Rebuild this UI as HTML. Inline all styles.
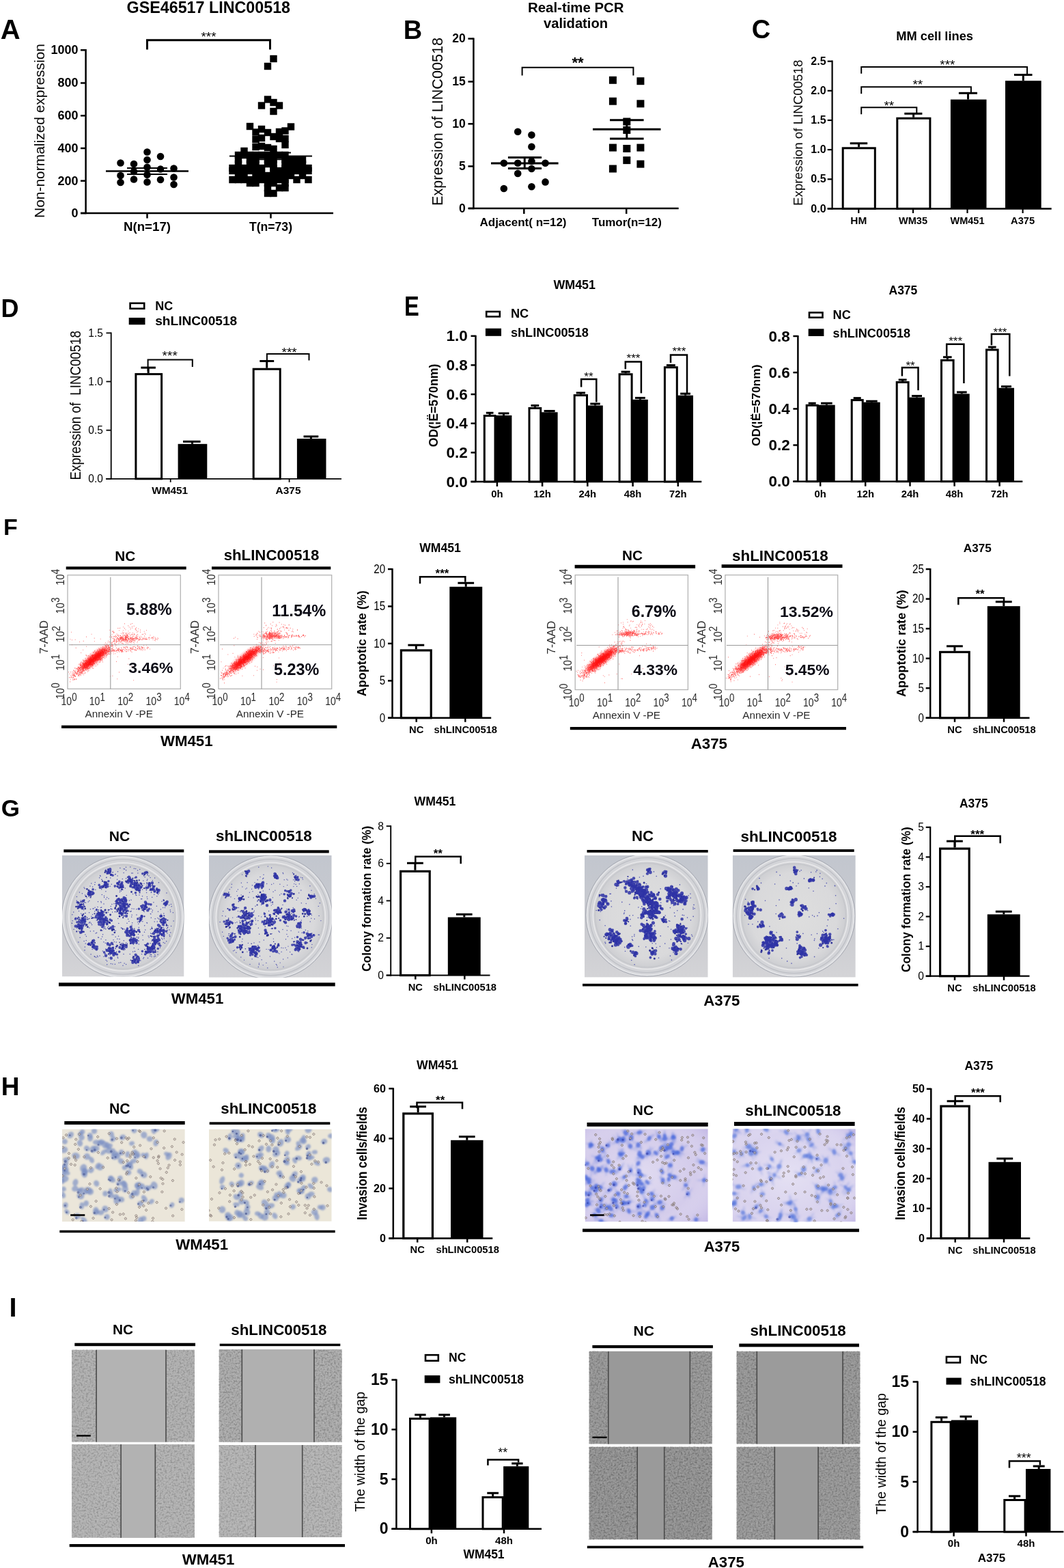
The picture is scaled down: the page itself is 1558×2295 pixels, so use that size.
<!DOCTYPE html>
<html><head><meta charset="utf-8"><title>Figure</title>
<style>
html,body{margin:0;padding:0;background:#fff;}
svg{display:block;}
text{font-family:"Liberation Sans", Arial, sans-serif;}
</style></head><body>
<svg width="1558" height="2295" viewBox="0 0 1558 2295">
<defs>
<filter id="blur2" x="-50%" y="-50%" width="200%" height="200%"><feGaussianBlur stdDeviation="3"/></filter>
<filter id="blur1" x="-50%" y="-50%" width="200%" height="200%"><feGaussianBlur stdDeviation="1.2"/></filter>
<filter id="blur05" x="-50%" y="-50%" width="200%" height="200%"><feGaussianBlur stdDeviation="0.6"/></filter>
<clipPath id="fc1"><rect x="99.0" y="841.7" width="165.3" height="166.6"/></clipPath>
<clipPath id="fc2"><rect x="320.0" y="841.7" width="165.7" height="166.6"/></clipPath>
<clipPath id="fc3"><rect x="842.2" y="841.6" width="165.2" height="167.9"/></clipPath>
<clipPath id="fc4"><rect x="1061.9" y="841.6" width="164.8" height="167.9"/></clipPath>
<linearGradient id="plbg" x1="0" y1="0" x2="0" y2="1"><stop offset="0" stop-color="#c2c6ce"/><stop offset="0.6" stop-color="#cacbd0"/><stop offset="1" stop-color="#d4d4d7"/></linearGradient>
<radialGradient id="plin" cx="0.5" cy="0.5" r="0.5"><stop offset="0" stop-color="#dedede"/><stop offset="0.8" stop-color="#d9d9db"/><stop offset="1" stop-color="#cbccd0"/></radialGradient>
<filter id="blur15" x="-50%" y="-50%" width="200%" height="200%"><feGaussianBlur stdDeviation="1.6"/></filter>
<filter id="tex" x="0" y="0" width="1" height="1" filterUnits="objectBoundingBox"><feTurbulence type="fractalNoise" baseFrequency="0.38" numOctaves="2" seed="5"/><feColorMatrix type="matrix" values="0 0 0 0 0  0 0 0 0 0  0 0 0 0 0  2.6 0 0 0 -1.15"/></filter>
<filter id="texL" x="0" y="0" width="1" height="1" filterUnits="objectBoundingBox"><feTurbulence type="fractalNoise" baseFrequency="0.4" numOctaves="2" seed="11"/><feColorMatrix type="matrix" values="0 0 0 0 1  0 0 0 0 1  0 0 0 0 1  2.4 0 0 0 -1.1"/></filter>
<clipPath id="pl21"><rect x="91.0" y="1252.0" width="178.5" height="177.4"/></clipPath>
<clipPath id="pl22"><rect x="306.0" y="1252.0" width="179.7" height="178.7"/></clipPath>
<clipPath id="pl23"><rect x="856.0" y="1252.0" width="180.7" height="178.6"/></clipPath>
<clipPath id="pl24"><rect x="1072.7" y="1252.0" width="180.1" height="178.6"/></clipPath>
<clipPath id="iv41"><rect x="91.0" y="1652.6" width="179.8" height="135.4"/></clipPath>
<clipPath id="iv42"><rect x="306.0" y="1652.7" width="179.7" height="135.0"/></clipPath>
<radialGradient id="lavg" cx="0.45" cy="0.5" r="0.75"><stop offset="0" stop-color="#ffffff" stop-opacity="0.3"/><stop offset="0.6" stop-color="#ffffff" stop-opacity="0"/><stop offset="1" stop-color="#a898dc" stop-opacity="0.45"/></radialGradient>
<clipPath id="iv43"><rect x="856.6" y="1652.3" width="180.1" height="135.9"/></clipPath>
<clipPath id="iv44"><rect x="1072.7" y="1652.3" width="180.1" height="135.9"/></clipPath>
</defs>
<rect width="1558" height="2295" fill="#fff"/>
<text x="0.8" y="57.0" font-size="40.00" font-weight="bold">A</text>
<text x="305.3" y="19.0" font-size="23.29" font-weight="bold" text-anchor="middle" textLength="239.5" lengthAdjust="spacingAndGlyphs">GSE46517 LINC00518</text>
<line x1="125.6" y1="72.0" x2="125.6" y2="313.2" stroke="#000" stroke-width="2.5"/>
<line x1="118.0" y1="312.0" x2="488.0" y2="312.0" stroke="#000" stroke-width="2.5"/>
<line x1="118.0" y1="73.3" x2="125.6" y2="73.3" stroke="#000" stroke-width="2.5"/>
<text x="114.6" y="79.2" font-size="18.00" font-weight="bold" text-anchor="end">1000</text>
<line x1="118.0" y1="121.5" x2="125.6" y2="121.5" stroke="#000" stroke-width="2.5"/>
<text x="114.6" y="127.4" font-size="18.00" font-weight="bold" text-anchor="end">800</text>
<line x1="118.0" y1="169.3" x2="125.6" y2="169.3" stroke="#000" stroke-width="2.5"/>
<text x="114.6" y="175.2" font-size="18.00" font-weight="bold" text-anchor="end">600</text>
<line x1="118.0" y1="217.0" x2="125.6" y2="217.0" stroke="#000" stroke-width="2.5"/>
<text x="114.6" y="222.9" font-size="18.00" font-weight="bold" text-anchor="end">400</text>
<line x1="118.0" y1="264.7" x2="125.6" y2="264.7" stroke="#000" stroke-width="2.5"/>
<text x="114.6" y="270.6" font-size="18.00" font-weight="bold" text-anchor="end">200</text>
<line x1="118.0" y1="312.0" x2="125.6" y2="312.0" stroke="#000" stroke-width="2.5"/>
<text x="114.6" y="317.9" font-size="18.00" font-weight="bold" text-anchor="end">0</text>
<line x1="215.5" y1="312.0" x2="215.5" y2="319.5" stroke="#000" stroke-width="2.5"/>
<line x1="396.5" y1="312.0" x2="396.5" y2="319.5" stroke="#000" stroke-width="2.5"/>
<text x="215.5" y="337.5" font-size="18.67" font-weight="bold" text-anchor="middle" textLength="69.0" lengthAdjust="spacingAndGlyphs">N(n=17)</text>
<text x="396.5" y="337.5" font-size="17.58" font-weight="bold" text-anchor="middle" textLength="63.0" lengthAdjust="spacingAndGlyphs">T(n=73)</text>
<text x="64.5" y="191.5" font-size="20.95" text-anchor="middle" textLength="255.0" lengthAdjust="spacingAndGlyphs" transform="rotate(-90 64.5 191.5)">Non-normalized expression</text>
<path d="M215.5,72.5 V58.7 H395.5 V72.5" stroke="#000" stroke-width="3.0" fill="none"/>
<text x="305.5" y="59.6" font-size="19.00" text-anchor="middle">***</text>
<circle cx="176.5" cy="238.5" r="5.3"/>
<circle cx="176.5" cy="257.0" r="5.3"/>
<circle cx="176.5" cy="267.0" r="5.3"/>
<circle cx="196.0" cy="240.0" r="5.3"/>
<circle cx="196.0" cy="251.0" r="5.3"/>
<circle cx="196.0" cy="262.5" r="5.3"/>
<circle cx="215.5" cy="222.5" r="5.3"/>
<circle cx="215.5" cy="234.0" r="5.3"/>
<circle cx="215.5" cy="244.7" r="5.3"/>
<circle cx="215.5" cy="255.7" r="5.3"/>
<circle cx="215.5" cy="266.5" r="5.3"/>
<circle cx="235.0" cy="229.0" r="5.3"/>
<circle cx="235.0" cy="247.5" r="5.3"/>
<circle cx="235.0" cy="263.0" r="5.3"/>
<circle cx="254.5" cy="246.5" r="5.3"/>
<circle cx="254.5" cy="259.5" r="5.3"/>
<circle cx="254.5" cy="270.0" r="5.3"/>
<line x1="155.0" y1="250.5" x2="276.0" y2="250.5" stroke="#000" stroke-width="2.5"/>
<line x1="186.0" y1="246.0" x2="245.0" y2="246.0" stroke="#000" stroke-width="2.0"/>
<line x1="186.0" y1="255.0" x2="245.0" y2="255.0" stroke="#000" stroke-width="2.0"/>
<line x1="215.5" y1="246.0" x2="215.5" y2="255.0" stroke="#000" stroke-width="2.0"/>
<rect x="395.3" y="80.8" width="10.4" height="10.4" fill="#000"/>
<rect x="386.8" y="91.8" width="10.4" height="10.4" fill="#000"/>
<rect x="386.8" y="140.3" width="10.4" height="10.4" fill="#000"/>
<rect x="395.3" y="144.8" width="10.4" height="10.4" fill="#000"/>
<rect x="377.8" y="149.3" width="10.4" height="10.4" fill="#000"/>
<rect x="403.8" y="149.3" width="10.4" height="10.4" fill="#000"/>
<rect x="395.3" y="157.8" width="10.4" height="10.4" fill="#000"/>
<rect x="360.8" y="179.8" width="10.4" height="10.4" fill="#000"/>
<rect x="420.8" y="180.3" width="10.4" height="10.4" fill="#000"/>
<rect x="377.8" y="183.8" width="10.4" height="10.4" fill="#000"/>
<rect x="369.3" y="188.3" width="10.4" height="10.4" fill="#000"/>
<rect x="386.8" y="188.8" width="10.4" height="10.4" fill="#000"/>
<rect x="403.8" y="187.8" width="10.4" height="10.4" fill="#000"/>
<rect x="412.3" y="186.3" width="10.4" height="10.4" fill="#000"/>
<rect x="395.3" y="194.8" width="10.4" height="10.4" fill="#000"/>
<rect x="369.3" y="198.8" width="10.4" height="10.4" fill="#000"/>
<rect x="377.8" y="196.8" width="10.4" height="10.4" fill="#000"/>
<rect x="403.8" y="197.8" width="10.4" height="10.4" fill="#000"/>
<rect x="412.3" y="197.8" width="10.4" height="10.4" fill="#000"/>
<rect x="412.3" y="206.8" width="10.4" height="10.4" fill="#000"/>
<rect x="369.3" y="209.8" width="10.4" height="10.4" fill="#000"/>
<rect x="377.8" y="208.8" width="10.4" height="10.4" fill="#000"/>
<rect x="386.8" y="210.8" width="10.4" height="10.4" fill="#000"/>
<rect x="395.3" y="212.8" width="10.4" height="10.4" fill="#000"/>
<rect x="352.3" y="215.8" width="10.4" height="10.4" fill="#000"/>
<rect x="343.8" y="221.8" width="10.4" height="10.4" fill="#000"/>
<rect x="352.3" y="221.8" width="10.4" height="10.4" fill="#000"/>
<rect x="360.8" y="221.8" width="10.4" height="10.4" fill="#000"/>
<rect x="369.3" y="221.8" width="10.4" height="10.4" fill="#000"/>
<rect x="377.8" y="221.8" width="10.4" height="10.4" fill="#000"/>
<rect x="386.8" y="221.8" width="10.4" height="10.4" fill="#000"/>
<rect x="395.3" y="221.8" width="10.4" height="10.4" fill="#000"/>
<rect x="403.8" y="221.8" width="10.4" height="10.4" fill="#000"/>
<rect x="412.3" y="221.8" width="10.4" height="10.4" fill="#000"/>
<rect x="343.8" y="228.8" width="10.4" height="10.4" fill="#000"/>
<rect x="360.8" y="228.8" width="10.4" height="10.4" fill="#000"/>
<rect x="369.3" y="228.8" width="10.4" height="10.4" fill="#000"/>
<rect x="386.8" y="228.8" width="10.4" height="10.4" fill="#000"/>
<rect x="395.3" y="228.8" width="10.4" height="10.4" fill="#000"/>
<rect x="412.3" y="228.8" width="10.4" height="10.4" fill="#000"/>
<rect x="420.8" y="228.8" width="10.4" height="10.4" fill="#000"/>
<rect x="429.3" y="228.8" width="10.4" height="10.4" fill="#000"/>
<rect x="437.8" y="228.8" width="10.4" height="10.4" fill="#000"/>
<rect x="343.8" y="234.8" width="10.4" height="10.4" fill="#000"/>
<rect x="360.8" y="234.8" width="10.4" height="10.4" fill="#000"/>
<rect x="369.3" y="234.8" width="10.4" height="10.4" fill="#000"/>
<rect x="386.8" y="234.8" width="10.4" height="10.4" fill="#000"/>
<rect x="395.3" y="234.8" width="10.4" height="10.4" fill="#000"/>
<rect x="412.3" y="234.8" width="10.4" height="10.4" fill="#000"/>
<rect x="420.8" y="234.8" width="10.4" height="10.4" fill="#000"/>
<rect x="429.3" y="234.8" width="10.4" height="10.4" fill="#000"/>
<rect x="437.8" y="234.8" width="10.4" height="10.4" fill="#000"/>
<rect x="335.3" y="240.8" width="10.4" height="10.4" fill="#000"/>
<rect x="343.8" y="240.8" width="10.4" height="10.4" fill="#000"/>
<rect x="352.3" y="240.8" width="10.4" height="10.4" fill="#000"/>
<rect x="369.3" y="240.8" width="10.4" height="10.4" fill="#000"/>
<rect x="377.8" y="240.8" width="10.4" height="10.4" fill="#000"/>
<rect x="395.3" y="240.8" width="10.4" height="10.4" fill="#000"/>
<rect x="412.3" y="240.8" width="10.4" height="10.4" fill="#000"/>
<rect x="420.8" y="240.8" width="10.4" height="10.4" fill="#000"/>
<rect x="429.3" y="240.8" width="10.4" height="10.4" fill="#000"/>
<rect x="446.3" y="240.8" width="10.4" height="10.4" fill="#000"/>
<rect x="335.3" y="244.8" width="10.4" height="10.4" fill="#000"/>
<rect x="343.8" y="244.8" width="10.4" height="10.4" fill="#000"/>
<rect x="352.3" y="244.8" width="10.4" height="10.4" fill="#000"/>
<rect x="360.8" y="244.8" width="10.4" height="10.4" fill="#000"/>
<rect x="369.3" y="244.8" width="10.4" height="10.4" fill="#000"/>
<rect x="377.8" y="244.8" width="10.4" height="10.4" fill="#000"/>
<rect x="395.3" y="244.8" width="10.4" height="10.4" fill="#000"/>
<rect x="403.8" y="244.8" width="10.4" height="10.4" fill="#000"/>
<rect x="412.3" y="244.8" width="10.4" height="10.4" fill="#000"/>
<rect x="420.8" y="244.8" width="10.4" height="10.4" fill="#000"/>
<rect x="429.3" y="244.8" width="10.4" height="10.4" fill="#000"/>
<rect x="437.8" y="244.8" width="10.4" height="10.4" fill="#000"/>
<rect x="446.3" y="244.8" width="10.4" height="10.4" fill="#000"/>
<rect x="343.8" y="251.8" width="10.4" height="10.4" fill="#000"/>
<rect x="352.3" y="251.8" width="10.4" height="10.4" fill="#000"/>
<rect x="369.3" y="251.8" width="10.4" height="10.4" fill="#000"/>
<rect x="377.8" y="251.8" width="10.4" height="10.4" fill="#000"/>
<rect x="386.8" y="251.8" width="10.4" height="10.4" fill="#000"/>
<rect x="395.3" y="251.8" width="10.4" height="10.4" fill="#000"/>
<rect x="403.8" y="251.8" width="10.4" height="10.4" fill="#000"/>
<rect x="412.3" y="251.8" width="10.4" height="10.4" fill="#000"/>
<rect x="420.8" y="251.8" width="10.4" height="10.4" fill="#000"/>
<rect x="437.8" y="251.8" width="10.4" height="10.4" fill="#000"/>
<rect x="335.3" y="257.8" width="10.4" height="10.4" fill="#000"/>
<rect x="343.8" y="257.8" width="10.4" height="10.4" fill="#000"/>
<rect x="352.3" y="257.8" width="10.4" height="10.4" fill="#000"/>
<rect x="360.8" y="257.8" width="10.4" height="10.4" fill="#000"/>
<rect x="369.3" y="257.8" width="10.4" height="10.4" fill="#000"/>
<rect x="377.8" y="257.8" width="10.4" height="10.4" fill="#000"/>
<rect x="386.8" y="257.8" width="10.4" height="10.4" fill="#000"/>
<rect x="395.3" y="257.8" width="10.4" height="10.4" fill="#000"/>
<rect x="403.8" y="257.8" width="10.4" height="10.4" fill="#000"/>
<rect x="412.3" y="257.8" width="10.4" height="10.4" fill="#000"/>
<rect x="429.3" y="257.8" width="10.4" height="10.4" fill="#000"/>
<rect x="446.3" y="257.8" width="10.4" height="10.4" fill="#000"/>
<rect x="360.8" y="262.8" width="10.4" height="10.4" fill="#000"/>
<rect x="369.3" y="262.8" width="10.4" height="10.4" fill="#000"/>
<rect x="386.8" y="262.8" width="10.4" height="10.4" fill="#000"/>
<rect x="395.3" y="262.8" width="10.4" height="10.4" fill="#000"/>
<rect x="412.3" y="262.8" width="10.4" height="10.4" fill="#000"/>
<rect x="386.8" y="269.8" width="10.4" height="10.4" fill="#000"/>
<rect x="403.8" y="269.8" width="10.4" height="10.4" fill="#000"/>
<rect x="412.3" y="269.8" width="10.4" height="10.4" fill="#000"/>
<rect x="386.8" y="277.8" width="10.4" height="10.4" fill="#000"/>
<rect x="395.3" y="277.8" width="10.4" height="10.4" fill="#000"/>
<line x1="336.0" y1="228.6" x2="457.0" y2="228.6" stroke="#000" stroke-width="2.0"/>
<line x1="372.0" y1="223.4" x2="426.0" y2="223.4" stroke="#000" stroke-width="2.0"/>
<line x1="372.0" y1="233.2" x2="426.0" y2="233.2" stroke="#000" stroke-width="2.0"/>
<text x="590.7" y="56.6" font-size="38.00" font-weight="bold">B</text>
<text x="843.3" y="18.0" font-size="20.40" font-weight="bold" text-anchor="middle" textLength="140.6" lengthAdjust="spacingAndGlyphs">Real-time PCR</text>
<text x="843.0" y="41.0" font-size="20.14" font-weight="bold" text-anchor="middle" textLength="94.0" lengthAdjust="spacingAndGlyphs">validation</text>
<line x1="693.4" y1="55.5" x2="693.4" y2="306.2" stroke="#000" stroke-width="2.5"/>
<line x1="686.0" y1="305.0" x2="993.7" y2="305.0" stroke="#000" stroke-width="2.5"/>
<line x1="685.4" y1="56.6" x2="693.4" y2="56.6" stroke="#000" stroke-width="2.5"/>
<text x="681.8" y="62.3" font-size="17.50" font-weight="bold" text-anchor="end">20</text>
<line x1="685.4" y1="119.5" x2="693.4" y2="119.5" stroke="#000" stroke-width="2.5"/>
<text x="681.8" y="125.2" font-size="17.50" font-weight="bold" text-anchor="end">15</text>
<line x1="685.4" y1="181.3" x2="693.4" y2="181.3" stroke="#000" stroke-width="2.5"/>
<text x="681.8" y="187.0" font-size="17.50" font-weight="bold" text-anchor="end">10</text>
<line x1="685.4" y1="243.4" x2="693.4" y2="243.4" stroke="#000" stroke-width="2.5"/>
<text x="681.8" y="249.1" font-size="17.50" font-weight="bold" text-anchor="end">5</text>
<line x1="685.4" y1="305.0" x2="693.4" y2="305.0" stroke="#000" stroke-width="2.5"/>
<text x="681.8" y="310.7" font-size="17.50" font-weight="bold" text-anchor="end">0</text>
<line x1="767.3" y1="305.0" x2="767.3" y2="313.0" stroke="#000" stroke-width="2.5"/>
<line x1="917.2" y1="305.0" x2="917.2" y2="313.0" stroke="#000" stroke-width="2.5"/>
<text x="766.0" y="331.0" font-size="16.99" font-weight="bold" text-anchor="middle" textLength="127.0" lengthAdjust="spacingAndGlyphs">Adjacent( n=12)</text>
<text x="917.8" y="331.0" font-size="16.77" font-weight="bold" text-anchor="middle" textLength="102.0" lengthAdjust="spacingAndGlyphs">Tumor(n=12)</text>
<text x="647.5" y="178.0" font-size="21.59" text-anchor="middle" textLength="246.0" lengthAdjust="spacingAndGlyphs" transform="rotate(-90 647.5 178.0)">Expression of LINC00518</text>
<path d="M764.6,110.4 V98.8 H927.4 V110.4" stroke="#000" stroke-width="2.0" fill="none"/>
<text x="846.0" y="99.3" font-size="22.00" font-weight="bold" text-anchor="middle">**</text>
<circle cx="758.2" cy="192.7" r="5.3"/>
<circle cx="778.4" cy="197.6" r="5.3"/>
<circle cx="778.4" cy="214.7" r="5.3"/>
<circle cx="737.8" cy="238.8" r="5.3"/>
<circle cx="758.2" cy="238.8" r="5.3"/>
<circle cx="778.4" cy="236.0" r="5.3"/>
<circle cx="798.5" cy="238.8" r="5.3"/>
<circle cx="758.2" cy="253.9" r="5.3"/>
<circle cx="778.4" cy="247.0" r="5.3"/>
<circle cx="798.5" cy="266.4" r="5.3"/>
<circle cx="737.8" cy="276.0" r="5.3"/>
<circle cx="778.4" cy="273.2" r="5.3"/>
<line x1="719.0" y1="239.0" x2="817.6" y2="239.0" stroke="#000" stroke-width="3.0"/>
<line x1="743.9" y1="230.5" x2="793.0" y2="230.5" stroke="#000" stroke-width="3.0"/>
<line x1="743.9" y1="246.5" x2="793.0" y2="246.5" stroke="#000" stroke-width="3.0"/>
<line x1="768.2" y1="230.5" x2="768.2" y2="246.5" stroke="#000" stroke-width="3.0"/>
<rect x="891.9" y="111.8" width="11.0" height="11.0" fill="#000"/>
<rect x="932.4" y="113.2" width="11.0" height="11.0" fill="#000"/>
<rect x="891.9" y="142.7" width="11.0" height="11.0" fill="#000"/>
<rect x="932.4" y="146.3" width="11.0" height="11.0" fill="#000"/>
<rect x="912.3" y="172.5" width="11.0" height="11.0" fill="#000"/>
<rect x="912.3" y="184.9" width="11.0" height="11.0" fill="#000"/>
<rect x="891.9" y="210.6" width="11.0" height="11.0" fill="#000"/>
<rect x="912.3" y="212.0" width="11.0" height="11.0" fill="#000"/>
<rect x="932.4" y="210.6" width="11.0" height="11.0" fill="#000"/>
<rect x="912.3" y="229.1" width="11.0" height="11.0" fill="#000"/>
<rect x="932.4" y="234.6" width="11.0" height="11.0" fill="#000"/>
<rect x="891.9" y="241.5" width="11.0" height="11.0" fill="#000"/>
<line x1="868.0" y1="189.3" x2="967.5" y2="189.3" stroke="#000" stroke-width="3.0"/>
<line x1="893.0" y1="175.8" x2="942.6" y2="175.8" stroke="#000" stroke-width="3.0"/>
<line x1="893.0" y1="202.9" x2="942.6" y2="202.9" stroke="#000" stroke-width="3.0"/>
<line x1="917.8" y1="175.8" x2="917.8" y2="202.9" stroke="#000" stroke-width="3.0"/>
<text x="1100.8" y="55.8" font-size="38.00" font-weight="bold">C</text>
<text x="1368.6" y="59.0" font-size="18.27" font-weight="bold" text-anchor="middle" textLength="112.7" lengthAdjust="spacingAndGlyphs">MM cell lines</text>
<line x1="1218.6" y1="88.5" x2="1218.6" y2="306.5" stroke="#000" stroke-width="2.2"/>
<line x1="1211.7" y1="305.4" x2="1539.7" y2="305.4" stroke="#000" stroke-width="2.5"/>
<line x1="1211.7" y1="89.7" x2="1218.6" y2="89.7" stroke="#000" stroke-width="2.2"/>
<text x="1209.6" y="94.9" font-size="16.00" font-weight="bold" text-anchor="end">2.5</text>
<line x1="1211.7" y1="132.8" x2="1218.6" y2="132.8" stroke="#000" stroke-width="2.2"/>
<text x="1209.6" y="138.0" font-size="16.00" font-weight="bold" text-anchor="end">2.0</text>
<line x1="1211.7" y1="176.0" x2="1218.6" y2="176.0" stroke="#000" stroke-width="2.2"/>
<text x="1209.6" y="181.1" font-size="16.00" font-weight="bold" text-anchor="end">1.5</text>
<line x1="1211.7" y1="219.1" x2="1218.6" y2="219.1" stroke="#000" stroke-width="2.2"/>
<text x="1209.6" y="224.3" font-size="16.00" font-weight="bold" text-anchor="end">1.0</text>
<line x1="1211.7" y1="262.3" x2="1218.6" y2="262.3" stroke="#000" stroke-width="2.2"/>
<text x="1209.6" y="267.4" font-size="16.00" font-weight="bold" text-anchor="end">0.5</text>
<line x1="1211.7" y1="305.4" x2="1218.6" y2="305.4" stroke="#000" stroke-width="2.2"/>
<text x="1209.6" y="310.6" font-size="16.00" font-weight="bold" text-anchor="end">0.0</text>
<rect x="1234.2" y="216.8" width="47.1" height="88.6" fill="#fff" stroke="#000" stroke-width="3.0"/>
<rect x="1313.8" y="173.2" width="48.1" height="132.2" fill="#fff" stroke="#000" stroke-width="3.0"/>
<rect x="1391.9" y="145.6" width="52.6" height="159.8" fill="#000"/>
<rect x="1472.0" y="118.2" width="52.7" height="187.2" fill="#000"/>
<line x1="1257.5" y1="215.3" x2="1257.5" y2="209.8" stroke="#000" stroke-width="3.0"/>
<line x1="1244.7" y1="209.8" x2="1270.2" y2="209.8" stroke="#000" stroke-width="3.0"/>
<line x1="1337.6" y1="171.7" x2="1337.6" y2="166.3" stroke="#000" stroke-width="3.0"/>
<line x1="1324.3" y1="166.3" x2="1350.4" y2="166.3" stroke="#000" stroke-width="3.0"/>
<line x1="1417.5" y1="145.6" x2="1417.5" y2="136.3" stroke="#000" stroke-width="3.0"/>
<line x1="1403.9" y1="136.3" x2="1431.0" y2="136.3" stroke="#000" stroke-width="3.0"/>
<line x1="1498.3" y1="118.2" x2="1498.3" y2="109.5" stroke="#000" stroke-width="3.0"/>
<line x1="1485.0" y1="109.5" x2="1511.5" y2="109.5" stroke="#000" stroke-width="3.0"/>
<path d="M1261.2,167.2 V157.3 H1342.3 V166" stroke="#000" stroke-width="2.0" fill="none"/>
<path d="M1261.2,137.2 V127.2 H1421.9 V136" stroke="#000" stroke-width="2.0" fill="none"/>
<path d="M1261.2,107.7 V98.1 H1504 V109" stroke="#000" stroke-width="2.0" fill="none"/>
<text x="1301.8" y="160.8" font-size="19.00" text-anchor="middle">**</text>
<text x="1343.8" y="129.8" font-size="19.00" text-anchor="middle">**</text>
<text x="1387.4" y="100.7" font-size="19.00" text-anchor="middle">***</text>
<line x1="1257.3" y1="305.4" x2="1257.3" y2="312.0" stroke="#000" stroke-width="2.2"/>
<text x="1257.3" y="327.9" font-size="15.43" font-weight="bold" text-anchor="middle" textLength="24.0" lengthAdjust="spacingAndGlyphs">HM</text>
<line x1="1337.0" y1="305.4" x2="1337.0" y2="312.0" stroke="#000" stroke-width="2.2"/>
<text x="1337.0" y="327.9" font-size="14.54" font-weight="bold" text-anchor="middle" textLength="42.0" lengthAdjust="spacingAndGlyphs">WM35</text>
<line x1="1416.5" y1="305.4" x2="1416.5" y2="312.0" stroke="#000" stroke-width="2.2"/>
<text x="1416.5" y="327.9" font-size="14.51" font-weight="bold" text-anchor="middle" textLength="50.0" lengthAdjust="spacingAndGlyphs">WM451</text>
<line x1="1497.6" y1="305.4" x2="1497.6" y2="312.0" stroke="#000" stroke-width="2.2"/>
<text x="1497.6" y="327.9" font-size="14.64" font-weight="bold" text-anchor="middle" textLength="35.0" lengthAdjust="spacingAndGlyphs">A375</text>
<text x="1175.3" y="194.3" font-size="18.72" text-anchor="middle" textLength="213.3" lengthAdjust="spacingAndGlyphs" transform="rotate(-90 1175.3 194.3)">Expression of LINC00518</text>
<text x="1.6" y="464.0" font-size="36.00" font-weight="bold">D</text>
<rect x="190.6" y="443.8" width="20.6" height="7.9" fill="#fff" stroke="#000" stroke-width="2.6"/>
<text x="227.2" y="453.7" font-size="18.00" font-weight="bold" textLength="26.0" lengthAdjust="spacingAndGlyphs">NC</text>
<rect x="188.7" y="465.0" width="23.8" height="10.2" fill="#000"/>
<text x="227.2" y="475.5" font-size="19.11" font-weight="bold" textLength="120.0" lengthAdjust="spacingAndGlyphs">shLINC00518</text>
<line x1="162.7" y1="486.5" x2="162.7" y2="701.5" stroke="#000" stroke-width="1.8"/>
<line x1="155.0" y1="700.8" x2="500.0" y2="700.8" stroke="#000" stroke-width="1.8"/>
<line x1="155.5" y1="487.4" x2="162.7" y2="487.4" stroke="#000" stroke-width="1.8"/>
<text x="150.8" y="492.7" font-size="16.50" text-anchor="end" textLength="21.5" lengthAdjust="spacingAndGlyphs">1.5</text>
<line x1="155.5" y1="558.5" x2="162.7" y2="558.5" stroke="#000" stroke-width="1.8"/>
<text x="150.8" y="563.9" font-size="16.50" text-anchor="end" textLength="21.5" lengthAdjust="spacingAndGlyphs">1.0</text>
<line x1="155.5" y1="629.7" x2="162.7" y2="629.7" stroke="#000" stroke-width="1.8"/>
<text x="150.8" y="635.0" font-size="16.50" text-anchor="end" textLength="21.5" lengthAdjust="spacingAndGlyphs">0.5</text>
<line x1="155.5" y1="700.8" x2="162.7" y2="700.8" stroke="#000" stroke-width="1.8"/>
<text x="150.8" y="706.1" font-size="16.50" text-anchor="end" textLength="21.5" lengthAdjust="spacingAndGlyphs">0.0</text>
<rect x="198.9" y="547.6" width="37.7" height="153.2" fill="#fff" stroke="#000" stroke-width="3.0"/>
<rect x="260.6" y="649.8" width="42.7" height="51.0" fill="#000"/>
<rect x="371.2" y="540.2" width="39.0" height="160.6" fill="#fff" stroke="#000" stroke-width="3.0"/>
<rect x="434.9" y="642.1" width="42.6" height="58.7" fill="#000"/>
<line x1="217.2" y1="546.1" x2="217.2" y2="538.1" stroke="#000" stroke-width="3.0"/>
<line x1="206.4" y1="538.1" x2="227.9" y2="538.1" stroke="#000" stroke-width="3.0"/>
<line x1="281.5" y1="649.8" x2="281.5" y2="646.3" stroke="#000" stroke-width="3.0"/>
<line x1="268.0" y1="646.3" x2="293.6" y2="646.3" stroke="#000" stroke-width="3.0"/>
<line x1="390.7" y1="538.7" x2="390.7" y2="528.5" stroke="#000" stroke-width="3.0"/>
<line x1="380.3" y1="528.5" x2="401.2" y2="528.5" stroke="#000" stroke-width="3.0"/>
<line x1="455.4" y1="642.1" x2="455.4" y2="638.9" stroke="#000" stroke-width="3.0"/>
<line x1="444.5" y1="638.9" x2="466.3" y2="638.9" stroke="#000" stroke-width="3.0"/>
<path d="M216.6,543.6 V526.5 H281.8 V537.1" stroke="#000" stroke-width="2.0" fill="none"/>
<path d="M390.9,527.5 V517.9 H452.5 V527.5" stroke="#000" stroke-width="2.0" fill="none"/>
<text x="248.7" y="527.1" font-size="19.00" text-anchor="middle">***</text>
<text x="423.6" y="522.1" font-size="19.00" text-anchor="middle">***</text>
<line x1="249.7" y1="700.8" x2="249.7" y2="705.8" stroke="#000" stroke-width="1.8"/>
<line x1="423.6" y1="700.8" x2="423.6" y2="705.8" stroke="#000" stroke-width="1.8"/>
<text x="248.7" text-anchor="middle" y="723.3" font-size="15.38" font-weight="bold" textLength="53.0" lengthAdjust="spacingAndGlyphs">WM451</text>
<text x="422.0" y="723.3" font-size="15.48" font-weight="bold" text-anchor="middle" textLength="37.0" lengthAdjust="spacingAndGlyphs">A375</text>
<text x="117.6" y="593.2" font-size="22.09" text-anchor="middle" textLength="218.4" lengthAdjust="spacingAndGlyphs" transform="rotate(-90 117.6 593.2)" xml:space="preserve">Expression of  LINC00518</text>
<line x1="696.5" y1="490.8" x2="696.5" y2="706.0" stroke="#000" stroke-width="2.5"/>
<line x1="689.5" y1="705.0" x2="1027.3" y2="705.0" stroke="#000" stroke-width="2.5"/>
<line x1="689.5" y1="491.8" x2="696.5" y2="491.8" stroke="#000" stroke-width="2.5"/>
<text x="684.7" y="499.3" font-size="22.50" font-weight="bold" text-anchor="end">1.0</text>
<line x1="689.5" y1="534.4" x2="696.5" y2="534.4" stroke="#000" stroke-width="2.5"/>
<text x="684.7" y="541.9" font-size="22.50" font-weight="bold" text-anchor="end">0.8</text>
<line x1="689.5" y1="577.1" x2="696.5" y2="577.1" stroke="#000" stroke-width="2.5"/>
<text x="684.7" y="584.6" font-size="22.50" font-weight="bold" text-anchor="end">0.6</text>
<line x1="689.5" y1="619.7" x2="696.5" y2="619.7" stroke="#000" stroke-width="2.5"/>
<text x="684.7" y="627.2" font-size="22.50" font-weight="bold" text-anchor="end">0.4</text>
<line x1="689.5" y1="662.4" x2="696.5" y2="662.4" stroke="#000" stroke-width="2.5"/>
<text x="684.7" y="669.9" font-size="22.50" font-weight="bold" text-anchor="end">0.2</text>
<line x1="689.5" y1="705.0" x2="696.5" y2="705.0" stroke="#000" stroke-width="2.5"/>
<text x="684.7" y="712.5" font-size="22.50" font-weight="bold" text-anchor="end">0.0</text>
<rect x="709.3" y="608.5" width="15.7" height="96.5" fill="#fff" stroke="#000" stroke-width="3.0"/>
<rect x="725.7" y="608.0" width="23.7" height="97.0" fill="#000"/>
<line x1="717.1" y1="607.0" x2="717.1" y2="604.3" stroke="#000" stroke-width="3.0"/>
<line x1="711.8" y1="604.3" x2="722.5" y2="604.3" stroke="#000" stroke-width="3.0"/>
<line x1="737.5" y1="608.0" x2="737.5" y2="605.0" stroke="#000" stroke-width="3.0"/>
<line x1="729.7" y1="605.0" x2="745.4" y2="605.0" stroke="#000" stroke-width="3.0"/>
<rect x="775.0" y="597.4" width="16.7" height="107.6" fill="#fff" stroke="#000" stroke-width="3.0"/>
<rect x="792.6" y="603.3" width="24.0" height="101.7" fill="#000"/>
<line x1="783.4" y1="595.9" x2="783.4" y2="593.5" stroke="#000" stroke-width="3.0"/>
<line x1="777.5" y1="593.5" x2="789.2" y2="593.5" stroke="#000" stroke-width="3.0"/>
<line x1="804.6" y1="603.3" x2="804.6" y2="601.5" stroke="#000" stroke-width="3.0"/>
<line x1="796.6" y1="601.5" x2="812.6" y2="601.5" stroke="#000" stroke-width="3.0"/>
<rect x="841.2" y="578.6" width="18.3" height="126.4" fill="#fff" stroke="#000" stroke-width="3.0"/>
<rect x="860.3" y="593.5" width="22.5" height="111.5" fill="#000"/>
<line x1="850.4" y1="577.1" x2="850.4" y2="575.0" stroke="#000" stroke-width="3.0"/>
<line x1="843.7" y1="575.0" x2="857.0" y2="575.0" stroke="#000" stroke-width="3.0"/>
<line x1="871.5" y1="593.5" x2="871.5" y2="591.0" stroke="#000" stroke-width="3.0"/>
<line x1="864.3" y1="591.0" x2="878.8" y2="591.0" stroke="#000" stroke-width="3.0"/>
<rect x="907.1" y="547.8" width="18.0" height="157.2" fill="#fff" stroke="#000" stroke-width="3.0"/>
<rect x="926.0" y="584.8" width="22.8" height="120.2" fill="#000"/>
<line x1="916.1" y1="546.3" x2="916.1" y2="544.2" stroke="#000" stroke-width="3.0"/>
<line x1="909.6" y1="544.2" x2="922.6" y2="544.2" stroke="#000" stroke-width="3.0"/>
<line x1="937.4" y1="584.8" x2="937.4" y2="582.4" stroke="#000" stroke-width="3.0"/>
<line x1="930.0" y1="582.4" x2="944.8" y2="582.4" stroke="#000" stroke-width="3.0"/>
<rect x="973.4" y="537.7" width="17.9" height="167.3" fill="#fff" stroke="#000" stroke-width="3.0"/>
<rect x="992.2" y="578.7" width="22.8" height="126.3" fill="#000"/>
<line x1="982.3" y1="536.2" x2="982.3" y2="534.6" stroke="#000" stroke-width="3.0"/>
<line x1="975.9" y1="534.6" x2="988.8" y2="534.6" stroke="#000" stroke-width="3.0"/>
<line x1="1003.6" y1="578.7" x2="1003.6" y2="576.2" stroke="#000" stroke-width="3.0"/>
<line x1="996.2" y1="576.2" x2="1011.0" y2="576.2" stroke="#000" stroke-width="3.0"/>
<path d="M851.1,566.4 V555 H873.3 V588.5" stroke="#000" stroke-width="2.5" fill="none"/>
<text x="861.9" y="556.5" font-size="17.00" text-anchor="middle">**</text>
<path d="M915.8,540.2 V529.4 H938.9 V575.6" stroke="#000" stroke-width="2.5" fill="none"/>
<text x="927.5" y="529.7" font-size="17.00" text-anchor="middle">***</text>
<path d="M982,531 V519.5 H1006 V575.6" stroke="#000" stroke-width="2.5" fill="none"/>
<text x="994.4" y="519.5" font-size="17.00" text-anchor="middle">***</text>
<line x1="727.9" y1="705.0" x2="727.9" y2="712.0" stroke="#000" stroke-width="2.5"/>
<text x="727.9" y="727.6" font-size="14.80" font-weight="bold" text-anchor="middle" textLength="17.3" lengthAdjust="spacingAndGlyphs">0h</text>
<line x1="794.1" y1="705.0" x2="794.1" y2="712.0" stroke="#000" stroke-width="2.5"/>
<text x="794.1" y="727.6" font-size="14.80" font-weight="bold" text-anchor="middle" textLength="25.5" lengthAdjust="spacingAndGlyphs">12h</text>
<line x1="860.3" y1="705.0" x2="860.3" y2="712.0" stroke="#000" stroke-width="2.5"/>
<text x="860.3" y="727.6" font-size="14.80" font-weight="bold" text-anchor="middle" textLength="25.5" lengthAdjust="spacingAndGlyphs">24h</text>
<line x1="926.6" y1="705.0" x2="926.6" y2="712.0" stroke="#000" stroke-width="2.5"/>
<text x="926.6" y="727.6" font-size="14.80" font-weight="bold" text-anchor="middle" textLength="25.5" lengthAdjust="spacingAndGlyphs">48h</text>
<line x1="992.8" y1="705.0" x2="992.8" y2="712.0" stroke="#000" stroke-width="2.5"/>
<text x="992.8" y="727.6" font-size="14.80" font-weight="bold" text-anchor="middle" textLength="25.5" lengthAdjust="spacingAndGlyphs">72h</text>
<text x="841.2" y="423.1" font-size="17.88" font-weight="bold" text-anchor="middle" textLength="61.6" lengthAdjust="spacingAndGlyphs">WM451</text>
<rect x="712.2" y="456.1" width="19.6" height="7.3" fill="#fff" stroke="#000" stroke-width="2.6"/>
<text x="747.9" y="465.3" font-size="18.15" font-weight="bold" textLength="26.2" lengthAdjust="spacingAndGlyphs">NC</text>
<rect x="710.9" y="480.7" width="23.1" height="11.1" fill="#000"/>
<text x="747.9" y="493.0" font-size="18.15" font-weight="bold" textLength="114.0" lengthAdjust="spacingAndGlyphs">shLINC00518</text>
<text x="641.0" y="593.4" font-size="17.73" font-weight="bold" text-anchor="middle" textLength="121.7" lengthAdjust="spacingAndGlyphs" transform="rotate(-90 641.0 593.4)">OD(¦Ë=570nm)</text>
<line x1="1168.4" y1="491.0" x2="1168.4" y2="705.7" stroke="#000" stroke-width="2.5"/>
<line x1="1161.4" y1="704.7" x2="1497.3" y2="704.7" stroke="#000" stroke-width="2.5"/>
<line x1="1161.4" y1="492.0" x2="1168.4" y2="492.0" stroke="#000" stroke-width="2.5"/>
<text x="1156.7" y="499.5" font-size="22.50" font-weight="bold" text-anchor="end">0.8</text>
<line x1="1161.4" y1="545.2" x2="1168.4" y2="545.2" stroke="#000" stroke-width="2.5"/>
<text x="1156.7" y="552.7" font-size="22.50" font-weight="bold" text-anchor="end">0.6</text>
<line x1="1161.4" y1="598.4" x2="1168.4" y2="598.4" stroke="#000" stroke-width="2.5"/>
<text x="1156.7" y="605.9" font-size="22.50" font-weight="bold" text-anchor="end">0.4</text>
<line x1="1161.4" y1="651.5" x2="1168.4" y2="651.5" stroke="#000" stroke-width="2.5"/>
<text x="1156.7" y="659.0" font-size="22.50" font-weight="bold" text-anchor="end">0.2</text>
<line x1="1161.4" y1="704.7" x2="1168.4" y2="704.7" stroke="#000" stroke-width="2.5"/>
<text x="1156.7" y="712.2" font-size="22.50" font-weight="bold" text-anchor="end">0.0</text>
<rect x="1181.2" y="593.3" width="16.0" height="111.4" fill="#fff" stroke="#000" stroke-width="3.0"/>
<rect x="1198.1" y="592.7" width="24.6" height="112.0" fill="#000"/>
<line x1="1189.2" y1="591.8" x2="1189.2" y2="590.2" stroke="#000" stroke-width="3.0"/>
<line x1="1183.7" y1="590.2" x2="1194.7" y2="590.2" stroke="#000" stroke-width="3.0"/>
<line x1="1210.4" y1="592.7" x2="1210.4" y2="590.2" stroke="#000" stroke-width="3.0"/>
<line x1="1202.1" y1="590.2" x2="1218.7" y2="590.2" stroke="#000" stroke-width="3.0"/>
<rect x="1247.2" y="585.6" width="16.0" height="119.1" fill="#fff" stroke="#000" stroke-width="3.0"/>
<rect x="1264.1" y="588.7" width="24.6" height="116.0" fill="#000"/>
<line x1="1255.2" y1="584.1" x2="1255.2" y2="582.6" stroke="#000" stroke-width="3.0"/>
<line x1="1249.7" y1="582.6" x2="1260.7" y2="582.6" stroke="#000" stroke-width="3.0"/>
<line x1="1276.4" y1="588.7" x2="1276.4" y2="587.2" stroke="#000" stroke-width="3.0"/>
<line x1="1268.1" y1="587.2" x2="1284.7" y2="587.2" stroke="#000" stroke-width="3.0"/>
<rect x="1313.2" y="559.5" width="16.9" height="145.2" fill="#fff" stroke="#000" stroke-width="3.0"/>
<rect x="1331.0" y="581.6" width="23.0" height="123.1" fill="#000"/>
<line x1="1321.7" y1="558.0" x2="1321.7" y2="555.9" stroke="#000" stroke-width="3.0"/>
<line x1="1315.7" y1="555.9" x2="1327.6" y2="555.9" stroke="#000" stroke-width="3.0"/>
<line x1="1342.5" y1="581.6" x2="1342.5" y2="579.5" stroke="#000" stroke-width="3.0"/>
<line x1="1335.0" y1="579.5" x2="1350.0" y2="579.5" stroke="#000" stroke-width="3.0"/>
<rect x="1378.5" y="527.3" width="17.6" height="177.4" fill="#fff" stroke="#000" stroke-width="3.0"/>
<rect x="1397.0" y="576.4" width="22.7" height="128.3" fill="#000"/>
<line x1="1387.3" y1="525.8" x2="1387.3" y2="522.7" stroke="#000" stroke-width="3.0"/>
<line x1="1381.0" y1="522.7" x2="1393.6" y2="522.7" stroke="#000" stroke-width="3.0"/>
<line x1="1408.3" y1="576.4" x2="1408.3" y2="574.0" stroke="#000" stroke-width="3.0"/>
<line x1="1401.0" y1="574.0" x2="1415.7" y2="574.0" stroke="#000" stroke-width="3.0"/>
<rect x="1444.5" y="512.0" width="16.6" height="192.7" fill="#fff" stroke="#000" stroke-width="3.0"/>
<rect x="1462.0" y="567.8" width="23.0" height="136.9" fill="#000"/>
<line x1="1452.8" y1="510.5" x2="1452.8" y2="508.0" stroke="#000" stroke-width="3.0"/>
<line x1="1447.0" y1="508.0" x2="1458.6" y2="508.0" stroke="#000" stroke-width="3.0"/>
<line x1="1473.5" y1="567.8" x2="1473.5" y2="565.7" stroke="#000" stroke-width="3.0"/>
<line x1="1466.0" y1="565.7" x2="1481.0" y2="565.7" stroke="#000" stroke-width="3.0"/>
<path d="M1320.9,550.4 V538.1 H1344.5 V571.2" stroke="#000" stroke-width="2.5" fill="none"/>
<text x="1333.1" y="540.6" font-size="17.00" text-anchor="middle">**</text>
<path d="M1386.2,521.2 V503.7 H1411.4 V561.1" stroke="#000" stroke-width="2.5" fill="none"/>
<text x="1399.1" y="505.3" font-size="17.00" text-anchor="middle">***</text>
<path d="M1451.9,505.2 V489 H1478.3 V550.4" stroke="#000" stroke-width="2.5" fill="none"/>
<text x="1464.5" y="492.1" font-size="17.00" text-anchor="middle">***</text>
<line x1="1201.2" y1="704.7" x2="1201.2" y2="711.7" stroke="#000" stroke-width="2.5"/>
<text x="1201.2" y="727.6" font-size="14.80" font-weight="bold" text-anchor="middle" textLength="17.3" lengthAdjust="spacingAndGlyphs">0h</text>
<line x1="1267.2" y1="704.7" x2="1267.2" y2="711.7" stroke="#000" stroke-width="2.5"/>
<text x="1267.2" y="727.6" font-size="14.80" font-weight="bold" text-anchor="middle" textLength="25.5" lengthAdjust="spacingAndGlyphs">12h</text>
<line x1="1332.5" y1="704.7" x2="1332.5" y2="711.7" stroke="#000" stroke-width="2.5"/>
<text x="1332.5" y="727.6" font-size="14.80" font-weight="bold" text-anchor="middle" textLength="25.5" lengthAdjust="spacingAndGlyphs">24h</text>
<line x1="1397.6" y1="704.7" x2="1397.6" y2="711.7" stroke="#000" stroke-width="2.5"/>
<text x="1397.6" y="727.6" font-size="14.80" font-weight="bold" text-anchor="middle" textLength="25.5" lengthAdjust="spacingAndGlyphs">48h</text>
<line x1="1463.6" y1="704.7" x2="1463.6" y2="711.7" stroke="#000" stroke-width="2.5"/>
<text x="1463.6" y="727.6" font-size="14.80" font-weight="bold" text-anchor="middle" textLength="25.5" lengthAdjust="spacingAndGlyphs">72h</text>
<text x="1322.4" y="430.7" font-size="17.48" font-weight="bold" text-anchor="middle" textLength="41.8" lengthAdjust="spacingAndGlyphs">A375</text>
<rect x="1185.0" y="457.5" width="19.5" height="7.2" fill="#fff" stroke="#000" stroke-width="2.6"/>
<text x="1219.6" y="466.9" font-size="18.07" font-weight="bold" textLength="26.1" lengthAdjust="spacingAndGlyphs">NC</text>
<rect x="1183.7" y="481.3" width="22.7" height="10.7" fill="#000"/>
<text x="1219.6" y="493.6" font-size="18.07" font-weight="bold" textLength="113.5" lengthAdjust="spacingAndGlyphs">shLINC00518</text>
<text x="1113.3" y="593.3" font-size="17.42" font-weight="bold" text-anchor="middle" textLength="119.6" lengthAdjust="spacingAndGlyphs" transform="rotate(-90 1113.3 593.3)">OD(¦Ë=570nm)</text>
<text x="592.0" y="461.6" font-size="40.00" font-weight="bold" textLength="21.8" lengthAdjust="spacingAndGlyphs">E</text>
<text x="5.0" y="783.3" font-size="34.00" font-weight="bold">F</text>
<text x="183.3" y="820.7" font-size="20.77" font-weight="bold" text-anchor="middle" textLength="30.0" lengthAdjust="spacingAndGlyphs">NC</text>
<rect x="96.7" y="829.3" width="176.0" height="4.2" fill="#000"/>
<text x="397.5" y="820.0" font-size="22.23" font-weight="bold" text-anchor="middle" textLength="139.6" lengthAdjust="spacingAndGlyphs">shLINC00518</text>
<rect x="310.0" y="829.3" width="174.3" height="4.2" fill="#000"/>
<rect x="99.0" y="841.7" width="165.3" height="166.6" fill="#fff" stroke="#b4b4b4" stroke-width="1.3"/>
<g clip-path="url(#fc1)">
<ellipse cx="137.8" cy="964.2" rx="24.8" ry="5.0" fill="#ff0000" opacity="0.95" filter="url(#blur2)" transform="rotate(-38 137.8 964.2)"/>
<path d="M150.8 947.8h.7M140.2 965.5h.7M124.3 974.7h.7M128.1 977.9h.7M140.0 961.9h.7M146.5 961.2h.7M138.0 964.3h.7M118.1 977.4h.7M137.0 954.8h.7M140.7 962.6h.7M152.7 951.6h.7M149.8 956.3h.7M138.5 959.3h.7M146.2 957.0h.7M123.5 973.5h.7M137.3 961.5h.7M138.3 959.2h.7M136.8 964.1h.7M148.3 960.5h.7M133.9 969.4h.7M162.5 945.1h.7M144.7 956.2h.7M137.5 971.0h.7M150.6 955.8h.7M149.4 960.6h.7M129.9 965.1h.7M158.2 953.6h.7M121.4 977.3h.7M146.5 956.6h.7M143.6 963.8h.7M142.8 955.5h.7M135.4 972.2h.7M126.9 969.5h.7M116.6 981.3h.7M125.8 974.2h.7M134.8 966.5h.7M155.6 948.4h.7M154.6 951.5h.7M131.1 967.8h.7M102.8 991.9h.7M142.3 965.8h.7M144.7 961.1h.7M107.8 988.7h.7M126.8 975.1h.7M133.4 962.4h.7M139.2 963.2h.7M146.3 965.1h.7M155.4 954.9h.7M145.6 962.8h.7M126.6 974.7h.7M159.9 943.8h.7M130.9 970.8h.7M123.7 975.5h.7M129.3 967.8h.7M121.7 978.3h.7M128.9 974.2h.7M146.4 956.9h.7M142.7 955.3h.7M154.9 956.6h.7M148.1 963.5h.7M133.1 959.7h.7M136.2 967.0h.7M139.9 962.4h.7M139.7 965.9h.7M149.4 951.3h.7M134.6 965.4h.7M143.9 955.0h.7M141.3 958.5h.7M136.8 969.5h.7M129.6 966.3h.7M149.6 954.2h.7M130.2 968.9h.7M155.7 944.4h.7M129.5 970.9h.7M122.2 981.3h.7M140.1 962.3h.7M147.2 951.4h.7M145.5 952.6h.7M133.4 972.4h.7M138.6 952.2h.7M144.6 963.7h.7M137.9 958.0h.7M123.4 972.1h.7M127.7 966.8h.7M146.9 955.7h.7M163.4 945.7h.7M125.6 966.0h.7M122.5 966.9h.7M139.5 967.3h.7M137.6 963.8h.7M140.7 962.7h.7M155.9 959.7h.7M131.5 970.2h.7M164.4 951.7h.7M136.0 970.5h.7M128.3 968.9h.7M140.0 956.4h.7M129.9 969.3h.7M150.5 950.3h.7M131.4 964.5h.7M122.7 968.4h.7M140.0 962.9h.7M139.5 959.3h.7M159.7 947.6h.7M132.1 966.2h.7M130.5 977.1h.7M149.0 957.0h.7M153.9 955.9h.7M101.4 991.6h.7M136.5 958.4h.7M143.7 958.2h.7M145.9 959.4h.7M141.6 966.9h.7M145.9 961.2h.7M130.9 966.7h.7M151.2 957.9h.7M163.8 946.2h.7M146.2 953.5h.7M140.3 961.5h.7M158.3 944.3h.7M147.1 964.6h.7M126.2 968.4h.7M142.2 964.8h.7M130.5 971.2h.7M145.5 956.4h.7M151.9 956.6h.7M151.1 955.9h.7M130.6 962.5h.7M139.0 963.8h.7M136.0 967.2h.7M154.3 945.3h.7M146.3 956.7h.7M150.9 954.2h.7M142.6 958.7h.7M135.6 959.0h.7M156.9 943.6h.7M110.4 978.0h.7M147.5 958.5h.7M135.2 961.4h.7M150.6 950.5h.7M139.5 962.7h.7M148.3 956.3h.7M128.0 974.5h.7M135.4 964.6h.7M168.6 945.7h.7M143.9 959.7h.7M138.8 957.7h.7M153.5 952.5h.7M133.7 973.2h.7M134.4 961.6h.7M133.1 964.9h.7M145.8 956.2h.7M151.5 953.9h.7M130.0 975.3h.7M150.1 956.1h.7M132.3 965.0h.7M124.5 967.2h.7M147.2 959.0h.7M127.8 967.5h.7M124.5 977.4h.7M137.5 963.6h.7M137.2 963.0h.7M133.6 968.0h.7M152.2 950.1h.7M128.8 964.0h.7M113.0 983.3h.7M144.1 955.1h.7M140.0 964.1h.7M145.5 959.0h.7M149.5 967.0h.7M144.2 962.5h.7M148.0 953.0h.7M147.7 958.1h.7M143.9 960.8h.7M140.8 962.4h.7M123.0 967.5h.7M151.0 962.5h.7M151.7 959.1h.7M136.2 967.9h.7M130.7 968.7h.7M136.8 971.1h.7M137.0 963.3h.7M160.6 948.0h.7M123.9 976.7h.7M147.7 960.1h.7M127.8 969.7h.7M137.3 963.7h.7M131.7 972.4h.7M134.1 967.7h.7M132.8 966.3h.7M143.5 957.4h.7M145.6 961.8h.7M122.4 973.0h.7M137.8 963.7h.7M123.9 976.0h.7M131.7 972.6h.7M133.1 974.2h.7M136.5 960.3h.7M128.9 970.8h.7M123.0 973.0h.7M163.4 949.2h.7M132.1 962.6h.7M142.2 960.3h.7M112.9 984.5h.7M146.3 951.4h.7M147.0 959.4h.7M133.1 975.6h.7M122.3 971.7h.7M139.2 968.8h.7M157.6 955.7h.7M154.1 952.7h.7M140.7 959.1h.7M138.5 958.3h.7M138.7 964.9h.7M132.6 974.4h.7M127.2 968.3h.7M145.2 952.5h.7M170.1 935.7h.7M146.7 962.7h.7M130.4 960.8h.7M144.7 959.4h.7M145.5 966.1h.7M130.2 975.7h.7M109.8 983.0h.7M150.2 955.2h.7M144.2 963.4h.7M141.9 957.7h.7M153.7 945.1h.7M144.1 959.7h.7M128.9 973.8h.7M144.3 956.7h.7M134.7 959.6h.7M145.8 957.8h.7M135.3 965.8h.7M128.1 976.0h.7M143.3 962.3h.7M132.0 963.6h.7M132.8 962.6h.7M134.7 960.3h.7M147.2 964.2h.7M153.6 952.6h.7M113.3 983.0h.7M142.4 966.0h.7M129.2 968.6h.7M153.0 947.4h.7M150.7 949.3h.7M108.6 990.3h.7M145.6 969.4h.7M145.6 954.3h.7M129.0 972.7h.7M126.3 973.4h.7M137.4 964.6h.7M124.4 973.1h.7M131.7 965.0h.7M144.7 965.0h.7M119.9 978.0h.7M130.9 967.6h.7M147.8 956.2h.7M119.4 983.7h.7M147.1 961.3h.7M151.8 953.6h.7M146.1 961.4h.7M142.6 972.9h.7M134.1 964.7h.7M128.5 975.1h.7M137.1 964.5h.7M126.5 970.3h.7M115.2 977.3h.7M122.2 980.0h.7M156.3 953.8h.7M117.2 980.1h.7M128.7 976.0h.7M130.7 972.9h.7M127.9 976.4h.7M159.2 950.2h.7M152.7 958.4h.7M147.1 962.1h.7M130.9 967.0h.7M135.3 974.5h.7M131.3 969.9h.7M147.0 961.2h.7M134.0 966.9h.7M117.7 980.5h.7M126.7 971.1h.7M136.8 965.7h.7M108.2 988.0h.7M135.2 970.2h.7M134.1 972.4h.7M138.7 960.7h.7M146.3 959.7h.7M156.9 945.5h.7M126.4 973.8h.7M117.9 980.3h.7M144.1 953.9h.7M136.3 972.9h.7M133.0 962.2h.7M137.0 959.4h.7M144.9 952.0h.7M146.6 960.1h.7M138.2 953.1h.7M135.2 974.1h.7M163.0 942.6h.7M131.3 971.9h.7M117.4 977.3h.7M140.9 964.4h.7M133.5 969.4h.7M151.4 954.2h.7M156.6 952.9h.7M131.3 971.4h.7M131.4 969.6h.7M148.1 951.0h.7M122.0 971.2h.7M135.8 959.1h.7M137.5 968.0h.7M146.3 954.8h.7M132.1 968.6h.7M138.8 962.1h.7M119.1 984.0h.7M138.0 962.9h.7M134.9 973.9h.7M155.1 951.9h.7M121.6 970.2h.7M149.7 950.4h.7M147.0 954.5h.7M125.7 973.6h.7M141.0 959.0h.7M145.8 962.2h.7M131.0 970.9h.7M137.2 968.4h.7M117.8 985.1h.7M141.7 961.2h.7M148.9 963.5h.7M130.9 965.9h.7M115.8 986.1h.7M114.8 977.2h.7M139.4 965.4h.7M139.9 962.9h.7M146.7 952.3h.7M148.5 954.3h.7M145.6 954.6h.7M156.0 957.6h.7M142.0 960.6h.7M140.3 963.3h.7M135.9 963.6h.7M140.0 961.9h.7M127.1 977.9h.7M132.2 976.1h.7M133.2 971.4h.7M119.6 986.7h.7M133.2 970.3h.7M163.0 940.7h.7M129.2 973.1h.7M126.9 976.1h.7M133.6 967.7h.7M128.5 968.1h.7M141.8 952.7h.7M120.3 975.1h.7M136.5 972.0h.7M137.5 971.4h.7M131.9 957.2h.7M150.3 946.7h.7M155.8 956.6h.7M142.7 959.7h.7M145.3 962.6h.7M109.0 977.9h.7M152.0 951.7h.7M131.4 968.5h.7M120.5 973.7h.7M140.2 962.9h.7M132.7 968.5h.7M140.3 963.9h.7M149.3 954.2h.7M138.4 967.3h.7M150.3 948.9h.7M150.1 962.3h.7M131.5 964.9h.7M135.7 960.4h.7M130.8 966.3h.7M149.3 965.5h.7M133.3 968.7h.7M131.9 972.6h.7M157.8 949.0h.7M150.3 960.0h.7M113.1 985.6h.7M144.4 962.1h.7M142.8 956.9h.7M132.4 968.7h.7M126.5 968.5h.7M158.7 945.6h.7M133.0 970.9h.7M132.6 964.5h.7M125.5 967.6h.7M122.7 976.1h.7M150.5 946.6h.7M131.2 966.0h.7M166.8 936.4h.7M110.2 984.8h.7M169.6 944.0h.7M153.4 960.7h.7M159.2 950.9h.7M146.0 953.9h.7M106.3 995.0h.7M145.0 964.9h.7M139.5 966.8h.7M155.5 952.4h.7M125.2 971.4h.7M153.3 952.6h.7M140.3 960.1h.7M134.1 972.1h.7M145.2 959.9h.7M119.2 975.2h.7M142.9 959.5h.7M129.0 972.1h.7M144.4 956.9h.7M129.5 974.6h.7M141.7 960.3h.7M150.7 958.9h.7M145.7 950.5h.7M149.3 954.6h.7M151.7 958.7h.7M128.2 963.1h.7M120.0 983.1h.7M149.4 957.9h.7M133.1 972.6h.7M159.9 949.4h.7M138.1 971.6h.7M147.4 956.7h.7M140.8 955.1h.7M142.2 965.8h.7M125.1 973.8h.7M156.6 954.4h.7M135.1 966.9h.7M147.8 960.1h.7M140.1 959.1h.7M137.6 964.8h.7M144.3 956.6h.7M155.6 954.7h.7M153.5 952.8h.7M124.9 976.7h.7M123.0 976.7h.7M155.2 960.0h.7M121.6 973.7h.7M132.5 965.0h.7M121.5 977.2h.7M107.3 991.8h.7M144.5 953.7h.7M158.1 948.4h.7M127.8 973.7h.7M111.4 979.3h.7M154.3 955.1h.7M163.3 949.9h.7M146.4 960.8h.7M115.5 980.0h.7M121.1 972.3h.7M126.5 972.6h.7M131.6 968.5h.7M128.4 968.2h.7M145.3 958.0h.7M132.3 960.2h.7M130.1 972.1h.7M147.4 956.7h.7M117.9 980.4h.7M135.1 970.5h.7M142.6 965.2h.7M137.1 969.6h.7M157.7 949.7h.7M142.7 959.1h.7M146.9 957.7h.7M146.9 956.5h.7M106.9 987.2h.7M119.9 974.2h.7M141.3 963.0h.7M111.0 994.4h.7M124.1 976.6h.7M116.7 972.4h.7M143.7 959.9h.7M126.3 974.7h.7M135.8 967.6h.7M135.2 962.8h.7M115.6 980.7h.7M154.3 957.0h.7M136.3 967.0h.7M121.8 972.8h.7M131.5 964.3h.7M143.5 960.9h.7M142.2 962.3h.7M114.6 976.4h.7M140.0 957.5h.7M113.3 979.1h.7M148.1 956.2h.7M111.4 984.6h.7M130.0 971.2h.7M140.4 966.0h.7M136.2 965.4h.7M156.1 950.2h.7M169.3 944.3h.7M133.6 962.2h.7M117.1 977.8h.7M144.0 961.9h.7M131.7 962.4h.7M131.7 967.8h.7M140.7 956.8h.7M115.3 988.2h.7M121.8 978.0h.7M143.7 956.0h.7M131.2 963.0h.7M135.5 963.1h.7M126.7 969.4h.7M126.6 968.1h.7M144.7 950.8h.7M134.9 971.3h.7M147.5 955.2h.7M134.0 972.8h.7M151.7 961.5h.7M129.9 965.9h.7M133.8 965.4h.7M142.7 957.8h.7M149.6 952.1h.7M135.7 971.0h.7M135.7 968.7h.7M140.4 957.0h.7M148.9 958.4h.7M140.3 962.2h.7M129.4 965.3h.7M144.7 957.2h.7M128.1 983.0h.7M126.4 968.3h.7M135.2 966.3h.7M133.6 965.5h.7M134.2 959.7h.7M136.9 966.0h.7M153.9 948.3h.7M145.4 956.0h.7M136.7 963.7h.7M144.3 958.6h.7M111.8 978.8h.7M133.1 970.3h.7M135.1 969.4h.7M127.2 972.9h.7M149.4 956.3h.7M146.4 963.1h.7M149.5 959.8h.7M148.0 959.3h.7M133.0 973.3h.7M122.6 977.1h.7M126.2 974.2h.7M153.6 955.3h.7M134.1 967.5h.7M130.2 970.3h.7M138.6 959.1h.7M129.3 971.8h.7M133.4 962.5h.7M125.1 973.5h.7M146.2 955.1h.7M131.2 973.8h.7M116.0 983.6h.7M137.7 970.6h.7M147.9 955.5h.7M136.0 967.9h.7M144.3 960.3h.7M145.1 960.5h.7M154.2 958.1h.7M120.9 969.9h.7M147.4 949.7h.7M126.6 970.0h.7M148.4 952.0h.7M132.6 962.1h.7M145.6 963.5h.7M168.1 939.8h.7M154.8 953.7h.7M124.5 970.9h.7M149.5 958.1h.7M143.6 965.2h.7M110.2 981.3h.7M122.2 973.4h.7M150.3 952.8h.7M155.9 948.4h.7M141.5 961.3h.7M142.3 959.1h.7M126.3 973.4h.7M127.4 960.3h.7M154.6 954.3h.7M148.8 963.0h.7M134.8 958.8h.7M136.3 960.0h.7M132.4 966.5h.7M146.9 966.3h.7M124.1 967.0h.7M125.1 969.1h.7M159.2 947.5h.7M149.5 953.4h.7M129.3 968.4h.7M145.2 962.5h.7M135.1 972.0h.7M133.8 967.5h.7M129.5 978.6h.7M143.6 954.3h.7M126.4 972.8h.7M134.9 977.6h.7M163.4 942.8h.7M117.8 974.5h.7M143.9 953.4h.7M145.8 955.6h.7M156.2 950.9h.7M143.0 964.7h.7M123.2 974.8h.7M143.9 966.1h.7M140.4 957.9h.7M123.0 977.3h.7M160.8 949.7h.7M143.3 956.5h.7M139.8 962.0h.7M144.3 957.9h.7M142.7 966.6h.7M142.5 963.8h.7M151.9 943.7h.7M156.0 958.9h.7M150.0 954.1h.7M126.8 978.0h.7M152.3 955.5h.7M136.7 964.8h.7M155.0 962.0h.7M154.7 954.3h.7M131.6 966.5h.7M147.1 966.7h.7M145.6 958.7h.7M126.3 975.8h.7M116.5 977.7h.7M157.4 951.4h.7M135.0 972.6h.7M131.2 973.7h.7M134.6 959.4h.7M148.9 951.3h.7M124.1 971.4h.7M130.7 973.5h.7M147.1 957.3h.7M168.2 939.4h.7M132.5 965.2h.7M122.1 973.7h.7M157.5 949.3h.7M129.2 966.2h.7M123.2 974.1h.7M130.7 968.5h.7M126.9 970.2h.7M141.2 954.1h.7M132.4 966.6h.7M117.6 983.4h.7M143.9 965.2h.7M138.3 967.6h.7M142.6 957.9h.7M130.7 967.0h.7M130.7 969.3h.7M143.2 957.6h.7M141.7 953.9h.7M130.2 970.9h.7M113.4 979.7h.7M125.2 976.7h.7M130.7 968.0h.7M134.9 967.7h.7M139.5 964.3h.7M139.6 966.9h.7M133.5 972.7h.7M146.6 953.4h.7M145.4 956.8h.7M129.2 968.6h.7M123.8 985.8h.7M120.1 971.8h.7M137.7 957.7h.7M127.0 968.4h.7M155.5 946.0h.7M139.2 958.5h.7M128.6 964.0h.7M125.1 977.4h.7M139.7 965.9h.7M158.2 945.3h.7M125.4 966.9h.7M155.4 951.9h.7M154.8 945.8h.7M132.8 970.5h.7M139.4 958.1h.7M154.2 944.9h.7M135.5 973.6h.7M113.9 976.6h.7M148.5 950.7h.7M137.6 964.0h.7M142.9 958.2h.7M140.8 965.9h.7M120.6 977.1h.7M133.0 962.0h.7M128.7 979.8h.7M113.6 983.4h.7M159.3 948.7h.7M128.4 970.0h.7M154.7 946.3h.7M146.8 953.1h.7M134.1 966.8h.7M139.3 955.4h.7M111.7 987.1h.7M142.9 961.2h.7M136.8 966.1h.7M125.0 972.1h.7M154.6 952.5h.7M141.0 957.0h.7M129.9 970.8h.7M118.5 972.7h.7M159.5 947.9h.7M160.8 942.4h.7M114.2 980.7h.7M139.9 960.4h.7M147.2 958.7h.7M151.3 952.3h.7M161.5 946.0h.7M102.9 983.6h.7M148.5 963.6h.7M131.9 972.2h.7M150.7 956.7h.7M153.3 954.2h.7M151.0 956.4h.7M121.9 974.2h.7M133.9 965.1h.7M119.5 983.0h.7M129.5 962.4h.7M146.2 964.7h.7M95.1 990.0h.7M144.5 964.2h.7M148.3 952.3h.7M164.0 942.7h.7M130.0 966.8h.7M122.0 978.5h.7M126.6 975.4h.7M124.9 980.5h.7M123.3 974.0h.7M138.4 964.1h.7M142.2 957.6h.7M139.5 954.0h.7M140.6 960.4h.7M129.6 966.1h.7M161.6 958.0h.7M150.2 959.1h.7M142.0 960.5h.7M125.0 980.0h.7M129.3 959.8h.7M123.3 977.3h.7M134.8 967.7h.7M147.6 947.8h.7M136.4 963.5h.7M130.6 963.2h.7M135.8 962.9h.7M133.1 963.1h.7M138.7 967.0h.7M165.5 950.6h.7M140.7 963.4h.7M122.3 967.5h.7M142.9 961.9h.7M126.2 971.9h.7M138.3 964.8h.7M126.5 966.6h.7M140.9 962.5h.7M123.9 978.4h.7M148.5 959.0h.7M146.2 958.1h.7M142.0 959.4h.7M133.0 969.1h.7M135.7 963.1h.7M165.9 938.4h.7M117.1 971.1h.7M137.8 967.1h.7M139.5 963.1h.7M141.1 961.7h.7M134.9 961.1h.7M158.7 947.3h.7M155.6 946.2h.7M152.1 951.8h.7M138.8 960.0h.7M125.8 973.4h.7M122.0 972.8h.7M139.3 960.5h.7M135.2 969.4h.7M150.6 955.9h.7M135.1 966.1h.7M143.5 959.4h.7M127.1 977.0h.7M151.1 955.1h.7M136.7 968.8h.7M148.4 953.8h.7M134.7 973.9h.7M161.3 948.0h.7M124.4 976.8h.7M123.8 975.3h.7M133.4 972.7h.7M148.0 959.8h.7M114.2 981.4h.7M133.3 972.4h.7M118.6 982.3h.7M131.3 971.3h.7M129.0 965.7h.7M150.3 953.0h.7M145.8 959.8h.7M118.7 976.9h.7M156.3 952.6h.7M130.7 972.7h.7M120.3 975.6h.7M121.6 971.1h.7M158.3 947.7h.7M139.1 966.8h.7M148.9 955.1h.7M121.3 981.1h.7M144.7 960.9h.7M142.8 959.2h.7M155.8 950.4h.7M148.7 950.9h.7M154.9 952.2h.7M136.1 954.7h.7M136.7 967.6h.7M141.7 966.1h.7M128.2 973.6h.7M132.3 964.3h.7M124.6 975.3h.7M141.7 962.4h.7M142.5 951.1h.7M126.2 977.0h.7M132.6 970.6h.7M130.3 968.3h.7M154.4 940.7h.7M141.0 970.3h.7M157.1 948.9h.7M130.5 965.3h.7M136.9 965.9h.7M125.2 970.2h.7M150.0 958.2h.7M128.4 966.4h.7M129.8 972.3h.7M128.8 972.3h.7M148.4 955.6h.7M148.9 952.9h.7M112.9 983.9h.7M141.0 968.7h.7M147.6 956.7h.7M130.5 967.7h.7M148.3 952.9h.7M131.4 969.4h.7M170.8 943.7h.7M138.7 963.4h.7M155.2 947.9h.7M141.2 962.8h.7M153.1 951.9h.7M136.3 964.6h.7M146.3 957.3h.7M139.4 959.5h.7M129.4 971.8h.7M137.3 961.7h.7M145.8 960.0h.7M125.8 975.2h.7M129.8 966.7h.7M145.6 957.8h.7M127.2 978.1h.7M138.1 961.3h.7M143.0 961.1h.7M148.9 963.8h.7M149.0 949.0h.7M139.5 961.8h.7M133.5 963.8h.7M127.7 974.6h.7M145.7 964.0h.7M143.0 958.1h.7M138.7 965.6h.7M160.6 948.5h.7M138.1 960.5h.7M135.5 961.5h.7M137.4 963.5h.7M136.4 962.5h.7M128.0 968.1h.7M152.8 956.8h.7M122.0 982.2h.7M126.6 970.1h.7M134.8 958.6h.7M160.5 952.8h.7M133.6 968.7h.7M156.1 946.4h.7M151.0 957.3h.7M165.2 947.3h.7M140.2 966.4h.7M126.2 972.2h.7M125.4 971.1h.7M144.2 958.9h.7M143.4 955.0h.7M153.7 956.5h.7M144.1 955.4h.7M134.0 968.8h.7M151.4 950.7h.7M136.6 959.1h.7M145.8 950.5h.7M131.0 965.3h.7M114.6 985.2h.7M160.5 950.4h.7M136.7 966.5h.7M141.4 956.5h.7M158.0 948.9h.7M140.2 958.6h.7M152.7 953.6h.7M157.5 954.7h.7M144.1 965.1h.7M133.7 970.7h.7M156.4 942.5h.7M147.1 956.1h.7M117.1 987.6h.7M138.7 960.4h.7M145.7 961.1h.7M127.2 970.3h.7M164.5 940.1h.7M137.6 964.8h.7M142.7 959.0h.7M117.0 974.0h.7M142.4 958.2h.7M130.0 965.6h.7M151.8 956.2h.7M152.0 956.0h.7M113.3 979.9h.7M126.7 975.3h.7M126.4 973.5h.7M133.1 967.2h.7M140.4 955.3h.7M142.5 958.4h.7M142.3 957.2h.7M148.4 954.6h.7M125.4 978.0h.7M142.0 962.2h.7M133.8 969.5h.7M126.7 968.3h.7M150.1 959.9h.7M140.2 962.4h.7M130.0 965.9h.7M141.6 960.8h.7M125.3 970.0h.7M140.3 961.0h.7M126.3 966.9h.7M102.4 997.9h.7M119.9 983.7h.7M126.2 975.5h.7M133.3 966.9h.7M153.4 949.5h.7M139.7 963.3h.7M140.9 958.3h.7M125.2 966.7h.7M135.9 962.0h.7M107.2 987.5h.7M130.2 964.4h.7M149.7 953.4h.7M146.2 958.8h.7M124.3 970.0h.7M124.1 977.2h.7M125.4 978.0h.7M131.1 966.0h.7M124.4 971.7h.7M116.6 984.4h.7M125.8 970.8h.7M158.9 957.3h.7M135.4 959.2h.7M134.8 959.6h.7M151.6 952.1h.7M121.8 979.6h.7M158.8 951.4h.7M125.4 975.9h.7M153.3 951.6h.7M120.3 980.6h.7M143.9 954.6h.7M155.7 947.9h.7M145.6 962.1h.7M133.7 973.2h.7M135.3 964.5h.7M140.3 966.2h.7M143.0 956.2h.7M157.5 957.8h.7M110.2 990.5h.7M142.4 956.2h.7M146.8 956.9h.7M141.4 962.4h.7M131.5 973.3h.7M177.6 933.9h.7M143.6 957.3h.7M149.0 955.6h.7M145.3 949.8h.7M131.2 971.9h.7M126.3 974.8h.7M122.0 975.2h.7M143.6 954.5h.7M154.5 952.6h.7M141.8 964.4h.7M138.4 963.3h.7M144.2 959.4h.7M122.7 971.9h.7M139.0 969.1h.7M115.3 979.0h.7M114.5 979.7h.7M155.4 948.1h.7M146.7 954.8h.7M130.0 969.4h.7M113.6 980.6h.7M145.5 957.5h.7M151.6 954.1h.7M114.0 977.0h.7M140.3 964.8h.7M132.2 970.1h.7M142.9 965.5h.7M139.9 964.0h.7M146.5 958.6h.7M147.5 960.3h.7M142.8 961.5h.7M150.2 952.8h.7M151.4 955.5h.7M130.5 970.1h.7M125.8 974.8h.7M155.5 954.7h.7M130.7 969.4h.7M153.6 942.8h.7M132.0 970.7h.7M142.4 963.3h.7M112.4 981.7h.7M141.9 959.8h.7M144.2 958.4h.7M128.9 968.6h.7M137.1 964.0h.7M124.3 974.5h.7M139.0 966.9h.7M129.3 972.6h.7M139.2 965.7h.7M124.3 974.5h.7M122.3 975.0h.7M127.7 972.9h.7M156.0 959.2h.7M122.5 978.4h.7M137.8 967.8h.7M127.6 974.8h.7M125.3 973.6h.7M129.7 971.2h.7M137.0 962.0h.7M131.0 971.3h.7M147.3 965.7h.7M140.3 966.0h.7M149.1 956.6h.7M125.0 969.9h.7M132.9 971.7h.7M147.3 964.8h.7M134.3 964.0h.7M120.6 973.8h.7M135.2 968.5h.7M114.6 976.6h.7M154.9 952.2h.7M146.1 965.6h.7M137.9 962.6h.7M129.8 973.2h.7M137.0 968.3h.7M115.8 978.4h.7M147.2 954.4h.7M144.5 954.6h.7M139.9 975.0h.7M139.1 965.5h.7M122.6 974.1h.7M127.8 977.1h.7M167.8 942.3h.7M138.6 961.2h.7M145.3 958.8h.7M144.2 959.6h.7M132.8 969.3h.7M143.9 956.5h.7M146.1 964.0h.7M134.1 965.0h.7M132.0 966.7h.7M136.8 960.0h.7M109.6 985.7h.7M149.4 952.3h.7M132.0 969.7h.7M132.7 966.4h.7M148.0 958.6h.7M149.8 952.8h.7M113.2 985.2h.7M137.6 967.2h.7M139.0 963.5h.7M137.2 965.8h.7M142.4 963.0h.7M148.0 963.5h.7M139.6 964.8h.7M132.6 967.1h.7M136.5 978.5h.7M120.5 978.7h.7M135.4 968.1h.7M128.6 968.6h.7M140.0 966.8h.7M125.4 970.0h.7M138.4 962.2h.7M137.6 963.5h.7M133.2 971.9h.7M127.7 975.8h.7M158.0 945.7h.7M138.7 963.9h.7M116.7 977.7h.7M114.7 978.2h.7M134.5 972.6h.7M157.7 952.6h.7M134.9 967.2h.7M118.8 977.3h.7M122.0 977.4h.7M120.8 971.0h.7M135.4 960.0h.7M130.9 968.7h.7M144.2 958.9h.7M132.3 963.9h.7M142.3 960.4h.7M153.3 963.3h.7M124.2 972.9h.7M133.9 968.4h.7M120.6 979.3h.7M155.5 952.3h.7M126.2 974.5h.7M152.0 955.7h.7M117.4 979.2h.7M133.3 967.1h.7M119.3 983.4h.7M133.4 966.3h.7M156.3 943.9h.7M149.8 950.8h.7M149.2 952.5h.7M146.3 959.1h.7M129.2 965.5h.7M124.8 976.8h.7M134.7 965.9h.7M130.5 971.8h.7M129.7 973.7h.7M126.4 959.3h.7M118.6 969.1h.7M122.4 975.6h.7M135.7 963.3h.7M136.3 969.9h.7M131.7 970.3h.7M119.9 978.7h.7M142.0 967.2h.7M120.1 974.8h.7M127.6 975.0h.7M131.9 971.5h.7M143.9 958.5h.7M164.3 944.8h.7M143.7 962.4h.7M152.5 959.0h.7M128.1 972.7h.7M167.3 931.8h.7M162.0 945.2h.7M117.9 977.6h.7M152.3 955.6h.7M157.8 940.2h.7M118.1 981.4h.7M135.1 967.4h.7M135.9 965.5h.7M129.5 960.0h.7M134.6 971.8h.7M150.2 950.3h.7M125.7 977.4h.7M131.4 978.2h.7M120.9 975.6h.7M122.1 977.6h.7M135.6 968.4h.7M143.3 959.2h.7M152.3 951.3h.7M127.1 965.6h.7M140.6 960.0h.7M142.1 962.2h.7M124.0 969.9h.7M129.5 972.0h.7M146.6 953.1h.7M134.1 958.8h.7M130.5 960.2h.7M154.3 950.4h.7M132.8 963.5h.7M115.7 978.6h.7M143.0 953.4h.7M154.4 949.8h.7M145.6 962.0h.7M146.1 960.8h.7M117.6 972.7h.7M159.9 947.3h.7M136.8 954.9h.7M118.3 973.2h.7M132.8 965.5h.7M133.8 960.9h.7M153.1 952.8h.7M150.6 950.1h.7M157.3 953.2h.7M148.5 955.7h.7M144.2 965.7h.7M164.4 943.5h.7M146.5 963.5h.7M135.1 965.6h.7M141.6 965.8h.7M143.0 961.8h.7M151.2 958.4h.7M154.4 955.4h.7M123.2 973.7h.7M144.5 957.1h.7M131.5 970.3h.7M124.4 970.0h.7M118.6 984.4h.7M122.4 974.1h.7M117.9 976.5h.7M120.3 985.2h.7M141.1 959.9h.7M130.6 964.2h.7M133.5 969.7h.7M132.9 962.4h.7M131.9 960.9h.7M152.6 948.0h.7M146.4 951.9h.7M148.6 965.6h.7M140.4 962.7h.7M127.2 980.4h.7M141.8 965.7h.7M139.5 966.3h.7M143.9 963.4h.7M140.8 962.0h.7M132.7 969.3h.7M146.5 968.5h.7M113.9 982.6h.7M137.7 963.3h.7M144.0 963.4h.7M152.3 949.6h.7M142.6 961.5h.7M130.3 972.6h.7M142.3 960.2h.7M147.5 955.5h.7M130.0 965.4h.7M123.1 981.5h.7M143.5 961.7h.7M123.2 981.9h.7M135.1 960.6h.7M155.6 950.6h.7M136.3 968.8h.7M161.4 946.0h.7M131.7 965.8h.7M151.9 952.9h.7M155.6 955.5h.7M142.2 958.2h.7M141.6 958.4h.7M138.9 960.9h.7M113.4 986.5h.7M150.6 958.8h.7M122.8 967.5h.7M138.1 962.8h.7M139.0 956.0h.7M136.3 968.9h.7M138.3 957.9h.7M116.2 981.8h.7M132.7 967.6h.7M145.3 957.0h.7M118.9 980.0h.7M136.3 965.6h.7M151.6 954.7h.7M130.4 970.7h.7M136.8 962.0h.7M119.4 984.4h.7M134.9 962.5h.7M136.7 964.1h.7M159.1 946.9h.7M141.5 961.4h.7M148.8 953.3h.7M133.3 964.7h.7M144.4 961.0h.7M142.9 951.6h.7M126.5 977.6h.7M136.9 965.8h.7M140.9 961.9h.7M137.5 959.6h.7M157.9 957.2h.7M144.5 958.8h.7M144.4 958.7h.7M142.7 961.2h.7M130.3 970.8h.7M147.8 956.2h.7M134.4 961.6h.7M150.3 958.0h.7M128.4 972.3h.7M141.8 956.7h.7M114.2 977.2h.7M138.1 963.0h.7M147.5 955.4h.7M138.3 959.7h.7M154.7 955.6h.7M120.5 982.2h.7M141.6 962.2h.7M136.4 967.4h.7M126.4 971.0h.7M136.7 963.8h.7M141.5 955.1h.7M165.2 945.1h.7M153.4 951.1h.7M141.0 956.9h.7M130.9 970.2h.7M148.7 953.1h.7M159.0 944.8h.7M139.7 963.2h.7M149.0 963.1h.7M153.1 950.7h.7M130.1 969.9h.7M130.8 977.6h.7M132.3 972.5h.7M133.9 972.5h.7M109.3 994.8h.7M116.1 987.1h.7M114.1 982.9h.7M130.8 977.6h.7M118.6 984.2h.7M134.9 975.5h.7M115.1 972.3h.7M115.5 984.0h.7M124.3 977.0h.7M120.9 977.8h.7M116.7 983.2h.7M117.6 974.3h.7M128.5 969.7h.7M121.5 977.0h.7M121.9 987.7h.7M116.3 977.1h.7M113.9 987.9h.7M120.4 977.8h.7M111.6 993.7h.7M110.0 989.5h.7M127.8 979.0h.7M121.8 985.6h.7M107.8 981.4h.7M111.3 984.1h.7M121.7 977.4h.7M122.3 975.8h.7M105.6 983.6h.7M116.9 986.2h.7M119.6 984.9h.7M130.1 977.2h.7M127.3 972.2h.7M124.5 984.6h.7M106.7 993.2h.7M102.8 989.0h.7M119.0 979.0h.7M121.8 977.9h.7M129.3 972.4h.7M108.9 983.9h.7M128.5 973.1h.7M122.0 972.4h.7M114.9 982.3h.7M132.2 968.9h.7M106.9 985.1h.7M106.8 995.1h.7M109.3 988.8h.7M127.1 971.7h.7M118.5 970.4h.7M135.4 974.4h.7M119.8 976.1h.7M126.5 978.2h.7M110.5 983.8h.7M112.9 983.1h.7M128.2 973.3h.7M124.3 973.3h.7M126.1 970.4h.7M120.9 983.3h.7M109.0 987.9h.7M132.4 969.3h.7M115.6 986.0h.7M122.5 973.4h.7M114.0 987.6h.7M118.3 988.8h.7M125.3 977.3h.7M107.5 982.7h.7M111.1 985.2h.7M125.4 967.2h.7M121.1 966.1h.7M107.4 981.1h.7M106.8 988.7h.7M109.3 989.4h.7M105.8 988.4h.7M121.7 981.8h.7M108.6 994.1h.7M108.7 994.7h.7M109.3 986.2h.7M117.7 973.9h.7M126.2 968.3h.7M131.4 971.3h.7M126.8 972.5h.7M117.9 983.3h.7M122.5 973.4h.7M126.3 977.1h.7M107.7 987.4h.7M100.3 983.8h.7M107.1 991.7h.7M118.3 974.9h.7M132.2 970.3h.7M108.9 989.3h.7M111.1 994.0h.7M108.4 985.2h.7M122.1 978.4h.7M130.9 972.2h.7M115.9 989.3h.7M127.0 970.8h.7M116.4 978.6h.7M123.3 974.7h.7M114.3 983.1h.7M106.6 985.7h.7M122.0 979.9h.7M113.2 978.2h.7M133.3 976.0h.7M109.0 993.3h.7M132.5 973.9h.7M121.1 980.7h.7M104.0 991.1h.7M105.2 991.8h.7M112.3 978.4h.7M120.2 980.4h.7M124.9 963.9h.7M112.2 986.6h.7M114.6 981.9h.7M111.1 986.5h.7M125.4 978.4h.7M105.5 992.0h.7M115.1 988.7h.7M123.1 970.5h.7M127.2 980.3h.7M119.5 985.6h.7M114.8 986.8h.7M128.6 970.8h.7M128.8 978.4h.7M104.6 989.4h.7M125.7 978.8h.7M125.6 980.8h.7M127.0 970.3h.7M128.0 963.4h.7M125.7 973.5h.7M120.9 978.0h.7M117.4 984.9h.7M101.8 986.4h.7M120.4 982.1h.7M121.0 977.1h.7M121.4 980.2h.7M129.5 981.6h.7M114.1 989.4h.7M123.1 975.8h.7M132.9 973.0h.7M115.0 981.4h.7M114.2 981.5h.7M128.5 964.5h.7M125.2 979.5h.7M120.1 982.5h.7M133.5 972.9h.7M117.8 986.1h.7M124.9 970.8h.7M123.6 973.0h.7M109.2 982.4h.7M111.8 985.5h.7M107.1 988.6h.7M122.9 976.1h.7M132.0 971.5h.7M117.2 981.0h.7M106.8 990.6h.7M126.8 972.7h.7M122.5 976.4h.7M108.4 994.8h.7M105.3 986.6h.7M193.6 928.9h.7M195.2 934.3h.7M184.2 933.2h.7M163.6 931.9h.7M185.7 933.5h.7M186.4 932.0h.7M164.0 934.5h.7M177.3 932.4h.7M195.8 928.9h.7M182.8 934.0h.7M194.6 935.4h.7M185.1 935.8h.7M183.8 934.2h.7M180.0 937.8h.7M203.5 931.7h.7M184.0 931.4h.7M200.6 940.8h.7M184.0 939.7h.7M183.8 931.1h.7M199.3 929.8h.7M171.3 938.9h.7M190.4 937.0h.7M177.9 932.6h.7M169.9 939.0h.7M187.1 942.3h.7M186.1 936.8h.7M176.3 933.4h.7M186.7 932.3h.7M191.9 938.5h.7M169.2 937.0h.7M184.1 935.7h.7M178.3 938.8h.7M183.8 937.2h.7M185.5 932.9h.7M170.2 940.5h.7M198.7 934.9h.7M192.4 939.4h.7M196.6 938.2h.7M180.5 937.3h.7M176.7 935.8h.7M172.4 929.6h.7M172.8 929.8h.7M185.8 937.3h.7M186.3 932.5h.7M181.4 930.7h.7M185.8 936.9h.7M200.6 931.7h.7M180.2 934.7h.7M204.9 935.8h.7M186.3 930.1h.7M180.3 942.3h.7M195.2 937.2h.7M178.0 932.0h.7M184.1 933.0h.7M204.1 933.2h.7M176.9 937.5h.7M184.2 932.1h.7M168.7 932.3h.7M197.3 933.1h.7M180.2 938.1h.7M197.6 937.7h.7M185.6 933.0h.7M172.6 935.5h.7M181.2 935.8h.7M161.5 930.4h.7M189.6 939.9h.7M183.4 930.9h.7M187.7 932.1h.7M179.0 934.1h.7M189.2 938.6h.7M187.8 931.8h.7M192.2 933.4h.7M167.0 938.1h.7M200.4 931.6h.7M177.9 933.0h.7M177.1 939.0h.7M189.8 935.6h.7M183.4 932.5h.7M176.6 932.7h.7M187.6 937.2h.7M178.2 937.4h.7M173.4 941.9h.7M171.3 933.2h.7M180.9 937.7h.7M184.4 932.1h.7M187.5 937.7h.7M170.7 928.0h.7M187.4 931.6h.7M191.8 941.0h.7M194.4 936.1h.7M190.2 934.5h.7M173.3 934.6h.7M177.5 935.8h.7M170.3 931.5h.7M182.6 935.3h.7M182.1 938.1h.7M167.3 937.1h.7M179.1 934.9h.7M192.3 935.4h.7M190.5 940.3h.7M181.2 929.0h.7M176.6 933.5h.7M183.8 932.3h.7M183.1 935.8h.7M162.6 940.3h.7M175.8 930.5h.7M173.9 937.4h.7M212.6 928.4h.7M175.0 938.8h.7M175.0 935.2h.7M177.4 934.9h.7M184.5 931.7h.7M171.9 930.2h.7M183.8 943.1h.7M193.0 934.7h.7M194.4 937.1h.7M178.6 932.9h.7M183.1 932.3h.7M181.4 936.4h.7M169.4 931.2h.7M178.7 932.3h.7M180.7 936.1h.7M185.1 937.3h.7M182.4 935.9h.7M180.5 935.3h.7M180.9 935.0h.7M178.4 936.0h.7M189.7 939.4h.7M197.2 937.6h.7M175.6 930.7h.7M166.1 934.0h.7M183.5 938.3h.7M182.6 935.0h.7M169.8 937.3h.7M200.2 933.6h.7M202.6 937.4h.7M173.5 937.1h.7M184.0 936.2h.7M169.8 936.2h.7M190.4 931.1h.7M186.4 939.2h.7M184.9 932.7h.7M179.6 937.5h.7M187.2 934.7h.7M175.3 932.7h.7M179.8 931.1h.7M185.5 941.5h.7M179.6 934.8h.7M182.8 937.0h.7M179.1 936.8h.7M173.3 931.4h.7M175.8 936.7h.7M175.3 932.6h.7M183.9 928.4h.7M177.2 927.3h.7M175.5 941.2h.7M165.4 938.7h.7M175.6 933.2h.7M178.0 941.4h.7M176.0 935.2h.7M176.9 934.1h.7M188.8 936.0h.7M182.7 932.7h.7M183.5 934.3h.7M181.2 935.3h.7M176.4 930.7h.7M185.6 929.0h.7M190.4 933.1h.7M172.6 938.4h.7M175.2 935.2h.7M172.6 936.4h.7M184.8 934.1h.7M179.4 929.8h.7M192.7 932.8h.7M180.2 933.4h.7M183.9 934.2h.7M177.9 934.0h.7M183.6 940.0h.7M170.4 938.4h.7M182.5 936.5h.7M174.9 938.2h.7M189.0 928.8h.7M164.5 940.5h.7M175.8 934.2h.7M166.7 934.9h.7M182.1 933.3h.7M194.1 934.3h.7M189.8 935.1h.7M183.3 934.0h.7M176.0 939.6h.7M192.6 938.8h.7M175.0 933.6h.7M183.1 933.8h.7M187.5 940.3h.7M176.1 933.6h.7M166.6 939.0h.7M183.3 936.1h.7M175.0 935.0h.7M178.6 932.7h.7M186.7 939.3h.7M193.8 933.9h.7M211.6 932.8h.7M181.8 930.6h.7M178.9 936.0h.7M175.5 934.6h.7M172.0 933.5h.7M169.5 933.5h.7M160.5 932.2h.7M177.0 934.4h.7M193.8 931.4h.7M174.4 937.7h.7M172.5 933.7h.7M164.7 924.7h.7M202.6 937.4h.7M201.4 934.6h.7M167.4 936.1h.7M172.3 935.7h.7M185.3 936.9h.7M173.7 935.4h.7M185.2 939.4h.7M177.8 941.2h.7M187.7 936.3h.7M175.5 936.1h.7M187.7 931.7h.7M187.9 935.8h.7M178.9 932.3h.7M179.6 937.2h.7M198.3 935.4h.7M178.3 937.2h.7M190.9 937.4h.7M180.0 926.9h.7M183.3 934.7h.7M170.2 935.1h.7M171.7 933.9h.7M193.6 933.0h.7M158.2 938.3h.7M180.4 934.9h.7M163.7 928.8h.7M177.9 933.2h.7M183.1 934.2h.7M184.7 933.5h.7M185.0 933.2h.7M186.2 937.0h.7M166.4 934.9h.7M177.9 934.9h.7M199.6 932.9h.7M179.8 935.7h.7M160.2 939.6h.7M187.4 934.4h.7M190.5 943.6h.7M173.6 939.4h.7M198.4 932.3h.7M186.2 930.7h.7M184.2 932.7h.7M187.3 933.7h.7M193.8 939.0h.7M198.4 934.7h.7M178.6 934.0h.7M175.5 934.6h.7M171.8 934.1h.7M189.6 938.2h.7M185.7 929.9h.7M196.5 941.0h.7M190.2 933.7h.7M188.0 934.7h.7M166.2 938.7h.7M190.2 936.7h.7M188.5 935.1h.7M170.0 940.0h.7M178.5 933.9h.7M186.5 929.6h.7M179.5 936.9h.7M179.4 927.2h.7M183.4 937.9h.7M168.8 942.6h.7M183.5 935.2h.7M186.2 938.4h.7M184.3 934.8h.7M185.2 931.1h.7M201.4 929.5h.7M180.1 932.5h.7M182.9 934.7h.7M191.9 934.7h.7M179.1 941.8h.7M171.9 935.0h.7M178.1 938.3h.7M181.8 939.0h.7M174.5 936.0h.7M187.3 935.1h.7M184.7 929.9h.7M186.7 934.1h.7M200.2 931.9h.7M167.1 941.7h.7M200.7 934.3h.7M162.8 932.6h.7M184.6 936.5h.7M191.5 938.9h.7M188.0 934.5h.7M195.1 940.3h.7M185.4 933.8h.7M166.0 931.6h.7M175.7 919.2h.7M160.5 922.2h.7M181.6 929.2h.7M181.4 926.0h.7M191.3 913.6h.7M166.7 925.6h.7M211.0 930.7h.7M219.6 929.7h.7M198.2 920.6h.7M202.5 920.3h.7M192.7 928.8h.7M184.2 926.3h.7M186.9 929.4h.7M199.1 922.2h.7M188.8 918.0h.7M193.6 919.3h.7M175.4 930.1h.7M200.5 925.1h.7M200.9 928.2h.7M166.2 926.5h.7M178.9 925.3h.7M187.5 915.9h.7M180.1 917.7h.7M184.4 927.4h.7M182.2 919.6h.7M199.3 922.8h.7M179.9 922.8h.7M165.7 923.9h.7M205.2 925.1h.7M187.6 923.8h.7M166.1 925.2h.7M201.7 923.9h.7M191.2 929.5h.7M205.7 931.2h.7M198.3 920.2h.7M192.8 928.4h.7M188.3 927.1h.7M185.8 928.8h.7M170.9 928.0h.7M195.8 916.4h.7M167.7 931.3h.7M190.9 919.2h.7M173.9 919.5h.7M183.0 930.4h.7M195.5 931.1h.7M193.0 917.1h.7M209.0 928.4h.7M182.2 912.9h.7M197.7 921.0h.7M186.5 926.9h.7M214.2 922.5h.7M210.8 924.2h.7M190.7 921.2h.7M199.5 930.5h.7M171.9 919.5h.7M196.1 927.7h.7M205.4 922.1h.7M199.3 918.9h.7M196.5 928.7h.7M211.7 926.9h.7M208.9 928.4h.7M168.9 930.0h.7M189.7 926.1h.7M193.3 912.5h.7M194.2 926.3h.7M183.6 921.7h.7M174.0 922.8h.7M164.3 924.1h.7M207.7 928.8h.7M195.5 935.2h.7M217.5 933.3h.7M213.8 933.7h.7M198.9 936.0h.7M230.9 934.6h.7M226.8 935.8h.7M223.6 936.3h.7M201.7 935.2h.7M225.8 937.3h.7M208.4 936.4h.7M218.1 936.0h.7M223.8 933.5h.7M224.6 931.5h.7M200.2 935.2h.7M196.4 934.9h.7M206.9 932.7h.7M191.2 934.9h.7M192.9 936.1h.7M196.7 934.5h.7M222.8 933.7h.7M199.0 934.6h.7M201.6 934.7h.7M196.1 935.5h.7M217.6 933.6h.7M218.4 932.8h.7M218.1 934.0h.7M193.9 935.9h.7M223.6 932.9h.7M194.5 937.4h.7M202.6 936.0h.7M230.6 933.7h.7M204.1 936.6h.7M213.0 935.7h.7M201.2 938.7h.7M227.9 935.5h.7M223.7 934.4h.7M227.0 937.8h.7M205.8 936.0h.7M203.9 935.5h.7M191.0 935.0h.7M229.9 936.1h.7M213.4 935.1h.7M207.3 936.3h.7M190.9 933.6h.7M215.5 935.6h.7M195.1 934.6h.7M213.6 936.2h.7M210.5 935.1h.7M198.8 933.3h.7M209.4 933.8h.7M212.3 935.0h.7M209.4 935.2h.7M200.3 935.0h.7M208.6 934.6h.7M211.3 935.1h.7M226.7 933.9h.7M196.3 937.7h.7M226.7 933.1h.7M228.2 935.4h.7M214.4 935.5h.7M203.6 933.8h.7M198.3 933.2h.7M203.0 936.1h.7M193.3 934.8h.7M220.8 934.1h.7M192.6 937.4h.7M213.3 935.5h.7M205.0 933.9h.7M221.7 933.1h.7M197.1 935.3h.7M190.9 949.6h.7M167.9 950.7h.7M205.3 949.6h.7M178.7 954.3h.7M177.6 952.4h.7M193.6 948.5h.7M189.8 950.3h.7M160.2 950.6h.7M211.9 951.3h.7M176.3 952.7h.7M186.6 948.4h.7M166.0 954.2h.7M192.5 948.3h.7M170.2 948.8h.7M197.1 950.9h.7M172.5 950.6h.7M159.1 952.6h.7M161.3 950.4h.7M161.1 952.4h.7M190.3 948.1h.7M203.6 948.3h.7M168.0 953.2h.7M179.3 950.9h.7M191.3 952.5h.7M185.5 950.9h.7M192.7 954.5h.7M178.4 953.8h.7M185.0 947.1h.7M177.0 951.3h.7M215.3 947.2h.7M162.8 953.2h.7M191.1 948.7h.7M179.7 950.2h.7M207.0 947.1h.7M198.4 951.5h.7M179.6 953.9h.7M162.0 954.2h.7M167.8 952.7h.7M172.6 949.0h.7M211.7 950.9h.7M216.5 947.4h.7M160.5 950.2h.7M191.6 952.9h.7M173.1 951.2h.7M166.2 952.1h.7M166.1 951.7h.7M208.1 947.5h.7M189.9 952.3h.7M195.5 947.0h.7M161.2 947.8h.7M161.2 953.0h.7M192.2 950.5h.7M204.4 946.8h.7M187.6 950.9h.7M208.6 951.9h.7M179.9 947.1h.7M207.3 946.8h.7M204.2 946.6h.7M166.6 951.7h.7M171.3 954.8h.7M187.0 952.9h.7M214.1 944.2h.7M184.2 953.6h.7M193.5 948.3h.7M210.2 944.8h.7M200.2 949.7h.7M209.4 947.8h.7M159.5 953.7h.7M160.0 954.1h.7M219.1 950.0h.7M182.9 946.9h.7M169.9 948.3h.7M172.5 949.7h.7M159.6 950.9h.7M215.7 949.2h.7M179.4 953.0h.7M201.0 949.6h.7M207.2 947.1h.7M178.8 951.4h.7M164.5 952.8h.7M174.3 954.3h.7M160.4 957.4h.7M184.7 953.7h.7M158.3 953.5h.7M170.2 952.1h.7M182.0 947.8h.7M161.4 954.7h.7M165.4 952.4h.7M174.9 950.7h.7M167.5 952.4h.7M217.2 948.0h.7M164.4 950.8h.7M191.4 948.7h.7M156.2 951.7h.7M176.9 952.6h.7M202.5 946.7h.7M168.5 956.8h.7M161.3 954.5h.7M208.8 948.0h.7M203.4 950.3h.7M198.7 951.9h.7M176.0 951.6h.7M196.2 946.4h.7M193.1 950.7h.7M171.7 951.9h.7M206.4 947.2h.7M159.0 952.6h.7M190.0 950.8h.7M184.9 953.6h.7M170.8 952.3h.7M185.6 950.5h.7M206.3 951.8h.7M186.1 947.1h.7M161.1 953.1h.7M164.2 949.2h.7M178.9 951.6h.7M193.3 949.6h.7M164.4 951.5h.7M163.3 952.7h.7M206.0 950.3h.7M176.7 952.0h.7M161.1 952.2h.7M159.0 950.7h.7M194.9 949.3h.7M162.0 952.8h.7M173.0 952.8h.7M177.2 947.9h.7M201.8 947.7h.7M172.1 950.1h.7M196.6 951.7h.7M165.9 957.0h.7M161.7 951.3h.7M167.4 952.3h.7M170.7 951.9h.7M161.0 950.1h.7M188.0 950.9h.7M178.7 952.2h.7M164.7 949.0h.7M166.1 951.1h.7M198.5 947.0h.7M176.6 951.2h.7M211.1 948.5h.7M158.5 954.4h.7M177.2 954.5h.7M159.2 956.5h.7M176.4 951.1h.7M184.8 946.4h.7M158.0 950.7h.7M208.0 948.9h.7M207.1 949.6h.7M195.0 950.5h.7M179.9 947.2h.7M159.9 951.5h.7M183.2 948.6h.7M170.2 953.2h.7M201.2 949.6h.7M173.0 952.1h.7M184.1 950.7h.7M203.6 950.9h.7M162.1 952.1h.7M199.6 951.6h.7M158.3 953.0h.7M174.1 950.9h.7M179.3 952.8h.7M174.1 951.5h.7M204.2 948.6h.7M168.5 952.7h.7M183.7 951.2h.7M162.0 956.4h.7M167.6 953.0h.7M181.2 950.1h.7M177.1 950.9h.7M174.4 953.1h.7M201.6 945.3h.7M198.0 948.4h.7M181.0 947.5h.7M200.6 949.2h.7M177.7 949.2h.7M174.1 948.9h.7M195.8 943.2h.7M159.1 954.1h.7M173.6 949.2h.7M172.4 951.4h.7M177.7 952.1h.7M159.6 953.1h.7M177.7 953.1h.7M197.5 950.6h.7M201.0 945.6h.7M165.5 952.9h.7M183.6 949.0h.7M203.5 948.9h.7M163.9 952.7h.7M209.4 950.1h.7M198.4 947.5h.7M193.7 950.4h.7M194.3 946.7h.7M170.8 951.5h.7M201.7 947.9h.7M190.4 948.4h.7M214.9 948.9h.7M102.6 935.8h.7M127.0 972.0h.7M102.9 994.7h.7M164.5 989.3h.7M129.6 964.2h.7M189.9 933.2h.7M109.8 936.2h.7M121.8 938.4h.7M105.3 936.8h.7M144.5 949.0h.7M145.1 962.6h.7M170.1 968.4h.7M195.4 995.8h.7M188.5 964.1h.7M125.6 958.9h.7M149.4 963.5h.7M192.4 975.3h.7M192.0 936.3h.7M163.7 944.9h.7M104.1 925.3h.7M137.9 938.8h.7M133.7 928.2h.7M105.1 943.6h.7M171.8 961.2h.7M171.5 993.7h.7M150.2 969.0h.7M121.4 951.3h.7M174.1 983.9h.7M116.2 939.5h.7M146.6 958.6h.7M161.2 989.9h.7M126.0 932.1h.7M110.8 948.4h.7M137.8 934.1h.7M182.0 952.0h.7M126.2 946.3h.7M187.0 972.2h.7M179.9 934.3h.7M118.4 955.5h.7M146.8 935.2h.7" stroke="#ff0000" stroke-width="1.1" stroke-opacity="0.7" fill="none"/>
</g>
<line x1="161.8" y1="844.7" x2="161.8" y2="1008.3" stroke="#9a9a9a" stroke-width="1.1"/>
<line x1="101.0" y1="943.8" x2="264.3" y2="943.8" stroke="#9a9a9a" stroke-width="1.1"/>
<rect x="320.0" y="841.7" width="165.7" height="166.6" fill="#fff" stroke="#b4b4b4" stroke-width="1.3"/>
<g clip-path="url(#fc2)">
<ellipse cx="358.9" cy="964.2" rx="24.9" ry="5.0" fill="#ff0000" opacity="0.95" filter="url(#blur2)" transform="rotate(-38 358.9 964.2)"/>
<path d="M389.3 943.1h.7M363.5 959.9h.7M372.2 959.7h.7M355.3 970.2h.7M347.3 976.8h.7M353.2 969.9h.7M346.8 971.9h.7M358.7 977.9h.7M374.5 953.6h.7M349.2 970.7h.7M361.7 961.8h.7M347.9 972.0h.7M336.9 975.3h.7M343.7 977.0h.7M358.7 963.4h.7M354.9 965.3h.7M314.3 1000.2h.7M356.5 968.5h.7M378.6 953.4h.7M360.7 971.9h.7M364.3 967.4h.7M333.2 974.9h.7M366.4 958.9h.7M362.7 967.9h.7M343.5 975.0h.7M330.5 985.9h.7M335.5 982.6h.7M340.0 972.1h.7M371.4 957.1h.7M335.4 986.6h.7M358.9 969.0h.7M359.1 960.3h.7M357.8 967.5h.7M368.0 958.8h.7M368.9 958.2h.7M378.5 950.5h.7M344.0 976.0h.7M351.6 974.5h.7M354.4 965.0h.7M330.4 987.3h.7M356.0 967.6h.7M370.4 961.3h.7M366.4 959.8h.7M359.5 965.2h.7M354.6 970.3h.7M358.5 955.9h.7M369.2 952.9h.7M365.8 961.3h.7M361.1 954.0h.7M340.0 975.9h.7M370.1 954.6h.7M365.0 953.8h.7M383.2 939.9h.7M378.2 947.9h.7M368.2 956.5h.7M362.9 963.4h.7M363.8 954.4h.7M355.8 965.8h.7M366.1 958.7h.7M369.6 954.9h.7M345.9 979.0h.7M366.3 955.9h.7M371.8 953.2h.7M364.3 966.8h.7M377.9 953.3h.7M374.0 957.4h.7M350.0 970.7h.7M354.7 970.6h.7M368.4 953.9h.7M364.3 961.5h.7M349.3 973.9h.7M352.2 969.7h.7M368.6 957.4h.7M350.1 973.8h.7M374.4 951.4h.7M361.1 961.3h.7M365.9 958.2h.7M371.8 950.6h.7M323.8 992.4h.7M398.2 938.8h.7M358.2 960.2h.7M356.1 960.7h.7M345.7 979.9h.7M358.1 968.0h.7M344.4 973.2h.7M362.3 961.5h.7M353.3 967.4h.7M358.9 967.3h.7M364.5 958.2h.7M358.5 961.5h.7M345.5 975.3h.7M349.7 965.8h.7M360.9 953.6h.7M379.2 949.8h.7M344.4 973.5h.7M355.7 967.3h.7M344.5 972.9h.7M360.4 961.3h.7M364.6 963.5h.7M331.7 986.7h.7M352.1 971.7h.7M371.0 955.1h.7M377.3 949.0h.7M366.4 956.1h.7M371.5 959.6h.7M372.2 953.2h.7M345.6 972.1h.7M360.6 957.4h.7M367.3 956.1h.7M335.3 975.7h.7M375.8 947.6h.7M362.2 956.5h.7M346.7 970.8h.7M361.3 966.6h.7M362.8 959.6h.7M378.2 945.1h.7M343.1 984.9h.7M358.4 965.5h.7M350.3 977.1h.7M358.9 969.1h.7M348.6 968.6h.7M363.4 963.8h.7M345.4 975.6h.7M381.5 948.6h.7M382.0 949.4h.7M354.9 964.4h.7M349.2 971.5h.7M340.8 975.6h.7M374.6 954.6h.7M362.1 963.4h.7M326.6 978.0h.7M365.1 955.9h.7M363.4 959.9h.7M392.1 945.9h.7M355.9 968.3h.7M354.9 964.4h.7M352.7 974.7h.7M344.0 974.0h.7M369.1 952.8h.7M379.8 950.0h.7M369.8 952.7h.7M358.4 967.8h.7M371.2 957.4h.7M357.3 969.6h.7M380.7 947.3h.7M353.2 969.7h.7M355.9 966.1h.7M340.1 983.8h.7M363.0 956.4h.7M346.1 973.7h.7M356.4 975.8h.7M357.3 970.1h.7M370.2 956.2h.7M361.4 968.4h.7M364.7 967.9h.7M358.8 958.4h.7M342.1 973.8h.7M376.8 951.0h.7M372.6 953.1h.7M356.9 974.3h.7M348.6 978.6h.7M388.0 940.3h.7M359.5 969.4h.7M382.7 950.4h.7M375.1 946.8h.7M361.2 965.2h.7M361.1 968.1h.7M363.6 953.4h.7M367.9 952.7h.7M349.6 970.2h.7M347.1 975.3h.7M362.9 950.5h.7M359.7 963.4h.7M335.0 982.2h.7M350.5 976.7h.7M340.1 978.3h.7M352.6 966.3h.7M356.0 966.5h.7M375.5 947.7h.7M365.5 952.8h.7M363.7 964.6h.7M352.2 976.1h.7M364.2 961.8h.7M363.6 957.0h.7M348.5 971.6h.7M374.6 951.5h.7M370.9 955.6h.7M347.6 974.1h.7M334.0 980.7h.7M349.7 965.7h.7M343.3 975.9h.7M363.6 961.3h.7M365.2 962.4h.7M348.4 978.4h.7M353.5 971.9h.7M362.7 962.8h.7M352.2 972.6h.7M335.9 983.8h.7M366.9 963.6h.7M354.3 964.9h.7M349.9 970.5h.7M348.5 961.9h.7M374.0 947.3h.7M349.0 969.2h.7M356.1 964.8h.7M351.4 969.4h.7M348.7 970.9h.7M383.9 950.5h.7M341.3 975.8h.7M369.7 957.3h.7M365.5 957.2h.7M363.0 955.0h.7M349.4 968.8h.7M362.9 964.0h.7M367.9 962.7h.7M338.0 976.0h.7M341.5 970.6h.7M373.1 955.3h.7M352.4 978.8h.7M361.4 969.3h.7M382.2 953.1h.7M365.4 970.8h.7M351.7 964.1h.7M355.0 970.8h.7M352.1 967.9h.7M370.6 956.0h.7M332.3 983.7h.7M366.4 948.4h.7M360.7 962.1h.7M350.5 967.6h.7M383.4 949.3h.7M362.1 966.2h.7M350.5 971.6h.7M366.9 961.6h.7M352.3 963.5h.7M363.8 957.3h.7M364.3 960.8h.7M363.1 958.6h.7M356.7 961.5h.7M357.1 961.8h.7M357.6 962.0h.7M351.5 972.5h.7M341.7 972.5h.7M364.9 958.6h.7M368.5 960.3h.7M361.2 964.6h.7M335.8 983.5h.7M344.8 969.1h.7M350.7 973.3h.7M371.4 954.5h.7M341.5 976.9h.7M345.7 967.2h.7M347.0 976.8h.7M325.5 993.4h.7M382.9 945.9h.7M346.1 973.0h.7M355.3 967.2h.7M386.3 934.0h.7M375.7 943.8h.7M351.3 978.7h.7M367.5 955.7h.7M359.7 964.1h.7M366.8 955.5h.7M361.2 960.3h.7M357.1 967.2h.7M377.1 950.9h.7M382.9 942.6h.7M357.4 960.6h.7M353.0 969.6h.7M354.6 967.6h.7M363.2 951.8h.7M367.8 961.8h.7M352.2 977.3h.7M366.3 954.6h.7M362.4 959.9h.7M364.7 957.8h.7M366.6 957.1h.7M344.4 971.5h.7M379.3 955.3h.7M358.3 969.6h.7M366.0 959.9h.7M374.7 947.0h.7M354.0 970.1h.7M350.3 968.5h.7M346.1 972.3h.7M339.0 975.3h.7M367.4 962.6h.7M348.7 971.6h.7M368.4 969.1h.7M358.3 958.1h.7M356.1 972.3h.7M373.9 951.4h.7M360.1 960.6h.7M344.7 978.3h.7M346.9 978.5h.7M357.0 970.2h.7M378.3 946.8h.7M372.9 960.4h.7M356.4 966.8h.7M360.0 961.4h.7M350.6 974.7h.7M366.3 948.6h.7M385.9 944.2h.7M348.5 971.5h.7M361.2 954.8h.7M357.5 968.6h.7M373.6 955.8h.7M346.9 971.3h.7M358.6 969.0h.7M356.4 968.0h.7M357.6 968.4h.7M367.0 959.4h.7M349.0 967.4h.7M345.6 971.4h.7M366.9 959.2h.7M364.7 966.1h.7M364.2 964.5h.7M347.4 972.1h.7M349.3 971.2h.7M361.9 957.3h.7M361.8 957.5h.7M350.2 972.7h.7M364.6 954.6h.7M365.7 961.2h.7M347.3 977.4h.7M375.1 955.7h.7M354.6 964.8h.7M365.8 961.8h.7M383.6 944.1h.7M360.7 959.3h.7M353.5 965.5h.7M358.9 968.0h.7M346.1 972.6h.7M360.5 963.7h.7M353.7 969.4h.7M366.6 953.5h.7M355.2 966.0h.7M337.9 985.6h.7M351.9 973.6h.7M371.9 962.9h.7M363.6 957.6h.7M387.6 943.8h.7M361.5 955.8h.7M372.6 957.5h.7M356.8 970.7h.7M358.4 961.7h.7M374.8 949.3h.7M367.9 952.6h.7M347.3 970.5h.7M371.5 955.1h.7M346.6 973.2h.7M359.4 960.8h.7M337.3 982.7h.7M381.5 940.9h.7M357.7 966.4h.7M357.6 969.3h.7M353.3 968.7h.7M344.1 976.1h.7M364.9 964.9h.7M356.5 972.7h.7M359.0 963.2h.7M352.3 969.0h.7M364.4 957.0h.7M342.9 978.1h.7M344.8 983.3h.7M370.1 952.2h.7M373.2 949.7h.7M352.2 968.5h.7M349.4 965.9h.7M328.7 986.2h.7M350.5 967.7h.7M375.2 954.1h.7M373.7 947.9h.7M335.5 974.8h.7M347.0 979.3h.7M372.2 956.8h.7M361.8 962.1h.7M342.9 969.9h.7M377.3 949.4h.7M378.6 948.7h.7M362.8 962.4h.7M343.2 978.0h.7M346.2 972.4h.7M362.0 964.2h.7M374.2 950.6h.7M382.5 947.3h.7M355.6 969.9h.7M362.2 962.3h.7M355.8 959.2h.7M370.2 958.0h.7M364.5 960.9h.7M355.6 967.7h.7M358.5 961.8h.7M371.5 954.1h.7M348.9 972.1h.7M357.1 966.7h.7M344.1 976.4h.7M333.8 978.6h.7M366.6 955.0h.7M346.8 972.6h.7M375.3 952.2h.7M345.9 974.9h.7M328.9 983.8h.7M367.2 963.5h.7M365.3 954.3h.7M365.6 956.1h.7M377.7 948.5h.7M376.9 950.9h.7M351.1 971.7h.7M345.2 973.3h.7M349.5 970.0h.7M359.6 956.7h.7M382.1 948.3h.7M357.1 966.3h.7M347.6 965.4h.7M374.8 952.6h.7M343.1 979.3h.7M356.1 959.7h.7M340.1 972.8h.7M340.4 977.2h.7M345.4 976.6h.7M328.0 985.9h.7M361.5 966.6h.7M332.6 985.1h.7M361.6 968.2h.7M365.2 959.8h.7M346.4 977.4h.7M326.9 986.3h.7M371.4 955.2h.7M345.5 979.5h.7M356.9 969.6h.7M364.2 963.8h.7M367.6 952.4h.7M353.1 972.2h.7M322.0 993.1h.7M365.4 963.1h.7M374.0 955.2h.7M342.5 973.6h.7M368.7 965.3h.7M352.8 974.5h.7M355.7 966.0h.7M352.8 968.4h.7M370.6 956.4h.7M345.0 979.3h.7M365.6 951.7h.7M355.9 965.0h.7M350.0 973.7h.7M371.8 956.3h.7M360.7 962.3h.7M372.7 952.4h.7M358.7 965.7h.7M350.1 966.9h.7M388.5 947.6h.7M373.5 957.0h.7M351.8 971.2h.7M354.0 969.6h.7M347.6 965.5h.7M342.1 980.2h.7M348.8 971.4h.7M342.8 976.9h.7M356.2 958.1h.7M366.9 958.2h.7M356.3 958.5h.7M358.8 967.2h.7M351.9 971.3h.7M371.7 958.4h.7M351.7 970.0h.7M346.0 971.6h.7M352.9 966.9h.7M362.1 955.5h.7M382.0 949.7h.7M344.9 980.1h.7M363.6 958.3h.7M358.9 964.4h.7M375.8 947.2h.7M360.3 960.5h.7M337.9 975.8h.7M384.0 943.9h.7M351.0 965.2h.7M352.5 968.8h.7M366.7 958.7h.7M371.5 962.5h.7M327.3 986.0h.7M365.0 958.5h.7M354.0 967.9h.7M366.7 962.9h.7M363.6 963.8h.7M383.9 943.0h.7M360.2 958.9h.7M368.6 952.5h.7M350.6 970.1h.7M369.4 955.0h.7M361.6 964.5h.7M358.5 958.7h.7M346.9 979.3h.7M347.3 979.8h.7M370.8 946.9h.7M364.9 959.1h.7M373.8 948.0h.7M331.1 986.3h.7M389.9 941.4h.7M351.5 972.6h.7M379.2 950.0h.7M361.7 956.9h.7M361.2 962.3h.7M348.7 977.3h.7M374.9 957.0h.7M369.7 950.5h.7M377.8 950.1h.7M348.4 972.0h.7M373.8 950.1h.7M365.1 959.8h.7M374.3 960.2h.7M341.4 971.4h.7M363.4 957.7h.7M337.3 984.7h.7M353.9 968.5h.7M374.7 954.1h.7M362.0 964.7h.7M355.4 965.3h.7M362.1 957.5h.7M342.0 974.2h.7M366.1 961.8h.7M376.4 953.2h.7M353.4 966.3h.7M377.2 951.5h.7M376.3 948.8h.7M348.1 969.6h.7M361.2 965.3h.7M354.6 962.3h.7M363.8 961.4h.7M371.7 959.9h.7M364.3 954.4h.7M347.0 978.1h.7M348.9 972.9h.7M349.8 971.4h.7M346.2 973.0h.7M365.1 957.4h.7M350.3 967.4h.7M341.3 980.7h.7M355.4 961.5h.7M353.0 966.2h.7M375.0 943.3h.7M381.8 949.5h.7M361.3 960.2h.7M366.2 956.3h.7M357.5 965.1h.7M340.7 975.4h.7M364.1 962.4h.7M381.0 946.8h.7M349.9 968.8h.7M363.1 958.1h.7M356.4 962.9h.7M358.1 959.7h.7M364.7 963.0h.7M345.4 972.3h.7M373.4 958.8h.7M366.7 958.3h.7M364.1 963.4h.7M346.6 976.2h.7M350.0 972.9h.7M360.2 962.9h.7M384.0 948.3h.7M353.5 968.0h.7M368.7 960.7h.7M341.0 977.1h.7M362.5 958.9h.7M370.0 961.8h.7M372.3 954.1h.7M385.3 945.0h.7M333.0 985.0h.7M360.7 961.4h.7M362.7 963.4h.7M339.1 980.4h.7M356.5 968.8h.7M360.4 964.2h.7M336.1 985.5h.7M349.4 972.7h.7M379.0 948.5h.7M369.9 964.2h.7M374.9 953.8h.7M367.7 961.7h.7M357.0 962.3h.7M358.3 963.7h.7M351.2 973.2h.7M362.7 961.9h.7M361.9 964.5h.7M352.8 965.8h.7M377.0 951.6h.7M350.9 969.9h.7M369.7 954.5h.7M372.6 954.2h.7M351.2 978.0h.7M368.8 955.3h.7M350.5 969.3h.7M343.0 972.4h.7M369.2 951.2h.7M350.8 964.6h.7M365.8 952.1h.7M336.6 977.8h.7M375.5 952.3h.7M370.4 954.6h.7M377.2 950.7h.7M362.0 966.5h.7M385.7 946.5h.7M348.1 976.3h.7M360.0 963.0h.7M361.3 955.8h.7M374.0 958.3h.7M361.6 962.7h.7M368.0 956.4h.7M375.0 950.9h.7M384.8 947.7h.7M371.5 950.4h.7M352.9 974.3h.7M350.4 969.2h.7M382.1 952.0h.7M358.2 969.9h.7M368.4 956.0h.7M358.0 961.7h.7M359.9 957.3h.7M356.8 968.2h.7M359.3 963.9h.7M375.5 952.7h.7M354.1 970.7h.7M353.7 976.3h.7M359.7 961.4h.7M362.7 964.3h.7M368.9 953.3h.7M361.0 959.9h.7M357.0 963.9h.7M368.1 961.9h.7M354.4 970.6h.7M369.1 966.8h.7M362.6 961.3h.7M356.1 964.7h.7M340.5 977.6h.7M351.1 972.8h.7M376.5 951.7h.7M372.0 954.0h.7M356.2 967.8h.7M342.2 978.7h.7M358.0 959.0h.7M366.6 954.7h.7M349.3 974.7h.7M362.5 959.1h.7M344.1 971.5h.7M350.8 969.4h.7M351.9 966.6h.7M367.6 953.1h.7M347.8 972.2h.7M386.4 942.5h.7M364.5 959.2h.7M349.5 964.4h.7M379.6 950.7h.7M361.6 954.3h.7M364.7 959.2h.7M369.4 952.4h.7M346.0 977.6h.7M379.7 950.1h.7M359.9 966.0h.7M384.9 948.8h.7M362.1 963.2h.7M358.0 969.9h.7M349.8 972.1h.7M365.8 966.3h.7M362.0 965.3h.7M359.3 965.6h.7M358.1 965.8h.7M364.7 959.5h.7M343.3 986.4h.7M340.9 977.1h.7M340.6 982.8h.7M382.1 947.4h.7M355.9 965.1h.7M367.8 959.3h.7M364.4 968.3h.7M361.8 959.5h.7M336.0 978.4h.7M387.4 952.5h.7M353.6 962.5h.7M368.8 959.4h.7M352.1 971.1h.7M369.0 959.8h.7M340.6 978.0h.7M346.0 967.3h.7M345.7 973.4h.7M359.1 970.2h.7M356.6 974.3h.7M365.5 963.0h.7M346.8 980.3h.7M375.0 949.4h.7M346.9 974.4h.7M365.3 956.8h.7M363.2 969.6h.7M379.9 948.2h.7M378.5 954.2h.7M365.9 953.1h.7M375.5 956.3h.7M352.6 962.6h.7M347.4 970.4h.7M359.7 969.8h.7M368.4 952.2h.7M366.3 957.3h.7M375.4 959.6h.7M354.9 960.1h.7M362.8 956.6h.7M355.2 965.6h.7M343.5 974.1h.7M363.1 962.4h.7M358.5 964.1h.7M359.9 960.2h.7M375.8 960.0h.7M359.8 958.8h.7M345.0 975.8h.7M389.6 942.7h.7M370.8 953.8h.7M341.8 978.7h.7M337.1 982.8h.7M368.9 953.6h.7M363.7 962.7h.7M364.4 954.7h.7M366.5 954.1h.7M363.7 958.5h.7M344.9 968.8h.7M347.7 976.7h.7M351.8 972.9h.7M375.8 951.7h.7M356.3 967.4h.7M356.3 960.6h.7M378.4 950.7h.7M378.9 945.9h.7M360.2 957.6h.7M359.9 962.0h.7M363.3 965.6h.7M345.6 978.7h.7M349.4 974.1h.7M350.0 966.5h.7M357.6 961.9h.7M364.9 963.1h.7M358.6 970.7h.7M336.9 979.9h.7M358.3 964.4h.7M373.7 958.3h.7M361.5 971.6h.7M346.8 971.2h.7M342.5 982.6h.7M351.5 963.0h.7M368.5 957.5h.7M366.1 958.2h.7M354.8 969.8h.7M364.4 960.5h.7M369.3 958.5h.7M369.7 957.5h.7M371.2 950.4h.7M345.4 965.2h.7M364.6 962.7h.7M343.1 976.2h.7M361.9 965.1h.7M346.2 976.2h.7M346.9 976.5h.7M346.9 971.9h.7M323.4 983.8h.7M353.2 968.9h.7M340.2 974.4h.7M357.6 966.8h.7M346.1 971.8h.7M365.8 961.5h.7M380.5 951.1h.7M373.1 952.4h.7M342.4 978.4h.7M366.2 960.3h.7M360.0 963.8h.7M365.1 962.1h.7M380.7 945.8h.7M377.3 950.8h.7M363.2 965.0h.7M356.2 960.1h.7M364.0 963.3h.7M350.8 968.2h.7M352.6 960.7h.7M361.5 962.1h.7M364.4 953.1h.7M341.5 980.9h.7M354.3 976.1h.7M356.9 966.2h.7M367.9 954.5h.7M365.6 956.4h.7M347.7 961.0h.7M377.7 950.8h.7M346.7 971.7h.7M370.3 953.2h.7M366.5 954.2h.7M365.9 962.6h.7M356.4 973.6h.7M371.3 956.7h.7M356.8 957.0h.7M349.0 971.9h.7M352.6 976.8h.7M371.1 955.0h.7M356.5 962.9h.7M355.0 964.4h.7M375.7 953.9h.7M363.9 959.7h.7M366.9 947.7h.7M343.5 969.8h.7M358.9 961.4h.7M363.8 960.9h.7M343.7 976.1h.7M345.1 969.0h.7M365.6 961.4h.7M352.1 964.9h.7M341.2 977.3h.7M362.5 965.2h.7M372.5 955.2h.7M371.3 953.6h.7M351.4 970.5h.7M373.0 957.0h.7M349.1 972.3h.7M364.4 957.3h.7M349.5 976.6h.7M358.1 965.8h.7M365.4 965.5h.7M354.9 972.0h.7M382.4 954.4h.7M348.6 974.5h.7M338.3 982.3h.7M352.6 975.7h.7M350.2 965.6h.7M357.7 959.6h.7M374.0 951.9h.7M359.5 972.9h.7M333.5 983.3h.7M359.2 963.3h.7M348.8 973.4h.7M344.0 972.4h.7M363.9 968.7h.7M349.2 966.8h.7M348.3 977.2h.7M348.1 975.0h.7M360.2 963.9h.7M361.8 964.4h.7M363.8 954.6h.7M347.5 972.0h.7M362.2 961.0h.7M357.4 963.5h.7M357.5 968.0h.7M348.0 969.7h.7M356.1 973.8h.7M354.1 970.1h.7M367.3 953.5h.7M343.2 971.4h.7M359.9 957.1h.7M351.3 967.5h.7M364.6 953.3h.7M343.5 976.4h.7M360.8 963.6h.7M348.8 973.2h.7M356.0 958.5h.7M357.4 961.0h.7M352.3 968.4h.7M358.4 964.3h.7M341.5 977.9h.7M390.3 939.5h.7M338.7 970.6h.7M363.8 958.9h.7M341.1 979.4h.7M356.4 966.8h.7M345.5 972.0h.7M340.8 973.7h.7M359.6 965.4h.7M339.5 978.0h.7M366.2 964.5h.7M379.6 948.9h.7M338.1 975.6h.7M348.0 976.5h.7M343.6 980.1h.7M357.6 969.7h.7M364.0 964.5h.7M361.9 971.2h.7M352.3 969.8h.7M366.8 959.6h.7M359.3 962.7h.7M347.0 971.5h.7M363.3 963.1h.7M341.3 973.0h.7M371.3 953.8h.7M368.8 950.6h.7M355.8 964.4h.7M364.5 957.9h.7M358.1 966.8h.7M367.5 956.7h.7M377.5 947.8h.7M362.3 966.8h.7M356.7 964.9h.7M358.4 967.6h.7M325.7 994.1h.7M357.0 959.2h.7M343.8 974.0h.7M341.2 974.4h.7M355.8 966.7h.7M364.2 962.8h.7M348.7 968.3h.7M343.5 980.2h.7M366.5 955.4h.7M350.4 974.2h.7M356.2 958.7h.7M377.0 951.4h.7M352.2 970.0h.7M336.9 980.5h.7M351.6 965.8h.7M348.3 971.4h.7M352.3 971.7h.7M381.7 950.1h.7M356.6 964.5h.7M380.9 945.8h.7M352.9 967.9h.7M378.5 946.6h.7M362.1 952.5h.7M345.8 969.8h.7M346.2 969.1h.7M363.9 957.7h.7M361.6 961.0h.7M326.0 995.1h.7M384.2 943.9h.7M356.1 964.0h.7M369.9 954.8h.7M370.1 952.8h.7M351.4 969.4h.7M373.0 956.9h.7M361.0 965.7h.7M358.7 970.8h.7M361.4 964.9h.7M372.6 954.8h.7M381.2 942.0h.7M345.8 966.0h.7M359.4 962.2h.7M343.6 976.7h.7M353.4 973.9h.7M342.8 971.4h.7M352.1 969.7h.7M349.9 973.2h.7M352.3 970.1h.7M357.2 962.2h.7M357.9 965.7h.7M347.0 971.4h.7M364.1 961.6h.7M336.8 982.3h.7M330.2 981.0h.7M356.2 961.4h.7M353.9 964.8h.7M376.9 946.9h.7M348.8 978.8h.7M351.0 970.0h.7M347.5 981.5h.7M350.4 972.0h.7M335.4 983.8h.7M368.9 961.7h.7M359.3 964.9h.7M359.9 962.9h.7M344.5 974.0h.7M381.3 945.7h.7M340.7 980.5h.7M380.3 948.9h.7M361.5 968.2h.7M338.5 981.3h.7M362.7 964.6h.7M362.4 963.7h.7M332.5 986.8h.7M359.9 954.7h.7M338.6 979.4h.7M360.7 961.6h.7M356.1 960.7h.7M373.1 956.5h.7M347.2 973.9h.7M339.3 979.6h.7M368.0 959.9h.7M355.3 970.4h.7M358.2 963.3h.7M343.3 973.2h.7M345.6 974.9h.7M362.9 965.7h.7M355.6 971.8h.7M370.1 956.5h.7M337.9 978.1h.7M349.2 964.6h.7M354.7 965.3h.7M344.4 977.1h.7M354.0 964.8h.7M373.7 952.7h.7M357.8 969.3h.7M349.8 972.4h.7M367.0 950.8h.7M356.1 969.6h.7M344.3 972.7h.7M373.5 950.4h.7M377.9 949.5h.7M352.6 968.7h.7M343.7 977.5h.7M354.6 975.8h.7M357.3 963.5h.7M374.5 953.0h.7M373.6 956.4h.7M374.2 955.5h.7M359.2 969.9h.7M379.7 949.9h.7M372.0 954.6h.7M359.9 960.7h.7M343.0 975.2h.7M355.9 970.9h.7M371.7 955.0h.7M374.0 952.1h.7M355.1 969.8h.7M359.9 966.2h.7M371.3 957.1h.7M376.1 952.4h.7M358.9 967.0h.7M390.9 947.8h.7M366.4 953.8h.7M369.0 948.9h.7M380.3 954.3h.7M362.3 965.6h.7M356.5 967.1h.7M369.7 952.3h.7M360.0 966.8h.7M362.6 961.1h.7M351.4 966.5h.7M376.5 954.0h.7M376.6 955.1h.7M355.8 973.4h.7M359.3 956.9h.7M344.8 978.2h.7M345.4 974.7h.7M374.3 958.4h.7M363.8 952.5h.7M354.8 967.8h.7M369.3 964.4h.7M346.0 972.5h.7M356.6 963.3h.7M346.4 975.0h.7M351.0 975.4h.7M363.0 954.2h.7M346.2 972.8h.7M363.2 955.5h.7M352.9 975.6h.7M365.6 962.5h.7M343.3 978.1h.7M357.4 965.0h.7M359.8 972.5h.7M330.6 984.9h.7M373.6 950.8h.7M343.1 973.0h.7M343.8 970.9h.7M360.3 959.7h.7M346.8 971.3h.7M330.8 981.2h.7M343.3 976.9h.7M367.7 953.5h.7M363.4 967.2h.7M375.8 952.4h.7M338.6 973.9h.7M392.4 939.3h.7M370.9 950.6h.7M362.9 958.3h.7M367.2 966.1h.7M350.8 972.6h.7M348.2 972.3h.7M356.8 963.0h.7M387.8 944.6h.7M364.8 952.0h.7M362.0 968.5h.7M356.0 961.3h.7M369.5 961.9h.7M363.0 961.5h.7M351.4 966.5h.7M324.7 984.8h.7M382.7 947.1h.7M350.1 977.2h.7M365.1 961.7h.7M338.2 989.1h.7M363.8 956.4h.7M339.6 973.3h.7M352.1 969.0h.7M344.2 971.4h.7M356.3 966.5h.7M364.5 962.9h.7M375.3 950.0h.7M353.3 973.7h.7M360.8 962.2h.7M358.9 969.1h.7M374.6 951.5h.7M369.9 953.1h.7M358.1 967.7h.7M340.7 974.8h.7M353.4 962.7h.7M376.0 948.5h.7M357.9 960.5h.7M380.6 947.4h.7M364.4 952.9h.7M345.9 971.4h.7M356.3 963.7h.7M371.4 954.7h.7M361.5 954.8h.7M367.8 954.5h.7M361.0 961.8h.7M373.5 953.2h.7M355.9 968.5h.7M355.5 965.7h.7M360.0 963.8h.7M390.3 943.5h.7M360.6 959.6h.7M359.7 962.7h.7M343.6 975.4h.7M371.1 957.9h.7M363.0 957.0h.7M360.2 962.2h.7M338.6 974.9h.7M385.4 937.8h.7M385.9 954.3h.7M351.1 972.3h.7M361.0 964.9h.7M336.3 983.1h.7M339.2 981.3h.7M365.9 951.1h.7M364.0 957.1h.7M338.3 985.5h.7M365.1 956.9h.7M361.8 965.1h.7M352.0 967.9h.7M380.9 947.3h.7M325.4 981.1h.7M368.3 959.2h.7M375.0 948.5h.7M353.8 970.7h.7M369.0 956.0h.7M377.3 952.4h.7M352.3 975.0h.7M351.6 961.3h.7M330.2 985.1h.7M346.5 978.0h.7M387.4 950.4h.7M357.1 975.5h.7M348.8 970.2h.7M356.2 962.2h.7M368.8 958.7h.7M358.2 962.9h.7M358.2 974.4h.7M352.0 968.4h.7M364.8 967.7h.7M345.9 971.7h.7M346.4 970.3h.7M347.8 981.0h.7M338.4 970.9h.7M350.0 974.2h.7M365.3 961.8h.7M334.2 986.4h.7M374.9 958.9h.7M341.9 978.6h.7M362.2 964.7h.7M381.5 948.1h.7M342.0 977.0h.7M361.0 962.8h.7M351.0 961.8h.7M376.4 948.5h.7M354.7 964.4h.7M368.1 955.9h.7M344.7 970.8h.7M367.9 962.4h.7M365.5 954.7h.7M367.7 958.6h.7M357.5 968.1h.7M351.5 965.0h.7M368.8 961.0h.7M362.2 956.4h.7M376.9 947.8h.7M349.1 973.2h.7M352.2 972.3h.7M342.3 976.9h.7M362.7 963.8h.7M383.3 946.9h.7M365.1 950.7h.7M352.3 961.2h.7M360.6 954.6h.7M371.4 958.5h.7M353.1 975.1h.7M353.0 971.7h.7M366.7 967.2h.7M335.9 984.1h.7M348.5 968.8h.7M355.9 969.9h.7M367.8 964.5h.7M360.4 958.9h.7M371.6 957.6h.7M380.1 945.8h.7M362.6 957.0h.7M378.3 953.1h.7M359.2 964.7h.7M358.0 962.8h.7M367.7 957.7h.7M366.6 952.4h.7M366.0 965.2h.7M334.3 985.3h.7M356.5 966.8h.7M359.9 963.8h.7M375.4 951.5h.7M353.7 970.5h.7M368.0 960.1h.7M355.4 967.6h.7M351.4 977.3h.7M344.5 980.6h.7M345.7 976.8h.7M364.0 962.5h.7M339.2 974.9h.7M361.7 971.3h.7M359.5 969.9h.7M354.3 970.1h.7M366.1 966.2h.7M358.3 960.6h.7M339.2 976.8h.7M364.2 959.1h.7M379.4 951.4h.7M352.0 968.2h.7M366.0 958.5h.7M363.5 961.7h.7M364.6 961.9h.7M363.2 963.7h.7M356.3 973.2h.7M350.0 971.6h.7M349.6 971.4h.7M372.9 954.1h.7M349.9 972.9h.7M332.8 981.1h.7M379.2 953.4h.7M396.7 938.6h.7M369.0 955.9h.7M376.7 945.8h.7M369.6 949.9h.7M360.6 960.2h.7M343.3 968.5h.7M357.6 962.4h.7M362.4 964.6h.7M347.7 975.3h.7M357.4 970.2h.7M358.8 962.1h.7M365.0 962.0h.7M355.9 961.0h.7M370.7 956.2h.7M352.2 966.0h.7M331.2 983.4h.7M346.3 976.6h.7M352.8 965.5h.7M336.4 979.6h.7M379.7 952.3h.7M360.2 953.5h.7M353.6 964.8h.7M353.1 968.4h.7M329.5 988.3h.7M379.3 940.7h.7M350.2 969.3h.7M353.8 968.7h.7M345.4 968.6h.7M349.6 964.9h.7M351.4 963.2h.7M358.4 970.0h.7M350.0 970.5h.7M369.3 953.0h.7M342.3 970.5h.7M362.4 960.3h.7M348.8 967.5h.7M360.5 968.9h.7M357.9 963.2h.7M356.7 967.7h.7M365.5 964.7h.7M371.1 957.2h.7M341.1 976.7h.7M375.5 946.0h.7M344.9 978.8h.7M367.4 956.1h.7M363.9 957.2h.7M334.6 976.8h.7M342.8 975.8h.7M346.7 971.7h.7M374.6 949.2h.7M350.4 970.6h.7M359.4 964.6h.7M372.2 957.3h.7M368.5 960.9h.7M366.8 954.4h.7M359.7 958.4h.7M377.6 949.1h.7M365.9 963.9h.7M345.5 969.6h.7M330.3 979.8h.7M371.1 957.2h.7M363.5 963.5h.7M376.9 952.8h.7M376.7 950.2h.7M343.9 971.8h.7M366.2 955.9h.7M374.9 953.7h.7M340.0 980.8h.7M329.8 989.7h.7M338.0 984.3h.7M338.9 976.9h.7M328.2 990.9h.7M342.8 970.1h.7M340.2 973.7h.7M326.7 988.4h.7M331.1 987.1h.7M328.9 975.9h.7M332.2 982.4h.7M346.4 972.3h.7M335.7 985.0h.7M329.1 987.5h.7M326.2 986.6h.7M341.9 985.5h.7M343.9 981.8h.7M329.5 984.0h.7M335.3 984.1h.7M355.4 971.6h.7M336.0 978.1h.7M349.9 972.1h.7M332.5 990.8h.7M349.3 970.6h.7M325.6 991.5h.7M346.1 976.7h.7M352.2 970.8h.7M333.2 985.8h.7M336.8 978.7h.7M333.4 987.7h.7M347.0 975.5h.7M348.6 985.1h.7M346.1 973.0h.7M327.0 992.0h.7M351.5 976.9h.7M352.1 976.3h.7M329.0 989.6h.7M337.0 974.1h.7M347.3 973.5h.7M332.4 986.2h.7M326.8 989.6h.7M349.3 968.4h.7M333.4 989.5h.7M352.2 970.0h.7M345.2 977.3h.7M332.2 985.0h.7M326.8 986.7h.7M330.2 987.7h.7M324.3 988.9h.7M337.0 977.5h.7M342.0 978.8h.7M343.4 979.8h.7M339.8 975.7h.7M331.5 987.1h.7M332.4 987.7h.7M337.1 989.5h.7M346.8 970.7h.7M328.5 990.6h.7M351.7 971.0h.7M330.1 974.7h.7M340.1 981.3h.7M335.0 983.3h.7M328.5 990.9h.7M342.4 977.8h.7M337.1 975.2h.7M344.5 980.1h.7M350.8 977.6h.7M340.6 974.8h.7M346.7 970.2h.7M353.0 974.1h.7M323.2 988.6h.7M340.4 981.5h.7M332.8 987.8h.7M333.0 980.5h.7M325.8 992.3h.7M352.5 967.9h.7M328.2 990.4h.7M357.1 973.5h.7M346.5 975.6h.7M353.5 975.0h.7M354.5 979.4h.7M341.7 978.9h.7M337.5 983.3h.7M338.1 975.6h.7M336.0 987.3h.7M349.6 971.5h.7M326.3 986.1h.7M339.6 977.9h.7M326.9 992.2h.7M330.2 986.8h.7M345.8 972.4h.7M338.8 980.4h.7M348.1 972.4h.7M342.0 983.2h.7M351.7 977.8h.7M338.5 982.9h.7M327.3 987.2h.7M342.0 979.6h.7M346.3 978.9h.7M326.6 990.2h.7M335.4 978.9h.7M336.5 980.1h.7M328.4 991.9h.7M331.1 983.3h.7M352.5 970.5h.7M325.2 989.8h.7M327.3 990.8h.7M337.7 981.2h.7M351.7 971.0h.7M337.2 975.5h.7M330.3 988.2h.7M337.4 981.6h.7M326.3 987.1h.7M334.2 981.3h.7M329.4 986.2h.7M351.2 968.2h.7M352.8 970.1h.7M338.4 980.2h.7M350.1 971.2h.7M330.8 974.2h.7M331.3 983.6h.7M339.5 978.6h.7M335.7 988.2h.7M337.1 977.6h.7M323.9 985.4h.7M327.8 985.0h.7M338.4 985.5h.7M345.1 986.5h.7M349.2 978.3h.7M341.0 984.1h.7M334.0 990.3h.7M330.1 989.1h.7M343.9 980.8h.7M338.4 980.0h.7M339.4 988.4h.7M329.7 978.7h.7M336.9 978.8h.7M348.2 973.3h.7M341.3 982.6h.7M349.0 981.4h.7M351.3 969.0h.7M344.0 978.8h.7M328.5 994.8h.7M349.2 979.6h.7M353.6 975.7h.7M333.2 988.3h.7M332.1 984.1h.7M346.7 973.4h.7M327.7 989.0h.7M350.8 974.6h.7M350.2 966.5h.7M343.4 975.8h.7M335.9 978.2h.7M344.8 975.3h.7M338.6 978.1h.7M323.6 988.3h.7M331.2 989.2h.7M333.6 980.7h.7M331.5 984.7h.7M330.0 988.5h.7M397.7 928.5h.7M408.2 926.9h.7M386.1 930.7h.7M387.8 933.9h.7M409.3 930.2h.7M385.3 935.2h.7M411.8 931.0h.7M403.6 930.3h.7M395.3 929.9h.7M382.1 934.7h.7M402.5 931.7h.7M400.6 932.1h.7M401.2 937.4h.7M390.2 928.8h.7M402.0 927.2h.7M405.3 930.4h.7M380.2 929.7h.7M391.0 936.4h.7M391.3 932.8h.7M394.5 931.6h.7M390.1 934.2h.7M404.1 928.0h.7M408.1 932.1h.7M391.2 927.8h.7M397.7 931.8h.7M391.6 930.5h.7M405.3 926.1h.7M410.7 932.7h.7M389.5 931.7h.7M381.9 932.2h.7M414.4 934.3h.7M405.6 929.4h.7M412.6 930.1h.7M393.7 927.8h.7M395.5 927.4h.7M399.4 928.9h.7M392.1 931.8h.7M410.8 930.9h.7M393.1 929.6h.7M403.0 926.9h.7M398.9 927.3h.7M393.8 934.5h.7M397.5 934.1h.7M401.7 927.9h.7M408.0 927.1h.7M389.9 931.5h.7M396.3 933.8h.7M411.3 933.4h.7M398.0 931.9h.7M402.9 932.7h.7M392.2 934.1h.7M394.9 932.4h.7M388.1 931.3h.7M389.8 930.6h.7M375.2 928.6h.7M389.8 934.1h.7M386.0 932.6h.7M386.0 933.7h.7M410.9 930.6h.7M397.8 930.0h.7M392.9 927.1h.7M405.6 934.7h.7M405.9 925.5h.7M393.4 931.7h.7M398.3 931.2h.7M374.8 930.7h.7M391.0 933.2h.7M407.5 934.2h.7M393.7 932.6h.7M402.9 927.0h.7M386.2 928.9h.7M406.5 934.0h.7M387.5 929.2h.7M393.8 933.4h.7M405.5 932.5h.7M387.3 931.4h.7M386.5 931.0h.7M371.5 928.2h.7M404.3 934.1h.7M397.4 926.2h.7M400.9 932.7h.7M394.6 927.2h.7M391.1 935.2h.7M391.9 931.6h.7M392.2 931.2h.7M397.3 923.9h.7M396.0 927.4h.7M414.4 934.5h.7M408.7 927.2h.7M397.4 929.8h.7M394.0 933.6h.7M393.3 929.7h.7M405.1 928.8h.7M395.1 925.4h.7M397.7 932.6h.7M394.2 930.2h.7M400.1 931.0h.7M401.0 925.8h.7M390.9 932.8h.7M391.5 929.8h.7M393.6 933.1h.7M397.0 934.9h.7M394.1 930.4h.7M409.1 933.4h.7M381.6 931.4h.7M395.7 927.4h.7M397.5 934.5h.7M384.4 931.7h.7M397.1 938.7h.7M420.0 928.4h.7M393.8 932.0h.7M384.5 932.3h.7M397.1 930.5h.7M401.3 937.5h.7M394.8 930.6h.7M385.0 928.8h.7M401.3 930.1h.7M396.9 929.6h.7M391.2 928.3h.7M403.0 931.1h.7M386.5 932.9h.7M404.5 930.7h.7M395.8 934.8h.7M387.2 931.8h.7M406.1 927.3h.7M390.8 931.9h.7M393.8 927.5h.7M393.0 928.2h.7M397.1 928.9h.7M401.0 928.3h.7M395.6 931.2h.7M403.0 927.8h.7M393.0 929.0h.7M407.4 932.1h.7M392.5 930.7h.7M398.7 930.2h.7M409.2 926.2h.7M414.2 934.7h.7M405.1 929.9h.7M383.9 932.8h.7M412.0 932.7h.7M409.5 931.1h.7M406.6 931.7h.7M395.2 927.6h.7M393.7 932.4h.7M403.5 932.0h.7M399.3 932.7h.7M402.0 932.0h.7M394.7 931.5h.7M396.8 928.6h.7M399.7 927.5h.7M395.2 926.6h.7M390.0 934.0h.7M413.6 932.1h.7M394.4 924.9h.7M395.0 932.1h.7M397.3 929.2h.7M403.2 929.2h.7M400.0 930.0h.7M394.2 935.5h.7M409.8 932.8h.7M389.5 933.0h.7M400.6 932.6h.7M407.4 927.9h.7M400.5 931.6h.7M402.2 931.9h.7M395.8 934.0h.7M390.5 936.7h.7M406.4 932.3h.7M387.7 927.5h.7M386.3 931.4h.7M401.8 932.6h.7M399.0 930.4h.7M380.0 929.3h.7M402.6 930.0h.7M407.2 930.8h.7M408.3 934.4h.7M374.5 929.3h.7M409.2 934.4h.7M397.0 931.5h.7M405.6 934.7h.7M409.3 928.6h.7M393.1 928.5h.7M395.1 933.3h.7M402.0 931.5h.7M398.5 936.7h.7M403.6 929.7h.7M402.3 930.4h.7M395.7 929.7h.7M376.6 927.3h.7M396.8 926.8h.7M389.5 926.6h.7M380.4 931.0h.7M395.7 926.7h.7M399.1 935.5h.7M400.7 930.6h.7M385.9 932.2h.7M403.3 926.3h.7M394.1 933.6h.7M397.3 923.7h.7M399.0 931.2h.7M399.3 930.3h.7M404.7 932.1h.7M416.5 931.2h.7M401.1 931.0h.7M389.6 930.8h.7M397.9 925.5h.7M417.5 931.6h.7M405.1 931.9h.7M398.1 932.5h.7M411.0 933.1h.7M394.5 933.0h.7M404.3 929.2h.7M400.5 932.0h.7M396.0 931.6h.7M393.7 928.7h.7M394.1 928.2h.7M421.9 933.8h.7M397.8 927.3h.7M405.6 933.8h.7M385.1 930.0h.7M409.3 932.3h.7M412.1 929.3h.7M395.0 929.3h.7M389.2 927.9h.7M398.4 936.6h.7M397.2 931.8h.7M380.1 931.8h.7M396.0 928.9h.7M383.8 934.2h.7M406.2 929.7h.7M391.2 931.0h.7M389.9 925.9h.7M389.8 935.1h.7M385.2 930.9h.7M396.3 927.1h.7M407.8 937.0h.7M403.3 931.4h.7M407.4 933.4h.7M375.9 932.7h.7M399.6 931.8h.7M405.0 931.0h.7M400.9 928.5h.7M391.0 930.6h.7M395.1 935.1h.7M408.4 930.9h.7M404.6 930.0h.7M386.0 931.1h.7M396.5 932.5h.7M398.2 930.7h.7M399.0 933.8h.7M400.1 931.1h.7M408.2 927.3h.7M377.6 929.7h.7M403.9 926.9h.7M388.9 934.0h.7M393.6 932.9h.7M398.0 930.9h.7M402.0 926.4h.7M402.6 928.5h.7M394.5 927.4h.7M396.7 933.7h.7M409.7 934.0h.7M397.2 930.1h.7M394.2 926.8h.7M420.2 933.5h.7M407.4 930.6h.7M397.4 931.0h.7M399.2 926.6h.7M398.6 931.8h.7M385.8 933.5h.7M393.1 934.1h.7M395.8 929.3h.7M393.8 930.1h.7M400.9 928.0h.7M405.0 929.1h.7M390.6 932.5h.7M384.4 932.5h.7M397.4 931.3h.7M395.1 929.6h.7M402.2 932.8h.7M391.9 931.2h.7M403.9 929.6h.7M403.6 929.7h.7M413.6 931.3h.7M396.1 931.2h.7M387.2 927.7h.7M387.6 933.2h.7M404.5 930.7h.7M380.0 925.4h.7M393.8 935.7h.7M408.2 933.1h.7M384.4 929.9h.7M385.0 930.3h.7M411.0 934.1h.7M385.4 930.1h.7M398.5 927.7h.7M406.6 927.6h.7M397.8 932.0h.7M395.1 925.2h.7M394.1 932.8h.7M388.8 925.0h.7M395.4 930.1h.7M388.3 930.8h.7M401.5 934.5h.7M390.0 929.7h.7M394.7 930.0h.7M404.4 929.5h.7M389.0 935.6h.7M376.1 926.9h.7M401.0 926.5h.7M410.3 929.9h.7M407.7 932.1h.7M387.7 931.2h.7M421.1 929.9h.7M394.9 925.9h.7M406.9 930.9h.7M391.9 931.2h.7M399.6 930.5h.7M411.3 924.0h.7M396.9 931.4h.7M394.4 931.3h.7M407.5 929.9h.7M402.8 934.7h.7M387.4 930.5h.7M402.8 937.6h.7M410.2 926.9h.7M406.8 925.2h.7M399.4 935.4h.7M393.3 931.9h.7M395.6 927.7h.7M397.8 934.1h.7M388.9 932.8h.7M399.0 926.3h.7M396.3 933.3h.7M400.8 937.3h.7M403.8 930.6h.7M391.2 933.2h.7M406.9 933.3h.7M394.6 929.3h.7M394.6 934.7h.7M401.9 930.4h.7M395.0 925.5h.7M396.4 922.6h.7M397.7 932.6h.7M406.9 930.2h.7M393.8 927.8h.7M396.3 930.6h.7M401.1 931.3h.7M400.0 930.0h.7M394.8 931.9h.7M389.8 927.8h.7M402.2 926.7h.7M398.5 929.1h.7M377.3 933.1h.7M383.7 932.8h.7M391.0 930.2h.7M400.4 930.4h.7M389.1 927.3h.7M399.3 930.0h.7M392.5 929.3h.7M396.5 930.1h.7M388.4 931.4h.7M397.0 933.0h.7M397.0 927.4h.7M391.0 932.8h.7M389.9 928.3h.7M389.7 925.2h.7M402.3 930.6h.7M387.2 931.2h.7M402.5 932.3h.7M401.6 933.2h.7M396.2 931.8h.7M393.7 926.6h.7M398.6 932.4h.7M392.0 934.7h.7M407.5 933.6h.7M404.0 930.2h.7M399.3 934.4h.7M400.9 929.4h.7M406.0 931.8h.7M394.4 931.6h.7M398.9 929.9h.7M394.3 929.1h.7M404.1 932.5h.7M391.7 932.3h.7M391.6 928.6h.7M395.8 932.5h.7M384.8 927.8h.7M401.4 929.2h.7M394.5 928.6h.7M396.0 930.1h.7M398.7 928.1h.7M397.7 925.3h.7M408.8 934.5h.7M403.6 930.3h.7M388.6 926.4h.7M409.6 931.9h.7M394.5 933.7h.7M401.7 933.2h.7M403.1 929.5h.7M394.1 931.6h.7M394.1 932.1h.7M392.6 933.0h.7M386.5 930.2h.7M396.7 930.5h.7M371.8 931.4h.7M405.7 927.9h.7M395.1 928.6h.7M403.8 931.2h.7M405.5 929.8h.7M391.0 931.1h.7M408.2 931.3h.7M411.0 933.2h.7M394.2 930.2h.7M398.4 931.7h.7M401.5 932.7h.7M391.7 932.6h.7M416.5 932.9h.7M376.1 935.6h.7M390.3 921.3h.7M412.1 924.0h.7M423.5 914.7h.7M408.0 922.9h.7M416.2 922.0h.7M435.3 921.7h.7M420.3 919.0h.7M424.8 919.3h.7M401.1 923.6h.7M385.8 918.6h.7M398.2 915.7h.7M387.5 927.3h.7M392.7 918.3h.7M428.5 920.9h.7M406.1 921.0h.7M422.7 922.2h.7M389.3 915.7h.7M395.8 913.4h.7M426.7 924.2h.7M419.6 927.1h.7M397.2 919.6h.7M399.9 925.6h.7M390.1 927.5h.7M435.0 922.4h.7M385.1 925.0h.7M378.6 924.1h.7M418.4 925.8h.7M415.2 914.2h.7M419.3 918.5h.7M422.5 922.7h.7M404.4 925.0h.7M422.5 914.7h.7M405.7 921.2h.7M418.8 919.4h.7M390.9 924.1h.7M404.0 914.1h.7M407.0 923.8h.7M415.3 917.3h.7M394.1 925.8h.7M421.5 919.3h.7M397.0 919.1h.7M402.1 924.0h.7M413.6 917.4h.7M418.4 919.0h.7M409.5 920.1h.7M395.4 919.2h.7M408.7 911.1h.7M415.7 919.3h.7M399.5 910.6h.7M391.7 919.7h.7M403.5 916.9h.7M389.4 915.1h.7M428.8 924.9h.7M390.5 921.5h.7M428.3 923.5h.7M410.3 923.6h.7M409.2 920.0h.7M414.6 918.1h.7M412.0 913.7h.7M405.9 924.4h.7M420.4 919.6h.7M404.7 915.6h.7M387.4 911.9h.7M420.1 927.4h.7M417.0 915.1h.7M424.7 919.7h.7M383.2 924.6h.7M419.5 925.9h.7M397.2 921.0h.7M410.8 918.2h.7M443.3 930.4h.7M443.4 929.2h.7M429.7 930.9h.7M423.2 930.4h.7M420.4 928.3h.7M408.9 931.5h.7M418.4 932.8h.7M426.9 932.3h.7M427.7 930.0h.7M429.9 930.3h.7M431.4 931.1h.7M426.4 930.0h.7M426.2 932.9h.7M414.6 932.4h.7M436.3 930.4h.7M445.5 932.3h.7M409.3 931.4h.7M416.7 933.4h.7M416.3 929.6h.7M441.4 931.5h.7M432.6 931.2h.7M408.2 933.0h.7M433.1 930.5h.7M407.4 930.7h.7M433.8 931.3h.7M407.0 928.7h.7M443.0 930.2h.7M408.2 930.7h.7M441.1 931.6h.7M420.8 931.5h.7M429.7 931.7h.7M436.5 931.8h.7M422.4 932.7h.7M419.5 931.9h.7M444.6 929.9h.7M426.9 931.6h.7M422.0 932.6h.7M418.4 932.0h.7M444.5 930.5h.7M427.5 931.3h.7M437.1 932.3h.7M444.0 929.4h.7M426.7 930.9h.7M426.8 929.5h.7M438.1 932.4h.7M426.4 931.3h.7M437.4 930.1h.7M434.5 930.6h.7M407.0 929.5h.7M428.3 929.0h.7M422.4 930.9h.7M443.5 929.3h.7M407.3 931.9h.7M443.0 930.0h.7M423.8 929.9h.7M436.7 930.2h.7M446.2 931.0h.7M412.2 932.8h.7M438.3 931.5h.7M415.2 931.7h.7M436.7 931.2h.7M439.5 933.0h.7M410.9 934.1h.7M436.7 929.9h.7M436.3 930.2h.7M419.2 932.1h.7M447.3 930.3h.7M416.0 930.5h.7M433.5 929.5h.7M411.6 931.5h.7M386.7 953.3h.7M387.3 949.4h.7M404.7 951.4h.7M381.9 952.3h.7M408.1 950.7h.7M411.2 949.4h.7M411.7 948.9h.7M399.7 950.1h.7M423.1 949.2h.7M391.1 953.0h.7M386.5 956.6h.7M381.0 950.7h.7M396.5 951.2h.7M409.8 949.3h.7M393.8 953.9h.7M413.3 947.6h.7M377.5 952.8h.7M433.1 947.4h.7M427.6 948.3h.7M383.9 952.0h.7M404.8 948.7h.7M391.2 952.5h.7M415.2 947.9h.7M418.7 949.9h.7M400.8 954.9h.7M417.6 950.6h.7M425.5 950.7h.7M384.9 952.1h.7M391.7 953.2h.7M407.6 954.2h.7M435.8 947.2h.7M417.9 948.2h.7M396.2 949.5h.7M382.0 953.6h.7M431.5 943.2h.7M389.2 955.1h.7M399.1 949.6h.7M390.2 951.5h.7M435.9 946.6h.7M382.7 952.9h.7M403.4 952.1h.7M401.9 949.5h.7M398.0 950.8h.7M380.9 951.4h.7M425.8 947.1h.7M402.5 949.4h.7M412.7 949.7h.7M404.8 951.5h.7M384.0 950.9h.7M421.5 947.9h.7M383.1 953.5h.7M434.9 948.1h.7M424.1 945.7h.7M427.3 950.2h.7M387.9 948.0h.7M392.1 951.1h.7M379.1 951.5h.7M395.8 955.3h.7M422.4 947.5h.7M384.6 955.7h.7M399.8 955.1h.7M429.1 951.7h.7M384.9 953.0h.7M409.7 950.3h.7M418.9 952.4h.7M415.5 949.9h.7M388.7 952.3h.7M379.8 952.4h.7M438.1 947.8h.7M405.5 949.4h.7M388.7 951.6h.7M382.0 951.3h.7M395.9 949.5h.7M426.5 948.8h.7M412.8 949.6h.7M408.9 948.2h.7M392.5 950.6h.7M434.6 947.7h.7M384.2 948.6h.7M389.6 953.3h.7M383.6 951.9h.7M415.6 946.6h.7M380.6 952.5h.7M418.4 944.7h.7M382.3 950.6h.7M412.2 949.5h.7M414.7 949.8h.7M396.1 953.8h.7M404.1 951.4h.7M399.3 948.4h.7M422.8 949.6h.7M391.3 951.5h.7M427.9 945.9h.7M392.6 953.5h.7M425.2 946.0h.7M392.2 954.3h.7M384.5 953.7h.7M432.1 948.1h.7M403.2 952.9h.7M402.9 950.2h.7M390.0 953.8h.7M389.1 952.3h.7M396.6 951.8h.7M380.9 955.9h.7M428.4 944.3h.7M429.9 947.6h.7M383.4 950.5h.7M409.2 951.9h.7M379.2 953.0h.7M401.2 950.4h.7M391.7 952.0h.7M416.5 950.2h.7M386.9 950.8h.7M414.6 945.2h.7M415.9 948.6h.7M393.7 951.7h.7M380.7 953.7h.7M430.4 943.8h.7M386.0 952.9h.7M393.6 948.1h.7M414.9 949.0h.7M420.8 950.5h.7M389.2 953.4h.7M432.4 951.0h.7M439.1 948.9h.7M381.6 953.5h.7M437.0 947.4h.7M430.5 948.0h.7M405.9 952.1h.7M437.5 948.8h.7M401.5 949.3h.7M426.1 948.7h.7M436.0 948.5h.7M406.3 948.4h.7M386.4 949.8h.7M401.8 947.4h.7M386.2 950.9h.7M402.5 951.4h.7M406.4 949.4h.7M421.7 950.4h.7M388.5 950.5h.7M384.0 953.7h.7M378.8 953.9h.7M379.9 954.8h.7M421.4 948.2h.7M392.3 952.8h.7M433.0 946.4h.7M385.2 955.1h.7M412.7 947.4h.7M381.3 952.1h.7M383.7 953.7h.7M403.8 950.2h.7M381.3 954.0h.7M416.2 949.2h.7M413.1 952.6h.7M386.4 952.6h.7M384.0 950.1h.7M399.5 952.4h.7M378.7 951.2h.7M410.5 951.2h.7M395.9 951.2h.7M385.2 951.8h.7M383.0 954.4h.7M433.5 950.1h.7M382.7 953.4h.7M406.5 948.9h.7M415.2 951.8h.7M395.2 946.6h.7M399.5 947.5h.7M378.5 949.9h.7M426.0 949.1h.7M396.7 950.7h.7M388.8 952.5h.7M387.9 954.8h.7M431.0 950.3h.7M395.3 956.4h.7M414.6 949.8h.7M399.0 948.1h.7M437.3 948.4h.7M426.1 948.8h.7M390.3 948.5h.7M384.2 953.8h.7M381.4 954.2h.7M398.4 955.4h.7M399.3 954.0h.7M382.8 951.6h.7M403.9 948.8h.7M391.7 948.2h.7M415.6 951.0h.7M400.5 951.2h.7M414.0 950.4h.7M432.0 949.8h.7M418.0 946.5h.7M392.9 954.2h.7M423.1 947.6h.7M393.9 950.7h.7M379.5 952.2h.7M403.5 952.6h.7M431.9 949.1h.7M377.7 949.6h.7M404.7 998.3h.7M342.2 934.4h.7M385.1 980.1h.7M407.1 975.3h.7M340.7 956.4h.7M376.3 981.2h.7M404.9 994.5h.7M412.3 974.0h.7M385.9 956.6h.7M391.0 952.8h.7M409.4 947.2h.7M373.7 950.4h.7M373.3 975.1h.7M347.8 959.3h.7M376.5 976.1h.7M380.6 979.2h.7M333.5 958.0h.7M371.3 988.8h.7M384.7 940.8h.7M347.7 934.9h.7M342.5 944.9h.7M388.3 955.6h.7M408.1 963.0h.7M400.1 974.3h.7M410.6 952.0h.7M354.6 989.3h.7M385.2 957.5h.7M402.8 941.6h.7M343.0 968.5h.7M400.4 955.4h.7M323.6 968.8h.7M409.5 970.1h.7M325.1 949.9h.7M419.0 947.1h.7M389.6 936.8h.7M384.9 962.5h.7M328.0 999.6h.7M343.5 961.8h.7M348.7 976.5h.7M344.0 932.7h.7" stroke="#ff0000" stroke-width="1.1" stroke-opacity="0.7" fill="none"/>
</g>
<line x1="383.0" y1="844.7" x2="383.0" y2="1008.3" stroke="#9a9a9a" stroke-width="1.1"/>
<line x1="322.0" y1="943.8" x2="485.7" y2="943.8" stroke="#9a9a9a" stroke-width="1.1"/>
<text x="94.0" y="1011.3" font-size="17" fill="#2a2a2a" text-anchor="middle" textLength="24" lengthAdjust="spacingAndGlyphs" transform="rotate(-90 94.0 1011.3)">10<tspan dy="-6.5" font-size="16">0</tspan></text>
<text x="94.0" y="969.6" font-size="17" fill="#2a2a2a" text-anchor="middle" textLength="24" lengthAdjust="spacingAndGlyphs" transform="rotate(-90 94.0 969.6)">10<tspan dy="-6.5" font-size="16">1</tspan></text>
<text x="94.0" y="928.0" font-size="17" fill="#2a2a2a" text-anchor="middle" textLength="24" lengthAdjust="spacingAndGlyphs" transform="rotate(-90 94.0 928.0)">10<tspan dy="-6.5" font-size="16">2</tspan></text>
<text x="94.0" y="886.4" font-size="17" fill="#2a2a2a" text-anchor="middle" textLength="24" lengthAdjust="spacingAndGlyphs" transform="rotate(-90 94.0 886.4)">10<tspan dy="-6.5" font-size="16">3</tspan></text>
<text x="94.0" y="844.7" font-size="17" fill="#2a2a2a" text-anchor="middle" textLength="24" lengthAdjust="spacingAndGlyphs" transform="rotate(-90 94.0 844.7)">10<tspan dy="-6.5" font-size="16">4</tspan></text>
<text x="101.0" y="1032.3" font-size="17" fill="#2a2a2a" text-anchor="middle" textLength="23" lengthAdjust="spacingAndGlyphs">10<tspan dy="-6.5" font-size="16">0</tspan></text>
<text x="142.3" y="1032.3" font-size="17" fill="#2a2a2a" text-anchor="middle" textLength="23" lengthAdjust="spacingAndGlyphs">10<tspan dy="-6.5" font-size="16">1</tspan></text>
<text x="183.7" y="1032.3" font-size="17" fill="#2a2a2a" text-anchor="middle" textLength="23" lengthAdjust="spacingAndGlyphs">10<tspan dy="-6.5" font-size="16">2</tspan></text>
<text x="225.0" y="1032.3" font-size="17" fill="#2a2a2a" text-anchor="middle" textLength="23" lengthAdjust="spacingAndGlyphs">10<tspan dy="-6.5" font-size="16">3</tspan></text>
<text x="266.3" y="1032.3" font-size="17" fill="#2a2a2a" text-anchor="middle" textLength="23" lengthAdjust="spacingAndGlyphs">10<tspan dy="-6.5" font-size="16">4</tspan></text>
<text x="70.0" y="932.5" font-size="16.00" text-anchor="middle" fill="#2a2a2a" textLength="49.0" lengthAdjust="spacingAndGlyphs" transform="rotate(-90 70.0 932.5)">7-AAD</text>
<text x="174.2" y="1050.3" font-size="15.27" text-anchor="middle" fill="#2a2a2a" textLength="99.3" lengthAdjust="spacingAndGlyphs">Annexin V -PE</text>
<text x="315.0" y="1011.3" font-size="17" fill="#2a2a2a" text-anchor="middle" textLength="24" lengthAdjust="spacingAndGlyphs" transform="rotate(-90 315.0 1011.3)">10<tspan dy="-6.5" font-size="16">0</tspan></text>
<text x="315.0" y="969.6" font-size="17" fill="#2a2a2a" text-anchor="middle" textLength="24" lengthAdjust="spacingAndGlyphs" transform="rotate(-90 315.0 969.6)">10<tspan dy="-6.5" font-size="16">1</tspan></text>
<text x="315.0" y="928.0" font-size="17" fill="#2a2a2a" text-anchor="middle" textLength="24" lengthAdjust="spacingAndGlyphs" transform="rotate(-90 315.0 928.0)">10<tspan dy="-6.5" font-size="16">2</tspan></text>
<text x="315.0" y="886.4" font-size="17" fill="#2a2a2a" text-anchor="middle" textLength="24" lengthAdjust="spacingAndGlyphs" transform="rotate(-90 315.0 886.4)">10<tspan dy="-6.5" font-size="16">3</tspan></text>
<text x="315.0" y="844.7" font-size="17" fill="#2a2a2a" text-anchor="middle" textLength="24" lengthAdjust="spacingAndGlyphs" transform="rotate(-90 315.0 844.7)">10<tspan dy="-6.5" font-size="16">4</tspan></text>
<text x="322.0" y="1032.3" font-size="17" fill="#2a2a2a" text-anchor="middle" textLength="23" lengthAdjust="spacingAndGlyphs">10<tspan dy="-6.5" font-size="16">0</tspan></text>
<text x="363.4" y="1032.3" font-size="17" fill="#2a2a2a" text-anchor="middle" textLength="23" lengthAdjust="spacingAndGlyphs">10<tspan dy="-6.5" font-size="16">1</tspan></text>
<text x="404.9" y="1032.3" font-size="17" fill="#2a2a2a" text-anchor="middle" textLength="23" lengthAdjust="spacingAndGlyphs">10<tspan dy="-6.5" font-size="16">2</tspan></text>
<text x="446.3" y="1032.3" font-size="17" fill="#2a2a2a" text-anchor="middle" textLength="23" lengthAdjust="spacingAndGlyphs">10<tspan dy="-6.5" font-size="16">3</tspan></text>
<text x="487.7" y="1032.3" font-size="17" fill="#2a2a2a" text-anchor="middle" textLength="23" lengthAdjust="spacingAndGlyphs">10<tspan dy="-6.5" font-size="16">4</tspan></text>
<text x="291.0" y="932.5" font-size="16.00" text-anchor="middle" fill="#2a2a2a" textLength="49.0" lengthAdjust="spacingAndGlyphs" transform="rotate(-90 291.0 932.5)">7-AAD</text>
<text x="395.4" y="1050.3" font-size="15.27" text-anchor="middle" fill="#2a2a2a" textLength="99.3" lengthAdjust="spacingAndGlyphs">Annexin V -PE</text>
<text x="218.3" y="900.0" font-size="23.52" font-weight="bold" text-anchor="middle" fill="#0a0a14" textLength="66.7" lengthAdjust="spacingAndGlyphs">5.88%</text>
<text x="220.8" y="985.0" font-size="22.92" font-weight="bold" text-anchor="middle" fill="#0a0a14" textLength="65.0" lengthAdjust="spacingAndGlyphs">3.46%</text>
<text x="437.8" y="901.7" font-size="23.29" font-weight="bold" text-anchor="middle" fill="#0a0a14" textLength="79.0" lengthAdjust="spacingAndGlyphs">11.54%</text>
<text x="434.1" y="988.3" font-size="23.38" font-weight="bold" text-anchor="middle" fill="#0a0a14" textLength="66.3" lengthAdjust="spacingAndGlyphs">5.23%</text>
<text x="273.3" y="1091.7" font-size="22.26" font-weight="bold" text-anchor="middle" textLength="76.7" lengthAdjust="spacingAndGlyphs">WM451</text>
<rect x="90.0" y="1061.7" width="403.3" height="4.3" fill="#000"/>
<text x="925.9" y="820.3" font-size="20.77" font-weight="bold" text-anchor="middle" textLength="30.0" lengthAdjust="spacingAndGlyphs">NC</text>
<rect x="841.6" y="826.8" width="176.5" height="5.0" fill="#000"/>
<text x="1142.4" y="820.7" font-size="22.42" font-weight="bold" text-anchor="middle" textLength="140.8" lengthAdjust="spacingAndGlyphs">shLINC00518</text>
<rect x="1056.6" y="826.2" width="176.9" height="4.9" fill="#000"/>
<rect x="842.2" y="841.6" width="165.2" height="167.9" fill="#fff" stroke="#b4b4b4" stroke-width="1.3"/>
<g clip-path="url(#fc3)">
<ellipse cx="881.0" cy="965.0" rx="24.8" ry="5.0" fill="#ff0000" opacity="0.95" filter="url(#blur2)" transform="rotate(-38 881.0 965.0)"/>
<path d="M879.7 960.8h.7M867.5 971.5h.7M878.3 968.2h.7M904.2 945.9h.7M879.0 963.5h.7M895.0 954.0h.7M890.3 961.8h.7M877.4 969.8h.7M867.6 982.1h.7M861.4 981.6h.7M879.5 967.5h.7M884.6 967.9h.7M879.6 965.2h.7M892.0 959.9h.7M880.2 974.3h.7M879.3 975.8h.7M861.2 976.0h.7M852.2 984.5h.7M885.7 962.6h.7M885.6 959.1h.7M894.4 955.3h.7M874.9 972.4h.7M868.9 974.8h.7M869.1 969.9h.7M860.1 986.3h.7M873.5 979.9h.7M909.4 952.7h.7M878.6 969.2h.7M905.5 954.0h.7M895.8 956.4h.7M880.5 968.3h.7M891.3 961.7h.7M879.3 964.8h.7M908.7 953.3h.7M898.0 947.5h.7M874.4 968.9h.7M871.9 965.2h.7M884.1 963.5h.7M878.6 967.8h.7M880.6 969.1h.7M910.4 949.9h.7M836.7 1000.7h.7M878.5 965.5h.7M878.8 967.4h.7M883.2 959.2h.7M876.2 970.4h.7M903.9 944.5h.7M864.1 968.5h.7M891.8 958.9h.7M865.9 975.7h.7M872.9 976.0h.7M866.0 979.1h.7M895.6 955.3h.7M861.7 977.5h.7M880.1 962.1h.7M896.2 953.7h.7M879.3 966.5h.7M865.6 974.4h.7M897.6 951.1h.7M878.6 968.0h.7M873.0 974.8h.7M877.8 971.2h.7M878.8 973.5h.7M885.3 961.4h.7M871.4 982.4h.7M878.7 962.2h.7M872.9 973.5h.7M872.7 968.9h.7M867.7 971.4h.7M875.4 965.5h.7M881.9 965.3h.7M864.1 981.3h.7M876.4 965.8h.7M885.5 964.4h.7M884.1 958.4h.7M880.1 967.6h.7M874.5 966.7h.7M889.6 962.2h.7M886.6 962.6h.7M869.2 969.1h.7M892.7 958.9h.7M881.0 962.9h.7M873.4 971.6h.7M892.9 963.2h.7M883.6 959.8h.7M890.0 963.6h.7M886.7 964.2h.7M886.8 957.8h.7M885.3 964.9h.7M872.0 968.6h.7M868.9 972.5h.7M887.9 960.7h.7M910.5 941.3h.7M911.7 949.3h.7M851.3 984.4h.7M889.5 959.6h.7M884.2 970.6h.7M875.3 973.9h.7M876.5 964.8h.7M880.9 963.5h.7M873.3 973.0h.7M883.0 964.7h.7M898.4 954.9h.7M906.4 949.0h.7M895.7 956.6h.7M901.1 948.5h.7M884.4 959.1h.7M875.3 974.0h.7M853.5 981.7h.7M873.6 973.4h.7M876.6 960.0h.7M859.1 981.3h.7M875.0 967.5h.7M859.6 983.7h.7M888.2 952.6h.7M902.5 951.6h.7M881.9 964.8h.7M866.9 982.3h.7M889.9 956.9h.7M876.8 963.2h.7M867.6 973.5h.7M881.3 965.1h.7M886.7 959.7h.7M883.8 961.7h.7M905.6 946.8h.7M892.3 953.5h.7M875.1 966.3h.7M868.1 970.4h.7M872.0 974.3h.7M883.3 959.6h.7M890.4 953.7h.7M880.4 969.6h.7M887.2 958.8h.7M867.3 971.8h.7M885.4 965.6h.7M889.2 964.2h.7M869.4 972.6h.7M861.7 980.2h.7M862.8 976.3h.7M871.7 971.7h.7M863.1 980.7h.7M891.8 954.5h.7M856.4 980.6h.7M892.8 957.2h.7M900.7 953.9h.7M877.7 962.9h.7M894.6 948.8h.7M871.1 980.5h.7M888.8 965.0h.7M882.0 969.7h.7M892.5 952.5h.7M887.9 959.5h.7M882.2 965.3h.7M885.3 960.6h.7M887.6 961.6h.7M903.9 945.6h.7M895.6 947.8h.7M873.6 978.1h.7M897.4 953.7h.7M882.6 964.9h.7M885.1 966.9h.7M880.7 967.2h.7M885.6 971.3h.7M890.5 956.1h.7M861.2 983.9h.7M880.1 963.0h.7M878.2 961.3h.7M883.3 967.4h.7M871.1 969.7h.7M871.7 968.8h.7M892.4 953.4h.7M894.0 955.5h.7M882.1 966.7h.7M876.7 975.1h.7M876.3 973.3h.7M863.1 978.6h.7M887.3 961.4h.7M896.0 949.1h.7M895.2 956.3h.7M861.4 978.2h.7M883.4 960.1h.7M883.6 957.6h.7M876.1 966.1h.7M874.6 979.9h.7M872.5 965.4h.7M858.2 978.8h.7M873.4 972.7h.7M881.1 964.0h.7M868.7 974.2h.7M884.8 958.4h.7M868.5 968.3h.7M899.7 939.9h.7M864.1 977.7h.7M857.3 982.3h.7M890.2 962.6h.7M861.0 980.1h.7M890.4 960.9h.7M882.9 974.3h.7M872.0 971.6h.7M879.7 959.3h.7M871.5 982.2h.7M887.8 962.1h.7M883.1 960.3h.7M885.5 955.3h.7M901.1 956.1h.7M876.2 960.3h.7M874.0 966.4h.7M881.2 966.7h.7M898.5 946.7h.7M876.2 965.0h.7M866.3 979.8h.7M892.1 956.0h.7M867.0 974.2h.7M882.5 958.4h.7M893.4 956.3h.7M875.3 970.1h.7M875.2 963.4h.7M897.9 945.8h.7M886.2 961.9h.7M892.9 957.1h.7M887.3 967.1h.7M872.9 965.4h.7M871.4 979.0h.7M875.6 962.2h.7M899.7 951.7h.7M875.3 970.0h.7M869.4 974.1h.7M880.3 971.9h.7M874.4 971.4h.7M872.7 976.4h.7M888.4 951.1h.7M878.3 969.0h.7M887.7 960.7h.7M868.5 969.0h.7M869.6 977.2h.7M874.6 973.9h.7M876.9 965.8h.7M897.5 949.1h.7M884.0 968.0h.7M882.2 968.1h.7M877.8 963.4h.7M884.0 963.6h.7M871.8 972.5h.7M884.3 966.4h.7M873.0 967.6h.7M861.4 982.5h.7M863.4 972.4h.7M887.5 957.7h.7M885.3 960.4h.7M887.9 966.3h.7M883.0 960.9h.7M861.7 976.8h.7M892.4 962.5h.7M875.8 970.5h.7M873.7 969.1h.7M865.7 978.1h.7M882.3 960.9h.7M882.1 965.2h.7M893.6 963.5h.7M893.2 956.7h.7M866.4 978.4h.7M862.5 988.4h.7M878.6 970.3h.7M891.9 960.2h.7M867.0 980.3h.7M902.2 948.1h.7M875.5 973.6h.7M867.8 976.2h.7M884.0 957.8h.7M894.6 953.0h.7M874.6 973.8h.7M854.5 990.4h.7M886.9 961.8h.7M888.3 965.0h.7M891.5 955.4h.7M880.7 963.5h.7M854.5 988.4h.7M866.2 969.0h.7M879.8 968.1h.7M893.7 959.4h.7M900.0 952.9h.7M882.2 968.0h.7M895.4 962.8h.7M891.2 960.4h.7M884.0 967.6h.7M883.5 962.3h.7M887.7 958.4h.7M886.7 956.3h.7M878.6 971.9h.7M863.8 975.8h.7M874.2 965.9h.7M883.6 967.2h.7M888.3 951.0h.7M880.7 969.3h.7M868.8 971.0h.7M874.6 971.8h.7M889.5 958.3h.7M883.6 965.3h.7M872.8 970.8h.7M881.7 961.9h.7M874.1 969.0h.7M886.7 960.1h.7M886.0 956.7h.7M883.3 962.9h.7M868.4 973.7h.7M880.5 966.7h.7M869.6 971.6h.7M911.8 938.7h.7M881.2 963.0h.7M873.5 970.6h.7M874.1 973.2h.7M883.4 962.1h.7M881.3 968.2h.7M886.5 965.3h.7M891.3 958.3h.7M879.4 962.9h.7M890.5 963.0h.7M877.2 966.5h.7M872.5 982.0h.7M880.2 965.8h.7M886.1 960.6h.7M882.2 963.1h.7M897.0 950.2h.7M888.5 960.7h.7M895.3 954.5h.7M894.4 963.3h.7M884.3 962.9h.7M872.7 966.1h.7M886.3 961.4h.7M870.7 965.2h.7M888.9 955.9h.7M868.9 969.0h.7M888.5 960.2h.7M883.0 970.3h.7M891.3 961.5h.7M892.3 957.9h.7M872.6 970.1h.7M885.9 965.9h.7M878.9 964.1h.7M880.7 971.0h.7M880.0 969.9h.7M873.8 970.5h.7M880.8 966.1h.7M859.9 980.3h.7M879.4 968.0h.7M879.0 958.4h.7M868.4 981.9h.7M892.0 959.6h.7M899.0 954.9h.7M873.4 967.5h.7M891.4 954.9h.7M886.9 960.9h.7M876.0 969.8h.7M895.2 950.7h.7M880.6 964.0h.7M888.8 953.8h.7M879.6 966.5h.7M879.8 954.9h.7M881.4 959.3h.7M860.4 977.8h.7M865.9 981.6h.7M873.5 971.6h.7M882.5 962.3h.7M884.7 964.0h.7M912.1 938.7h.7M885.1 953.2h.7M891.7 954.1h.7M881.2 957.0h.7M869.7 978.1h.7M886.9 968.9h.7M869.2 969.6h.7M875.0 969.1h.7M891.9 961.3h.7M885.6 964.0h.7M868.2 976.4h.7M881.1 966.6h.7M871.0 968.9h.7M894.0 952.3h.7M882.0 968.7h.7M873.2 975.9h.7M881.7 960.6h.7M892.2 956.2h.7M876.0 968.3h.7M881.3 962.3h.7M900.5 952.5h.7M910.9 950.2h.7M862.3 986.3h.7M868.9 975.6h.7M907.7 946.7h.7M895.3 955.2h.7M884.9 966.2h.7M908.9 943.0h.7M868.9 965.0h.7M882.4 962.2h.7M880.9 968.6h.7M863.8 979.4h.7M900.0 948.2h.7M876.7 963.9h.7M866.8 970.5h.7M882.5 967.3h.7M888.3 957.1h.7M876.4 967.8h.7M890.2 951.8h.7M875.9 980.1h.7M906.6 945.8h.7M875.0 967.9h.7M873.7 966.4h.7M866.2 977.7h.7M862.6 973.2h.7M875.8 964.5h.7M900.4 954.6h.7M876.9 965.3h.7M881.9 964.9h.7M889.5 954.4h.7M874.0 971.1h.7M888.5 958.1h.7M885.0 966.6h.7M903.0 948.5h.7M884.4 962.5h.7M881.5 964.0h.7M870.0 972.1h.7M895.0 952.2h.7M888.9 956.7h.7M877.7 959.9h.7M871.9 970.6h.7M893.0 954.2h.7M870.3 978.1h.7M902.1 952.3h.7M880.0 963.5h.7M885.7 968.8h.7M858.0 983.8h.7M872.1 973.2h.7M881.8 963.7h.7M868.0 982.5h.7M893.8 957.5h.7M870.7 981.7h.7M890.1 963.1h.7M866.9 973.6h.7M883.6 960.5h.7M871.3 984.9h.7M869.5 975.4h.7M871.1 969.1h.7M887.6 964.2h.7M888.3 959.9h.7M872.8 966.8h.7M858.4 978.6h.7M898.6 959.8h.7M879.0 967.3h.7M868.2 977.6h.7M870.9 972.8h.7M878.5 976.1h.7M893.9 951.0h.7M869.0 970.9h.7M909.1 949.3h.7M877.0 970.4h.7M888.5 960.4h.7M861.2 975.4h.7M875.6 966.2h.7M910.8 944.6h.7M874.1 966.6h.7M878.7 964.7h.7M875.3 957.6h.7M888.2 957.9h.7M881.8 962.7h.7M861.5 981.7h.7M892.7 960.9h.7M881.7 964.8h.7M869.6 963.4h.7M889.2 957.1h.7M871.1 972.5h.7M877.5 968.2h.7M878.7 956.2h.7M894.1 947.3h.7M892.3 944.0h.7M875.5 974.9h.7M883.1 962.3h.7M882.7 966.3h.7M886.0 953.7h.7M884.2 963.4h.7M896.5 954.0h.7M876.0 967.6h.7M849.0 982.4h.7M878.7 964.6h.7M884.1 960.8h.7M860.9 973.4h.7M887.6 958.5h.7M922.6 937.4h.7M890.4 957.9h.7M858.6 974.6h.7M861.5 979.9h.7M879.6 965.3h.7M866.6 970.6h.7M886.8 965.8h.7M865.5 976.2h.7M865.8 975.2h.7M886.3 963.3h.7M859.8 987.4h.7M886.6 962.8h.7M905.0 947.9h.7M884.4 959.4h.7M881.6 963.2h.7M893.9 955.4h.7M886.0 962.6h.7M905.5 944.8h.7M897.5 964.6h.7M877.3 972.7h.7M882.5 965.7h.7M868.7 976.0h.7M889.0 954.1h.7M872.3 967.4h.7M872.2 969.4h.7M868.3 970.6h.7M910.4 942.9h.7M899.2 956.8h.7M867.8 964.1h.7M879.2 964.3h.7M861.0 981.0h.7M868.9 969.5h.7M869.3 963.4h.7M866.9 974.8h.7M857.1 985.7h.7M896.3 953.3h.7M864.0 976.4h.7M891.9 954.5h.7M896.2 959.0h.7M902.2 945.2h.7M851.2 980.7h.7M874.2 968.2h.7M857.8 986.1h.7M856.7 980.7h.7M880.1 969.7h.7M874.1 965.7h.7M870.2 971.1h.7M869.8 981.0h.7M875.6 970.5h.7M881.3 960.7h.7M876.7 970.0h.7M889.6 956.3h.7M879.9 964.9h.7M855.1 987.9h.7M862.0 981.6h.7M895.6 960.6h.7M893.6 957.4h.7M879.4 968.3h.7M891.2 959.8h.7M854.7 984.5h.7M877.9 964.8h.7M890.9 962.3h.7M883.3 962.7h.7M879.9 965.5h.7M886.0 963.4h.7M877.2 963.9h.7M868.1 975.6h.7M870.6 977.8h.7M875.5 968.6h.7M900.2 950.6h.7M891.5 954.4h.7M888.2 972.5h.7M882.5 963.6h.7M867.9 974.9h.7M901.6 953.6h.7M872.9 967.6h.7M860.8 985.4h.7M882.8 959.6h.7M894.5 951.1h.7M908.7 941.3h.7M865.4 978.2h.7M888.0 957.9h.7M856.3 983.0h.7M871.6 973.3h.7M899.4 951.1h.7M873.1 971.8h.7M868.9 965.9h.7M889.4 954.5h.7M873.9 973.4h.7M888.6 968.2h.7M896.3 958.3h.7M881.6 963.1h.7M870.5 971.8h.7M885.8 953.1h.7M882.2 956.3h.7M887.2 960.9h.7M892.7 957.9h.7M881.6 961.9h.7M894.6 953.1h.7M860.3 975.9h.7M883.7 964.1h.7M869.9 971.4h.7M883.8 959.9h.7M876.3 962.2h.7M877.0 966.5h.7M881.3 960.2h.7M873.1 972.6h.7M879.7 968.9h.7M875.4 974.6h.7M887.3 953.7h.7M867.3 972.6h.7M868.5 978.4h.7M876.9 967.8h.7M890.5 965.7h.7M864.6 977.7h.7M873.6 961.8h.7M878.9 969.5h.7M901.3 960.2h.7M852.4 976.2h.7M873.2 971.0h.7M880.5 969.2h.7M881.9 969.9h.7M891.3 953.6h.7M891.2 960.8h.7M858.1 985.3h.7M866.6 974.8h.7M862.9 983.3h.7M881.8 962.6h.7M884.7 967.5h.7M868.5 966.5h.7M894.3 958.0h.7M904.8 946.7h.7M882.6 967.3h.7M899.4 950.0h.7M881.8 968.3h.7M864.8 977.1h.7M877.9 960.9h.7M870.5 975.0h.7M891.5 953.2h.7M869.6 967.8h.7M885.0 958.1h.7M883.3 959.1h.7M876.3 969.7h.7M893.6 953.4h.7M883.1 958.5h.7M883.0 961.7h.7M854.9 988.0h.7M892.9 959.3h.7M876.9 967.3h.7M877.5 964.1h.7M887.1 960.9h.7M895.1 955.4h.7M871.6 971.2h.7M889.0 959.3h.7M868.7 977.0h.7M882.4 961.0h.7M903.1 948.1h.7M882.6 972.9h.7M894.9 950.1h.7M882.5 966.9h.7M847.3 988.7h.7M868.2 968.8h.7M887.7 954.2h.7M876.8 963.3h.7M860.7 975.0h.7M883.0 968.5h.7M878.0 971.6h.7M885.7 964.4h.7M866.0 978.5h.7M877.7 966.8h.7M887.0 954.9h.7M882.7 956.7h.7M850.6 989.5h.7M895.2 959.4h.7M878.0 966.5h.7M863.0 981.8h.7M889.0 960.0h.7M895.1 943.8h.7M882.4 968.8h.7M881.7 966.9h.7M864.2 980.1h.7M875.9 970.6h.7M890.2 953.2h.7M886.8 962.0h.7M886.1 960.9h.7M885.7 965.4h.7M841.2 992.9h.7M874.6 972.2h.7M880.9 965.4h.7M874.2 964.0h.7M882.1 963.2h.7M870.3 974.0h.7M886.8 960.8h.7M886.9 964.4h.7M887.7 964.1h.7M877.1 971.4h.7M881.0 960.4h.7M886.3 964.5h.7M880.5 961.0h.7M888.9 956.7h.7M868.2 977.5h.7M873.6 972.9h.7M883.8 962.7h.7M875.5 967.0h.7M872.9 972.9h.7M885.0 967.6h.7M873.3 977.1h.7M868.4 975.6h.7M878.7 965.4h.7M887.3 964.8h.7M901.2 943.3h.7M867.4 978.8h.7M874.7 969.2h.7M888.5 959.1h.7M843.7 982.5h.7M889.8 954.5h.7M871.6 972.1h.7M893.4 957.2h.7M894.8 953.7h.7M900.3 949.5h.7M902.5 954.7h.7M897.8 949.8h.7M874.1 965.9h.7M876.1 965.5h.7M890.6 953.0h.7M905.3 939.9h.7M910.3 938.8h.7M882.1 962.5h.7M883.0 968.7h.7M885.2 966.7h.7M878.1 968.6h.7M876.4 973.2h.7M882.4 964.0h.7M896.6 949.9h.7M893.5 957.1h.7M879.7 971.4h.7M868.9 971.6h.7M878.9 967.3h.7M871.0 966.4h.7M878.0 962.6h.7M878.6 962.9h.7M871.8 978.0h.7M895.2 955.0h.7M882.5 960.1h.7M889.0 957.5h.7M867.8 978.5h.7M880.2 963.0h.7M886.6 959.0h.7M871.5 972.6h.7M894.7 957.9h.7M872.1 968.2h.7M899.7 948.5h.7M883.0 967.5h.7M881.1 968.3h.7M881.3 961.8h.7M883.9 957.2h.7M871.1 978.3h.7M895.7 949.0h.7M868.8 974.1h.7M867.9 975.5h.7M882.9 959.4h.7M871.7 977.8h.7M888.7 960.3h.7M900.5 954.4h.7M878.6 978.5h.7M892.2 950.5h.7M886.7 961.8h.7M859.0 988.3h.7M870.7 965.1h.7M893.2 957.8h.7M885.2 959.4h.7M889.1 962.5h.7M873.6 966.6h.7M890.2 959.1h.7M910.4 940.5h.7M874.2 966.6h.7M891.2 957.4h.7M901.0 944.5h.7M879.9 962.9h.7M889.8 959.2h.7M891.1 959.2h.7M876.9 965.5h.7M866.4 978.0h.7M867.8 972.5h.7M870.3 965.8h.7M901.3 951.8h.7M883.7 964.3h.7M879.6 963.2h.7M894.9 944.7h.7M906.2 950.3h.7M875.6 970.0h.7M876.9 967.6h.7M889.9 959.8h.7M869.2 964.4h.7M885.2 952.5h.7M871.4 966.8h.7M899.0 945.0h.7M870.8 970.8h.7M873.9 975.4h.7M879.9 963.7h.7M878.8 967.2h.7M890.2 960.5h.7M884.8 958.7h.7M888.0 957.0h.7M869.4 975.4h.7M874.4 967.2h.7M859.3 981.6h.7M860.2 978.8h.7M874.7 969.8h.7M889.1 951.4h.7M868.7 974.2h.7M857.6 984.4h.7M871.4 969.8h.7M879.6 965.7h.7M868.1 976.6h.7M867.4 975.7h.7M861.2 979.6h.7M889.4 947.3h.7M897.0 946.7h.7M887.8 952.9h.7M879.9 964.2h.7M859.1 984.4h.7M898.8 958.1h.7M885.2 961.9h.7M876.1 967.5h.7M883.7 967.6h.7M883.8 970.4h.7M899.6 950.3h.7M893.9 958.6h.7M901.7 944.2h.7M885.0 960.9h.7M887.3 963.0h.7M879.9 966.8h.7M882.7 957.1h.7M894.8 952.9h.7M889.5 959.4h.7M878.5 973.7h.7M868.0 980.3h.7M880.7 966.0h.7M884.1 957.6h.7M889.8 958.6h.7M876.0 970.1h.7M890.5 961.3h.7M863.2 980.0h.7M891.6 951.4h.7M892.4 964.0h.7M877.8 964.5h.7M890.8 949.4h.7M868.9 973.0h.7M862.4 980.6h.7M874.7 966.5h.7M886.7 967.8h.7M878.9 965.1h.7M900.5 952.6h.7M871.7 974.8h.7M894.3 955.6h.7M881.3 962.9h.7M868.9 970.0h.7M857.5 975.9h.7M874.8 973.8h.7M874.4 975.2h.7M871.9 975.6h.7M867.1 976.7h.7M886.1 963.4h.7M885.0 965.4h.7M884.5 963.6h.7M867.5 975.3h.7M880.4 968.3h.7M879.4 964.0h.7M867.0 978.2h.7M888.8 958.9h.7M885.8 951.0h.7M865.0 976.2h.7M873.7 964.8h.7M890.9 963.0h.7M894.3 954.4h.7M877.3 967.9h.7M885.4 965.1h.7M873.6 965.1h.7M869.8 976.5h.7M892.4 960.0h.7M877.9 966.2h.7M870.5 974.7h.7M870.3 974.4h.7M884.4 962.3h.7M883.3 961.6h.7M892.9 960.1h.7M879.2 959.7h.7M878.6 968.0h.7M882.6 966.9h.7M887.9 959.6h.7M877.4 964.7h.7M898.7 957.0h.7M875.4 970.6h.7M862.3 977.0h.7M905.4 942.2h.7M900.5 957.8h.7M878.3 972.8h.7M890.9 957.7h.7M877.9 965.5h.7M887.1 953.3h.7M896.0 949.1h.7M858.3 977.7h.7M885.3 968.1h.7M883.6 964.0h.7M877.9 963.4h.7M863.1 976.5h.7M898.0 956.3h.7M899.6 953.1h.7M870.0 969.8h.7M884.5 970.0h.7M871.7 969.5h.7M875.3 971.6h.7M881.2 964.9h.7M874.4 974.2h.7M884.0 957.4h.7M849.0 988.7h.7M895.1 957.6h.7M901.8 954.9h.7M889.5 951.4h.7M905.4 957.0h.7M883.8 967.0h.7M883.0 957.4h.7M882.8 956.7h.7M862.1 983.6h.7M873.1 968.4h.7M897.8 955.3h.7M867.8 971.7h.7M863.6 976.5h.7M871.1 973.2h.7M907.1 945.4h.7M883.2 966.7h.7M884.8 955.5h.7M891.6 962.2h.7M882.3 957.3h.7M869.5 974.8h.7M870.8 975.6h.7M871.5 978.3h.7M887.1 960.4h.7M856.2 989.1h.7M874.3 975.0h.7M883.3 964.0h.7M888.3 964.9h.7M872.7 973.5h.7M877.1 969.7h.7M871.8 972.8h.7M902.9 950.9h.7M860.0 980.5h.7M868.1 971.8h.7M890.5 950.3h.7M886.3 968.0h.7M899.0 946.8h.7M896.7 952.1h.7M876.7 968.4h.7M856.2 980.5h.7M874.6 972.7h.7M887.3 963.7h.7M892.3 958.7h.7M907.7 938.5h.7M888.9 957.4h.7M882.8 965.7h.7M858.6 985.1h.7M872.4 974.0h.7M886.0 969.0h.7M867.1 978.9h.7M873.6 967.0h.7M914.3 939.2h.7M889.2 958.5h.7M880.9 957.7h.7M882.1 961.6h.7M883.0 966.0h.7M894.8 954.7h.7M901.7 953.3h.7M883.4 955.9h.7M872.7 970.0h.7M898.6 949.2h.7M871.9 973.6h.7M886.3 963.3h.7M875.8 968.6h.7M862.4 972.6h.7M873.9 970.7h.7M879.6 960.0h.7M872.4 963.1h.7M902.6 944.6h.7M867.1 981.6h.7M877.6 966.5h.7M886.7 955.2h.7M886.8 960.1h.7M890.2 966.3h.7M898.6 957.4h.7M858.7 985.7h.7M878.4 972.3h.7M878.4 966.7h.7M888.1 957.6h.7M874.7 969.5h.7M897.4 953.0h.7M883.7 971.8h.7M880.7 956.5h.7M890.9 958.1h.7M894.1 949.2h.7M900.4 954.5h.7M865.4 974.2h.7M886.9 958.3h.7M861.5 977.0h.7M902.6 942.7h.7M912.1 938.2h.7M879.1 958.6h.7M898.4 960.9h.7M861.6 979.2h.7M871.2 965.0h.7M898.2 945.7h.7M877.7 968.5h.7M891.7 957.9h.7M889.1 957.2h.7M890.6 956.8h.7M877.7 980.0h.7M867.5 981.9h.7M892.5 961.9h.7M873.0 969.3h.7M887.6 955.4h.7M883.6 956.3h.7M871.6 967.4h.7M865.2 979.3h.7M885.1 959.1h.7M879.1 969.3h.7M870.5 983.1h.7M853.5 979.9h.7M861.8 987.0h.7M861.2 981.9h.7M878.9 969.3h.7M865.1 978.3h.7M862.7 978.2h.7M901.5 952.8h.7M884.7 964.3h.7M878.7 972.6h.7M881.9 964.4h.7M891.9 946.1h.7M865.3 972.7h.7M871.7 974.8h.7M865.3 975.4h.7M896.5 953.2h.7M885.3 965.1h.7M879.7 971.7h.7M884.2 971.3h.7M906.8 939.2h.7M874.6 972.2h.7M875.4 969.1h.7M880.0 957.8h.7M879.0 974.9h.7M883.3 961.5h.7M868.9 971.2h.7M880.1 969.2h.7M882.4 969.5h.7M872.3 964.6h.7M894.6 951.7h.7M881.9 963.2h.7M865.8 976.4h.7M873.2 973.9h.7M902.1 951.5h.7M881.5 964.2h.7M893.9 955.9h.7M886.4 959.1h.7M879.9 968.5h.7M865.8 972.5h.7M867.9 970.5h.7M903.0 950.0h.7M871.1 977.2h.7M871.8 966.6h.7M873.5 975.6h.7M860.2 981.1h.7M883.5 956.6h.7M884.4 962.5h.7M874.6 957.7h.7M899.0 946.8h.7M877.3 968.8h.7M880.2 966.1h.7M888.6 962.0h.7M906.5 949.0h.7M887.7 956.5h.7M890.2 951.9h.7M884.6 961.2h.7M896.6 947.0h.7M879.4 962.5h.7M865.4 975.6h.7M852.8 982.0h.7M871.5 968.5h.7M888.2 961.8h.7M888.4 951.9h.7M866.6 968.2h.7M888.0 963.2h.7M877.4 966.2h.7M892.0 959.6h.7M875.7 967.0h.7M880.7 956.7h.7M889.8 954.0h.7M872.1 975.7h.7M868.6 974.9h.7M885.7 953.9h.7M895.3 957.0h.7M876.2 959.4h.7M882.1 961.7h.7M867.3 981.6h.7M876.1 969.8h.7M888.3 959.5h.7M855.5 974.7h.7M889.8 965.0h.7M900.7 945.6h.7M879.4 965.9h.7M892.5 965.4h.7M893.4 953.8h.7M891.1 959.2h.7M870.7 966.2h.7M837.6 994.0h.7M899.3 957.1h.7M880.1 968.4h.7M877.2 973.2h.7M864.8 977.3h.7M877.0 965.6h.7M892.1 958.3h.7M904.2 939.4h.7M862.7 980.0h.7M876.3 966.7h.7M866.1 969.9h.7M872.5 962.5h.7M868.1 966.7h.7M884.8 957.8h.7M885.0 960.1h.7M869.6 974.6h.7M873.0 972.1h.7M875.3 966.0h.7M885.6 962.4h.7M858.0 979.1h.7M873.2 972.7h.7M887.0 960.3h.7M882.2 963.4h.7M856.8 981.1h.7M877.3 964.5h.7M883.3 964.8h.7M898.8 950.2h.7M892.6 953.1h.7M889.2 954.0h.7M890.9 960.9h.7M875.7 963.4h.7M880.4 966.9h.7M879.8 961.8h.7M871.2 972.9h.7M877.2 970.8h.7M891.6 958.8h.7M881.1 963.2h.7M886.0 958.9h.7M891.9 959.3h.7M849.9 986.0h.7M902.4 949.6h.7M879.9 962.1h.7M871.5 972.7h.7M875.0 967.4h.7M878.8 959.7h.7M871.7 975.2h.7M863.7 977.7h.7M880.4 966.4h.7M890.5 961.4h.7M859.7 972.9h.7M883.4 967.1h.7M893.8 954.2h.7M869.2 972.9h.7M892.7 952.5h.7M877.0 961.0h.7M871.2 973.4h.7M889.2 962.6h.7M888.8 957.1h.7M892.7 954.3h.7M908.3 948.8h.7M877.8 969.5h.7M880.2 962.8h.7M866.6 972.1h.7M894.9 953.3h.7M863.4 976.2h.7M888.6 962.8h.7M874.1 972.5h.7M863.4 977.3h.7M894.3 952.8h.7M873.2 971.3h.7M877.4 959.9h.7M875.2 967.4h.7M875.4 964.4h.7M870.6 970.9h.7M875.9 966.4h.7M864.4 978.4h.7M893.6 952.0h.7M863.6 967.8h.7M887.5 960.7h.7M879.0 970.3h.7M897.7 946.2h.7M901.2 953.1h.7M862.9 988.3h.7M864.6 980.2h.7M870.3 980.5h.7M888.9 961.6h.7M882.6 958.6h.7M872.3 974.1h.7M899.5 956.7h.7M877.4 972.7h.7M879.5 968.8h.7M884.3 964.5h.7M896.9 955.8h.7M878.3 964.4h.7M871.2 975.6h.7M880.0 967.6h.7M891.8 959.6h.7M861.0 978.4h.7M871.9 975.2h.7M875.2 965.1h.7M890.0 957.2h.7M884.8 963.9h.7M899.6 946.0h.7M868.6 971.2h.7M865.9 980.5h.7M869.0 967.9h.7M905.0 945.9h.7M872.0 966.6h.7M871.0 966.3h.7M867.1 972.0h.7M867.5 968.5h.7M883.8 965.6h.7M887.1 970.4h.7M880.4 962.8h.7M912.0 945.0h.7M893.1 950.0h.7M890.5 958.9h.7M884.7 965.6h.7M886.8 965.4h.7M874.6 969.8h.7M872.6 977.1h.7M879.5 965.0h.7M888.2 957.5h.7M901.5 948.9h.7M899.4 954.7h.7M887.7 956.6h.7M905.2 948.4h.7M904.1 947.1h.7M879.3 973.4h.7M893.4 957.5h.7M891.1 956.2h.7M890.7 957.0h.7M873.5 972.8h.7M880.2 963.8h.7M869.7 970.0h.7M858.8 988.2h.7M888.9 957.3h.7M904.1 942.1h.7M871.0 977.6h.7M881.5 964.9h.7M891.2 959.1h.7M873.8 973.9h.7M882.5 967.5h.7M877.9 964.3h.7M881.1 969.6h.7M885.9 957.8h.7M871.0 974.7h.7M863.3 983.6h.7M869.7 979.9h.7M868.9 966.5h.7M896.1 955.0h.7M886.1 960.7h.7M886.2 969.4h.7M881.1 970.0h.7M875.3 970.0h.7M840.9 1008.0h.7M883.0 957.8h.7M894.0 959.7h.7M874.4 967.7h.7M882.6 973.5h.7M891.5 959.7h.7M884.0 970.4h.7M863.9 973.6h.7M873.9 968.8h.7M900.9 949.2h.7M881.7 965.7h.7M890.4 956.2h.7M883.0 956.7h.7M884.6 956.9h.7M870.7 974.4h.7M890.9 960.8h.7M863.0 979.8h.7M873.7 969.2h.7M901.8 950.6h.7M867.8 976.9h.7M874.5 972.6h.7M893.8 952.5h.7M886.1 962.1h.7M893.1 955.9h.7M902.2 948.2h.7M878.4 964.1h.7M911.0 948.9h.7M889.1 963.9h.7M861.2 982.8h.7M894.8 961.3h.7M871.8 964.6h.7M897.3 953.7h.7M888.9 958.6h.7M875.2 973.3h.7M897.9 954.6h.7M879.9 968.2h.7M862.3 980.9h.7M906.3 949.5h.7M877.4 962.9h.7M886.5 960.9h.7M887.5 958.7h.7M881.5 968.3h.7M878.6 974.6h.7M882.8 964.7h.7M876.0 976.0h.7M877.7 975.8h.7M890.6 962.7h.7M872.9 974.2h.7M855.6 986.6h.7M875.1 973.0h.7M870.2 970.3h.7M866.2 976.4h.7M863.9 984.0h.7M849.0 990.5h.7M861.4 979.0h.7M859.6 977.4h.7M848.8 988.8h.7M855.9 981.0h.7M850.9 988.9h.7M876.6 974.5h.7M856.9 978.9h.7M855.7 984.1h.7M863.3 982.8h.7M862.3 974.0h.7M848.7 991.7h.7M856.4 977.4h.7M858.9 985.9h.7M851.2 990.3h.7M848.9 984.2h.7M873.0 972.8h.7M863.9 972.9h.7M856.9 990.9h.7M855.2 987.0h.7M865.9 985.2h.7M859.0 991.0h.7M854.9 992.3h.7M861.2 981.8h.7M872.6 971.0h.7M858.3 979.0h.7M855.0 991.0h.7M857.3 983.4h.7M864.0 968.2h.7M853.9 988.3h.7M857.0 983.2h.7M850.0 991.0h.7M846.7 988.2h.7M860.2 983.6h.7M845.2 984.3h.7M871.1 982.6h.7M874.9 974.0h.7M853.0 989.6h.7M854.7 984.3h.7M846.9 989.6h.7M845.2 987.7h.7M872.9 977.3h.7M859.7 987.9h.7M868.9 973.8h.7M858.4 989.1h.7M871.4 973.8h.7M855.1 982.1h.7M872.4 972.6h.7M852.9 989.7h.7M855.7 987.6h.7M863.3 976.2h.7M862.6 977.6h.7M858.1 983.7h.7M859.1 991.5h.7M868.8 975.3h.7M866.8 982.8h.7M863.6 980.1h.7M858.0 990.6h.7M866.3 978.6h.7M875.0 975.2h.7M858.7 988.8h.7M865.3 980.1h.7M852.9 989.2h.7M863.3 981.7h.7M861.4 984.2h.7M879.1 975.2h.7M851.8 985.0h.7M862.8 982.8h.7M847.4 990.6h.7M856.2 987.9h.7M855.7 985.6h.7M853.7 984.0h.7M864.6 983.4h.7M871.2 968.1h.7M876.0 974.4h.7M866.0 973.2h.7M869.0 977.6h.7M868.1 974.5h.7M867.7 980.1h.7M846.7 988.0h.7M865.3 969.2h.7M853.6 994.3h.7M866.7 976.7h.7M865.7 980.3h.7M852.5 988.3h.7M854.7 985.7h.7M874.6 977.4h.7M876.8 973.1h.7M849.0 986.0h.7M869.3 982.6h.7M855.7 983.8h.7M855.9 981.7h.7M855.9 988.5h.7M857.1 990.2h.7M855.3 993.0h.7M866.2 977.6h.7M862.8 974.6h.7M861.9 985.3h.7M869.5 977.0h.7M853.5 991.0h.7M858.6 985.0h.7M859.2 990.1h.7M860.2 977.2h.7M858.8 980.9h.7M868.7 974.7h.7M875.3 971.4h.7M846.3 981.3h.7M854.8 989.4h.7M852.8 982.5h.7M865.3 970.9h.7M874.2 969.9h.7M871.1 977.4h.7M858.4 985.9h.7M865.3 974.3h.7M858.7 988.7h.7M870.9 975.9h.7M862.9 985.0h.7M859.1 980.6h.7M867.1 974.8h.7M847.5 990.8h.7M857.4 981.2h.7M867.6 981.2h.7M873.2 970.5h.7M855.0 989.6h.7M862.2 980.0h.7M846.7 987.4h.7M858.6 984.2h.7M853.0 991.3h.7M867.1 973.7h.7M860.6 973.4h.7M874.9 975.5h.7M855.0 987.5h.7M847.5 989.6h.7M849.9 991.4h.7M876.5 974.9h.7M874.1 972.6h.7M868.2 976.2h.7M864.3 975.6h.7M866.4 976.9h.7M860.2 979.2h.7M847.9 990.1h.7M854.3 992.9h.7M864.5 980.5h.7M859.9 983.6h.7M873.0 978.8h.7M852.9 986.2h.7M877.0 971.7h.7M849.7 995.4h.7M855.2 981.8h.7M852.2 988.6h.7M854.5 987.7h.7M854.2 984.9h.7M859.9 979.0h.7M872.4 968.6h.7M916.2 922.3h.7M929.3 929.1h.7M920.9 931.9h.7M906.6 927.3h.7M920.6 926.2h.7M932.0 929.4h.7M923.5 925.3h.7M921.7 927.3h.7M923.9 924.3h.7M911.1 929.4h.7M920.2 927.0h.7M919.2 921.7h.7M931.5 924.2h.7M909.4 928.2h.7M930.9 929.6h.7M915.3 925.5h.7M924.8 927.6h.7M904.7 929.9h.7M903.6 927.9h.7M922.3 928.7h.7M920.4 928.9h.7M922.1 925.4h.7M914.5 930.0h.7M903.8 928.6h.7M914.6 923.6h.7M912.4 928.1h.7M896.5 929.0h.7M929.9 926.3h.7M916.6 927.3h.7M927.0 925.1h.7M915.6 927.9h.7M907.1 927.8h.7M919.1 928.8h.7M910.2 927.1h.7M922.8 927.3h.7M910.7 929.5h.7M918.8 927.5h.7M920.1 928.6h.7M920.4 925.8h.7M926.6 927.0h.7M920.5 927.6h.7M909.9 927.4h.7M922.2 924.3h.7M917.2 927.1h.7M925.4 926.6h.7M920.3 928.5h.7M909.6 925.7h.7M917.3 928.7h.7M930.9 927.4h.7M918.9 926.2h.7M920.6 930.6h.7M918.7 926.2h.7M932.9 927.0h.7M918.3 925.5h.7M928.6 926.8h.7M904.5 922.9h.7M922.5 926.1h.7M923.7 928.2h.7M932.4 930.1h.7M910.8 926.6h.7M913.3 929.0h.7M907.6 928.5h.7M905.5 929.3h.7M929.3 923.9h.7M919.8 926.0h.7M905.9 929.1h.7M913.2 929.3h.7M923.6 930.9h.7M915.9 928.9h.7M921.3 926.4h.7M928.5 927.3h.7M916.0 927.6h.7M908.8 929.4h.7M933.7 924.2h.7M920.7 926.5h.7M913.9 928.9h.7M934.0 927.8h.7M917.3 930.7h.7M916.9 925.8h.7M914.9 929.1h.7M920.3 927.5h.7M914.6 927.9h.7M919.4 930.8h.7M919.4 925.2h.7M933.7 927.8h.7M919.5 928.2h.7M920.1 922.9h.7M919.5 929.8h.7M927.5 925.6h.7M917.0 928.2h.7M937.0 928.0h.7M921.8 926.0h.7M916.5 926.2h.7M919.7 925.3h.7M916.5 924.9h.7M929.2 928.5h.7M918.4 926.7h.7M926.2 927.6h.7M915.9 921.8h.7M904.4 928.5h.7M918.2 925.7h.7M904.8 928.5h.7M910.1 927.5h.7M919.0 926.1h.7M910.2 927.8h.7M908.3 926.0h.7M918.6 929.5h.7M916.1 927.5h.7M924.6 922.3h.7M911.9 926.5h.7M913.7 928.8h.7M915.3 928.4h.7M927.3 926.6h.7M922.6 930.1h.7M927.6 927.3h.7M905.7 925.8h.7M919.0 927.9h.7M921.1 927.2h.7M911.2 928.4h.7M927.6 927.1h.7M920.2 928.9h.7M916.6 928.0h.7M927.8 925.8h.7M919.2 925.6h.7M910.7 923.4h.7M922.4 932.2h.7M917.0 930.4h.7M928.5 926.4h.7M927.4 926.4h.7M902.5 929.0h.7M917.7 926.8h.7M925.9 929.2h.7M918.3 927.8h.7M922.7 925.6h.7M926.3 926.1h.7M923.4 929.2h.7M928.1 923.4h.7M914.0 926.6h.7M913.5 927.0h.7M919.2 927.4h.7M938.9 927.8h.7M920.5 925.7h.7M918.1 926.8h.7M925.2 924.8h.7M918.2 925.1h.7M905.9 928.7h.7M918.5 928.0h.7M933.7 930.2h.7M919.3 927.9h.7M915.9 926.8h.7M907.1 928.8h.7M920.7 929.3h.7M935.0 925.5h.7M921.4 926.8h.7M930.3 926.8h.7M934.0 932.0h.7M937.0 931.3h.7M923.1 927.4h.7M908.7 927.7h.7M906.8 925.3h.7M930.2 929.3h.7M911.0 931.8h.7M911.0 925.0h.7M932.2 930.5h.7M918.5 928.6h.7M907.2 928.9h.7M915.7 929.3h.7M914.9 926.3h.7M926.0 928.6h.7M917.0 924.3h.7M922.7 930.1h.7M926.5 924.5h.7M920.8 927.8h.7M932.8 926.9h.7M917.9 930.5h.7M909.6 925.9h.7M912.1 929.5h.7M913.8 928.6h.7M913.8 930.2h.7M924.2 925.9h.7M925.5 927.9h.7M920.1 925.3h.7M935.7 927.5h.7M917.0 927.5h.7M919.7 924.8h.7M928.9 924.1h.7M927.5 923.5h.7M908.6 929.7h.7M907.9 927.3h.7M922.2 930.0h.7M934.5 929.0h.7M924.5 929.6h.7M928.3 924.1h.7M925.2 925.6h.7M941.5 929.7h.7M914.2 931.0h.7M912.3 928.4h.7M909.8 926.6h.7M921.9 924.6h.7M924.9 929.4h.7M933.3 929.4h.7M923.4 928.9h.7M913.5 926.2h.7M931.4 925.0h.7M915.5 929.1h.7M919.1 924.8h.7M914.9 925.9h.7M909.8 926.1h.7M926.1 926.1h.7M921.6 925.9h.7M918.3 928.6h.7M923.2 926.8h.7M917.7 929.4h.7M916.8 924.4h.7M925.8 928.6h.7M919.0 926.1h.7M930.9 929.8h.7M923.2 927.2h.7M925.8 930.8h.7M914.8 929.0h.7M903.0 926.2h.7M925.1 927.6h.7M910.2 928.9h.7M925.8 928.8h.7M917.1 926.9h.7M918.4 927.9h.7M920.9 927.1h.7M926.0 929.6h.7M921.2 929.8h.7M906.2 932.4h.7M912.8 926.4h.7M923.8 929.3h.7M921.8 924.1h.7M917.1 924.9h.7M927.5 926.4h.7M900.1 925.8h.7M922.2 925.0h.7M923.8 923.9h.7M917.6 929.2h.7M920.2 925.3h.7M913.8 929.2h.7M925.6 928.0h.7M926.1 927.1h.7M920.2 927.0h.7M916.3 929.5h.7M912.2 931.7h.7M926.5 926.8h.7M931.9 930.7h.7M922.6 924.9h.7M920.9 927.3h.7M915.1 924.4h.7M912.6 927.6h.7M918.6 929.1h.7M909.9 928.6h.7M913.4 928.2h.7M921.7 930.2h.7M924.7 926.7h.7M921.5 924.4h.7M920.4 928.3h.7M922.3 926.3h.7M922.5 927.8h.7M923.0 925.4h.7M926.5 927.2h.7M910.5 927.0h.7M929.5 930.4h.7M917.7 925.7h.7M917.2 928.6h.7M931.1 927.6h.7M918.0 930.2h.7M923.7 925.7h.7M918.1 929.1h.7M917.3 927.3h.7M914.3 928.3h.7M931.8 929.7h.7M916.7 925.0h.7M931.8 928.7h.7M907.4 930.1h.7M916.2 926.0h.7M920.0 924.5h.7M910.9 930.1h.7M917.6 928.2h.7M930.8 928.0h.7M919.1 928.4h.7M933.4 928.3h.7M916.9 931.1h.7M931.8 924.9h.7M923.0 932.0h.7M908.4 924.5h.7M925.9 926.3h.7M907.4 930.3h.7M918.9 928.1h.7M930.1 927.8h.7M912.8 931.8h.7M928.1 927.4h.7M917.2 924.6h.7M925.8 924.7h.7M934.9 923.4h.7M927.1 925.1h.7M911.7 928.7h.7M921.0 928.7h.7M927.8 922.4h.7M955.5 921.1h.7M926.8 909.4h.7M956.8 918.3h.7M947.9 920.7h.7M957.1 922.7h.7M919.1 922.8h.7M921.7 914.8h.7M929.8 918.4h.7M920.9 916.0h.7M922.9 909.1h.7M936.5 913.4h.7M918.7 910.6h.7M912.6 917.7h.7M951.5 920.7h.7M943.6 913.2h.7M949.5 917.0h.7M932.1 918.8h.7M912.5 917.3h.7M953.3 921.8h.7M952.5 919.0h.7M932.5 914.3h.7M915.4 921.0h.7M952.4 916.1h.7M936.4 923.7h.7M909.2 911.8h.7M935.2 916.8h.7M937.6 911.1h.7M923.4 919.2h.7M950.7 914.9h.7M934.9 914.9h.7M950.5 918.4h.7M911.9 911.0h.7M913.8 918.6h.7M909.8 922.8h.7M920.6 923.0h.7M905.4 914.6h.7M939.3 916.5h.7M955.4 916.5h.7M939.6 921.2h.7M951.8 912.6h.7M940.0 913.3h.7M936.7 918.2h.7M924.0 909.0h.7M953.3 914.5h.7M949.2 923.7h.7M935.3 916.3h.7M942.1 921.4h.7M917.0 921.6h.7M916.9 923.7h.7M926.3 909.9h.7M938.0 910.8h.7M949.6 913.9h.7M939.8 910.9h.7M912.4 913.8h.7M931.0 918.0h.7M944.0 908.5h.7M940.1 914.1h.7M938.9 915.2h.7M955.2 916.6h.7M947.4 920.5h.7M938.1 908.7h.7M932.5 921.1h.7M917.9 906.8h.7M945.9 921.6h.7M903.2 923.6h.7M913.2 916.7h.7M931.8 922.4h.7M911.7 919.7h.7M915.7 920.4h.7M953.9 927.5h.7M960.0 927.3h.7M939.7 926.8h.7M956.9 926.1h.7M928.5 927.7h.7M940.2 930.2h.7M954.4 927.2h.7M945.6 928.0h.7M947.0 928.9h.7M945.6 927.7h.7M942.9 927.6h.7M944.9 924.6h.7M940.7 927.8h.7M949.3 925.0h.7M953.5 925.9h.7M952.0 928.9h.7M963.6 926.5h.7M963.9 927.1h.7M952.3 927.8h.7M960.0 924.7h.7M943.0 928.7h.7M944.9 926.0h.7M935.0 928.6h.7M941.3 928.1h.7M941.8 925.0h.7M951.4 924.8h.7M955.5 929.0h.7M950.2 927.3h.7M960.2 925.6h.7M949.2 928.8h.7M960.4 924.5h.7M964.0 927.6h.7M950.0 925.1h.7M949.5 927.2h.7M968.2 927.9h.7M956.5 926.3h.7M932.5 929.4h.7M929.2 927.0h.7M928.5 929.4h.7M953.6 925.1h.7M944.8 927.5h.7M965.6 928.1h.7M954.1 927.9h.7M931.6 928.2h.7M963.8 928.4h.7M945.9 924.8h.7M941.2 928.5h.7M942.3 927.9h.7M944.2 926.3h.7M963.6 928.5h.7M943.8 927.9h.7M939.1 926.6h.7M961.0 927.2h.7M969.1 926.7h.7M947.6 925.3h.7M964.9 927.8h.7M943.4 927.7h.7M964.8 925.9h.7M945.2 927.2h.7M930.9 928.1h.7M944.2 928.9h.7M969.3 927.7h.7M940.0 927.6h.7M953.7 925.2h.7M960.2 924.3h.7M934.7 928.0h.7M956.3 926.0h.7M937.6 927.5h.7M967.3 925.4h.7M948.8 926.0h.7M946.1 948.3h.7M955.9 945.8h.7M935.5 948.7h.7M957.3 947.2h.7M943.3 949.9h.7M949.9 951.2h.7M901.3 952.8h.7M948.0 948.3h.7M930.1 953.3h.7M907.1 955.1h.7M913.8 951.7h.7M910.4 952.9h.7M909.0 951.2h.7M906.3 951.5h.7M945.2 949.2h.7M937.0 950.3h.7M921.7 949.8h.7M959.9 949.1h.7M941.9 950.8h.7M926.8 951.1h.7M949.4 950.3h.7M925.8 946.9h.7M903.0 953.0h.7M925.7 949.1h.7M916.2 949.7h.7M950.9 948.4h.7M934.9 950.4h.7M906.7 952.3h.7M902.1 949.8h.7M903.3 953.1h.7M922.1 949.2h.7M911.2 952.6h.7M959.1 944.4h.7M941.9 949.9h.7M953.1 948.1h.7M941.6 950.3h.7M922.1 950.1h.7M945.8 946.5h.7M911.7 952.0h.7M923.8 952.4h.7M951.9 943.2h.7M925.0 951.0h.7M922.5 950.5h.7M946.3 952.7h.7M907.3 952.6h.7M900.4 951.6h.7M934.2 952.0h.7M906.4 954.3h.7M909.0 953.1h.7M923.6 950.1h.7M927.8 954.1h.7M902.3 949.0h.7M924.1 946.7h.7M906.5 954.3h.7M935.4 949.6h.7M914.8 952.8h.7M902.3 952.4h.7M946.2 953.0h.7M910.8 950.6h.7M953.8 949.0h.7M922.2 956.3h.7M913.9 953.4h.7M938.7 948.6h.7M956.3 952.7h.7M940.8 950.7h.7M915.9 953.0h.7M937.3 951.7h.7M913.7 954.1h.7M928.4 952.0h.7M940.5 952.2h.7M929.6 951.1h.7M949.3 949.8h.7M923.8 950.0h.7M937.7 952.8h.7M955.7 947.8h.7M906.0 954.7h.7M941.2 951.4h.7M912.4 952.3h.7M953.8 949.9h.7M930.2 951.7h.7M919.6 950.1h.7M909.8 955.1h.7M907.8 952.1h.7M900.8 956.6h.7M907.3 952.0h.7M919.3 952.9h.7M902.9 954.7h.7M949.3 948.8h.7M924.7 951.2h.7M948.5 950.6h.7M919.1 954.6h.7M953.8 947.2h.7M906.8 953.3h.7M908.0 954.3h.7M912.2 953.5h.7M956.5 946.2h.7M956.5 948.2h.7M901.2 955.4h.7M961.8 948.8h.7M942.3 953.1h.7M950.4 950.8h.7M920.6 950.5h.7M933.3 950.6h.7M917.1 953.6h.7M908.9 952.7h.7M919.8 954.7h.7M906.5 952.4h.7M947.0 950.3h.7M908.8 951.4h.7M940.1 946.1h.7M958.9 947.1h.7M946.7 951.7h.7M953.2 949.2h.7M942.4 952.0h.7M946.4 948.6h.7M948.8 947.5h.7M916.2 951.1h.7M949.7 950.5h.7M905.0 956.1h.7M919.2 949.4h.7M936.5 950.0h.7M911.3 951.5h.7M956.5 949.6h.7M948.6 948.0h.7M903.2 951.1h.7M905.2 955.2h.7M901.0 957.9h.7M909.2 952.2h.7M909.4 953.8h.7M926.7 947.4h.7M938.6 951.6h.7M902.5 951.4h.7M923.9 947.8h.7M926.3 953.6h.7M946.9 951.5h.7M958.7 948.2h.7M923.1 955.2h.7M905.7 951.6h.7M945.7 950.8h.7M946.0 942.2h.7M905.7 955.3h.7M923.4 950.1h.7M901.0 953.4h.7M944.2 945.9h.7M902.7 952.6h.7M959.0 950.7h.7M937.5 952.7h.7M905.4 953.6h.7M900.6 954.3h.7M953.0 951.1h.7M934.2 952.0h.7M915.5 950.5h.7M941.5 951.2h.7M910.9 953.6h.7M917.0 949.3h.7M958.3 949.8h.7M907.7 952.7h.7M942.9 949.9h.7M921.5 952.0h.7M908.5 946.1h.7M928.8 951.4h.7M912.5 954.4h.7M918.9 952.9h.7M956.0 947.7h.7M950.9 947.4h.7M916.9 948.4h.7M936.7 947.6h.7M914.5 948.2h.7M908.3 952.9h.7M909.1 953.9h.7M905.2 954.0h.7M956.4 948.6h.7M950.8 951.1h.7M912.6 952.4h.7M954.6 949.5h.7M908.5 951.0h.7M944.1 952.0h.7M953.7 947.4h.7M903.5 951.8h.7M958.8 946.8h.7M941.7 952.0h.7M938.8 950.6h.7M947.3 952.5h.7M921.5 955.4h.7M914.5 956.4h.7M956.3 953.1h.7M904.3 950.5h.7M907.5 953.7h.7M932.1 951.5h.7M932.8 951.2h.7M922.5 950.4h.7M910.6 951.9h.7M955.7 949.8h.7M938.7 948.7h.7M909.9 952.7h.7M935.8 948.5h.7M920.8 948.5h.7M935.2 949.7h.7M956.2 947.2h.7M933.6 952.4h.7M924.4 986.5h.7M902.8 986.5h.7M928.5 955.0h.7M852.7 996.6h.7M851.2 959.2h.7M855.3 966.2h.7M920.3 928.2h.7M893.1 956.0h.7M909.6 993.4h.7M910.0 930.1h.7M879.3 960.7h.7M861.0 990.5h.7M880.0 952.7h.7M865.9 966.1h.7M922.8 934.0h.7M893.3 948.0h.7M851.5 955.6h.7M906.5 972.0h.7M940.9 978.6h.7M934.6 980.5h.7M911.1 993.5h.7M928.4 982.6h.7M876.8 946.9h.7M928.4 927.5h.7M882.9 988.8h.7M873.6 963.2h.7M878.8 973.9h.7M925.0 930.1h.7M884.8 990.2h.7M885.1 999.4h.7M871.5 963.7h.7M862.1 991.1h.7M891.5 987.9h.7M911.5 945.4h.7M927.2 930.7h.7M934.2 984.8h.7M869.0 969.0h.7M878.9 960.9h.7M936.3 959.8h.7M901.2 928.9h.7" stroke="#ff0000" stroke-width="1.1" stroke-opacity="0.7" fill="none"/>
</g>
<line x1="905.0" y1="844.6" x2="905.0" y2="1009.5" stroke="#9a9a9a" stroke-width="1.1"/>
<line x1="844.2" y1="944.5" x2="1007.4" y2="944.5" stroke="#9a9a9a" stroke-width="1.1"/>
<rect x="1061.9" y="841.6" width="164.8" height="167.9" fill="#fff" stroke="#b4b4b4" stroke-width="1.3"/>
<g clip-path="url(#fc4)">
<ellipse cx="1100.6" cy="965.0" rx="24.7" ry="5.0" fill="#ff0000" opacity="0.95" filter="url(#blur2)" transform="rotate(-38 1100.6 965.0)"/>
<path d="M1100.2 963.4h.7M1094.2 968.6h.7M1111.2 954.8h.7M1121.7 952.0h.7M1102.9 966.2h.7M1091.3 973.2h.7M1102.5 961.7h.7M1102.4 954.1h.7M1114.5 960.8h.7M1104.4 964.6h.7M1091.6 966.6h.7M1101.8 972.4h.7M1105.1 962.7h.7M1088.0 979.0h.7M1093.0 971.2h.7M1095.2 969.0h.7M1124.9 949.1h.7M1091.2 973.6h.7M1115.6 956.1h.7M1121.0 954.4h.7M1088.0 975.3h.7M1091.2 975.1h.7M1104.7 958.7h.7M1102.6 964.6h.7M1116.4 950.7h.7M1095.3 964.1h.7M1089.2 973.4h.7M1108.8 958.6h.7M1092.8 969.7h.7M1095.2 971.9h.7M1085.4 971.6h.7M1091.5 967.3h.7M1105.9 962.0h.7M1108.3 957.7h.7M1105.0 967.4h.7M1099.7 961.9h.7M1104.6 957.6h.7M1118.2 949.3h.7M1128.1 949.6h.7M1102.8 974.0h.7M1110.6 956.7h.7M1122.2 949.4h.7M1073.0 981.5h.7M1086.7 981.5h.7M1097.2 965.1h.7M1094.0 969.5h.7M1073.9 978.9h.7M1099.6 965.3h.7M1107.5 958.8h.7M1105.0 965.5h.7M1098.3 965.0h.7M1113.7 955.1h.7M1101.1 963.2h.7M1107.3 958.8h.7M1098.5 968.8h.7M1113.9 953.2h.7M1093.8 955.6h.7M1109.8 954.1h.7M1104.6 966.2h.7M1114.8 954.1h.7M1099.2 961.8h.7M1112.7 954.4h.7M1096.6 959.3h.7M1109.8 962.1h.7M1109.6 957.2h.7M1099.6 962.9h.7M1099.5 957.4h.7M1102.6 962.3h.7M1116.1 955.1h.7M1113.3 955.2h.7M1117.0 955.6h.7M1109.0 965.1h.7M1095.2 969.3h.7M1102.7 954.9h.7M1126.0 950.5h.7M1088.7 969.1h.7M1108.8 964.3h.7M1108.9 963.2h.7M1092.6 976.8h.7M1092.9 961.6h.7M1105.5 961.6h.7M1132.6 941.5h.7M1099.3 967.2h.7M1106.4 961.7h.7M1119.2 951.5h.7M1107.1 958.9h.7M1092.0 976.0h.7M1104.7 971.6h.7M1100.7 964.6h.7M1102.6 963.8h.7M1105.7 962.4h.7M1111.8 963.0h.7M1113.6 958.4h.7M1107.6 961.5h.7M1097.0 971.3h.7M1119.4 954.7h.7M1085.3 976.2h.7M1103.7 962.3h.7M1090.1 976.2h.7M1113.9 958.9h.7M1106.7 957.1h.7M1104.7 966.9h.7M1123.8 946.0h.7M1103.8 964.1h.7M1089.5 975.0h.7M1104.8 965.3h.7M1099.8 960.8h.7M1106.2 961.0h.7M1111.7 952.3h.7M1113.3 958.3h.7M1076.7 980.7h.7M1102.1 965.4h.7M1107.5 961.4h.7M1089.4 966.3h.7M1079.4 978.3h.7M1109.5 950.4h.7M1102.7 961.2h.7M1089.4 973.8h.7M1076.0 987.0h.7M1100.5 965.5h.7M1092.4 966.6h.7M1080.9 980.2h.7M1095.7 968.8h.7M1097.4 959.3h.7M1084.8 971.9h.7M1118.1 951.6h.7M1095.6 974.2h.7M1085.9 968.0h.7M1073.1 985.0h.7M1088.3 966.8h.7M1107.3 965.5h.7M1093.9 969.5h.7M1104.1 966.3h.7M1098.1 969.0h.7M1106.0 959.5h.7M1104.6 964.3h.7M1111.5 958.8h.7M1091.3 974.2h.7M1097.3 969.0h.7M1074.2 980.3h.7M1105.6 955.4h.7M1094.3 966.9h.7M1103.0 963.0h.7M1123.9 949.0h.7M1111.2 963.9h.7M1107.9 959.9h.7M1089.4 976.5h.7M1076.8 988.5h.7M1108.0 970.3h.7M1112.0 951.8h.7M1094.4 976.2h.7M1086.0 982.0h.7M1087.0 966.6h.7M1085.2 974.0h.7M1117.9 955.3h.7M1096.0 965.8h.7M1090.1 968.1h.7M1127.1 944.1h.7M1089.3 971.5h.7M1106.3 963.7h.7M1098.7 966.1h.7M1104.5 957.0h.7M1097.3 973.2h.7M1076.9 976.0h.7M1096.3 970.2h.7M1128.7 937.9h.7M1128.6 943.5h.7M1093.2 973.1h.7M1107.8 957.5h.7M1101.0 955.1h.7M1119.5 954.6h.7M1104.8 959.1h.7M1086.8 966.1h.7M1108.9 952.0h.7M1096.4 973.2h.7M1110.3 958.1h.7M1093.7 970.9h.7M1102.9 962.6h.7M1097.1 965.8h.7M1134.0 933.4h.7M1090.2 964.6h.7M1097.8 973.8h.7M1087.7 984.0h.7M1117.1 956.6h.7M1084.1 980.6h.7M1100.6 970.4h.7M1093.5 970.7h.7M1110.5 961.2h.7M1106.9 958.9h.7M1108.4 961.1h.7M1084.2 974.0h.7M1109.1 961.2h.7M1089.4 971.0h.7M1124.7 944.3h.7M1131.1 939.5h.7M1103.8 960.4h.7M1117.0 958.4h.7M1099.8 960.3h.7M1080.7 979.9h.7M1106.3 953.2h.7M1120.0 949.7h.7M1128.4 947.6h.7M1080.5 975.3h.7M1111.2 961.5h.7M1112.3 952.0h.7M1110.5 959.1h.7M1088.2 982.2h.7M1098.2 967.6h.7M1095.4 971.6h.7M1114.4 959.0h.7M1087.3 967.1h.7M1094.0 973.0h.7M1117.4 959.4h.7M1123.3 952.5h.7M1092.9 976.7h.7M1090.2 976.5h.7M1112.3 956.1h.7M1116.1 949.4h.7M1085.1 977.3h.7M1093.9 972.2h.7M1101.3 962.9h.7M1110.3 966.4h.7M1099.6 967.9h.7M1124.0 947.5h.7M1100.1 965.4h.7M1112.6 960.4h.7M1099.2 966.7h.7M1100.8 966.0h.7M1093.6 970.2h.7M1080.8 973.9h.7M1104.1 970.1h.7M1095.1 965.4h.7M1098.4 967.5h.7M1069.2 984.0h.7M1105.3 969.8h.7M1092.0 965.7h.7M1108.4 965.3h.7M1093.1 970.0h.7M1125.8 944.0h.7M1110.3 958.7h.7M1103.2 967.3h.7M1086.9 981.8h.7M1090.7 967.6h.7M1097.6 962.3h.7M1109.8 957.1h.7M1089.9 964.3h.7M1112.1 950.6h.7M1128.5 936.4h.7M1102.6 961.8h.7M1102.9 953.6h.7M1091.7 980.0h.7M1094.6 969.8h.7M1091.4 968.4h.7M1108.1 959.2h.7M1097.6 959.2h.7M1121.9 940.6h.7M1093.5 965.4h.7M1090.1 981.3h.7M1120.1 945.7h.7M1106.2 954.5h.7M1120.8 947.7h.7M1102.9 960.6h.7M1110.9 956.0h.7M1078.9 971.6h.7M1092.6 973.9h.7M1108.3 959.1h.7M1102.4 953.2h.7M1119.4 952.0h.7M1104.9 961.8h.7M1118.3 954.8h.7M1092.3 978.7h.7M1106.3 958.7h.7M1108.0 955.4h.7M1086.6 977.7h.7M1084.9 972.2h.7M1114.5 960.1h.7M1107.3 959.1h.7M1100.9 961.7h.7M1094.0 971.6h.7M1093.9 973.1h.7M1085.5 972.0h.7M1108.6 959.6h.7M1075.8 975.0h.7M1100.8 963.9h.7M1105.4 953.8h.7M1102.0 973.9h.7M1097.0 967.8h.7M1090.8 966.5h.7M1094.6 968.3h.7M1089.3 970.7h.7M1090.6 969.3h.7M1102.2 962.9h.7M1108.1 965.9h.7M1094.8 968.6h.7M1093.7 965.3h.7M1113.2 958.0h.7M1115.9 953.7h.7M1105.2 956.0h.7M1088.8 977.9h.7M1100.6 965.9h.7M1078.8 979.4h.7M1102.5 962.5h.7M1103.2 959.7h.7M1090.1 971.9h.7M1096.6 970.2h.7M1087.7 970.1h.7M1072.1 990.7h.7M1110.0 958.8h.7M1090.7 968.4h.7M1089.8 974.7h.7M1107.0 962.1h.7M1094.3 969.6h.7M1114.8 957.6h.7M1107.6 959.7h.7M1099.3 971.7h.7M1121.1 946.2h.7M1104.8 962.9h.7M1122.1 950.6h.7M1089.9 976.8h.7M1099.6 964.4h.7M1075.6 983.6h.7M1102.0 959.3h.7M1093.7 964.1h.7M1126.7 946.5h.7M1095.6 964.7h.7M1115.7 952.9h.7M1118.2 957.6h.7M1111.5 954.4h.7M1111.0 954.6h.7M1110.1 959.3h.7M1122.2 956.6h.7M1105.3 963.9h.7M1127.2 948.6h.7M1102.4 963.6h.7M1110.8 956.8h.7M1088.0 975.6h.7M1113.8 951.2h.7M1094.5 975.1h.7M1085.3 977.6h.7M1099.7 967.2h.7M1094.1 969.3h.7M1115.1 949.1h.7M1093.9 966.9h.7M1095.2 963.7h.7M1111.7 952.1h.7M1126.3 940.1h.7M1109.4 952.0h.7M1088.8 975.7h.7M1094.9 965.7h.7M1103.9 967.6h.7M1091.9 972.7h.7M1096.2 970.4h.7M1082.5 978.8h.7M1085.7 978.4h.7M1093.9 971.6h.7M1119.5 951.7h.7M1100.9 975.3h.7M1089.5 972.7h.7M1095.4 965.7h.7M1095.6 965.5h.7M1102.0 959.2h.7M1095.7 965.0h.7M1096.6 971.4h.7M1117.8 957.1h.7M1086.2 969.4h.7M1102.3 962.0h.7M1103.8 962.5h.7M1125.3 945.1h.7M1118.6 950.6h.7M1092.9 972.2h.7M1096.2 957.4h.7M1092.5 969.5h.7M1080.8 978.3h.7M1098.4 965.0h.7M1102.9 965.0h.7M1101.7 964.0h.7M1113.9 954.7h.7M1102.0 969.4h.7M1112.1 956.5h.7M1087.2 970.5h.7M1112.4 955.7h.7M1104.2 967.7h.7M1071.4 987.6h.7M1081.0 977.8h.7M1096.0 967.6h.7M1093.3 969.0h.7M1110.3 956.7h.7M1108.6 955.3h.7M1102.4 970.7h.7M1109.8 960.2h.7M1091.8 979.8h.7M1076.2 978.7h.7M1120.1 943.8h.7M1129.8 949.9h.7M1112.9 961.1h.7M1081.3 977.7h.7M1114.1 958.1h.7M1083.6 985.3h.7M1096.4 964.6h.7M1124.4 944.2h.7M1090.2 978.0h.7M1099.9 962.9h.7M1075.0 984.2h.7M1091.0 969.1h.7M1078.0 979.0h.7M1115.4 947.3h.7M1119.5 949.5h.7M1104.1 967.0h.7M1101.8 967.6h.7M1106.5 957.2h.7M1095.6 962.3h.7M1085.1 979.8h.7M1122.2 949.0h.7M1114.3 965.1h.7M1120.4 952.3h.7M1090.2 969.2h.7M1105.0 969.0h.7M1119.0 954.5h.7M1097.4 970.4h.7M1095.8 970.7h.7M1097.0 970.0h.7M1130.6 939.9h.7M1109.1 960.9h.7M1121.5 946.2h.7M1102.8 965.8h.7M1113.8 961.9h.7M1092.5 973.0h.7M1104.6 961.3h.7M1081.1 978.1h.7M1096.0 971.0h.7M1102.7 964.9h.7M1095.7 970.7h.7M1108.7 958.5h.7M1104.5 964.8h.7M1114.5 953.5h.7M1089.1 969.7h.7M1085.0 980.6h.7M1111.2 958.5h.7M1097.3 969.3h.7M1099.7 963.9h.7M1109.3 961.1h.7M1098.5 975.2h.7M1093.4 968.8h.7M1098.4 961.8h.7M1096.6 967.2h.7M1113.4 959.8h.7M1120.0 955.5h.7M1100.8 972.7h.7M1099.0 970.7h.7M1116.3 961.2h.7M1105.3 959.8h.7M1105.2 957.2h.7M1112.4 959.5h.7M1109.4 961.2h.7M1092.7 972.6h.7M1095.6 971.6h.7M1113.0 955.0h.7M1078.8 985.8h.7M1089.7 964.2h.7M1104.5 964.3h.7M1110.5 967.0h.7M1119.8 951.3h.7M1087.1 972.4h.7M1093.0 975.9h.7M1106.3 952.3h.7M1096.2 968.9h.7M1098.1 965.4h.7M1095.1 969.0h.7M1091.1 973.2h.7M1113.5 961.2h.7M1105.8 953.7h.7M1092.9 972.8h.7M1101.9 964.2h.7M1085.6 973.6h.7M1106.1 956.4h.7M1110.3 959.9h.7M1099.8 968.3h.7M1132.9 941.0h.7M1108.3 952.6h.7M1098.6 965.7h.7M1102.3 957.0h.7M1085.3 976.1h.7M1105.0 959.7h.7M1089.0 970.4h.7M1108.4 963.0h.7M1083.8 970.1h.7M1096.2 975.2h.7M1107.7 964.0h.7M1099.3 964.0h.7M1092.2 977.6h.7M1125.9 950.4h.7M1086.4 976.5h.7M1105.9 961.2h.7M1087.9 971.4h.7M1088.7 978.0h.7M1106.6 956.0h.7M1104.3 958.3h.7M1103.7 959.2h.7M1093.4 973.8h.7M1105.5 957.0h.7M1097.1 971.0h.7M1096.7 963.6h.7M1100.0 966.6h.7M1099.3 967.3h.7M1107.7 961.2h.7M1102.6 964.5h.7M1091.1 972.5h.7M1107.5 966.7h.7M1103.0 962.2h.7M1101.1 969.0h.7M1091.3 969.6h.7M1087.8 971.1h.7M1095.0 968.0h.7M1063.3 992.5h.7M1105.9 967.6h.7M1113.6 956.7h.7M1083.7 972.7h.7M1115.4 948.9h.7M1108.7 953.8h.7M1079.8 982.2h.7M1116.5 950.0h.7M1102.7 964.4h.7M1098.1 970.2h.7M1105.0 973.3h.7M1113.2 954.9h.7M1065.8 992.7h.7M1103.5 963.2h.7M1107.3 956.4h.7M1111.3 963.6h.7M1076.1 987.9h.7M1115.2 961.3h.7M1095.5 971.6h.7M1101.9 970.7h.7M1108.0 960.3h.7M1111.5 955.8h.7M1098.2 962.7h.7M1115.4 951.1h.7M1091.2 971.0h.7M1112.0 952.6h.7M1118.1 946.1h.7M1091.9 963.0h.7M1107.9 956.2h.7M1105.7 966.1h.7M1075.2 982.4h.7M1109.6 950.7h.7M1090.7 973.2h.7M1093.4 967.9h.7M1093.3 974.2h.7M1083.2 979.6h.7M1115.2 958.5h.7M1092.6 965.4h.7M1095.2 978.0h.7M1087.5 972.0h.7M1102.9 967.0h.7M1090.2 968.0h.7M1081.1 974.7h.7M1094.5 967.4h.7M1089.5 977.5h.7M1130.3 942.0h.7M1087.7 973.1h.7M1094.1 974.3h.7M1091.1 974.9h.7M1120.5 956.1h.7M1109.1 965.2h.7M1108.9 960.6h.7M1108.8 959.5h.7M1110.8 953.9h.7M1104.5 959.2h.7M1095.8 970.3h.7M1090.0 971.0h.7M1105.6 961.7h.7M1086.9 976.2h.7M1105.0 958.2h.7M1091.6 969.2h.7M1086.8 977.9h.7M1087.2 974.7h.7M1091.1 975.7h.7M1111.2 952.1h.7M1078.2 978.4h.7M1109.2 954.2h.7M1092.5 965.7h.7M1110.7 962.6h.7M1077.0 988.1h.7M1100.1 951.6h.7M1083.3 976.5h.7M1102.4 962.9h.7M1106.8 955.6h.7M1098.4 959.2h.7M1108.4 953.6h.7M1117.8 955.2h.7M1122.7 951.1h.7M1103.3 963.8h.7M1090.4 973.4h.7M1080.9 978.1h.7M1101.0 967.6h.7M1102.2 962.3h.7M1102.9 971.1h.7M1105.6 959.8h.7M1120.3 939.5h.7M1114.0 951.9h.7M1106.9 961.9h.7M1097.7 970.9h.7M1093.6 974.3h.7M1112.7 948.1h.7M1065.7 992.9h.7M1077.7 989.3h.7M1098.8 967.7h.7M1138.8 934.2h.7M1092.7 977.8h.7M1108.4 962.2h.7M1098.5 972.6h.7M1114.0 952.4h.7M1116.0 955.1h.7M1102.4 965.1h.7M1086.8 973.5h.7M1079.5 984.6h.7M1084.6 977.5h.7M1082.6 980.1h.7M1090.7 974.9h.7M1091.2 964.2h.7M1086.2 971.2h.7M1089.8 961.2h.7M1101.3 960.1h.7M1080.4 974.7h.7M1101.1 967.9h.7M1098.1 960.0h.7M1092.9 970.3h.7M1113.1 950.5h.7M1091.9 978.5h.7M1112.0 953.7h.7M1108.4 954.5h.7M1100.3 962.2h.7M1094.2 971.1h.7M1103.9 964.9h.7M1095.1 962.3h.7M1098.0 963.5h.7M1106.5 965.7h.7M1113.6 962.6h.7M1105.9 961.2h.7M1088.6 971.6h.7M1091.0 964.3h.7M1075.5 979.0h.7M1111.8 954.2h.7M1088.2 980.3h.7M1073.9 985.3h.7M1095.4 965.3h.7M1102.2 961.2h.7M1080.4 980.5h.7M1103.5 958.1h.7M1066.2 987.4h.7M1078.0 982.6h.7M1098.9 957.4h.7M1107.5 959.2h.7M1092.4 975.5h.7M1084.1 979.1h.7M1087.7 970.2h.7M1086.0 973.3h.7M1100.0 969.1h.7M1106.0 968.6h.7M1105.1 961.6h.7M1093.5 969.6h.7M1105.5 956.9h.7M1102.8 965.5h.7M1111.0 964.6h.7M1121.6 949.7h.7M1102.4 957.0h.7M1092.6 973.0h.7M1105.2 965.0h.7M1117.8 958.7h.7M1094.7 968.4h.7M1104.6 964.1h.7M1116.2 946.7h.7M1099.8 962.3h.7M1083.2 974.6h.7M1102.6 959.9h.7M1108.7 957.3h.7M1103.1 969.1h.7M1081.8 985.3h.7M1110.2 956.8h.7M1094.4 973.0h.7M1109.5 958.4h.7M1120.9 950.6h.7M1091.9 981.0h.7M1089.7 972.2h.7M1080.8 978.1h.7M1110.7 962.4h.7M1108.3 965.0h.7M1102.8 965.5h.7M1110.2 962.0h.7M1096.6 966.2h.7M1094.7 971.6h.7M1088.7 970.4h.7M1101.5 961.3h.7M1109.9 955.8h.7M1106.3 963.3h.7M1098.8 964.2h.7M1086.8 980.4h.7M1105.9 953.5h.7M1106.7 960.0h.7M1116.7 948.1h.7M1116.3 949.1h.7M1101.6 960.7h.7M1116.7 947.7h.7M1077.7 976.2h.7M1097.6 972.6h.7M1084.6 976.4h.7M1074.7 991.1h.7M1100.8 962.2h.7M1119.5 950.1h.7M1092.9 974.7h.7M1109.2 957.9h.7M1105.3 964.5h.7M1090.8 975.9h.7M1102.0 962.6h.7M1117.2 949.1h.7M1099.3 961.0h.7M1083.8 981.8h.7M1105.8 957.1h.7M1104.3 968.4h.7M1082.8 978.3h.7M1110.5 965.7h.7M1095.2 969.7h.7M1111.0 952.2h.7M1096.9 972.1h.7M1099.1 969.0h.7M1089.9 971.0h.7M1105.8 972.0h.7M1098.8 964.5h.7M1080.8 974.5h.7M1104.9 961.7h.7M1091.4 968.2h.7M1114.9 957.1h.7M1068.3 985.7h.7M1102.2 972.8h.7M1119.0 961.7h.7M1095.2 976.1h.7M1082.1 979.9h.7M1130.2 945.4h.7M1117.4 955.4h.7M1087.7 975.1h.7M1073.8 979.7h.7M1092.7 977.9h.7M1098.6 968.3h.7M1089.2 972.9h.7M1119.7 951.1h.7M1089.0 970.5h.7M1114.0 957.6h.7M1099.3 969.9h.7M1080.2 978.0h.7M1103.6 956.6h.7M1128.0 954.9h.7M1084.4 979.0h.7M1122.7 947.8h.7M1112.7 959.2h.7M1113.4 949.0h.7M1115.0 949.8h.7M1091.3 965.0h.7M1093.2 974.9h.7M1090.1 972.9h.7M1116.4 952.5h.7M1106.9 960.5h.7M1108.0 958.7h.7M1080.1 970.1h.7M1109.2 954.4h.7M1108.5 961.6h.7M1097.1 965.0h.7M1115.1 951.6h.7M1093.2 972.0h.7M1088.0 976.9h.7M1098.9 969.4h.7M1100.1 956.8h.7M1095.8 975.5h.7M1089.3 969.3h.7M1085.0 973.0h.7M1115.0 954.9h.7M1081.3 978.6h.7M1088.8 974.3h.7M1122.7 946.3h.7M1077.0 984.3h.7M1082.9 971.8h.7M1105.2 964.3h.7M1101.9 965.3h.7M1090.2 979.1h.7M1100.5 968.6h.7M1094.9 967.4h.7M1115.4 956.7h.7M1105.8 965.8h.7M1071.8 983.8h.7M1120.6 951.8h.7M1088.9 981.6h.7M1094.2 966.7h.7M1107.9 965.4h.7M1105.6 967.7h.7M1095.0 968.2h.7M1108.3 967.4h.7M1090.4 973.9h.7M1106.2 962.8h.7M1103.8 957.2h.7M1079.5 980.9h.7M1128.7 941.8h.7M1095.5 964.2h.7M1112.1 955.2h.7M1071.0 989.0h.7M1102.0 961.9h.7M1122.5 954.8h.7M1085.7 976.8h.7M1112.2 959.0h.7M1087.5 974.1h.7M1099.5 962.5h.7M1097.0 966.7h.7M1078.9 980.6h.7M1105.8 962.5h.7M1081.2 974.0h.7M1111.5 957.4h.7M1107.4 952.2h.7M1092.7 965.3h.7M1109.7 959.3h.7M1093.6 965.3h.7M1112.0 953.4h.7M1090.0 975.6h.7M1102.6 969.8h.7M1082.6 983.2h.7M1104.4 959.9h.7M1097.8 964.7h.7M1122.2 952.8h.7M1111.6 958.9h.7M1121.5 956.4h.7M1107.3 967.9h.7M1100.2 966.0h.7M1094.8 966.8h.7M1085.5 978.1h.7M1109.7 959.4h.7M1107.8 959.6h.7M1104.7 965.4h.7M1085.9 979.0h.7M1115.3 951.7h.7M1096.8 970.8h.7M1113.1 951.9h.7M1098.9 963.7h.7M1098.9 960.8h.7M1088.3 974.0h.7M1106.1 958.6h.7M1092.6 974.3h.7M1106.5 953.1h.7M1090.3 974.4h.7M1116.2 953.6h.7M1106.8 956.1h.7M1094.5 961.7h.7M1102.3 965.3h.7M1110.3 952.4h.7M1090.0 973.5h.7M1093.8 970.3h.7M1084.5 976.8h.7M1117.3 954.1h.7M1097.8 967.8h.7M1084.8 977.7h.7M1096.7 971.3h.7M1119.9 952.0h.7M1100.1 977.0h.7M1107.2 960.4h.7M1114.3 957.3h.7M1098.9 966.9h.7M1119.2 947.1h.7M1072.6 978.3h.7M1116.0 954.6h.7M1088.0 978.1h.7M1079.7 983.6h.7M1111.9 956.4h.7M1089.0 972.1h.7M1106.4 959.2h.7M1106.1 954.3h.7M1105.2 956.2h.7M1113.4 955.5h.7M1110.0 957.6h.7M1095.5 967.2h.7M1106.1 957.1h.7M1106.3 966.6h.7M1100.7 963.4h.7M1109.6 956.1h.7M1100.2 965.4h.7M1113.2 951.1h.7M1100.4 963.9h.7M1103.2 964.5h.7M1101.1 966.0h.7M1111.4 960.1h.7M1095.0 967.0h.7M1108.0 963.1h.7M1091.1 973.9h.7M1103.6 959.3h.7M1096.4 961.4h.7M1113.3 961.5h.7M1095.7 965.2h.7M1114.3 955.8h.7M1097.4 968.2h.7M1105.0 966.1h.7M1101.2 959.8h.7M1102.3 959.9h.7M1090.5 969.6h.7M1095.6 966.8h.7M1110.3 961.8h.7M1086.1 972.4h.7M1108.0 957.1h.7M1090.0 969.6h.7M1111.0 960.2h.7M1085.1 974.2h.7M1104.0 966.0h.7M1097.3 971.3h.7M1105.3 961.1h.7M1111.7 954.9h.7M1100.8 959.5h.7M1101.6 968.9h.7M1101.0 968.3h.7M1105.7 953.6h.7M1093.0 972.1h.7M1081.2 973.6h.7M1121.6 945.2h.7M1116.9 946.3h.7M1094.6 970.2h.7M1096.7 964.0h.7M1085.4 981.7h.7M1106.6 962.7h.7M1083.7 982.0h.7M1105.4 954.0h.7M1098.8 960.8h.7M1085.3 977.1h.7M1105.6 962.9h.7M1093.3 959.8h.7M1085.5 983.7h.7M1100.3 961.6h.7M1083.8 982.1h.7M1095.8 968.9h.7M1079.6 979.3h.7M1105.2 962.7h.7M1076.7 978.2h.7M1101.7 970.0h.7M1105.8 956.6h.7M1086.8 973.6h.7M1095.2 969.2h.7M1107.7 963.6h.7M1104.4 956.6h.7M1096.8 966.0h.7M1098.7 967.0h.7M1115.8 955.6h.7M1093.1 961.0h.7M1099.0 966.7h.7M1100.6 966.4h.7M1095.3 963.8h.7M1088.5 983.6h.7M1105.0 964.0h.7M1095.4 969.7h.7M1098.9 970.7h.7M1098.6 967.9h.7M1087.3 975.4h.7M1117.3 950.1h.7M1121.3 949.4h.7M1106.3 961.0h.7M1092.3 976.0h.7M1078.3 980.5h.7M1095.7 968.0h.7M1087.5 981.7h.7M1086.6 971.8h.7M1116.4 943.1h.7M1102.8 963.4h.7M1086.6 983.8h.7M1095.7 969.1h.7M1101.1 969.6h.7M1097.7 966.1h.7M1100.9 957.0h.7M1085.2 976.3h.7M1094.6 973.0h.7M1105.1 968.2h.7M1117.8 950.6h.7M1114.7 953.0h.7M1123.0 950.8h.7M1086.7 966.7h.7M1106.7 954.3h.7M1101.5 965.5h.7M1097.3 962.4h.7M1108.1 959.1h.7M1074.1 983.9h.7M1108.2 951.8h.7M1103.3 970.5h.7M1089.1 969.3h.7M1105.3 958.5h.7M1103.8 964.5h.7M1095.9 969.3h.7M1109.5 963.6h.7M1116.1 946.6h.7M1092.7 976.3h.7M1119.3 946.4h.7M1098.7 970.5h.7M1117.8 947.9h.7M1101.1 957.2h.7M1091.4 974.5h.7M1090.6 971.9h.7M1075.3 985.7h.7M1090.2 975.0h.7M1093.8 981.1h.7M1104.6 956.8h.7M1114.3 957.7h.7M1100.0 962.8h.7M1098.8 971.8h.7M1105.3 960.3h.7M1092.8 966.2h.7M1090.4 971.8h.7M1098.4 961.1h.7M1105.3 965.3h.7M1081.4 978.7h.7M1083.9 972.8h.7M1110.3 957.3h.7M1095.7 969.9h.7M1116.5 950.9h.7M1085.1 979.7h.7M1108.4 961.9h.7M1123.2 951.7h.7M1111.2 957.7h.7M1119.0 947.5h.7M1101.5 962.9h.7M1100.5 971.6h.7M1098.7 968.4h.7M1100.0 968.6h.7M1082.1 979.7h.7M1092.2 968.5h.7M1112.2 961.2h.7M1103.2 964.2h.7M1103.2 965.6h.7M1090.1 967.9h.7M1107.7 965.3h.7M1085.4 977.3h.7M1094.7 971.5h.7M1090.0 970.2h.7M1109.5 955.1h.7M1100.3 965.8h.7M1081.4 972.0h.7M1106.5 961.6h.7M1126.3 949.7h.7M1095.9 971.0h.7M1093.6 970.1h.7M1095.5 969.7h.7M1094.6 968.3h.7M1097.4 971.2h.7M1117.2 958.3h.7M1109.0 952.6h.7M1101.3 967.8h.7M1103.3 964.2h.7M1089.8 967.7h.7M1115.4 962.9h.7M1083.2 981.4h.7M1129.5 945.2h.7M1092.5 967.4h.7M1105.1 966.6h.7M1122.1 943.4h.7M1094.4 968.4h.7M1098.7 965.6h.7M1107.0 961.1h.7M1131.7 940.3h.7M1091.9 966.4h.7M1091.7 969.2h.7M1120.0 952.8h.7M1085.5 970.2h.7M1107.9 967.7h.7M1088.1 972.8h.7M1113.1 957.8h.7M1087.3 971.1h.7M1098.1 971.9h.7M1131.2 934.7h.7M1105.0 956.4h.7M1098.2 965.7h.7M1099.9 961.2h.7M1105.7 960.5h.7M1088.4 975.2h.7M1110.1 956.2h.7M1100.5 956.8h.7M1125.0 949.5h.7M1113.2 958.0h.7M1100.7 959.0h.7M1100.7 955.4h.7M1101.1 959.1h.7M1097.0 969.2h.7M1101.3 969.3h.7M1098.0 972.2h.7M1102.7 965.4h.7M1101.0 958.4h.7M1110.0 955.2h.7M1100.1 967.7h.7M1083.1 975.1h.7M1101.8 960.5h.7M1077.0 984.6h.7M1077.2 984.7h.7M1094.6 969.5h.7M1112.4 958.4h.7M1109.4 953.9h.7M1099.8 965.6h.7M1097.5 965.4h.7M1090.9 970.5h.7M1104.4 962.4h.7M1099.3 965.1h.7M1090.9 970.0h.7M1096.0 966.2h.7M1088.0 967.6h.7M1114.4 957.0h.7M1093.0 972.5h.7M1103.3 963.2h.7M1085.6 977.1h.7M1072.5 987.9h.7M1096.1 969.8h.7M1111.8 952.5h.7M1112.5 955.1h.7M1105.4 965.9h.7M1114.6 954.1h.7M1097.0 966.3h.7M1087.7 973.9h.7M1099.9 971.1h.7M1111.9 959.5h.7M1095.0 968.5h.7M1102.1 967.6h.7M1082.3 978.2h.7M1093.5 971.5h.7M1098.2 969.1h.7M1139.0 942.1h.7M1114.9 954.1h.7M1088.8 970.1h.7M1102.9 966.2h.7M1094.8 972.6h.7M1096.8 967.0h.7M1100.7 968.8h.7M1087.3 977.5h.7M1116.5 957.5h.7M1103.7 972.5h.7M1105.4 963.2h.7M1120.8 955.4h.7M1102.9 960.0h.7M1107.1 968.7h.7M1118.7 947.7h.7M1111.5 959.7h.7M1100.4 962.0h.7M1098.5 958.4h.7M1102.6 966.7h.7M1103.6 970.5h.7M1094.1 961.1h.7M1097.7 968.3h.7M1090.5 970.7h.7M1103.7 956.9h.7M1071.5 983.6h.7M1084.6 976.1h.7M1101.9 964.3h.7M1086.3 967.9h.7M1090.5 979.8h.7M1119.1 947.2h.7M1098.2 963.2h.7M1089.4 969.8h.7M1113.4 960.0h.7M1098.9 969.3h.7M1098.8 970.4h.7M1111.4 961.5h.7M1104.6 958.1h.7M1094.0 975.5h.7M1100.6 962.2h.7M1101.2 966.4h.7M1079.8 982.6h.7M1101.0 963.8h.7M1123.8 948.3h.7M1099.3 972.9h.7M1107.8 963.9h.7M1129.7 947.5h.7M1098.3 973.5h.7M1107.5 958.6h.7M1081.3 982.8h.7M1125.2 943.5h.7M1103.9 963.1h.7M1100.4 971.8h.7M1093.4 965.5h.7M1104.3 958.0h.7M1112.3 958.3h.7M1089.6 973.6h.7M1096.9 972.6h.7M1087.6 971.9h.7M1083.8 985.4h.7M1096.8 965.4h.7M1099.6 962.6h.7M1094.7 970.2h.7M1104.2 957.9h.7M1112.7 955.2h.7M1109.5 960.1h.7M1086.4 979.7h.7M1095.2 979.7h.7M1092.6 971.6h.7M1101.0 967.0h.7M1096.6 967.6h.7M1101.4 961.0h.7M1082.7 984.7h.7M1125.7 940.3h.7M1094.9 966.3h.7M1110.5 956.4h.7M1112.4 955.6h.7M1100.0 970.7h.7M1097.7 956.4h.7M1115.4 957.1h.7M1097.2 963.6h.7M1117.3 948.5h.7M1090.4 978.0h.7M1095.2 973.4h.7M1088.8 974.4h.7M1098.7 964.9h.7M1088.9 977.4h.7M1113.0 957.4h.7M1105.5 961.3h.7M1086.0 976.1h.7M1081.5 984.8h.7M1084.8 980.0h.7M1125.0 955.1h.7M1114.9 948.2h.7M1083.3 974.6h.7M1103.4 964.6h.7M1123.9 943.6h.7M1078.9 983.9h.7M1109.3 954.3h.7M1095.8 969.6h.7M1096.1 971.2h.7M1096.3 970.2h.7M1097.2 972.9h.7M1102.3 969.8h.7M1101.0 965.0h.7M1109.8 955.2h.7M1087.3 972.9h.7M1093.0 973.5h.7M1096.5 964.9h.7M1091.7 967.7h.7M1108.5 960.3h.7M1109.1 964.5h.7M1084.6 975.1h.7M1091.3 979.5h.7M1114.7 951.9h.7M1090.7 971.7h.7M1108.8 960.9h.7M1092.8 977.4h.7M1105.0 963.5h.7M1094.8 971.4h.7M1101.5 965.0h.7M1077.0 979.1h.7M1110.0 956.8h.7M1097.5 970.1h.7M1111.1 957.4h.7M1087.9 974.9h.7M1096.4 969.4h.7M1087.4 977.6h.7M1105.8 958.8h.7M1113.6 953.3h.7M1099.2 961.0h.7M1089.5 977.4h.7M1099.4 960.5h.7M1093.6 975.0h.7M1101.8 964.0h.7M1093.8 964.8h.7M1094.3 963.1h.7M1117.6 956.0h.7M1113.7 951.7h.7M1118.1 959.0h.7M1114.5 951.8h.7M1099.0 961.2h.7M1077.5 978.4h.7M1106.0 959.1h.7M1100.1 973.0h.7M1087.0 963.6h.7M1089.9 978.8h.7M1118.9 948.7h.7M1096.0 969.2h.7M1104.3 959.2h.7M1111.1 956.8h.7M1092.8 972.7h.7M1087.3 973.3h.7M1104.6 961.7h.7M1093.8 971.3h.7M1098.2 966.4h.7M1091.7 972.8h.7M1090.9 978.4h.7M1126.4 946.8h.7M1089.3 978.1h.7M1115.3 954.0h.7M1089.1 973.9h.7M1097.7 965.9h.7M1104.5 967.7h.7M1109.7 958.0h.7M1099.2 962.7h.7M1096.6 965.9h.7M1095.3 972.6h.7M1110.2 955.9h.7M1096.9 968.4h.7M1085.2 983.7h.7M1084.9 981.2h.7M1104.1 961.7h.7M1105.6 968.6h.7M1103.6 959.9h.7M1097.6 961.2h.7M1097.4 958.9h.7M1103.1 966.7h.7M1080.2 984.0h.7M1099.2 963.3h.7M1069.8 997.6h.7M1105.6 956.9h.7M1065.9 990.4h.7M1090.2 966.9h.7M1074.7 987.0h.7M1084.1 977.1h.7M1078.2 982.8h.7M1082.4 983.8h.7M1088.1 973.1h.7M1089.8 972.7h.7M1089.0 966.9h.7M1074.0 990.3h.7M1074.6 987.2h.7M1082.3 978.5h.7M1074.2 981.0h.7M1072.5 984.4h.7M1080.3 987.9h.7M1090.5 971.6h.7M1096.7 975.1h.7M1086.6 971.7h.7M1084.4 979.6h.7M1077.9 983.4h.7M1096.0 971.7h.7M1085.0 966.9h.7M1087.3 972.0h.7M1092.7 974.7h.7M1083.4 979.4h.7M1069.8 992.0h.7M1086.5 974.2h.7M1066.7 990.0h.7M1090.3 968.1h.7M1098.3 976.6h.7M1082.3 982.7h.7M1078.8 980.6h.7M1076.3 985.7h.7M1094.8 973.6h.7M1080.6 979.0h.7M1070.7 987.1h.7M1084.2 979.6h.7M1091.5 976.8h.7M1071.3 990.4h.7M1075.8 986.3h.7M1085.8 979.8h.7M1091.0 977.7h.7M1079.4 984.6h.7M1087.5 977.4h.7M1079.8 986.7h.7M1074.3 989.2h.7M1092.0 976.5h.7M1068.9 993.8h.7M1068.6 990.2h.7M1075.9 990.0h.7M1088.5 971.6h.7M1072.1 987.1h.7M1096.7 974.1h.7M1067.3 988.1h.7M1077.5 979.4h.7M1088.7 972.7h.7M1088.5 982.6h.7M1084.2 980.1h.7M1070.3 994.0h.7M1087.4 982.3h.7M1080.8 977.9h.7M1090.2 974.6h.7M1083.8 983.4h.7M1068.7 990.2h.7M1089.6 981.3h.7M1095.2 973.1h.7M1096.8 972.3h.7M1068.9 990.0h.7M1090.6 979.5h.7M1096.4 973.5h.7M1073.4 986.4h.7M1070.2 988.3h.7M1091.7 971.6h.7M1081.0 978.0h.7M1069.4 994.8h.7M1069.1 995.2h.7M1074.6 996.1h.7M1080.7 982.6h.7M1070.6 987.9h.7M1071.9 987.1h.7M1068.6 992.3h.7M1086.9 983.6h.7M1070.7 992.2h.7M1078.7 986.7h.7M1086.2 978.1h.7M1068.1 991.1h.7M1092.0 967.1h.7M1092.7 975.8h.7M1086.7 979.4h.7M1076.6 980.0h.7M1068.3 986.0h.7M1077.9 977.1h.7M1086.1 977.4h.7M1067.3 989.0h.7M1076.2 977.0h.7M1086.3 981.4h.7M1093.9 977.9h.7M1083.7 978.5h.7M1079.6 979.6h.7M1073.3 983.2h.7M1089.0 972.7h.7M1080.8 988.1h.7M1071.1 986.8h.7M1072.5 987.9h.7M1078.2 982.1h.7M1068.3 991.6h.7M1082.5 984.2h.7M1094.6 976.8h.7M1070.1 995.2h.7M1080.9 981.4h.7M1067.9 988.3h.7M1080.5 975.1h.7M1078.0 991.8h.7M1082.0 980.9h.7M1075.7 992.8h.7M1088.6 969.2h.7M1085.4 980.1h.7M1089.8 975.0h.7M1073.4 986.9h.7M1092.4 977.5h.7M1078.7 986.1h.7M1083.9 977.6h.7M1084.4 981.6h.7M1093.6 971.9h.7M1073.7 987.8h.7M1080.7 979.9h.7M1068.6 991.0h.7M1092.8 974.3h.7M1087.6 984.2h.7M1090.6 971.7h.7M1073.4 989.4h.7M1069.2 989.7h.7M1091.8 971.7h.7M1094.2 974.4h.7M1086.0 984.0h.7M1094.7 976.7h.7M1067.1 992.7h.7M1075.5 986.7h.7M1070.5 988.6h.7M1094.4 972.6h.7M1065.7 987.3h.7M1075.5 982.0h.7M1082.1 989.2h.7M1075.3 984.3h.7M1091.1 976.6h.7M1092.7 975.7h.7M1092.3 974.3h.7M1094.0 972.6h.7M1070.8 984.3h.7M1092.6 973.7h.7M1086.5 979.3h.7M1085.5 985.3h.7M1078.7 982.6h.7M1095.3 971.0h.7M1076.1 985.7h.7M1067.8 992.2h.7M1069.2 984.7h.7M1066.9 991.6h.7M1088.9 980.1h.7M1071.5 990.6h.7M1146.3 933.4h.7M1146.5 933.5h.7M1142.5 928.8h.7M1153.4 935.3h.7M1133.7 932.4h.7M1152.9 932.2h.7M1142.3 930.1h.7M1140.0 931.8h.7M1138.1 929.4h.7M1143.3 929.0h.7M1142.7 929.2h.7M1145.7 938.7h.7M1143.4 936.6h.7M1120.8 933.9h.7M1127.5 932.9h.7M1145.8 928.8h.7M1139.5 929.2h.7M1134.6 929.7h.7M1143.4 931.6h.7M1133.4 932.8h.7M1138.8 933.0h.7M1134.6 933.0h.7M1135.1 932.4h.7M1139.3 931.9h.7M1137.9 933.2h.7M1130.9 930.5h.7M1139.0 931.5h.7M1131.2 934.2h.7M1129.2 932.0h.7M1151.3 930.7h.7M1139.4 931.5h.7M1142.5 935.7h.7M1148.1 934.7h.7M1134.7 936.3h.7M1134.2 935.0h.7M1135.4 932.4h.7M1127.0 934.1h.7M1155.6 937.6h.7M1145.8 935.3h.7M1134.0 929.9h.7M1135.5 933.3h.7M1142.3 935.3h.7M1132.3 933.2h.7M1137.6 931.7h.7M1135.6 932.8h.7M1138.9 932.8h.7M1126.1 931.6h.7M1128.9 935.3h.7M1143.2 929.8h.7M1131.6 936.3h.7M1155.1 935.7h.7M1139.9 929.0h.7M1137.3 933.0h.7M1144.3 929.2h.7M1131.8 930.3h.7M1138.5 928.8h.7M1129.0 930.4h.7M1136.6 930.0h.7M1152.5 933.2h.7M1143.7 932.9h.7M1153.2 929.7h.7M1130.5 934.0h.7M1139.9 933.3h.7M1143.1 928.2h.7M1146.3 929.1h.7M1136.6 933.8h.7M1123.6 933.1h.7M1134.2 932.6h.7M1153.4 930.5h.7M1126.9 928.5h.7M1140.2 933.9h.7M1124.8 933.1h.7M1139.3 935.1h.7M1122.0 930.5h.7M1141.6 933.9h.7M1134.4 933.0h.7M1138.4 930.7h.7M1130.9 930.4h.7M1137.4 934.0h.7M1155.2 935.5h.7M1138.1 930.3h.7M1143.7 931.1h.7M1133.1 935.4h.7M1149.3 933.0h.7M1125.3 936.0h.7M1152.7 933.1h.7M1133.5 935.1h.7M1139.8 932.6h.7M1153.3 931.1h.7M1137.2 932.2h.7M1134.0 933.4h.7M1155.7 931.1h.7M1137.5 937.7h.7M1135.6 930.7h.7M1121.3 933.2h.7M1145.4 933.6h.7M1139.6 929.6h.7M1133.9 934.2h.7M1142.5 932.3h.7M1129.7 928.7h.7M1133.2 932.5h.7M1135.2 933.0h.7M1146.4 932.6h.7M1140.9 931.5h.7M1143.0 925.5h.7M1122.5 932.2h.7M1134.5 931.6h.7M1121.1 932.9h.7M1130.3 932.4h.7M1142.9 935.5h.7M1153.1 929.5h.7M1134.7 932.3h.7M1128.7 935.2h.7M1135.6 931.6h.7M1122.0 933.4h.7M1143.2 937.4h.7M1141.6 928.3h.7M1145.2 930.7h.7M1144.6 936.4h.7M1135.2 932.8h.7M1139.0 931.2h.7M1159.6 929.8h.7M1136.8 934.4h.7M1147.3 931.2h.7M1137.4 930.6h.7M1132.9 930.9h.7M1133.1 930.6h.7M1136.3 934.8h.7M1129.5 933.4h.7M1122.8 933.5h.7M1149.9 933.0h.7M1135.0 933.6h.7M1142.2 933.4h.7M1143.5 927.6h.7M1130.5 927.1h.7M1133.9 929.5h.7M1145.8 928.6h.7M1154.7 932.7h.7M1129.0 934.4h.7M1132.2 928.9h.7M1131.4 932.1h.7M1147.0 933.3h.7M1127.8 933.4h.7M1127.9 934.1h.7M1139.8 930.3h.7M1138.4 934.5h.7M1126.4 933.1h.7M1139.4 931.7h.7M1136.9 928.6h.7M1156.6 927.1h.7M1155.5 938.9h.7M1131.4 932.8h.7M1133.0 933.6h.7M1137.5 930.5h.7M1139.6 932.7h.7M1149.4 928.1h.7M1135.9 932.1h.7M1135.7 933.2h.7M1138.6 930.9h.7M1134.0 936.5h.7M1132.9 933.2h.7M1148.5 927.2h.7M1128.3 934.2h.7M1144.2 933.6h.7M1148.6 933.9h.7M1147.9 930.2h.7M1136.9 931.8h.7M1134.1 930.1h.7M1128.2 935.0h.7M1141.0 937.3h.7M1143.3 935.6h.7M1130.9 930.3h.7M1134.9 932.8h.7M1129.6 932.4h.7M1138.4 932.7h.7M1128.9 934.3h.7M1128.9 936.5h.7M1125.3 930.9h.7M1132.5 930.2h.7M1137.3 930.1h.7M1139.1 934.5h.7M1135.7 931.1h.7M1147.2 935.3h.7M1131.4 932.6h.7M1149.5 928.4h.7M1143.8 934.3h.7M1140.5 927.8h.7M1143.6 933.7h.7M1135.5 932.3h.7M1142.8 931.1h.7M1133.8 933.9h.7M1131.8 935.6h.7M1140.5 929.3h.7M1140.1 939.1h.7M1138.8 935.6h.7M1144.8 930.0h.7M1125.2 934.2h.7M1139.1 931.4h.7M1139.4 934.6h.7M1143.6 931.9h.7M1127.3 935.5h.7M1136.1 931.6h.7M1151.5 934.6h.7M1139.6 933.2h.7M1139.1 933.2h.7M1137.6 931.1h.7M1147.8 930.4h.7M1141.1 930.4h.7M1139.4 931.8h.7M1135.5 932.0h.7M1151.4 931.8h.7M1124.4 930.1h.7M1129.8 929.8h.7M1135.6 933.6h.7M1131.9 931.1h.7M1141.7 933.6h.7M1143.0 936.1h.7M1142.9 930.4h.7M1144.7 933.8h.7M1150.0 932.6h.7M1134.3 938.2h.7M1129.6 938.3h.7M1134.3 933.7h.7M1129.8 934.8h.7M1136.1 932.8h.7M1141.8 933.7h.7M1130.8 937.5h.7M1131.3 929.1h.7M1133.7 932.7h.7M1127.7 931.7h.7M1140.0 931.3h.7M1139.0 928.7h.7M1131.6 934.8h.7M1136.7 927.7h.7M1153.0 930.1h.7M1131.5 931.8h.7M1136.9 935.0h.7M1137.3 930.3h.7M1148.7 933.3h.7M1138.1 930.6h.7M1138.3 930.2h.7M1142.7 935.0h.7M1137.4 930.6h.7M1132.4 936.8h.7M1130.8 931.1h.7M1145.1 930.1h.7M1154.1 935.5h.7M1137.4 930.3h.7M1136.6 934.7h.7M1151.0 930.6h.7M1144.2 936.8h.7M1141.2 930.8h.7M1135.4 933.7h.7M1135.8 930.9h.7M1143.0 930.8h.7M1130.4 932.6h.7M1138.8 925.7h.7M1128.2 935.9h.7M1157.3 930.7h.7M1147.3 937.4h.7M1135.5 931.4h.7M1138.0 934.8h.7M1150.1 932.3h.7M1139.9 934.5h.7M1144.8 935.3h.7M1126.0 933.4h.7M1134.7 934.8h.7M1138.9 929.7h.7M1127.5 931.4h.7M1143.4 934.4h.7M1126.6 932.5h.7M1130.4 933.1h.7M1134.8 926.0h.7M1136.8 933.1h.7M1129.8 931.6h.7M1149.1 929.9h.7M1140.5 931.0h.7M1138.2 932.0h.7M1135.7 932.3h.7M1137.9 932.9h.7M1132.4 926.7h.7M1134.8 935.3h.7M1145.3 932.8h.7M1138.1 930.3h.7M1141.3 932.7h.7M1144.2 931.4h.7M1137.5 934.2h.7M1130.5 935.2h.7M1142.0 932.5h.7M1134.1 930.0h.7M1137.8 928.9h.7M1126.0 933.3h.7M1138.1 931.3h.7M1143.0 927.8h.7M1134.9 930.1h.7M1134.4 929.8h.7M1140.5 934.4h.7M1138.6 932.8h.7M1145.1 933.2h.7M1128.9 933.3h.7M1144.4 934.8h.7M1143.3 931.3h.7M1118.9 930.7h.7M1139.5 935.0h.7M1147.0 932.4h.7M1151.8 929.3h.7M1128.9 936.1h.7M1151.3 932.1h.7M1139.0 935.5h.7M1135.5 932.9h.7M1152.7 929.5h.7M1111.9 932.6h.7M1145.9 934.0h.7M1147.0 936.6h.7M1142.5 935.0h.7M1134.9 928.5h.7M1152.6 931.5h.7M1122.3 935.9h.7M1138.0 930.9h.7M1137.7 934.5h.7M1140.9 931.2h.7M1138.4 930.8h.7M1163.5 930.3h.7M1144.3 930.6h.7M1128.1 931.1h.7M1138.3 934.6h.7M1143.4 934.6h.7M1133.3 932.6h.7M1150.0 935.6h.7M1149.8 929.5h.7M1131.0 931.7h.7M1136.9 933.2h.7M1129.2 930.1h.7M1129.0 935.7h.7M1138.9 928.4h.7M1143.9 933.5h.7M1143.9 929.6h.7M1126.8 931.2h.7M1130.0 927.8h.7M1142.0 931.6h.7M1127.7 934.6h.7M1139.0 934.0h.7M1145.1 932.0h.7M1138.3 932.8h.7M1137.0 932.4h.7M1127.0 931.7h.7M1129.8 929.7h.7M1135.7 932.7h.7M1128.5 932.7h.7M1142.3 928.5h.7M1136.9 933.4h.7M1158.4 930.6h.7M1141.2 932.5h.7M1134.6 933.3h.7M1136.3 933.2h.7M1139.8 932.7h.7M1124.7 930.9h.7M1149.7 932.1h.7M1129.8 930.6h.7M1150.9 930.0h.7M1136.4 929.0h.7M1131.4 932.8h.7M1133.8 935.0h.7M1147.5 932.2h.7M1144.7 928.5h.7M1134.2 929.3h.7M1135.4 933.3h.7M1141.7 933.4h.7M1135.3 933.8h.7M1152.6 933.9h.7M1131.6 931.6h.7M1142.7 936.0h.7M1135.6 929.0h.7M1150.0 936.3h.7M1141.1 930.7h.7M1142.5 928.3h.7M1137.7 935.8h.7M1133.3 929.2h.7M1138.4 935.2h.7M1132.0 929.9h.7M1140.4 935.7h.7M1132.1 934.8h.7M1135.4 929.0h.7M1133.5 928.3h.7M1123.5 935.9h.7M1140.4 932.2h.7M1131.7 934.9h.7M1123.2 928.9h.7M1130.1 934.0h.7M1145.4 932.2h.7M1144.9 935.7h.7M1144.7 933.3h.7M1135.0 934.1h.7M1138.1 938.6h.7M1133.6 933.9h.7M1151.0 929.3h.7M1139.2 933.7h.7M1127.5 930.2h.7M1123.9 932.2h.7M1133.1 934.0h.7M1148.6 919.6h.7M1155.8 913.6h.7M1160.2 918.4h.7M1166.1 920.7h.7M1162.9 927.2h.7M1151.4 914.3h.7M1133.5 922.5h.7M1169.1 922.5h.7M1147.6 912.8h.7M1180.5 925.3h.7M1135.3 919.2h.7M1159.5 919.5h.7M1152.2 912.7h.7M1142.1 922.7h.7M1181.2 926.1h.7M1166.9 922.3h.7M1152.9 917.1h.7M1148.9 918.6h.7M1173.6 926.9h.7M1155.7 921.2h.7M1168.4 924.6h.7M1152.4 918.7h.7M1149.0 917.7h.7M1140.6 923.6h.7M1154.2 928.4h.7M1138.5 919.4h.7M1141.3 923.2h.7M1162.0 918.6h.7M1181.8 920.5h.7M1171.0 927.0h.7M1161.5 923.2h.7M1154.4 918.8h.7M1149.0 916.8h.7M1136.2 924.2h.7M1156.4 925.8h.7M1131.6 922.7h.7M1138.4 924.2h.7M1155.6 926.8h.7M1174.5 918.4h.7M1140.7 926.9h.7M1148.2 912.1h.7M1151.2 919.6h.7M1133.0 928.1h.7M1148.7 920.4h.7M1164.8 923.2h.7M1146.3 917.1h.7M1163.0 928.6h.7M1141.6 912.7h.7M1131.6 923.7h.7M1141.5 910.8h.7M1167.4 923.3h.7M1138.6 914.7h.7M1150.0 916.2h.7M1141.8 923.0h.7M1148.6 920.6h.7M1156.9 913.0h.7M1158.4 916.0h.7M1146.8 922.9h.7M1166.7 921.2h.7M1151.0 927.5h.7M1125.3 924.1h.7M1177.2 922.8h.7M1175.7 919.9h.7M1137.7 927.4h.7M1176.0 920.3h.7M1133.8 928.8h.7M1154.6 916.5h.7M1162.0 927.5h.7M1164.9 924.0h.7M1151.6 928.0h.7M1172.5 930.1h.7M1172.7 930.5h.7M1165.8 931.8h.7M1174.8 931.3h.7M1151.2 933.3h.7M1146.8 932.8h.7M1172.6 932.6h.7M1176.5 934.8h.7M1160.0 931.4h.7M1154.1 932.6h.7M1159.2 932.8h.7M1149.9 933.7h.7M1179.1 931.0h.7M1153.0 932.2h.7M1163.8 933.5h.7M1169.8 931.4h.7M1149.7 930.9h.7M1183.1 934.1h.7M1151.0 934.7h.7M1154.2 934.8h.7M1160.3 930.5h.7M1152.7 935.2h.7M1180.9 931.5h.7M1152.5 931.4h.7M1172.1 932.5h.7M1156.6 931.9h.7M1149.7 930.9h.7M1167.8 935.6h.7M1163.1 932.5h.7M1179.2 931.6h.7M1177.0 932.4h.7M1147.8 933.5h.7M1152.4 932.9h.7M1178.5 928.3h.7M1169.5 931.9h.7M1180.1 929.5h.7M1156.7 931.4h.7M1148.3 933.8h.7M1152.5 931.7h.7M1152.7 933.7h.7M1171.9 930.4h.7M1175.1 932.5h.7M1155.5 935.2h.7M1165.6 930.4h.7M1165.4 931.8h.7M1159.1 935.1h.7M1160.1 933.8h.7M1177.2 933.0h.7M1148.9 932.3h.7M1175.6 932.7h.7M1162.7 934.5h.7M1151.6 932.4h.7M1152.2 932.8h.7M1151.0 931.6h.7M1171.7 933.2h.7M1184.8 930.7h.7M1173.7 933.4h.7M1155.7 931.9h.7M1160.6 931.2h.7M1185.0 932.0h.7M1148.4 933.5h.7M1186.4 930.1h.7M1176.5 933.2h.7M1166.8 934.6h.7M1156.5 930.9h.7M1154.3 934.2h.7M1162.1 932.7h.7M1174.2 932.0h.7M1178.5 933.0h.7M1180.1 931.3h.7M1165.1 950.9h.7M1143.0 955.8h.7M1123.3 952.1h.7M1153.1 949.6h.7M1127.5 952.0h.7M1137.6 954.0h.7M1128.7 950.9h.7M1169.1 948.7h.7M1123.5 953.9h.7M1128.7 954.0h.7M1172.6 949.5h.7M1127.6 948.8h.7M1121.7 956.0h.7M1121.5 951.8h.7M1128.4 952.2h.7M1175.8 951.1h.7M1125.0 952.6h.7M1123.5 955.7h.7M1138.7 950.3h.7M1127.6 955.8h.7M1152.4 951.0h.7M1139.7 949.6h.7M1158.6 949.2h.7M1151.8 954.1h.7M1147.0 949.4h.7M1154.5 950.7h.7M1166.2 949.5h.7M1146.8 953.4h.7M1137.1 949.4h.7M1140.8 951.2h.7M1123.8 952.7h.7M1176.0 946.6h.7M1165.4 950.1h.7M1143.4 950.4h.7M1152.7 949.0h.7M1121.5 953.8h.7M1144.2 954.2h.7M1147.8 950.7h.7M1129.2 955.6h.7M1173.3 946.8h.7M1152.3 953.0h.7M1122.0 952.0h.7M1127.8 954.7h.7M1140.6 949.5h.7M1134.9 950.7h.7M1146.9 953.2h.7M1169.0 946.1h.7M1127.8 950.9h.7M1129.0 950.3h.7M1137.9 945.3h.7M1133.0 953.3h.7M1173.7 949.3h.7M1123.5 952.2h.7M1172.1 946.4h.7M1143.9 950.9h.7M1153.2 952.3h.7M1162.1 950.9h.7M1144.4 949.8h.7M1149.1 954.2h.7M1162.5 950.6h.7M1172.6 948.3h.7M1143.4 952.8h.7M1162.2 949.1h.7M1151.1 951.9h.7M1128.4 951.9h.7M1142.6 951.4h.7M1167.5 950.6h.7M1155.7 949.2h.7M1176.3 948.1h.7M1134.4 951.5h.7M1128.1 949.9h.7M1125.6 958.4h.7M1171.2 952.2h.7M1138.4 945.7h.7M1176.0 947.2h.7M1153.1 949.1h.7M1129.5 952.1h.7M1149.2 948.7h.7M1144.3 950.0h.7M1136.9 954.1h.7M1129.1 956.5h.7M1134.7 951.9h.7M1134.6 954.8h.7M1168.3 951.1h.7M1130.5 953.3h.7M1156.1 949.5h.7M1121.8 954.2h.7M1123.2 953.0h.7M1150.9 949.4h.7M1123.1 952.7h.7M1154.2 951.0h.7M1151.6 952.1h.7M1169.3 945.4h.7M1140.3 951.0h.7M1144.8 952.0h.7M1133.3 953.3h.7M1129.6 945.2h.7M1164.2 949.7h.7M1125.5 953.8h.7M1174.9 950.2h.7M1174.6 951.5h.7M1124.6 955.1h.7M1174.0 948.9h.7M1121.3 955.8h.7M1137.4 953.1h.7M1178.3 946.7h.7M1124.0 949.7h.7M1159.2 951.5h.7M1155.9 950.0h.7M1129.6 953.6h.7M1128.6 953.6h.7M1156.3 947.4h.7M1151.3 950.1h.7M1138.9 953.7h.7M1155.4 951.9h.7M1136.9 951.4h.7M1131.9 949.1h.7M1138.3 949.0h.7M1163.3 951.2h.7M1150.3 949.4h.7M1124.8 952.7h.7M1156.1 953.8h.7M1137.4 954.0h.7M1145.9 952.7h.7M1175.8 948.7h.7M1153.4 953.4h.7M1149.7 952.5h.7M1122.2 951.6h.7M1122.0 954.9h.7M1142.6 952.4h.7M1139.5 950.7h.7M1123.0 950.3h.7M1170.1 946.9h.7M1157.8 953.4h.7M1170.6 947.7h.7M1152.1 950.9h.7M1169.1 947.0h.7M1163.8 949.0h.7M1120.2 954.8h.7M1133.5 953.6h.7M1138.9 953.0h.7M1128.7 949.3h.7M1156.5 952.5h.7M1125.2 952.6h.7M1142.7 951.5h.7M1136.1 948.6h.7M1147.9 949.4h.7M1158.3 949.8h.7M1122.0 953.5h.7M1144.9 951.4h.7M1161.4 950.3h.7M1119.3 956.7h.7M1123.8 951.5h.7M1169.0 954.5h.7M1128.7 951.9h.7M1155.1 951.9h.7M1133.3 948.8h.7M1150.1 951.3h.7M1122.6 954.0h.7M1165.2 950.6h.7M1139.1 955.3h.7M1145.1 950.8h.7M1162.1 951.9h.7M1167.5 950.6h.7M1159.8 946.1h.7M1125.3 956.0h.7M1132.2 956.8h.7M1123.4 952.0h.7M1174.5 945.1h.7M1133.4 947.9h.7M1132.2 950.9h.7M1127.5 951.1h.7M1154.0 951.7h.7M1172.8 950.3h.7M1126.8 950.3h.7M1169.0 944.8h.7M1131.1 951.6h.7M1124.8 950.4h.7M1146.5 947.6h.7M1141.3 951.8h.7M1164.5 950.2h.7M1120.8 950.1h.7M1131.6 953.1h.7M1161.8 953.3h.7M1127.4 952.3h.7M1118.7 955.6h.7M1150.6 950.7h.7M1147.5 948.1h.7M1130.2 953.5h.7M1122.7 954.2h.7M1142.4 950.1h.7M1167.0 947.2h.7M1155.7 953.1h.7M1148.8 954.1h.7M1124.0 952.3h.7M1122.9 954.8h.7M1128.3 954.7h.7M1124.9 950.8h.7M1175.4 947.7h.7M1156.1 953.3h.7M1093.9 931.0h.7M1158.9 939.7h.7M1145.0 994.5h.7M1143.5 992.5h.7M1095.0 962.6h.7M1110.1 973.5h.7M1076.8 971.7h.7M1140.1 927.3h.7M1113.0 947.5h.7M1130.5 934.1h.7M1136.6 962.6h.7M1159.7 958.2h.7M1081.0 974.8h.7M1155.8 988.7h.7M1091.3 961.7h.7M1104.0 928.4h.7M1098.1 990.1h.7M1126.0 990.4h.7M1066.0 961.9h.7M1139.5 933.8h.7M1144.6 996.4h.7M1112.1 950.4h.7M1092.2 975.4h.7M1103.3 965.8h.7M1149.9 933.7h.7M1110.9 965.9h.7M1115.9 957.8h.7M1092.5 944.1h.7M1148.7 976.0h.7M1149.9 984.4h.7M1111.2 987.4h.7M1159.7 998.3h.7M1067.3 981.6h.7M1106.0 948.5h.7M1125.3 949.9h.7M1135.2 972.6h.7M1132.4 963.5h.7M1130.3 959.6h.7M1079.9 995.0h.7M1156.8 959.6h.7" stroke="#ff0000" stroke-width="1.1" stroke-opacity="0.7" fill="none"/>
</g>
<line x1="1124.5" y1="844.6" x2="1124.5" y2="1009.5" stroke="#9a9a9a" stroke-width="1.1"/>
<line x1="1063.9" y1="944.5" x2="1226.7" y2="944.5" stroke="#9a9a9a" stroke-width="1.1"/>
<text x="837.2" y="1012.5" font-size="17" fill="#2a2a2a" text-anchor="middle" textLength="24" lengthAdjust="spacingAndGlyphs" transform="rotate(-90 837.2 1012.5)">10<tspan dy="-6.5" font-size="16">0</tspan></text>
<text x="837.2" y="970.5" font-size="17" fill="#2a2a2a" text-anchor="middle" textLength="24" lengthAdjust="spacingAndGlyphs" transform="rotate(-90 837.2 970.5)">10<tspan dy="-6.5" font-size="16">1</tspan></text>
<text x="837.2" y="928.5" font-size="17" fill="#2a2a2a" text-anchor="middle" textLength="24" lengthAdjust="spacingAndGlyphs" transform="rotate(-90 837.2 928.5)">10<tspan dy="-6.5" font-size="16">2</tspan></text>
<text x="837.2" y="886.6" font-size="17" fill="#2a2a2a" text-anchor="middle" textLength="24" lengthAdjust="spacingAndGlyphs" transform="rotate(-90 837.2 886.6)">10<tspan dy="-6.5" font-size="16">3</tspan></text>
<text x="837.2" y="844.6" font-size="17" fill="#2a2a2a" text-anchor="middle" textLength="24" lengthAdjust="spacingAndGlyphs" transform="rotate(-90 837.2 844.6)">10<tspan dy="-6.5" font-size="16">4</tspan></text>
<text x="844.2" y="1033.5" font-size="17" fill="#2a2a2a" text-anchor="middle" textLength="23" lengthAdjust="spacingAndGlyphs">10<tspan dy="-6.5" font-size="16">0</tspan></text>
<text x="885.5" y="1033.5" font-size="17" fill="#2a2a2a" text-anchor="middle" textLength="23" lengthAdjust="spacingAndGlyphs">10<tspan dy="-6.5" font-size="16">1</tspan></text>
<text x="926.8" y="1033.5" font-size="17" fill="#2a2a2a" text-anchor="middle" textLength="23" lengthAdjust="spacingAndGlyphs">10<tspan dy="-6.5" font-size="16">2</tspan></text>
<text x="968.1" y="1033.5" font-size="17" fill="#2a2a2a" text-anchor="middle" textLength="23" lengthAdjust="spacingAndGlyphs">10<tspan dy="-6.5" font-size="16">3</tspan></text>
<text x="1009.4" y="1033.5" font-size="17" fill="#2a2a2a" text-anchor="middle" textLength="23" lengthAdjust="spacingAndGlyphs">10<tspan dy="-6.5" font-size="16">4</tspan></text>
<text x="813.2" y="933.1" font-size="16.00" text-anchor="middle" fill="#2a2a2a" textLength="49.0" lengthAdjust="spacingAndGlyphs" transform="rotate(-90 813.2 933.1)">7-AAD</text>
<text x="917.4" y="1051.5" font-size="15.27" text-anchor="middle" fill="#2a2a2a" textLength="99.3" lengthAdjust="spacingAndGlyphs">Annexin V -PE</text>
<text x="1056.9" y="1012.5" font-size="17" fill="#2a2a2a" text-anchor="middle" textLength="24" lengthAdjust="spacingAndGlyphs" transform="rotate(-90 1056.9 1012.5)">10<tspan dy="-6.5" font-size="16">0</tspan></text>
<text x="1056.9" y="970.5" font-size="17" fill="#2a2a2a" text-anchor="middle" textLength="24" lengthAdjust="spacingAndGlyphs" transform="rotate(-90 1056.9 970.5)">10<tspan dy="-6.5" font-size="16">1</tspan></text>
<text x="1056.9" y="928.5" font-size="17" fill="#2a2a2a" text-anchor="middle" textLength="24" lengthAdjust="spacingAndGlyphs" transform="rotate(-90 1056.9 928.5)">10<tspan dy="-6.5" font-size="16">2</tspan></text>
<text x="1056.9" y="886.6" font-size="17" fill="#2a2a2a" text-anchor="middle" textLength="24" lengthAdjust="spacingAndGlyphs" transform="rotate(-90 1056.9 886.6)">10<tspan dy="-6.5" font-size="16">3</tspan></text>
<text x="1056.9" y="844.6" font-size="17" fill="#2a2a2a" text-anchor="middle" textLength="24" lengthAdjust="spacingAndGlyphs" transform="rotate(-90 1056.9 844.6)">10<tspan dy="-6.5" font-size="16">4</tspan></text>
<text x="1063.9" y="1033.5" font-size="17" fill="#2a2a2a" text-anchor="middle" textLength="23" lengthAdjust="spacingAndGlyphs">10<tspan dy="-6.5" font-size="16">0</tspan></text>
<text x="1105.1" y="1033.5" font-size="17" fill="#2a2a2a" text-anchor="middle" textLength="23" lengthAdjust="spacingAndGlyphs">10<tspan dy="-6.5" font-size="16">1</tspan></text>
<text x="1146.3" y="1033.5" font-size="17" fill="#2a2a2a" text-anchor="middle" textLength="23" lengthAdjust="spacingAndGlyphs">10<tspan dy="-6.5" font-size="16">2</tspan></text>
<text x="1187.5" y="1033.5" font-size="17" fill="#2a2a2a" text-anchor="middle" textLength="23" lengthAdjust="spacingAndGlyphs">10<tspan dy="-6.5" font-size="16">3</tspan></text>
<text x="1228.7" y="1033.5" font-size="17" fill="#2a2a2a" text-anchor="middle" textLength="23" lengthAdjust="spacingAndGlyphs">10<tspan dy="-6.5" font-size="16">4</tspan></text>
<text x="1032.9" y="933.1" font-size="16.00" text-anchor="middle" fill="#2a2a2a" textLength="49.0" lengthAdjust="spacingAndGlyphs" transform="rotate(-90 1032.9 933.1)">7-AAD</text>
<text x="1136.9" y="1051.5" font-size="15.27" text-anchor="middle" fill="#2a2a2a" textLength="99.3" lengthAdjust="spacingAndGlyphs">Annexin V -PE</text>
<text x="957.5" y="902.6" font-size="23.03" font-weight="bold" text-anchor="middle" fill="#0a0a14" textLength="65.3" lengthAdjust="spacingAndGlyphs">6.79%</text>
<text x="959.6" y="988.0" font-size="22.82" font-weight="bold" text-anchor="middle" fill="#0a0a14" textLength="64.7" lengthAdjust="spacingAndGlyphs">4.33%</text>
<text x="1181.0" y="902.6" font-size="22.97" font-weight="bold" text-anchor="middle" fill="#0a0a14" textLength="77.9" lengthAdjust="spacingAndGlyphs">13.52%</text>
<text x="1182.1" y="988.0" font-size="22.82" font-weight="bold" text-anchor="middle" fill="#0a0a14" textLength="64.7" lengthAdjust="spacingAndGlyphs">5.45%</text>
<text x="1038.3" y="1095.8" font-size="22.30" font-weight="bold" text-anchor="middle" textLength="53.3" lengthAdjust="spacingAndGlyphs">A375</text>
<rect x="834.8" y="1064.0" width="404.2" height="4.2" fill="#000"/>
<line x1="574.5" y1="832.0" x2="574.5" y2="1052.0" stroke="#000" stroke-width="2.5"/>
<line x1="568.0" y1="1050.8" x2="719.2" y2="1050.8" stroke="#000" stroke-width="2.5"/>
<line x1="568.0" y1="833.0" x2="574.5" y2="833.0" stroke="#000" stroke-width="2.5"/>
<text x="564.2" y="838.8" font-size="17.70" text-anchor="end" textLength="16.9" lengthAdjust="spacingAndGlyphs">20</text>
<line x1="568.0" y1="887.5" x2="574.5" y2="887.5" stroke="#000" stroke-width="2.5"/>
<text x="564.2" y="893.3" font-size="17.70" text-anchor="end" textLength="16.9" lengthAdjust="spacingAndGlyphs">15</text>
<line x1="568.0" y1="941.9" x2="574.5" y2="941.9" stroke="#000" stroke-width="2.5"/>
<text x="564.2" y="947.7" font-size="17.70" text-anchor="end" textLength="16.9" lengthAdjust="spacingAndGlyphs">10</text>
<line x1="568.0" y1="996.4" x2="574.5" y2="996.4" stroke="#000" stroke-width="2.5"/>
<text x="564.2" y="1002.2" font-size="17.70" text-anchor="end" textLength="8.4" lengthAdjust="spacingAndGlyphs">5</text>
<line x1="568.0" y1="1050.8" x2="574.5" y2="1050.8" stroke="#000" stroke-width="2.5"/>
<text x="564.2" y="1056.6" font-size="17.70" text-anchor="end" textLength="8.4" lengthAdjust="spacingAndGlyphs">0</text>
<rect x="587.4" y="951.9" width="43.8" height="98.9" fill="#fff" stroke="#000" stroke-width="3.2"/>
<rect x="658.3" y="858.8" width="47.9" height="192.0" fill="#000"/>
<line x1="609.3" y1="950.3" x2="609.3" y2="944.2" stroke="#000" stroke-width="3.0"/>
<line x1="597.4" y1="944.2" x2="621.2" y2="944.2" stroke="#000" stroke-width="3.0"/>
<line x1="682.2" y1="858.8" x2="682.2" y2="853.3" stroke="#000" stroke-width="3.0"/>
<line x1="670.4" y1="853.3" x2="694.1" y2="853.3" stroke="#000" stroke-width="3.0"/>
<path d="M615,854.2 V844.2 H681.3 V851.7" stroke="#000" stroke-width="2.5" fill="none"/>
<text x="647.5" y="845.0" font-size="17.00" font-weight="bold" text-anchor="middle">***</text>
<line x1="609.7" y1="1050.8" x2="609.7" y2="1056.8" stroke="#000" stroke-width="2.5"/>
<line x1="681.3" y1="1050.8" x2="681.3" y2="1056.8" stroke="#000" stroke-width="2.5"/>
<text x="609.7" y="1073.3" font-size="14.73" font-weight="bold" text-anchor="middle" textLength="21.3" lengthAdjust="spacingAndGlyphs">NC</text>
<text x="681.8" y="1073.3" font-size="14.73" font-weight="bold" text-anchor="middle" textLength="92.5" lengthAdjust="spacingAndGlyphs">shLINC00518</text>
<text x="644.5" y="808.3" font-size="17.56" font-weight="bold" text-anchor="middle" textLength="60.5" lengthAdjust="spacingAndGlyphs">WM451</text>
<text x="536.1" y="941.7" font-size="18.60" font-weight="bold" text-anchor="middle" textLength="155.0" lengthAdjust="spacingAndGlyphs" transform="rotate(-90 536.1 941.7)">Apoptotic rate (%)</text>
<line x1="1362.2" y1="832.0" x2="1362.2" y2="1052.0" stroke="#000" stroke-width="2.5"/>
<line x1="1355.7" y1="1050.8" x2="1507.5" y2="1050.8" stroke="#000" stroke-width="2.5"/>
<line x1="1355.7" y1="833.0" x2="1362.2" y2="833.0" stroke="#000" stroke-width="2.5"/>
<text x="1353.0" y="838.8" font-size="17.70" text-anchor="end" textLength="16.9" lengthAdjust="spacingAndGlyphs">25</text>
<line x1="1355.7" y1="876.6" x2="1362.2" y2="876.6" stroke="#000" stroke-width="2.5"/>
<text x="1353.0" y="882.4" font-size="17.70" text-anchor="end" textLength="16.9" lengthAdjust="spacingAndGlyphs">20</text>
<line x1="1355.7" y1="920.1" x2="1362.2" y2="920.1" stroke="#000" stroke-width="2.5"/>
<text x="1353.0" y="925.9" font-size="17.70" text-anchor="end" textLength="16.9" lengthAdjust="spacingAndGlyphs">15</text>
<line x1="1355.7" y1="963.7" x2="1362.2" y2="963.7" stroke="#000" stroke-width="2.5"/>
<text x="1353.0" y="969.5" font-size="17.70" text-anchor="end" textLength="16.9" lengthAdjust="spacingAndGlyphs">10</text>
<line x1="1355.7" y1="1007.2" x2="1362.2" y2="1007.2" stroke="#000" stroke-width="2.5"/>
<text x="1353.0" y="1013.0" font-size="17.70" text-anchor="end" textLength="8.4" lengthAdjust="spacingAndGlyphs">5</text>
<line x1="1355.7" y1="1050.8" x2="1362.2" y2="1050.8" stroke="#000" stroke-width="2.5"/>
<text x="1353.0" y="1056.6" font-size="17.70" text-anchor="end" textLength="8.4" lengthAdjust="spacingAndGlyphs">0</text>
<rect x="1376.6" y="954.4" width="42.6" height="96.4" fill="#fff" stroke="#000" stroke-width="3.2"/>
<rect x="1445.8" y="887.2" width="47.9" height="163.6" fill="#000"/>
<line x1="1397.9" y1="952.8" x2="1397.9" y2="945.8" stroke="#000" stroke-width="3.0"/>
<line x1="1386.0" y1="945.8" x2="1409.8" y2="945.8" stroke="#000" stroke-width="3.0"/>
<line x1="1469.8" y1="887.2" x2="1469.8" y2="880.8" stroke="#000" stroke-width="3.0"/>
<line x1="1457.8" y1="880.8" x2="1481.7" y2="880.8" stroke="#000" stroke-width="3.0"/>
<path d="M1403.3,885.3 V875.3 H1470 V880.8" stroke="#000" stroke-width="2.5" fill="none"/>
<text x="1435.0" y="875.0" font-size="17.00" font-weight="bold" text-anchor="middle">**</text>
<line x1="1398.0" y1="1050.8" x2="1398.0" y2="1056.8" stroke="#000" stroke-width="2.5"/>
<line x1="1470.0" y1="1050.8" x2="1470.0" y2="1056.8" stroke="#000" stroke-width="2.5"/>
<text x="1398.0" y="1073.3" font-size="14.73" font-weight="bold" text-anchor="middle" textLength="21.3" lengthAdjust="spacingAndGlyphs">NC</text>
<text x="1470.5" y="1073.3" font-size="14.73" font-weight="bold" text-anchor="middle" textLength="92.5" lengthAdjust="spacingAndGlyphs">shLINC00518</text>
<text x="1431.3" y="807.5" font-size="17.11" font-weight="bold" text-anchor="middle" textLength="40.9" lengthAdjust="spacingAndGlyphs">A375</text>
<text x="1326.1" y="941.7" font-size="18.60" font-weight="bold" text-anchor="middle" textLength="156.7" lengthAdjust="spacingAndGlyphs" transform="rotate(-90 1326.1 941.7)">Apoptotic rate (%)</text>
<text x="1.7" y="1195.0" font-size="35.00" font-weight="bold">G</text>
<text x="175.0" y="1230.7" font-size="21.12" font-weight="bold" text-anchor="middle" textLength="30.5" lengthAdjust="spacingAndGlyphs">NC</text>
<rect x="93.3" y="1243.3" width="176.0" height="4.2" fill="#000"/>
<text x="386.3" y="1231.0" font-size="22.40" font-weight="bold" text-anchor="middle" textLength="140.7" lengthAdjust="spacingAndGlyphs">shLINC00518</text>
<rect x="306.0" y="1244.3" width="175.7" height="4.2" fill="#000"/>
<g clip-path="url(#pl21)">
<rect x="91.0" y="1252.0" width="178.5" height="177.4" fill="url(#plbg)"/>
<circle cx="180.0" cy="1342.0" r="88.0" fill="#d3d4d8" stroke="#e2e3e6" stroke-width="2.5"/>
<circle cx="180.0" cy="1342.0" r="89.6" fill="none" stroke="#a4a7b0" stroke-width="1"/>
<circle cx="180.0" cy="1342.0" r="84.0" fill="none" stroke="#bcbec4" stroke-width="1.2"/>
<circle cx="180.0" cy="1342.0" r="79.0" fill="url(#plin)" stroke="#e6e6e8" stroke-width="2"/>
<circle cx="180.0" cy="1342.0" r="76.0" fill="none" stroke="#c2c3c8" stroke-width="0.8"/>
<path d="M154.0 1275.0h0M156.7 1279.2h0M165.1 1276.8h0M157.6 1276.2h0M153.7 1277.1h0M159.2 1276.5h0M155.9 1284.4h0M149.0 1287.2h0M153.2 1295.8h0M177.9 1302.2h0M173.1 1294.6h0M180.6 1296.0h0M172.1 1296.3h0M177.3 1297.8h0M171.6 1297.4h0M186.6 1283.9h0M191.1 1284.3h0M190.2 1285.7h0M195.1 1288.5h0M197.4 1284.9h0M200.6 1298.0h0M199.5 1295.9h0M200.2 1292.9h0M196.6 1293.6h0M204.3 1294.8h0M203.0 1293.6h0M196.4 1296.6h0M197.6 1296.2h0M223.3 1295.1h0M220.4 1298.7h0M219.3 1303.1h0M222.9 1296.2h0M218.8 1294.4h0M217.6 1297.6h0M217.9 1296.4h0M218.6 1295.8h0M230.4 1304.6h0M232.7 1305.1h0M130.2 1308.6h0M129.3 1307.7h0M130.0 1312.1h0M131.5 1304.4h0M130.2 1306.6h0M131.3 1304.8h0M117.5 1325.5h0M118.8 1323.4h0M120.3 1329.7h0M123.8 1320.5h0M120.3 1320.5h0M122.5 1325.2h0M168.7 1319.2h0M174.5 1315.9h0M181.9 1316.2h0M180.2 1326.5h0M180.0 1316.7h0M174.5 1321.0h0M180.0 1316.5h0M184.1 1327.6h0M178.3 1329.3h0M183.3 1331.3h0M175.3 1331.2h0M170.5 1331.8h0M178.1 1340.1h0M168.5 1334.6h0M191.3 1334.2h0M180.7 1335.8h0M211.5 1328.8h0M212.2 1326.0h0M209.3 1326.2h0M210.8 1330.2h0M211.7 1326.6h0M240.1 1318.5h0M243.6 1324.2h0M138.1 1343.4h0M153.0 1334.9h0M145.7 1339.9h0M141.7 1330.5h0M144.4 1331.9h0M141.5 1337.1h0M151.1 1334.1h0M148.8 1344.9h0M150.2 1345.0h0M154.8 1359.7h0M151.8 1351.4h0M157.6 1358.0h0M156.8 1352.8h0M148.2 1350.1h0M152.7 1353.5h0M149.0 1357.3h0M152.2 1350.9h0M120.6 1343.9h0M105.4 1351.3h0M122.2 1346.0h0M124.9 1336.5h0M121.1 1346.0h0M120.7 1340.9h0M114.9 1347.1h0M116.7 1343.8h0M130.6 1344.6h0M125.6 1355.3h0M115.6 1351.7h0M127.6 1343.1h0M121.5 1351.0h0M118.4 1364.7h0M113.9 1356.7h0M116.4 1358.4h0M116.7 1359.9h0M115.4 1351.4h0M118.0 1351.4h0M119.5 1362.1h0M118.8 1361.0h0M194.3 1359.3h0M196.3 1362.8h0M189.6 1370.7h0M194.7 1364.3h0M196.8 1359.3h0M186.2 1363.5h0M189.4 1370.8h0M195.7 1366.7h0M237.4 1363.6h0M233.0 1365.8h0M231.0 1361.3h0M232.5 1369.2h0M235.1 1362.5h0M233.2 1362.8h0M234.9 1363.5h0M245.5 1357.6h0M243.6 1352.2h0M240.3 1344.9h0M236.0 1346.9h0M237.4 1353.7h0M238.2 1347.5h0M240.6 1340.4h0M232.8 1345.0h0M134.4 1381.9h0M140.7 1384.8h0M136.9 1382.3h0M130.2 1382.4h0M136.8 1384.6h0M162.7 1392.4h0M164.3 1395.8h0M157.2 1392.4h0M169.2 1388.4h0M167.0 1391.4h0M160.4 1389.6h0M165.1 1393.1h0M170.6 1393.2h0M158.6 1396.9h0M161.0 1397.6h0M160.0 1392.8h0M161.7 1401.2h0M195.3 1382.1h0M202.9 1377.1h0M200.4 1371.8h0M194.6 1380.9h0M191.7 1371.3h0M224.4 1388.9h0M224.0 1384.1h0M215.8 1393.1h0M213.3 1384.5h0M219.8 1389.5h0M221.4 1397.5h0M211.8 1382.9h0M219.2 1388.7h0M211.9 1389.5h0M227.8 1382.7h0M195.5 1405.1h0M199.1 1403.6h0M191.4 1405.4h0M197.5 1405.1h0M178.6 1380.8h0M179.9 1385.0h0M181.3 1390.4h0M175.2 1379.4h0M186.3 1381.2h0M180.1 1384.6h0M180.7 1385.5h0M180.5 1381.1h0M179.3 1389.9h0M182.4 1388.4h0M181.3 1385.3h0M224.9 1378.2h0M204.0 1342.8h0M204.7 1345.7h0M166.4 1360.6h0M167.2 1360.8h0M164.4 1359.9h0M167.4 1361.4h0M210.6 1281.7h0M215.9 1280.4h0M212.1 1277.8h0M212.1 1276.2h0" stroke="#1e2290" stroke-opacity="0.90" stroke-width="1.6" stroke-linecap="round" fill="none"/>
<path d="M163.1 1280.3h0M153.6 1276.9h0M162.0 1274.9h0M150.5 1296.5h0M155.0 1296.0h0M155.5 1292.8h0M154.8 1292.9h0M152.0 1297.7h0M150.0 1289.7h0M154.1 1299.1h0M174.1 1295.0h0M174.7 1292.3h0M190.9 1286.6h0M190.1 1290.3h0M194.4 1285.7h0M191.0 1290.1h0M196.6 1295.1h0M190.2 1287.8h0M185.3 1291.4h0M207.2 1294.0h0M198.0 1292.3h0M196.4 1297.4h0M199.7 1293.3h0M206.8 1294.6h0M196.3 1298.5h0M208.4 1296.3h0M204.5 1306.4h0M193.9 1294.2h0M211.1 1300.2h0M203.8 1288.3h0M219.7 1294.5h0M223.4 1299.8h0M219.7 1294.0h0M215.2 1292.5h0M225.5 1297.6h0M218.5 1296.1h0M230.5 1301.8h0M226.9 1304.8h0M132.6 1313.5h0M133.1 1311.5h0M126.4 1312.0h0M129.7 1309.6h0M125.7 1311.9h0M115.8 1321.7h0M124.1 1327.1h0M117.1 1324.1h0M118.4 1320.2h0M113.6 1326.7h0M121.9 1323.1h0M187.7 1325.2h0M180.3 1321.6h0M173.5 1323.6h0M172.7 1320.6h0M172.4 1321.3h0M185.0 1323.4h0M179.9 1319.4h0M181.2 1315.7h0M177.2 1321.3h0M173.2 1330.4h0M175.4 1335.9h0M186.5 1337.1h0M168.4 1329.9h0M182.9 1336.4h0M181.5 1340.7h0M178.0 1336.1h0M173.4 1329.4h0M175.2 1324.9h0M178.2 1337.0h0M178.8 1339.8h0M180.2 1343.2h0M174.9 1341.5h0M177.1 1337.3h0M207.6 1329.0h0M212.1 1327.6h0M210.2 1332.8h0M208.4 1331.8h0M213.1 1326.0h0M210.6 1331.2h0M239.7 1323.3h0M239.6 1317.4h0M136.0 1343.4h0M143.1 1336.7h0M150.1 1345.3h0M145.9 1346.9h0M143.5 1334.4h0M153.5 1332.4h0M145.1 1335.7h0M158.8 1331.9h0M134.4 1343.9h0M138.5 1337.3h0M145.4 1339.1h0M149.9 1336.9h0M147.8 1335.9h0M147.7 1345.3h0M159.7 1350.0h0M145.4 1345.0h0M152.5 1349.9h0M147.3 1342.1h0M147.5 1345.8h0M146.7 1349.1h0M151.7 1349.5h0M142.8 1346.5h0M161.1 1350.9h0M120.7 1345.9h0M124.6 1349.6h0M116.5 1345.9h0M121.5 1346.6h0M115.1 1342.6h0M128.4 1345.5h0M122.8 1346.6h0M119.9 1343.7h0M119.9 1348.4h0M123.0 1347.1h0M115.7 1348.7h0M114.1 1344.8h0M115.5 1349.6h0M122.2 1337.9h0M114.2 1352.8h0M112.3 1363.4h0M115.9 1358.1h0M116.6 1359.4h0M193.3 1364.9h0M199.9 1364.3h0M185.6 1365.5h0M195.1 1367.8h0M192.9 1362.2h0M179.7 1359.7h0M191.7 1360.9h0M190.7 1365.8h0M192.2 1362.2h0M196.2 1366.2h0M191.4 1367.5h0M236.2 1358.4h0M222.5 1370.7h0M234.3 1360.0h0M240.3 1370.8h0M231.1 1362.7h0M231.8 1359.4h0M222.5 1358.9h0M230.9 1371.6h0M228.5 1361.8h0M220.6 1369.9h0M227.7 1361.6h0M237.3 1367.9h0M226.0 1362.9h0M236.4 1368.4h0M231.2 1363.2h0M233.0 1368.7h0M236.0 1350.4h0M241.5 1350.9h0M239.9 1347.5h0M245.4 1346.8h0M239.4 1351.5h0M238.5 1347.8h0M130.4 1380.3h0M138.7 1384.9h0M139.0 1379.9h0M135.3 1385.4h0M165.4 1382.4h0M159.3 1395.8h0M160.2 1391.8h0M160.7 1393.6h0M161.0 1388.1h0M158.6 1392.0h0M169.3 1395.1h0M161.3 1395.2h0M156.0 1390.3h0M193.9 1375.3h0M199.6 1377.9h0M192.1 1371.8h0M198.0 1376.6h0M191.0 1381.1h0M190.6 1375.3h0M190.5 1377.4h0M213.1 1393.1h0M227.5 1390.8h0M223.0 1388.3h0M216.7 1385.7h0M219.3 1386.6h0M215.5 1389.0h0M226.4 1385.9h0M200.3 1404.4h0M195.1 1400.1h0M194.6 1401.9h0M196.2 1400.6h0M196.3 1408.0h0M194.0 1405.8h0M203.8 1402.3h0M197.4 1407.0h0M179.4 1387.9h0M172.0 1384.1h0M179.3 1386.4h0M223.7 1381.2h0M230.9 1378.4h0M227.0 1376.3h0M229.0 1376.3h0M227.0 1378.4h0M228.9 1380.0h0M231.2 1381.4h0M227.7 1381.7h0M225.9 1377.9h0M227.3 1380.3h0M211.5 1341.3h0M203.9 1348.8h0M164.7 1361.5h0M214.1 1277.6h0M216.2 1277.7h0M215.8 1277.3h0" stroke="#1e2290" stroke-opacity="0.90" stroke-width="2.2" stroke-linecap="round" fill="none"/>
<path d="M162.3 1280.3h0M159.1 1275.4h0M154.8 1274.7h0M160.6 1277.8h0M152.8 1291.0h0M154.7 1295.6h0M150.8 1298.6h0M154.9 1291.2h0M153.7 1295.5h0M155.1 1297.7h0M178.6 1301.6h0M176.3 1298.9h0M180.4 1298.6h0M177.2 1293.8h0M178.2 1297.5h0M187.4 1288.5h0M187.0 1289.8h0M197.1 1289.3h0M184.5 1290.0h0M200.5 1302.8h0M199.7 1295.8h0M202.2 1300.3h0M191.2 1296.4h0M192.5 1305.5h0M200.4 1289.0h0M203.5 1303.7h0M201.1 1291.8h0M203.0 1296.1h0M206.1 1292.8h0M223.5 1301.9h0M220.8 1301.9h0M217.7 1294.6h0M222.8 1302.1h0M230.4 1306.3h0M229.8 1302.7h0M231.0 1303.2h0M131.7 1308.7h0M129.9 1303.2h0M133.0 1305.0h0M131.3 1305.7h0M134.3 1309.3h0M127.4 1301.3h0M123.2 1317.6h0M111.5 1327.1h0M119.5 1324.0h0M114.4 1321.0h0M119.0 1323.6h0M118.7 1327.2h0M124.7 1329.9h0M114.1 1329.4h0M178.5 1318.0h0M170.6 1311.5h0M171.0 1319.4h0M170.1 1325.8h0M182.6 1322.6h0M181.4 1326.3h0M180.8 1325.0h0M179.5 1319.2h0M190.1 1323.9h0M178.0 1338.2h0M175.1 1341.1h0M184.9 1334.1h0M176.9 1335.9h0M176.7 1330.5h0M168.9 1328.7h0M183.1 1325.7h0M172.7 1331.0h0M183.2 1329.4h0M172.0 1333.6h0M176.3 1330.0h0M182.7 1328.4h0M212.8 1326.4h0M215.0 1328.2h0M206.5 1326.2h0M211.0 1330.9h0M244.3 1321.6h0M150.1 1339.9h0M154.2 1331.9h0M161.6 1339.0h0M145.4 1337.2h0M149.4 1339.1h0M147.0 1337.6h0M155.7 1335.9h0M148.0 1332.4h0M155.3 1347.4h0M150.6 1353.0h0M147.9 1361.6h0M160.5 1350.6h0M159.8 1349.8h0M157.5 1348.0h0M152.0 1346.1h0M157.1 1352.7h0M122.0 1343.5h0M127.1 1353.7h0M120.7 1339.6h0M118.9 1354.6h0M126.4 1353.7h0M113.0 1356.3h0M119.1 1357.2h0M116.3 1358.7h0M115.9 1356.4h0M115.6 1358.7h0M128.3 1356.7h0M122.5 1363.8h0M204.5 1364.1h0M187.7 1367.9h0M196.4 1369.0h0M193.1 1366.2h0M190.2 1365.8h0M192.3 1368.3h0M199.8 1363.8h0M192.3 1367.8h0M190.0 1362.6h0M192.0 1368.8h0M196.8 1368.4h0M236.5 1367.1h0M233.8 1362.1h0M225.2 1371.2h0M244.0 1354.3h0M227.6 1361.6h0M239.8 1365.7h0M236.4 1357.9h0M230.8 1362.7h0M239.5 1350.5h0M237.3 1345.3h0M134.3 1379.7h0M128.8 1382.1h0M135.1 1379.3h0M130.0 1382.0h0M132.9 1383.3h0M136.5 1384.8h0M141.3 1388.7h0M135.5 1376.8h0M162.8 1394.8h0M161.8 1391.3h0M159.5 1387.5h0M167.4 1395.0h0M161.1 1388.0h0M170.8 1385.4h0M165.5 1387.1h0M199.0 1377.6h0M195.9 1374.9h0M190.0 1376.1h0M195.6 1376.1h0M226.0 1380.1h0M217.6 1393.4h0M227.6 1393.3h0M216.4 1387.4h0M220.5 1389.0h0M214.0 1383.1h0M213.6 1392.8h0M223.5 1389.4h0M215.1 1395.0h0M216.3 1389.0h0M217.1 1389.2h0M215.8 1385.7h0M222.1 1385.5h0M199.7 1401.9h0M201.0 1399.6h0M197.6 1405.0h0M193.5 1406.3h0M178.0 1388.9h0M180.7 1382.9h0M179.9 1384.2h0M183.3 1382.8h0M179.6 1384.0h0M176.7 1382.6h0M185.5 1383.4h0M179.5 1386.9h0M223.6 1375.9h0M226.0 1377.2h0M233.4 1380.6h0M207.9 1341.8h0M205.7 1344.2h0M166.1 1359.8h0M164.2 1361.5h0M167.9 1364.8h0M159.7 1359.4h0M211.7 1279.9h0" stroke="#1e2290" stroke-opacity="0.90" stroke-width="2.8" stroke-linecap="round" fill="none"/>
<path d="M157.5 1276.3h0M158.5 1272.7h0M165.1 1281.3h0M162.6 1280.5h0M157.1 1277.7h0M156.9 1276.0h0M162.6 1280.4h0M157.8 1297.2h0M158.9 1289.8h0M152.9 1295.8h0M154.7 1295.3h0M157.7 1294.2h0M155.5 1291.7h0M145.2 1295.4h0M155.6 1298.8h0M177.3 1298.8h0M176.4 1296.6h0M178.7 1291.6h0M174.5 1299.3h0M172.1 1292.7h0M168.3 1296.7h0M172.4 1297.7h0M176.9 1297.3h0M178.4 1292.2h0M174.8 1290.2h0M192.4 1289.9h0M193.7 1289.3h0M193.2 1287.9h0M189.1 1286.5h0M193.1 1290.8h0M188.4 1290.1h0M193.4 1291.7h0M190.6 1286.9h0M196.0 1294.5h0M194.1 1298.7h0M200.9 1299.5h0M206.9 1298.4h0M187.8 1292.0h0M200.2 1301.1h0M197.1 1295.1h0M199.2 1284.0h0M198.5 1306.8h0M195.9 1298.5h0M196.8 1292.3h0M218.0 1296.8h0M216.8 1299.1h0M218.9 1292.7h0M219.9 1296.4h0M229.7 1300.7h0M231.3 1302.8h0M230.5 1306.6h0M129.2 1308.4h0M132.1 1306.2h0M129.7 1306.6h0M136.9 1307.2h0M131.3 1309.8h0M136.1 1301.7h0M131.7 1308.7h0M120.8 1327.5h0M116.0 1327.0h0M117.8 1327.8h0M113.3 1320.7h0M117.7 1324.6h0M183.8 1314.9h0M182.4 1317.7h0M176.0 1326.8h0M181.3 1320.0h0M174.0 1315.5h0M178.0 1328.0h0M181.1 1327.8h0M184.4 1318.3h0M188.4 1326.8h0M185.1 1329.6h0M175.4 1317.1h0M170.7 1318.5h0M177.3 1329.3h0M173.9 1322.3h0M180.5 1322.8h0M178.7 1329.2h0M180.6 1334.0h0M183.4 1331.3h0M183.9 1331.8h0M184.0 1336.3h0M185.6 1328.9h0M176.0 1336.7h0M176.2 1332.4h0M179.7 1328.9h0M186.7 1333.0h0M179.8 1337.2h0M212.8 1325.2h0M220.9 1323.9h0M203.4 1330.3h0M214.3 1322.1h0M218.3 1330.2h0M217.8 1323.3h0M213.6 1326.8h0M242.4 1325.0h0M244.2 1323.1h0M242.3 1323.0h0M242.4 1321.8h0M241.0 1322.1h0M147.4 1344.1h0M146.0 1343.2h0M145.8 1343.1h0M149.3 1334.3h0M141.4 1339.9h0M143.7 1338.8h0M140.5 1341.4h0M148.7 1334.7h0M154.8 1342.5h0M147.0 1339.4h0M141.4 1331.7h0M148.7 1335.5h0M140.5 1342.8h0M149.9 1340.0h0M147.4 1353.9h0M152.6 1349.5h0M156.9 1350.7h0M152.2 1347.8h0M161.2 1346.1h0M153.2 1345.1h0M144.8 1353.1h0M152.5 1350.9h0M163.3 1347.4h0M144.3 1349.9h0M153.3 1346.0h0M156.5 1352.6h0M153.4 1349.7h0M144.7 1344.2h0M119.8 1351.2h0M118.4 1347.5h0M118.3 1354.7h0M122.0 1346.4h0M122.7 1346.9h0M116.1 1354.6h0M124.7 1348.8h0M111.0 1344.4h0M113.0 1349.8h0M123.9 1352.3h0M124.6 1341.8h0M122.9 1347.2h0M117.8 1349.9h0M119.9 1359.6h0M120.2 1363.2h0M117.3 1357.4h0M119.0 1358.6h0M118.5 1355.2h0M186.0 1366.8h0M189.5 1369.8h0M196.2 1362.1h0M192.0 1366.4h0M192.5 1365.3h0M194.0 1363.3h0M194.4 1368.1h0M186.3 1361.1h0M186.5 1359.0h0M190.1 1362.6h0M195.8 1368.7h0M192.6 1365.8h0M228.8 1363.8h0M235.8 1362.0h0M231.9 1373.5h0M243.6 1363.1h0M230.5 1364.8h0M234.6 1366.6h0M239.5 1365.5h0M234.8 1360.5h0M239.7 1361.6h0M227.1 1371.0h0M241.9 1349.4h0M242.4 1345.8h0M240.6 1348.8h0M240.3 1350.3h0M240.8 1350.4h0M236.4 1340.8h0M235.2 1348.5h0M235.6 1346.3h0M241.3 1348.1h0M239.4 1353.7h0M136.7 1382.7h0M135.7 1386.2h0M164.6 1391.8h0M171.4 1397.0h0M166.4 1395.7h0M164.1 1394.6h0M164.4 1392.9h0M174.7 1393.0h0M167.9 1395.0h0M152.6 1393.9h0M162.2 1395.3h0M200.0 1380.2h0M198.2 1377.0h0M200.1 1379.8h0M192.4 1375.2h0M195.2 1373.5h0M197.4 1374.0h0M194.9 1378.0h0M194.0 1375.5h0M216.6 1388.6h0M216.3 1389.1h0M219.9 1387.7h0M219.8 1393.0h0M216.3 1381.4h0M212.7 1396.8h0M223.7 1383.9h0M213.4 1393.3h0M225.4 1388.4h0M216.9 1389.7h0M214.1 1384.0h0M222.8 1385.9h0M208.4 1392.3h0M198.7 1409.1h0M202.0 1406.7h0M196.2 1403.6h0M202.1 1408.3h0M198.3 1405.6h0M179.3 1384.2h0M181.2 1385.4h0M180.7 1388.3h0M233.9 1383.5h0M230.9 1377.9h0M231.3 1388.5h0M228.4 1377.7h0M231.6 1374.3h0M226.2 1379.1h0M227.6 1380.9h0M205.5 1347.4h0M207.7 1341.0h0M201.9 1344.9h0M215.0 1276.6h0M208.8 1278.7h0M212.1 1277.6h0M213.6 1277.6h0" stroke="#2e32a6" stroke-opacity="0.85" stroke-width="3.6" stroke-linecap="round" fill="none"/>
<path d="M161.2 1272.3h0M160.2 1273.8h0M161.0 1275.9h0M158.7 1277.6h0M161.0 1276.0h0M159.7 1273.7h0M161.2 1273.4h0M148.7 1298.3h0M154.0 1293.8h0M155.3 1295.0h0M154.0 1295.3h0M146.8 1298.9h0M178.4 1294.5h0M177.7 1296.5h0M179.0 1296.4h0M178.8 1297.7h0M172.4 1293.0h0M192.1 1290.9h0M188.9 1283.7h0M191.3 1288.4h0M192.2 1293.9h0M204.1 1302.9h0M199.4 1300.7h0M199.5 1301.4h0M205.1 1299.6h0M198.2 1292.5h0M205.3 1298.8h0M199.4 1296.3h0M203.9 1296.7h0M200.8 1295.3h0M191.3 1297.1h0M197.4 1298.7h0M201.7 1299.4h0M202.1 1301.6h0M224.6 1301.8h0M225.0 1297.7h0M218.7 1293.3h0M222.9 1292.3h0M221.2 1301.9h0M214.5 1299.4h0M232.7 1303.0h0M226.4 1304.5h0M135.7 1308.1h0M131.1 1306.0h0M130.9 1309.3h0M135.1 1306.2h0M115.7 1327.2h0M120.5 1329.3h0M121.5 1318.9h0M182.5 1323.5h0M184.3 1317.7h0M178.2 1325.3h0M178.4 1316.6h0M176.3 1329.5h0M170.7 1322.3h0M179.3 1323.8h0M176.5 1321.0h0M184.0 1319.6h0M172.4 1316.9h0M177.0 1318.3h0M185.9 1323.6h0M176.2 1319.8h0M181.6 1313.9h0M179.5 1325.5h0M175.3 1336.4h0M178.0 1330.6h0M175.8 1332.8h0M181.1 1332.1h0M185.0 1340.8h0M212.3 1329.6h0M209.3 1325.4h0M208.4 1328.2h0M216.3 1332.4h0M213.8 1323.3h0M212.9 1320.5h0M242.5 1322.8h0M244.7 1319.9h0M147.4 1336.6h0M149.9 1335.1h0M143.5 1344.1h0M144.2 1338.0h0M148.5 1341.5h0M144.4 1342.0h0M148.5 1344.8h0M149.8 1334.9h0M147.9 1337.9h0M148.5 1343.6h0M149.0 1341.6h0M150.4 1356.2h0M149.4 1349.9h0M150.4 1344.5h0M156.0 1345.0h0M149.1 1347.1h0M151.9 1347.3h0M151.5 1339.3h0M153.8 1346.3h0M148.4 1350.3h0M150.9 1354.7h0M147.1 1349.7h0M121.1 1348.5h0M123.9 1346.2h0M122.2 1348.9h0M120.6 1345.9h0M124.5 1345.6h0M113.3 1355.5h0M121.3 1354.5h0M110.7 1355.6h0M119.5 1358.2h0M119.4 1364.1h0M118.1 1364.8h0M116.5 1354.5h0M191.7 1357.0h0M186.4 1363.0h0M203.0 1361.7h0M191.7 1375.1h0M185.4 1362.5h0M188.4 1364.0h0M186.3 1369.0h0M192.6 1360.8h0M196.8 1363.1h0M184.2 1364.3h0M194.2 1364.4h0M230.1 1360.2h0M233.6 1355.8h0M225.0 1366.3h0M232.0 1354.1h0M237.1 1361.8h0M239.6 1368.5h0M239.9 1362.9h0M234.0 1363.5h0M231.1 1369.8h0M226.8 1364.1h0M237.7 1368.3h0M239.6 1344.5h0M235.4 1340.9h0M238.4 1350.7h0M137.3 1383.5h0M134.6 1379.8h0M135.4 1379.4h0M141.2 1389.3h0M130.6 1382.1h0M141.9 1385.9h0M137.2 1376.7h0M137.9 1386.8h0M138.5 1387.2h0M161.5 1388.8h0M162.8 1402.5h0M155.1 1398.7h0M159.8 1388.7h0M163.1 1392.1h0M157.4 1390.8h0M164.9 1388.3h0M160.6 1383.3h0M160.3 1391.8h0M163.7 1380.7h0M156.6 1391.0h0M165.5 1391.4h0M168.7 1396.0h0M166.4 1397.8h0M157.8 1381.2h0M165.5 1391.8h0M193.1 1378.5h0M192.0 1379.8h0M199.9 1376.1h0M195.6 1379.4h0M224.7 1393.1h0M224.1 1384.7h0M225.5 1387.3h0M223.2 1388.3h0M221.1 1390.9h0M218.9 1387.7h0M221.4 1387.9h0M216.4 1393.0h0M219.3 1391.2h0M220.4 1392.9h0M194.4 1408.8h0M201.8 1407.6h0M202.1 1400.9h0M202.8 1403.8h0M203.0 1404.9h0M196.4 1407.6h0M198.7 1397.8h0M175.5 1386.7h0M184.8 1385.7h0M180.2 1383.9h0M228.2 1379.0h0M233.0 1375.9h0M226.1 1374.3h0M227.9 1378.9h0M224.5 1382.9h0M228.9 1375.9h0M225.6 1383.1h0M206.5 1345.0h0M207.5 1340.9h0M207.3 1342.0h0M162.9 1358.1h0M162.3 1358.3h0M165.3 1356.2h0" stroke="#2e32a6" stroke-opacity="0.85" stroke-width="4.4" stroke-linecap="round" fill="none"/>
<path d="M193.2 1330.1h0M160.4 1331.6h0M184.4 1363.9h0M152.5 1311.2h0M220.0 1380.7h0M125.5 1321.3h0M250.6 1355.5h0M234.1 1365.0h0M190.3 1396.5h0M229.8 1311.7h0M206.6 1315.7h0M168.1 1298.4h0M231.7 1309.1h0M148.2 1335.0h0M248.6 1370.5h0M146.0 1398.9h0M172.8 1344.4h0M230.9 1393.0h0M109.7 1344.5h0M125.2 1381.0h0M140.7 1401.2h0M155.2 1405.2h0M138.2 1399.8h0M112.3 1318.3h0M114.7 1321.6h0M169.3 1279.4h0M232.4 1291.7h0M130.8 1358.1h0M214.6 1306.5h0M124.6 1309.9h0M147.9 1319.4h0M127.1 1314.0h0M115.6 1362.9h0M135.2 1389.4h0M221.4 1306.5h0M223.0 1366.4h0M223.3 1288.8h0M199.9 1330.7h0M154.3 1380.3h0M218.1 1372.1h0M137.1 1329.7h0M130.4 1350.9h0M211.7 1354.8h0M222.3 1377.3h0M178.3 1358.5h0M218.1 1395.7h0M234.9 1385.5h0M217.2 1370.1h0M149.3 1309.5h0M227.0 1359.7h0M196.0 1405.8h0M115.5 1333.6h0M201.5 1274.0h0M215.3 1312.7h0M132.0 1306.6h0M251.2 1326.8h0M192.0 1333.5h0M107.7 1335.0h0M215.5 1350.9h0M203.3 1381.9h0M226.6 1284.9h0M164.6 1334.9h0M149.9 1362.1h0M158.4 1335.0h0M247.8 1324.7h0M163.3 1294.3h0M194.6 1392.9h0M154.9 1304.8h0M118.6 1322.8h0M153.4 1291.4h0M249.6 1334.4h0M241.3 1380.5h0M193.7 1350.8h0M238.7 1328.5h0M169.2 1371.3h0M219.7 1399.2h0M207.8 1315.7h0M167.6 1393.7h0M240.8 1349.7h0M193.1 1353.9h0M157.1 1383.8h0M226.8 1397.4h0M220.4 1337.5h0M147.5 1328.5h0M249.8 1364.9h0M159.0 1315.2h0M163.9 1323.6h0M207.8 1293.2h0M184.6 1411.4h0M212.2 1283.7h0M132.0 1297.0h0M168.5 1279.9h0M158.1 1298.5h0M142.5 1399.1h0M167.3 1378.6h0M143.5 1319.8h0M159.4 1402.1h0M219.1 1293.0h0M114.9 1379.0h0M244.3 1358.9h0M152.0 1323.1h0M162.4 1410.5h0M182.5 1272.0h0M140.2 1366.0h0M133.4 1351.5h0M132.4 1330.8h0M183.3 1300.0h0M138.6 1333.9h0M148.6 1352.5h0M169.2 1386.0h0M200.0 1339.0h0M213.5 1275.4h0M192.0 1317.3h0M193.3 1380.0h0M164.3 1280.0h0M202.5 1367.5h0M172.1 1282.0h0M166.1 1375.8h0M225.8 1309.2h0M218.0 1281.9h0M152.5 1352.7h0M117.1 1372.3h0M240.4 1373.8h0M211.2 1334.4h0M112.4 1312.5h0M197.2 1392.6h0M139.2 1291.4h0M174.2 1409.3h0M147.0 1282.4h0M164.2 1367.9h0M248.2 1368.4h0M154.9 1375.8h0M182.1 1410.0h0M215.8 1315.5h0M190.8 1269.0h0M148.7 1328.0h0M175.0 1374.5h0M113.5 1343.6h0M231.5 1334.3h0M239.7 1340.1h0M123.1 1377.6h0M124.0 1390.8h0M150.6 1367.7h0M172.5 1275.7h0M153.3 1396.5h0M246.0 1354.9h0M156.7 1406.8h0M220.1 1396.6h0M202.9 1371.7h0M156.6 1313.6h0M181.2 1271.8h0M126.2 1376.6h0M175.9 1270.5h0M154.4 1395.4h0M215.3 1288.7h0M133.2 1380.3h0M220.6 1301.0h0M164.1 1330.8h0M220.6 1366.1h0M130.8 1318.4h0M236.7 1373.2h0M203.3 1357.5h0M186.7 1327.2h0M158.7 1382.3h0M204.7 1272.5h0M215.2 1381.6h0M234.4 1387.2h0M214.4 1302.8h0M122.9 1326.9h0M159.2 1359.6h0M250.5 1323.4h0M209.8 1403.1h0M222.0 1400.2h0M161.2 1297.2h0M166.0 1368.1h0M176.7 1408.7h0M210.6 1401.6h0M122.9 1322.9h0M236.0 1384.2h0M183.2 1389.8h0M253.4 1335.8h0M230.2 1348.9h0M114.0 1323.4h0M239.8 1337.1h0M172.6 1402.2h0M111.2 1346.7h0M179.3 1286.5h0M195.3 1376.0h0M129.2 1320.1h0M196.4 1271.2h0M239.3 1379.4h0M209.9 1289.1h0M179.2 1331.4h0M153.3 1358.4h0M170.9 1383.3h0M165.7 1391.1h0M121.6 1357.2h0M120.4 1307.7h0M137.2 1362.8h0M215.9 1287.0h0M173.8 1351.5h0M146.7 1281.6h0M151.4 1335.6h0M121.4 1340.3h0M223.4 1332.3h0M224.9 1320.7h0M130.6 1335.7h0M194.4 1294.2h0M156.7 1411.7h0M122.4 1324.9h0M190.1 1368.2h0M143.0 1327.6h0M121.5 1355.0h0M184.6 1379.9h0M254.1 1348.0h0M221.3 1330.3h0M133.8 1293.1h0M241.5 1328.4h0M151.8 1400.1h0M248.0 1360.9h0M124.1 1300.6h0M131.3 1349.7h0M148.1 1374.2h0M244.9 1366.0h0M151.2 1296.6h0M132.4 1363.0h0M139.1 1387.3h0M227.2 1296.7h0M115.8 1323.2h0M152.6 1313.5h0M171.9 1374.2h0M155.7 1350.8h0M202.8 1413.3h0M193.1 1339.3h0M168.4 1356.2h0M213.0 1331.2h0M222.2 1357.1h0M208.8 1348.8h0M206.3 1299.1h0M181.1 1277.5h0M227.2 1382.6h0M112.5 1358.3h0M181.3 1376.7h0M172.2 1400.7h0M175.5 1294.5h0M243.7 1377.8h0M116.4 1306.1h0M136.0 1329.9h0M240.0 1359.4h0M157.1 1380.6h0M189.3 1286.0h0M176.0 1324.1h0M177.3 1304.3h0M220.3 1360.2h0M237.1 1319.2h0M122.6 1331.8h0M222.7 1313.2h0M177.4 1357.9h0M169.3 1362.3h0M155.1 1316.1h0M198.6 1271.6h0M208.9 1369.1h0M184.5 1269.2h0M141.3 1347.0h0M170.2 1378.9h0M203.0 1302.3h0M167.4 1395.2h0M139.1 1328.3h0M144.5 1372.2h0M138.5 1399.8h0M153.7 1356.7h0M211.5 1364.3h0M221.3 1343.3h0M187.7 1345.3h0M135.5 1338.6h0M229.4 1326.3h0M188.1 1289.5h0M105.8 1338.8h0M208.6 1302.0h0M118.8 1337.3h0M168.4 1411.2h0M231.0 1396.9h0M225.1 1394.8h0M145.6 1284.8h0M158.7 1355.7h0M170.2 1331.1h0M179.8 1302.3h0M179.7 1383.5h0M196.6 1376.7h0M184.6 1285.7h0M196.0 1330.2h0M170.2 1297.1h0M164.9 1411.1h0M134.6 1353.6h0M197.7 1392.4h0M194.5 1308.5h0M198.4 1403.9h0M221.6 1305.4h0M186.0 1351.3h0M118.0 1318.0h0M178.5 1384.4h0M148.1 1349.9h0M137.5 1386.1h0M226.8 1394.3h0M220.1 1284.5h0M215.0 1350.4h0M189.4 1318.0h0M216.5 1402.3h0M220.8 1337.7h0M249.4 1332.1h0M177.9 1338.6h0M223.9 1297.5h0M211.4 1341.3h0M141.6 1365.3h0M179.7 1337.4h0M242.7 1319.7h0M136.3 1379.0h0M185.2 1310.5h0M227.2 1344.7h0M165.8 1385.9h0M233.3 1307.0h0M135.6 1297.9h0M202.7 1373.3h0M208.5 1311.8h0M214.7 1295.5h0M161.7 1285.1h0M196.3 1387.6h0M244.0 1307.1h0M226.5 1362.1h0M204.5 1350.2h0M192.7 1342.0h0M207.5 1396.6h0M194.3 1278.1h0M229.0 1376.3h0M239.1 1357.4h0M209.3 1375.7h0M222.9 1293.9h0M235.9 1338.0h0M129.6 1309.8h0M126.4 1370.4h0M152.1 1359.6h0M149.7 1370.9h0M162.8 1330.8h0M143.6 1372.0h0M198.8 1309.8h0M171.6 1287.3h0M174.7 1300.4h0M222.8 1334.7h0M199.8 1310.6h0M199.7 1410.4h0M170.9 1334.9h0M211.0 1293.3h0M162.2 1326.5h0M201.9 1278.1h0M228.5 1302.5h0M167.0 1322.7h0M181.0 1396.5h0M204.8 1292.3h0M192.7 1277.9h0M237.8 1374.8h0M202.7 1352.2h0M225.7 1374.9h0M226.3 1302.1h0M148.3 1321.1h0M145.8 1298.5h0M148.7 1301.7h0M154.6 1389.0h0M114.9 1349.0h0M184.6 1273.7h0M159.6 1388.5h0M202.5 1389.5h0M175.1 1393.5h0M131.9 1350.0h0M227.4 1399.5h0M235.3 1330.9h0M204.0 1310.1h0M138.7 1294.8h0M123.1 1298.9h0M205.8 1406.1h0M141.9 1390.4h0M162.3 1329.8h0M175.6 1302.9h0M124.9 1368.1h0M133.1 1396.8h0M182.3 1360.0h0M225.7 1400.2h0M139.8 1302.3h0M230.1 1306.2h0M230.9 1343.7h0M167.5 1405.4h0M180.0 1413.2h0M188.9 1348.4h0M201.6 1349.6h0M218.3 1299.0h0M108.1 1360.2h0M212.8 1361.1h0M226.2 1349.0h0M135.9 1343.1h0M154.8 1273.1h0M143.1 1400.5h0M214.3 1303.0h0M150.4 1392.0h0M143.6 1388.7h0M173.5 1370.2h0M128.3 1309.4h0M151.9 1378.7h0M109.4 1345.7h0M245.3 1361.5h0M124.4 1386.0h0M188.8 1333.7h0M222.0 1366.8h0M123.2 1325.7h0M138.9 1400.6h0M232.3 1382.6h0M133.8 1341.3h0M106.2 1347.8h0M182.1 1328.3h0M115.7 1352.9h0M175.4 1305.6h0M183.2 1316.4h0" stroke="#3034a8" stroke-opacity="0.8" stroke-width="1.5" stroke-linecap="round" fill="none"/>
</g>
<g clip-path="url(#pl22)">
<rect x="306.0" y="1252.0" width="179.7" height="178.7" fill="url(#plbg)"/>
<circle cx="396.4" cy="1342.6" r="89.0" fill="#d3d4d8" stroke="#e2e3e6" stroke-width="2.5"/>
<circle cx="396.4" cy="1342.6" r="90.6" fill="none" stroke="#a4a7b0" stroke-width="1"/>
<circle cx="396.4" cy="1342.6" r="85.0" fill="none" stroke="#bcbec4" stroke-width="1.2"/>
<circle cx="396.4" cy="1342.6" r="80.0" fill="url(#plin)" stroke="#e6e6e8" stroke-width="2"/>
<circle cx="396.4" cy="1342.6" r="77.0" fill="none" stroke="#c2c3c8" stroke-width="0.8"/>
<path d="M361.8 1276.2h0M358.9 1274.9h0M360.5 1275.8h0M376.9 1296.7h0M376.4 1295.2h0M377.6 1296.0h0M377.3 1296.5h0M381.6 1296.5h0M433.6 1288.3h0M432.0 1287.8h0M433.5 1281.2h0M330.8 1313.7h0M329.8 1314.1h0M329.6 1309.3h0M335.3 1311.6h0M334.8 1306.1h0M349.4 1319.6h0M356.3 1311.2h0M354.4 1313.9h0M382.6 1318.9h0M386.3 1311.8h0M389.4 1309.8h0M381.7 1313.1h0M389.9 1313.5h0M377.1 1318.9h0M380.7 1317.3h0M382.3 1316.8h0M423.1 1306.8h0M425.3 1312.0h0M422.6 1311.5h0M423.0 1309.8h0M452.2 1308.8h0M452.0 1310.5h0M340.4 1329.3h0M341.9 1332.0h0M361.1 1335.9h0M360.7 1332.9h0M365.0 1339.9h0M359.3 1340.1h0M354.6 1339.9h0M354.8 1350.7h0M360.7 1350.8h0M357.7 1341.4h0M365.8 1348.2h0M364.1 1339.2h0M361.5 1336.9h0M357.3 1343.5h0M362.0 1345.4h0M363.9 1337.8h0M354.3 1357.5h0M355.1 1349.3h0M365.2 1356.2h0M357.4 1356.8h0M366.8 1359.0h0M360.5 1354.0h0M365.5 1352.5h0M359.3 1357.7h0M359.1 1365.9h0M365.9 1357.4h0M360.3 1348.0h0M333.9 1355.7h0M328.8 1352.2h0M330.1 1352.8h0M336.8 1351.6h0M334.7 1344.1h0M335.6 1351.6h0M333.0 1350.6h0M395.6 1343.9h0M390.5 1352.5h0M388.2 1356.3h0M397.0 1347.8h0M390.7 1343.2h0M401.8 1346.1h0M389.1 1352.6h0M410.6 1335.6h0M402.6 1335.3h0M410.3 1334.5h0M411.2 1331.2h0M420.5 1344.8h0M420.2 1333.3h0M423.1 1340.6h0M433.6 1345.9h0M423.8 1345.8h0M431.4 1346.2h0M418.1 1350.2h0M423.1 1339.3h0M427.1 1337.2h0M420.4 1346.1h0M420.9 1342.5h0M430.7 1347.3h0M447.1 1338.0h0M446.4 1338.6h0M454.2 1332.7h0M455.7 1337.8h0M454.1 1337.9h0M452.4 1339.9h0M449.9 1341.1h0M357.8 1364.0h0M348.6 1357.7h0M348.5 1361.1h0M349.5 1362.5h0M349.9 1366.7h0M351.7 1358.8h0M340.3 1375.3h0M335.3 1366.7h0M337.0 1374.4h0M336.8 1372.7h0M392.6 1369.7h0M454.1 1373.5h0M456.6 1366.1h0M451.4 1369.6h0M450.3 1380.0h0M446.7 1373.5h0M452.2 1369.5h0M458.5 1368.5h0M435.3 1382.4h0M438.3 1384.9h0M442.7 1383.1h0M438.4 1381.7h0M443.6 1385.6h0M431.5 1378.0h0M437.3 1377.4h0M449.4 1379.5h0M432.1 1383.3h0M366.1 1393.6h0M368.2 1381.3h0M376.0 1400.8h0M370.9 1385.1h0M376.1 1398.2h0M370.9 1391.9h0M364.1 1387.5h0M377.7 1383.8h0M350.4 1382.8h0M352.2 1383.0h0M352.5 1384.9h0M359.4 1388.7h0M400.7 1378.2h0M400.0 1385.0h0M398.7 1385.2h0M408.3 1384.6h0" stroke="#1e2290" stroke-opacity="0.90" stroke-width="1.6" stroke-linecap="round" fill="none"/>
<path d="M359.1 1275.5h0M383.5 1300.3h0M376.3 1295.1h0M385.6 1297.7h0M383.7 1296.4h0M378.8 1294.2h0M379.6 1297.1h0M404.1 1279.2h0M400.9 1282.2h0M433.8 1287.8h0M430.1 1279.4h0M431.8 1284.1h0M330.9 1312.0h0M352.2 1314.3h0M352.6 1315.6h0M399.1 1320.5h0M389.0 1319.4h0M378.6 1317.1h0M384.6 1311.0h0M385.5 1312.9h0M379.4 1313.2h0M376.6 1324.5h0M384.2 1312.7h0M381.4 1319.8h0M383.0 1310.3h0M382.9 1310.7h0M386.6 1312.3h0M424.2 1312.2h0M428.0 1314.3h0M420.8 1309.1h0M424.9 1312.1h0M430.4 1308.0h0M423.0 1306.5h0M423.3 1304.3h0M454.6 1311.3h0M453.6 1311.7h0M333.5 1330.0h0M365.2 1339.1h0M359.2 1340.6h0M358.0 1335.0h0M369.5 1330.4h0M358.8 1346.9h0M353.4 1332.9h0M362.9 1336.8h0M360.1 1337.5h0M351.8 1356.2h0M361.5 1359.0h0M366.2 1359.4h0M359.3 1355.2h0M353.5 1356.6h0M365.3 1357.2h0M366.9 1354.4h0M353.6 1355.2h0M351.8 1350.6h0M357.3 1357.8h0M355.3 1352.6h0M340.4 1351.8h0M330.7 1352.6h0M335.8 1353.2h0M331.1 1356.5h0M336.3 1352.9h0M332.2 1356.1h0M331.5 1347.1h0M397.6 1352.8h0M394.9 1348.6h0M391.0 1345.4h0M398.7 1359.1h0M395.3 1343.7h0M398.4 1353.3h0M397.3 1347.1h0M396.0 1341.9h0M408.2 1344.1h0M397.4 1346.3h0M391.5 1344.0h0M407.5 1337.9h0M404.2 1334.8h0M407.4 1335.7h0M412.4 1329.7h0M403.8 1335.3h0M404.7 1340.8h0M426.8 1346.2h0M418.0 1346.2h0M418.7 1342.2h0M424.9 1339.1h0M416.6 1340.5h0M420.7 1337.9h0M426.9 1343.9h0M429.3 1344.6h0M422.2 1338.2h0M449.2 1332.3h0M453.8 1334.1h0M447.6 1332.0h0M452.5 1334.0h0M434.8 1357.2h0M440.3 1353.2h0M437.7 1350.9h0M351.6 1359.8h0M350.6 1359.3h0M351.6 1364.7h0M354.1 1361.0h0M350.9 1358.8h0M341.5 1377.7h0M341.2 1378.1h0M341.3 1377.8h0M343.7 1366.9h0M337.7 1378.1h0M342.0 1372.0h0M336.5 1375.4h0M392.4 1369.0h0M396.5 1367.0h0M390.8 1369.7h0M449.8 1370.8h0M455.1 1369.6h0M458.7 1368.3h0M450.4 1369.2h0M451.4 1373.8h0M455.7 1376.0h0M437.3 1380.7h0M439.0 1379.3h0M430.2 1378.4h0M439.2 1379.7h0M441.4 1381.6h0M433.7 1389.0h0M439.1 1386.1h0M432.7 1388.6h0M445.3 1387.8h0M434.1 1383.5h0M441.2 1382.4h0M371.9 1393.0h0M367.8 1392.1h0M368.3 1391.4h0M373.4 1387.6h0M372.2 1391.2h0M374.3 1395.6h0M355.0 1382.9h0M399.8 1385.3h0M398.4 1387.0h0M403.9 1388.2h0M402.9 1381.5h0M402.5 1386.6h0" stroke="#1e2290" stroke-opacity="0.90" stroke-width="2.2" stroke-linecap="round" fill="none"/>
<path d="M360.9 1275.6h0M362.5 1277.2h0M360.4 1282.0h0M377.5 1296.7h0M376.8 1294.6h0M379.2 1293.8h0M378.5 1295.7h0M375.0 1295.5h0M403.4 1280.8h0M405.0 1285.7h0M432.2 1284.9h0M328.8 1307.8h0M355.5 1312.2h0M357.0 1316.3h0M354.2 1315.9h0M353.5 1313.8h0M383.3 1316.0h0M381.0 1306.1h0M377.0 1313.0h0M385.9 1321.6h0M391.0 1317.8h0M389.4 1319.3h0M387.8 1316.2h0M379.1 1311.8h0M383.4 1309.1h0M382.8 1310.7h0M382.6 1315.0h0M375.8 1312.2h0M423.3 1304.1h0M421.3 1314.5h0M422.0 1310.7h0M423.8 1312.0h0M422.9 1311.6h0M430.2 1308.6h0M451.0 1315.1h0M452.3 1310.4h0M456.9 1312.3h0M340.9 1331.2h0M340.7 1324.2h0M342.3 1323.6h0M342.5 1328.1h0M363.6 1342.8h0M356.8 1337.2h0M369.9 1347.8h0M364.2 1340.5h0M362.6 1343.5h0M356.9 1342.8h0M357.7 1343.9h0M364.9 1340.3h0M360.4 1334.2h0M361.5 1340.8h0M360.5 1338.3h0M361.1 1333.8h0M358.4 1362.6h0M364.3 1350.2h0M363.1 1365.9h0M359.5 1362.2h0M361.6 1355.7h0M355.9 1362.8h0M334.3 1346.6h0M335.9 1352.6h0M331.1 1356.7h0M335.7 1350.5h0M336.5 1357.4h0M398.7 1349.2h0M387.4 1347.7h0M395.3 1348.8h0M393.1 1350.9h0M395.6 1345.4h0M389.7 1351.5h0M388.1 1341.3h0M393.1 1350.3h0M393.3 1354.6h0M395.8 1349.3h0M395.4 1354.7h0M397.6 1352.8h0M393.0 1347.4h0M405.0 1332.9h0M409.6 1335.8h0M402.7 1331.9h0M404.3 1344.9h0M401.8 1337.9h0M407.3 1334.4h0M408.3 1335.4h0M406.1 1335.8h0M411.5 1335.8h0M426.7 1341.1h0M431.4 1333.7h0M415.9 1349.0h0M419.6 1338.9h0M443.4 1331.6h0M446.6 1337.6h0M449.5 1333.7h0M452.7 1337.9h0M449.8 1335.4h0M443.2 1337.4h0M452.2 1333.3h0M446.9 1330.7h0M445.3 1341.3h0M451.4 1338.3h0M438.3 1352.6h0M358.1 1359.1h0M353.2 1361.9h0M352.3 1367.2h0M351.2 1371.3h0M347.7 1358.3h0M349.5 1355.8h0M340.5 1378.3h0M341.3 1376.5h0M388.2 1366.6h0M392.5 1368.3h0M391.3 1369.1h0M389.8 1364.9h0M454.7 1367.1h0M452.1 1368.0h0M453.0 1369.0h0M454.6 1377.4h0M436.0 1387.7h0M437.9 1388.9h0M450.0 1388.0h0M435.8 1384.1h0M441.9 1385.9h0M438.1 1382.0h0M439.0 1389.2h0M444.0 1375.8h0M435.1 1379.9h0M373.5 1398.8h0M375.7 1389.5h0M376.4 1388.1h0M369.8 1385.4h0M374.8 1389.4h0M378.4 1386.7h0M376.3 1396.2h0M369.9 1392.9h0M368.1 1395.3h0M370.5 1390.1h0M372.3 1394.5h0M350.7 1386.7h0M353.9 1387.2h0M352.1 1389.1h0M355.3 1393.7h0M405.9 1386.5h0M400.8 1387.2h0M406.9 1383.9h0M401.8 1385.8h0M397.0 1390.6h0M401.0 1385.5h0M398.8 1388.5h0M407.7 1381.8h0" stroke="#1e2290" stroke-opacity="0.90" stroke-width="2.8" stroke-linecap="round" fill="none"/>
<path d="M361.9 1279.0h0M378.4 1296.1h0M377.5 1298.2h0M383.6 1293.0h0M373.5 1297.0h0M385.1 1295.2h0M405.2 1281.7h0M402.8 1281.3h0M403.2 1284.2h0M405.7 1282.8h0M435.8 1283.8h0M333.1 1309.0h0M328.1 1309.8h0M350.6 1315.5h0M385.1 1310.1h0M391.7 1318.1h0M387.1 1315.1h0M386.1 1309.3h0M382.4 1313.8h0M382.1 1314.4h0M387.6 1310.9h0M382.1 1313.0h0M385.2 1314.0h0M384.3 1316.8h0M387.2 1316.0h0M388.0 1315.9h0M422.1 1310.9h0M424.8 1309.6h0M425.8 1303.1h0M416.2 1308.8h0M423.8 1310.1h0M417.7 1303.6h0M423.9 1305.4h0M425.5 1311.1h0M420.7 1304.6h0M458.1 1312.6h0M454.2 1311.4h0M341.1 1325.6h0M345.5 1328.9h0M342.7 1327.4h0M336.1 1331.7h0M343.4 1330.8h0M349.6 1341.5h0M368.3 1341.6h0M363.3 1337.3h0M358.7 1339.9h0M364.7 1336.4h0M355.0 1343.2h0M360.8 1363.1h0M362.6 1357.2h0M361.2 1350.8h0M352.8 1363.2h0M357.7 1362.2h0M365.3 1365.0h0M358.6 1354.6h0M359.3 1358.4h0M365.1 1363.0h0M360.1 1364.7h0M361.7 1363.7h0M363.1 1359.2h0M359.8 1353.7h0M357.5 1366.8h0M361.4 1362.4h0M356.7 1355.0h0M339.5 1350.2h0M334.7 1354.1h0M334.5 1353.0h0M328.2 1349.0h0M401.0 1337.3h0M402.9 1358.5h0M395.0 1347.9h0M390.0 1347.6h0M387.4 1337.6h0M399.1 1353.1h0M390.2 1348.2h0M394.1 1353.6h0M386.5 1349.7h0M395.2 1339.5h0M398.7 1344.6h0M393.0 1345.7h0M396.3 1350.3h0M396.8 1347.4h0M384.3 1349.0h0M405.3 1332.1h0M405.0 1331.9h0M401.6 1332.6h0M407.3 1328.5h0M409.9 1333.3h0M429.5 1334.6h0M416.3 1342.5h0M433.6 1341.1h0M423.2 1335.6h0M427.8 1345.4h0M421.7 1341.5h0M422.8 1331.3h0M422.9 1339.1h0M423.8 1340.7h0M422.7 1343.4h0M422.8 1340.8h0M419.4 1342.5h0M423.4 1336.9h0M410.4 1347.0h0M453.4 1337.4h0M444.9 1333.2h0M451.9 1332.1h0M438.8 1357.4h0M440.0 1355.5h0M439.8 1356.8h0M440.3 1350.4h0M352.7 1359.6h0M349.9 1361.8h0M340.2 1372.5h0M337.4 1370.4h0M333.2 1373.2h0M343.3 1375.2h0M339.6 1373.6h0M339.3 1373.8h0M338.3 1375.6h0M340.3 1366.2h0M336.0 1379.7h0M389.3 1363.8h0M389.2 1364.7h0M451.8 1373.0h0M451.5 1369.8h0M459.7 1368.9h0M445.1 1364.9h0M453.3 1373.0h0M440.4 1384.6h0M437.7 1381.1h0M436.5 1378.5h0M435.2 1377.9h0M437.1 1385.0h0M437.0 1379.6h0M427.9 1383.1h0M430.5 1382.8h0M435.5 1371.5h0M438.5 1389.1h0M372.3 1385.6h0M369.9 1397.2h0M379.2 1387.2h0M379.1 1392.2h0M370.4 1393.4h0M374.0 1399.4h0M370.0 1386.2h0M368.1 1395.8h0M374.0 1396.0h0M374.3 1393.5h0M366.7 1395.0h0M366.6 1398.0h0M366.7 1388.5h0M371.0 1389.5h0M366.0 1388.6h0M376.1 1390.0h0M367.8 1391.5h0M369.6 1392.6h0M347.6 1386.7h0M396.5 1383.5h0M400.2 1385.8h0M407.9 1383.7h0M402.2 1390.0h0M401.3 1384.6h0M399.9 1392.6h0" stroke="#2e32a6" stroke-opacity="0.85" stroke-width="3.6" stroke-linecap="round" fill="none"/>
<path d="M362.5 1276.0h0M361.1 1277.4h0M364.2 1275.0h0M385.1 1291.6h0M378.6 1298.5h0M383.9 1296.2h0M376.3 1294.5h0M374.4 1298.8h0M381.2 1295.0h0M383.5 1298.1h0M402.5 1278.9h0M403.0 1283.7h0M406.3 1285.0h0M404.9 1282.7h0M436.2 1287.6h0M432.4 1283.4h0M434.3 1285.8h0M436.7 1287.6h0M332.9 1310.5h0M334.6 1309.7h0M330.9 1308.7h0M351.4 1317.1h0M350.6 1314.9h0M385.7 1318.4h0M388.9 1313.0h0M385.0 1314.1h0M395.3 1317.3h0M386.3 1310.4h0M383.7 1314.2h0M391.0 1325.2h0M384.5 1321.9h0M382.1 1318.4h0M417.0 1318.4h0M426.8 1307.8h0M455.2 1313.5h0M460.1 1311.7h0M456.4 1311.7h0M368.3 1337.1h0M366.9 1339.8h0M359.1 1329.0h0M368.2 1338.9h0M357.9 1339.7h0M360.1 1337.0h0M352.8 1342.9h0M368.8 1348.5h0M365.0 1343.9h0M369.2 1339.6h0M360.1 1344.2h0M355.8 1334.0h0M355.9 1340.7h0M361.6 1351.7h0M359.8 1364.0h0M356.3 1359.0h0M364.2 1359.0h0M356.9 1362.1h0M358.9 1358.7h0M363.3 1356.8h0M368.2 1352.6h0M355.5 1348.1h0M336.9 1349.4h0M332.3 1348.6h0M333.1 1351.2h0M333.2 1352.0h0M331.7 1351.7h0M402.0 1349.4h0M401.2 1350.6h0M391.5 1350.6h0M398.6 1345.2h0M394.2 1350.2h0M387.0 1352.3h0M395.3 1348.7h0M406.5 1335.8h0M407.8 1330.4h0M408.5 1331.7h0M409.8 1334.9h0M422.3 1341.3h0M425.8 1343.1h0M423.8 1345.5h0M417.9 1344.5h0M418.5 1334.7h0M428.8 1343.4h0M424.2 1343.6h0M427.9 1333.2h0M425.4 1344.5h0M418.1 1350.3h0M414.8 1342.2h0M422.8 1346.0h0M430.3 1339.7h0M430.3 1331.6h0M451.8 1335.8h0M445.5 1330.9h0M447.4 1331.7h0M450.6 1336.8h0M436.6 1356.4h0M437.8 1354.9h0M437.0 1351.9h0M435.3 1355.3h0M352.1 1355.6h0M356.0 1352.6h0M354.1 1357.4h0M354.0 1361.0h0M354.1 1360.9h0M354.7 1362.2h0M349.9 1356.3h0M350.4 1363.9h0M356.3 1364.3h0M338.5 1378.0h0M344.5 1371.1h0M335.0 1376.1h0M338.9 1368.8h0M338.1 1378.7h0M340.8 1377.6h0M388.6 1361.5h0M390.3 1365.6h0M449.9 1366.8h0M454.4 1368.5h0M447.2 1372.6h0M453.0 1368.2h0M454.8 1368.2h0M456.3 1370.8h0M438.9 1384.0h0M440.7 1375.4h0M440.1 1382.5h0M434.5 1387.8h0M440.0 1374.7h0M438.1 1385.7h0M447.5 1380.0h0M433.6 1384.4h0M439.7 1384.9h0M436.9 1390.5h0M444.3 1386.5h0M440.0 1379.7h0M432.7 1390.0h0M438.8 1383.2h0M365.9 1390.2h0M368.6 1393.1h0M375.4 1395.1h0M369.5 1388.2h0M375.1 1395.9h0M374.3 1386.2h0M377.0 1390.1h0M367.1 1390.4h0M368.2 1388.7h0M372.7 1388.4h0M352.0 1384.7h0M352.9 1384.8h0M400.5 1386.7h0M396.5 1390.6h0M401.1 1388.4h0M403.1 1391.9h0M405.0 1392.7h0" stroke="#2e32a6" stroke-opacity="0.85" stroke-width="4.4" stroke-linecap="round" fill="none"/>
<path d="M433.7 1381.0h0M443.4 1287.1h0M396.8 1321.0h0M371.2 1314.0h0M414.0 1360.5h0M399.2 1323.3h0M425.4 1310.4h0M345.9 1394.3h0M418.0 1387.2h0M433.1 1294.5h0M398.1 1366.6h0M421.2 1288.1h0M426.9 1332.1h0M383.1 1404.8h0M366.0 1411.4h0M387.8 1367.3h0M373.9 1343.6h0M341.7 1391.7h0M368.6 1301.3h0M361.1 1283.2h0M466.2 1368.3h0M436.2 1314.4h0M414.7 1404.0h0M371.9 1334.7h0M353.2 1309.9h0M386.6 1335.8h0M347.5 1328.5h0M438.3 1293.8h0M384.6 1286.4h0M404.4 1411.4h0M391.8 1416.8h0M348.5 1333.6h0M355.0 1374.4h0M366.4 1341.7h0M383.1 1350.7h0M372.4 1332.9h0M398.3 1354.2h0M382.7 1341.9h0M335.1 1350.3h0M427.8 1373.7h0M380.8 1390.9h0M378.7 1385.3h0M403.3 1334.4h0M460.2 1308.5h0M353.4 1292.2h0M390.7 1293.5h0M409.3 1364.6h0M346.6 1304.6h0M378.8 1269.3h0M380.5 1399.3h0M385.2 1412.6h0M450.7 1365.9h0M421.7 1315.7h0M444.8 1334.8h0M438.3 1341.5h0M434.2 1317.2h0M428.5 1277.5h0M337.9 1312.8h0M397.6 1270.2h0M419.9 1287.0h0M385.5 1285.5h0M396.0 1353.3h0M419.7 1330.8h0M367.4 1358.0h0M400.4 1374.1h0M370.6 1335.5h0M434.6 1297.4h0M419.9 1367.4h0M392.3 1268.1h0M387.2 1348.6h0M395.5 1399.9h0M352.5 1390.4h0M467.3 1368.2h0M449.1 1373.4h0M325.5 1340.4h0M355.2 1362.4h0M352.8 1401.0h0M378.5 1301.3h0M356.0 1365.4h0M456.3 1386.7h0M442.9 1284.7h0M378.8 1340.8h0M426.1 1362.2h0M354.6 1348.7h0M466.3 1326.4h0M356.3 1357.5h0M363.4 1380.4h0M374.8 1352.7h0M429.7 1287.7h0M437.7 1342.3h0M334.6 1369.1h0M333.9 1377.7h0M394.5 1301.8h0M386.6 1293.0h0M429.2 1328.4h0M398.4 1385.3h0M419.8 1355.2h0M429.8 1297.6h0M414.7 1278.8h0M365.4 1306.3h0M426.3 1312.2h0M412.1 1330.2h0M339.3 1294.3h0M351.5 1334.0h0M346.9 1349.7h0M422.0 1385.1h0M412.1 1393.3h0M341.1 1327.9h0M393.6 1333.5h0M437.2 1364.3h0M455.2 1373.2h0M388.9 1308.7h0M357.7 1331.6h0M361.9 1393.1h0M373.9 1344.3h0M450.8 1362.8h0M430.8 1293.6h0M342.2 1331.3h0M330.4 1341.0h0M349.4 1328.5h0M393.1 1389.6h0M341.6 1350.8h0M441.5 1358.6h0M441.3 1321.8h0M401.4 1282.1h0M452.0 1331.3h0M442.7 1376.2h0M468.3 1321.8h0M370.0 1304.7h0M382.7 1324.4h0M414.2 1277.5h0M369.1 1403.8h0M456.0 1303.2h0M431.7 1290.0h0M340.7 1343.1h0M356.2 1354.1h0M374.4 1346.7h0M335.4 1359.1h0M379.4 1411.8h0M453.9 1296.8h0M333.6 1310.0h0M420.3 1361.7h0M431.6 1372.3h0M441.4 1346.9h0M437.7 1306.9h0M442.3 1374.6h0M348.4 1301.9h0M418.5 1374.7h0M354.4 1378.1h0M420.7 1295.6h0M373.1 1291.8h0M378.4 1358.3h0M462.4 1315.2h0M385.8 1285.3h0M409.6 1310.0h0M447.3 1361.3h0M379.7 1367.2h0M378.3 1415.3h0M397.4 1325.1h0M389.9 1409.4h0M377.6 1309.4h0M330.6 1313.7h0M469.9 1347.6h0M386.3 1376.0h0M344.6 1350.6h0M421.5 1370.8h0M385.3 1304.0h0M442.0 1365.3h0M326.7 1333.7h0M362.1 1291.7h0M440.8 1303.0h0M343.5 1315.4h0M337.7 1373.6h0M325.6 1364.3h0M336.3 1301.6h0M437.2 1393.0h0M409.1 1395.8h0M387.2 1351.9h0M416.2 1287.8h0M374.6 1396.9h0M414.0 1324.4h0M379.4 1409.9h0M467.1 1340.4h0M380.0 1378.7h0M408.9 1363.8h0M419.7 1390.2h0M394.6 1338.6h0M410.2 1409.1h0M402.9 1303.2h0M430.3 1336.1h0M412.1 1387.3h0M322.1 1349.5h0M405.4 1412.7h0M338.9 1298.7h0M440.5 1284.1h0M354.9 1298.0h0M351.0 1348.0h0M382.3 1318.2h0M415.0 1415.1h0M351.0 1366.0h0M363.9 1313.3h0M401.8 1407.0h0M343.4 1390.8h0M352.2 1334.8h0M353.3 1385.9h0M456.9 1382.4h0M428.0 1397.0h0M454.2 1348.9h0M421.3 1401.9h0M327.3 1370.4h0M406.3 1415.8h0M400.6 1293.1h0M409.9 1294.3h0M351.9 1390.6h0M415.3 1297.6h0M388.9 1314.8h0M442.5 1284.9h0M443.6 1333.3h0M386.0 1280.3h0M408.0 1362.8h0M354.7 1280.1h0M377.2 1287.7h0M428.4 1332.1h0M420.4 1336.8h0M411.9 1308.3h0M397.7 1294.5h0M448.2 1322.5h0M399.4 1313.8h0M424.6 1313.6h0M400.1 1305.3h0M421.9 1355.7h0M390.4 1343.5h0M397.2 1359.3h0M407.3 1394.7h0M426.9 1396.8h0M390.1 1389.4h0M337.8 1348.9h0M377.8 1347.5h0M369.4 1295.7h0M424.7 1393.4h0M455.8 1344.3h0M377.9 1401.5h0M446.6 1375.0h0M394.2 1343.7h0M371.6 1339.3h0M422.5 1309.9h0M414.7 1387.6h0M361.3 1299.9h0M381.0 1283.5h0M456.3 1339.6h0M357.5 1405.1h0M357.0 1352.4h0M460.5 1345.0h0M374.0 1326.2h0M424.4 1333.1h0M347.6 1311.0h0M353.8 1362.0h0M359.8 1301.1h0M372.0 1380.0h0M346.9 1342.4h0" stroke="#3034a8" stroke-opacity="0.8" stroke-width="1.4" stroke-linecap="round" fill="none"/>
</g>
<text x="289.0" y="1469.3" font-size="22.23" font-weight="bold" text-anchor="middle" textLength="76.6" lengthAdjust="spacingAndGlyphs">WM451</text>
<rect x="86.0" y="1438.3" width="404.7" height="5.2" fill="#000"/>
<text x="941.0" y="1231.3" font-size="22.16" font-weight="bold" text-anchor="middle" textLength="32.0" lengthAdjust="spacingAndGlyphs">NC</text>
<rect x="859.5" y="1244.0" width="177.2" height="3.8" fill="#000"/>
<text x="1155.0" y="1232.0" font-size="22.47" font-weight="bold" text-anchor="middle" textLength="141.1" lengthAdjust="spacingAndGlyphs">shLINC00518</text>
<rect x="1073.6" y="1243.1" width="177.1" height="3.8" fill="#000"/>
<g clip-path="url(#pl23)">
<rect x="856.0" y="1252.0" width="180.7" height="178.6" fill="url(#plbg)"/>
<circle cx="947.4" cy="1339.5" r="88.0" fill="#d3d4d8" stroke="#e2e3e6" stroke-width="2.5"/>
<circle cx="947.4" cy="1339.5" r="89.6" fill="none" stroke="#a4a7b0" stroke-width="1"/>
<circle cx="947.4" cy="1339.5" r="84.0" fill="none" stroke="#bcbec4" stroke-width="1.2"/>
<circle cx="947.4" cy="1339.5" r="79.0" fill="url(#plin)" stroke="#e6e6e8" stroke-width="2"/>
<circle cx="947.4" cy="1339.5" r="76.0" fill="none" stroke="#c2c3c8" stroke-width="0.8"/>
<path d="M934.1 1289.4h0M923.2 1294.8h0M929.5 1293.9h0M924.6 1291.4h0M925.7 1295.9h0M920.8 1293.4h0M919.4 1283.0h0M910.8 1291.2h0M927.2 1293.5h0M921.0 1293.3h0M936.0 1301.7h0M932.4 1295.8h0M929.5 1309.9h0M933.7 1300.6h0M925.3 1297.1h0M929.2 1312.8h0M941.9 1303.6h0M933.4 1307.1h0M936.4 1301.7h0M934.6 1303.6h0M933.6 1315.6h0M938.6 1305.2h0M941.5 1298.2h0M937.9 1312.6h0M945.8 1307.4h0M943.9 1304.7h0M942.0 1307.6h0M931.9 1305.0h0M942.0 1316.6h0M945.2 1306.8h0M947.3 1312.7h0M942.8 1310.3h0M941.4 1305.6h0M948.0 1317.9h0M954.6 1311.1h0M943.3 1313.1h0M948.0 1312.2h0M952.3 1322.4h0M958.2 1311.5h0M956.5 1320.8h0M953.2 1312.7h0M948.5 1320.5h0M955.5 1330.7h0M955.7 1325.5h0M950.1 1319.4h0M953.1 1321.0h0M964.2 1333.7h0M966.5 1335.9h0M961.7 1328.3h0M960.9 1333.7h0M962.5 1327.7h0M953.3 1322.6h0M958.3 1333.6h0M953.1 1331.8h0M947.2 1347.2h0M953.1 1334.1h0M961.8 1335.8h0M955.0 1338.8h0M952.9 1344.6h0M951.6 1343.2h0M954.5 1343.3h0M948.0 1330.1h0M939.7 1340.2h0M945.4 1334.5h0M947.4 1336.4h0M942.3 1342.1h0M990.1 1310.0h0M979.8 1304.8h0M992.4 1317.1h0M984.8 1308.9h0M984.8 1307.3h0M985.1 1309.5h0M989.1 1313.8h0M989.6 1310.6h0M988.2 1308.2h0M998.4 1312.7h0M997.4 1311.4h0M1001.6 1311.4h0M996.8 1318.1h0M989.5 1312.5h0M989.5 1314.5h0M988.9 1321.7h0M988.2 1318.3h0M987.4 1314.0h0M991.0 1319.5h0M990.3 1306.1h0M1003.0 1321.2h0M995.4 1317.9h0M996.4 1317.5h0M981.4 1302.0h0M984.4 1298.1h0M981.9 1304.4h0M984.8 1303.7h0M883.6 1321.9h0M882.4 1327.8h0M882.1 1317.0h0M881.6 1317.6h0M905.7 1288.5h0M903.2 1297.0h0M902.8 1369.5h0M906.3 1367.6h0M884.6 1370.8h0M887.3 1372.9h0M895.0 1376.9h0M900.4 1368.4h0M886.9 1367.8h0M888.0 1369.8h0M896.6 1369.6h0M900.8 1375.4h0M903.1 1377.5h0M901.9 1376.1h0M906.2 1380.2h0M907.9 1366.6h0M910.8 1377.6h0M948.0 1359.1h0M946.8 1355.0h0M948.5 1363.9h0M947.8 1366.4h0M950.3 1355.9h0M952.1 1357.6h0M943.0 1356.9h0M946.2 1367.3h0M944.4 1364.5h0M957.1 1365.9h0M954.3 1369.3h0M946.0 1362.9h0M949.0 1363.8h0M956.4 1367.4h0M959.5 1376.1h0M957.7 1370.4h0M989.1 1362.1h0M1001.9 1356.7h0M996.4 1351.9h0M996.9 1358.0h0M998.8 1363.6h0M996.4 1353.5h0M997.8 1355.7h0M995.1 1363.9h0M994.0 1357.6h0M996.0 1362.9h0M997.5 1362.6h0M1001.5 1374.7h0M996.2 1364.2h0M997.7 1381.2h0M991.3 1358.1h0M994.4 1363.6h0M994.1 1375.0h0M998.2 1365.9h0M1001.1 1365.3h0M990.8 1368.8h0M990.2 1364.1h0M996.9 1378.1h0M996.4 1369.0h0M957.5 1390.7h0M954.8 1387.4h0M956.9 1392.4h0M954.7 1394.3h0M955.7 1392.5h0M951.6 1391.8h0M983.9 1389.5h0M991.0 1396.7h0M987.6 1382.7h0M930.7 1393.6h0M928.9 1396.0h0M931.4 1395.6h0M922.3 1382.3h0M951.2 1272.6h0M919.4 1345.6h0M920.1 1349.1h0M971.4 1346.7h0" stroke="#1e2290" stroke-opacity="0.90" stroke-width="2.2" stroke-linecap="round" fill="none"/>
<path d="M921.8 1294.0h0M919.9 1291.8h0M922.0 1296.2h0M934.7 1299.5h0M931.8 1295.7h0M936.9 1300.6h0M932.1 1302.5h0M943.1 1292.0h0M938.5 1311.5h0M934.9 1300.3h0M941.1 1305.0h0M944.6 1303.9h0M934.0 1299.4h0M930.4 1306.1h0M934.5 1299.9h0M931.2 1298.1h0M932.5 1300.7h0M940.9 1310.0h0M942.3 1307.5h0M936.2 1310.0h0M943.7 1306.5h0M935.8 1303.8h0M948.6 1313.1h0M943.9 1307.4h0M931.9 1301.7h0M955.8 1312.6h0M948.8 1322.1h0M949.3 1325.3h0M944.7 1302.8h0M951.9 1315.7h0M953.3 1318.0h0M964.7 1306.2h0M956.2 1316.3h0M950.7 1309.1h0M948.1 1322.8h0M954.7 1326.3h0M955.5 1318.5h0M958.6 1328.6h0M950.2 1320.3h0M960.5 1315.2h0M953.9 1328.6h0M957.9 1322.5h0M951.6 1324.1h0M946.3 1316.0h0M945.8 1319.3h0M968.3 1329.2h0M959.8 1330.5h0M954.7 1342.3h0M959.2 1336.7h0M960.6 1343.1h0M962.0 1336.4h0M960.1 1340.9h0M954.5 1340.2h0M955.9 1345.0h0M952.4 1332.9h0M951.9 1338.8h0M942.0 1339.0h0M986.2 1317.8h0M978.6 1314.7h0M997.8 1312.8h0M991.9 1310.8h0M996.0 1318.6h0M991.0 1315.0h0M998.1 1313.6h0M986.1 1316.3h0M996.7 1315.5h0M998.2 1317.6h0M990.6 1310.4h0M1000.4 1317.1h0M993.7 1319.3h0M1002.5 1322.4h0M998.2 1317.7h0M999.1 1318.6h0M978.4 1300.4h0M982.1 1300.9h0M889.3 1322.3h0M884.4 1328.3h0M882.7 1323.2h0M876.6 1332.3h0M878.5 1328.5h0M878.1 1310.2h0M882.9 1321.0h0M882.8 1322.3h0M908.6 1291.6h0M899.0 1365.9h0M891.9 1374.0h0M899.7 1373.0h0M896.6 1374.0h0M892.7 1379.5h0M894.2 1369.0h0M905.1 1365.8h0M901.3 1371.1h0M896.5 1384.7h0M899.7 1372.3h0M903.6 1374.3h0M902.7 1379.9h0M894.6 1379.2h0M903.5 1381.7h0M898.0 1377.8h0M941.2 1360.1h0M945.5 1356.8h0M948.9 1353.3h0M947.6 1362.9h0M953.1 1353.5h0M944.6 1364.0h0M946.4 1367.2h0M946.0 1356.0h0M951.0 1365.7h0M952.5 1367.9h0M951.5 1362.2h0M952.9 1371.1h0M952.5 1375.7h0M957.2 1374.9h0M954.3 1371.7h0M952.1 1376.2h0M952.2 1373.9h0M991.3 1353.4h0M996.8 1356.6h0M1000.1 1369.2h0M990.6 1364.3h0M997.6 1360.7h0M988.4 1366.1h0M990.3 1375.3h0M997.5 1370.9h0M1000.0 1365.2h0M999.1 1371.4h0M991.5 1378.0h0M993.1 1362.3h0M998.9 1360.5h0M956.0 1394.3h0M955.7 1395.5h0M958.3 1403.1h0M954.3 1394.7h0M951.6 1390.9h0M955.5 1388.1h0M988.2 1386.7h0M987.3 1386.4h0M993.5 1388.6h0M928.4 1398.3h0M923.4 1391.9h0M920.2 1382.4h0M923.3 1385.1h0M948.9 1276.0h0M971.8 1277.7h0M975.3 1278.2h0M970.1 1279.3h0M973.0 1281.5h0M917.9 1347.5h0M917.0 1347.0h0M971.7 1349.4h0M972.8 1349.1h0M972.2 1342.6h0" stroke="#1e2290" stroke-opacity="0.90" stroke-width="3.0" stroke-linecap="round" fill="none"/>
<path d="M916.7 1293.9h0M925.3 1297.1h0M914.2 1290.0h0M925.9 1290.8h0M922.9 1294.6h0M927.8 1299.1h0M940.4 1298.3h0M937.0 1299.2h0M929.4 1298.2h0M925.5 1305.1h0M940.4 1302.7h0M926.9 1304.7h0M935.9 1298.9h0M927.5 1296.8h0M936.6 1293.8h0M928.8 1314.5h0M936.5 1299.5h0M944.4 1303.1h0M930.7 1307.5h0M941.7 1297.8h0M935.8 1302.3h0M944.8 1308.0h0M945.2 1314.7h0M942.2 1310.0h0M941.8 1312.0h0M952.6 1310.8h0M948.9 1312.7h0M947.6 1316.0h0M953.6 1305.9h0M945.1 1307.1h0M955.0 1318.3h0M948.3 1316.4h0M950.2 1315.3h0M949.9 1314.5h0M960.4 1325.9h0M955.0 1321.3h0M954.8 1320.4h0M952.2 1319.8h0M952.8 1323.1h0M958.9 1314.8h0M950.5 1315.6h0M960.0 1330.3h0M960.5 1330.7h0M958.1 1328.1h0M956.0 1334.0h0M966.9 1325.8h0M962.3 1325.4h0M967.6 1329.2h0M962.0 1332.8h0M960.2 1332.6h0M954.6 1337.1h0M950.9 1333.3h0M955.3 1330.6h0M947.5 1352.4h0M957.2 1340.3h0M955.3 1337.4h0M961.8 1343.1h0M960.0 1334.0h0M945.5 1333.9h0M944.8 1335.8h0M950.0 1335.0h0M945.5 1332.8h0M942.1 1341.4h0M986.7 1305.4h0M982.3 1308.7h0M982.3 1309.8h0M986.3 1311.7h0M977.0 1319.0h0M979.3 1311.7h0M986.4 1306.6h0M983.8 1309.8h0M990.6 1315.8h0M993.9 1311.5h0M995.6 1311.2h0M990.2 1313.5h0M988.6 1308.1h0M990.7 1317.0h0M992.6 1323.2h0M986.9 1308.9h0M996.3 1314.0h0M999.7 1314.8h0M995.3 1317.4h0M996.8 1314.4h0M996.0 1319.2h0M977.1 1302.9h0M982.0 1310.5h0M980.8 1305.3h0M985.6 1301.9h0M978.4 1299.5h0M881.5 1323.7h0M881.8 1326.8h0M883.4 1322.4h0M883.1 1317.1h0M886.9 1316.7h0M883.8 1317.7h0M879.7 1321.7h0M904.8 1295.7h0M904.1 1289.8h0M905.7 1291.8h0M905.3 1293.0h0M892.1 1366.5h0M894.8 1375.9h0M890.2 1367.5h0M893.9 1365.1h0M899.6 1369.5h0M896.8 1363.7h0M902.6 1379.1h0M897.7 1373.2h0M907.9 1380.6h0M903.3 1374.9h0M900.8 1378.0h0M907.0 1374.2h0M898.8 1377.0h0M903.3 1370.2h0M899.6 1369.8h0M906.5 1371.9h0M898.8 1367.3h0M950.8 1359.1h0M948.9 1362.2h0M949.2 1361.6h0M952.3 1363.3h0M950.4 1359.7h0M953.4 1360.2h0M957.8 1372.4h0M945.2 1362.2h0M958.9 1362.9h0M943.2 1373.9h0M950.4 1361.7h0M947.3 1370.4h0M946.3 1371.6h0M947.6 1360.6h0M952.2 1364.2h0M950.1 1358.4h0M953.6 1366.1h0M945.8 1369.9h0M956.6 1373.2h0M949.7 1373.0h0M952.8 1371.1h0M953.3 1373.4h0M955.0 1367.2h0M953.9 1371.7h0M957.8 1377.2h0M994.4 1355.2h0M1004.3 1358.8h0M986.4 1362.5h0M997.7 1361.2h0M993.4 1359.5h0M1004.2 1367.1h0M997.3 1370.9h0M996.6 1366.8h0M998.5 1362.9h0M995.7 1369.9h0M997.3 1362.8h0M995.3 1369.3h0M1002.5 1370.7h0M952.4 1401.5h0M955.6 1394.7h0M956.0 1394.0h0M992.5 1388.7h0M989.7 1385.4h0M930.4 1399.4h0M925.6 1384.2h0M922.0 1383.0h0M947.6 1278.8h0M951.8 1271.6h0M948.1 1278.9h0M975.2 1276.8h0M975.6 1275.7h0M916.3 1351.2h0M915.9 1347.8h0M975.3 1349.3h0M974.7 1346.2h0M970.7 1347.4h0" stroke="#2e32a6" stroke-opacity="0.85" stroke-width="3.8" stroke-linecap="round" fill="none"/>
<path d="M928.1 1294.9h0M928.6 1297.2h0M928.8 1291.1h0M922.5 1292.9h0M927.8 1297.2h0M925.7 1294.3h0M917.1 1304.7h0M921.2 1295.1h0M915.4 1299.2h0M924.7 1287.8h0M928.0 1285.5h0M934.7 1305.0h0M932.6 1302.1h0M931.8 1301.1h0M936.5 1299.4h0M941.7 1303.1h0M930.2 1300.5h0M936.1 1300.3h0M932.6 1313.6h0M938.8 1301.8h0M928.0 1302.4h0M937.5 1303.1h0M939.0 1307.7h0M940.6 1305.7h0M934.2 1304.7h0M933.4 1306.9h0M948.2 1297.9h0M937.0 1295.8h0M936.5 1308.0h0M942.6 1307.6h0M947.5 1314.7h0M941.1 1317.4h0M940.6 1311.9h0M943.4 1323.2h0M951.5 1328.0h0M945.6 1315.0h0M942.9 1318.2h0M946.7 1319.9h0M948.6 1306.0h0M957.3 1310.1h0M963.1 1309.2h0M966.3 1316.0h0M951.4 1322.9h0M959.0 1315.0h0M959.6 1313.7h0M952.8 1328.2h0M965.6 1335.8h0M969.5 1330.2h0M955.0 1324.6h0M953.2 1318.7h0M960.2 1325.3h0M961.5 1321.5h0M956.9 1336.1h0M961.8 1325.8h0M960.2 1320.9h0M954.0 1335.5h0M951.1 1328.5h0M959.4 1341.9h0M956.7 1333.6h0M954.1 1328.8h0M949.3 1337.4h0M950.2 1338.0h0M957.0 1336.4h0M944.9 1336.7h0M939.3 1343.2h0M941.0 1338.7h0M988.1 1307.7h0M988.0 1307.6h0M993.3 1303.3h0M987.8 1313.0h0M980.4 1310.6h0M989.6 1314.3h0M990.9 1306.4h0M994.9 1309.9h0M985.9 1311.8h0M991.6 1310.6h0M993.5 1310.9h0M982.5 1317.1h0M1004.5 1318.4h0M998.2 1309.8h0M1001.5 1313.1h0M1003.7 1314.5h0M986.6 1302.5h0M979.2 1301.9h0M981.9 1305.7h0M877.8 1326.7h0M885.0 1328.9h0M886.6 1327.1h0M880.4 1331.2h0M883.0 1323.5h0M876.5 1325.7h0M880.3 1325.0h0M879.4 1327.6h0M876.8 1323.2h0M883.9 1316.1h0M887.2 1312.0h0M883.6 1319.1h0M884.9 1317.8h0M883.5 1310.9h0M883.2 1316.6h0M881.6 1310.2h0M891.9 1371.9h0M905.5 1366.9h0M895.1 1368.0h0M892.6 1371.7h0M893.6 1367.8h0M895.9 1362.0h0M894.1 1368.9h0M897.2 1373.9h0M897.3 1371.4h0M891.5 1374.3h0M890.0 1367.6h0M903.2 1364.4h0M909.0 1377.8h0M901.4 1379.5h0M903.7 1374.3h0M904.4 1374.1h0M904.0 1376.8h0M939.7 1352.8h0M937.7 1362.3h0M952.2 1359.5h0M956.2 1366.1h0M940.6 1362.1h0M953.6 1359.7h0M943.1 1359.0h0M945.4 1361.1h0M953.4 1354.9h0M941.9 1362.7h0M947.5 1358.9h0M953.4 1369.8h0M948.1 1355.0h0M945.1 1370.3h0M953.1 1369.4h0M953.5 1376.8h0M958.2 1366.2h0M948.6 1362.4h0M953.5 1367.1h0M957.9 1373.1h0M959.8 1373.0h0M998.6 1345.3h0M1000.6 1356.0h0M994.3 1361.7h0M992.7 1363.9h0M1001.7 1363.2h0M987.4 1364.2h0M1000.8 1356.8h0M999.7 1360.5h0M992.7 1354.8h0M1001.2 1374.7h0M1001.4 1371.1h0M1001.3 1362.0h0M998.9 1364.5h0M960.1 1391.6h0M959.3 1396.2h0M958.5 1394.7h0M988.2 1390.8h0M996.6 1389.3h0M991.0 1387.6h0M986.6 1381.1h0M989.4 1391.8h0M984.7 1387.9h0M986.1 1382.9h0M985.2 1388.0h0M986.5 1388.4h0M930.9 1394.3h0M929.7 1396.2h0M948.1 1273.3h0M949.8 1272.6h0M971.5 1277.5h0M973.6 1275.8h0M916.0 1351.7h0M917.9 1344.1h0M914.3 1347.3h0M970.6 1345.7h0" stroke="#2e32a6" stroke-opacity="0.85" stroke-width="4.6" stroke-linecap="round" fill="none"/>
<path d="M924.1 1295.3h0M918.4 1290.9h0M925.7 1301.8h0M924.4 1290.1h0M921.7 1306.7h0M921.6 1289.6h0M924.6 1300.3h0M917.9 1292.2h0M933.2 1294.7h0M929.6 1297.5h0M934.2 1299.9h0M931.5 1298.4h0M925.4 1301.4h0M931.9 1297.7h0M932.8 1291.0h0M934.2 1306.2h0M933.4 1298.8h0M938.8 1299.9h0M935.0 1306.8h0M942.5 1303.1h0M937.5 1304.8h0M946.1 1298.6h0M938.2 1311.0h0M939.1 1303.8h0M940.0 1309.2h0M943.0 1320.0h0M946.5 1302.3h0M940.0 1314.3h0M945.2 1311.5h0M938.0 1308.7h0M945.6 1306.4h0M941.0 1310.2h0M944.8 1305.5h0M943.4 1306.9h0M944.2 1307.4h0M938.4 1313.1h0M943.8 1312.0h0M943.5 1319.2h0M950.0 1315.6h0M956.5 1309.4h0M946.6 1319.6h0M954.3 1308.5h0M949.6 1311.0h0M960.4 1323.6h0M960.7 1322.2h0M949.6 1319.8h0M951.8 1319.3h0M953.9 1320.2h0M948.4 1318.7h0M958.6 1322.6h0M955.7 1326.6h0M961.6 1329.6h0M963.3 1335.2h0M962.1 1322.9h0M955.5 1325.4h0M960.2 1329.5h0M960.2 1331.6h0M963.0 1325.7h0M959.2 1322.7h0M956.9 1321.0h0M959.5 1323.0h0M957.9 1333.3h0M954.3 1334.9h0M951.8 1342.1h0M951.4 1341.5h0M952.6 1337.5h0M955.8 1340.0h0M942.9 1330.7h0M939.9 1339.0h0M942.3 1335.7h0M949.5 1335.8h0M947.5 1335.3h0M980.4 1305.3h0M977.4 1313.7h0M986.5 1308.2h0M989.3 1306.2h0M984.6 1320.4h0M982.9 1307.1h0M980.4 1314.0h0M990.3 1301.3h0M979.8 1308.2h0M986.9 1308.9h0M994.0 1319.1h0M988.0 1322.8h0M1000.0 1313.7h0M984.6 1308.5h0M998.5 1307.4h0M986.3 1309.9h0M1001.3 1317.9h0M1005.1 1313.7h0M997.9 1319.7h0M1002.8 1322.7h0M980.8 1302.0h0M975.5 1300.4h0M981.7 1301.9h0M978.3 1301.9h0M981.4 1300.5h0M983.3 1298.2h0M886.9 1318.9h0M890.0 1323.1h0M878.1 1321.1h0M886.3 1318.9h0M882.3 1317.1h0M905.4 1291.4h0M901.9 1294.6h0M888.7 1367.2h0M887.8 1367.8h0M893.2 1360.6h0M901.0 1370.7h0M904.7 1382.2h0M901.4 1383.0h0M904.3 1377.1h0M900.4 1375.6h0M897.3 1373.7h0M908.1 1375.0h0M905.6 1374.5h0M905.2 1377.8h0M948.8 1357.8h0M942.3 1354.5h0M956.4 1350.8h0M945.6 1368.9h0M948.5 1365.2h0M954.9 1367.5h0M945.0 1364.5h0M948.2 1364.9h0M951.0 1356.4h0M951.2 1369.7h0M949.4 1368.9h0M946.7 1372.5h0M950.1 1368.3h0M952.4 1368.2h0M950.5 1367.3h0M957.3 1370.1h0M958.3 1371.8h0M994.3 1359.0h0M992.4 1355.4h0M998.3 1358.7h0M998.3 1361.6h0M996.8 1363.9h0M989.6 1361.5h0M1002.6 1376.6h0M1000.6 1372.4h0M1008.7 1373.7h0M1004.3 1373.0h0M989.8 1373.6h0M993.8 1369.5h0M994.2 1375.4h0M993.7 1370.6h0M954.4 1393.8h0M954.9 1395.9h0M991.6 1390.5h0M986.9 1389.7h0M989.9 1395.4h0M932.0 1395.4h0M926.9 1393.8h0M922.8 1382.4h0M920.0 1386.2h0M919.5 1385.3h0M950.5 1273.6h0M952.1 1276.7h0M974.5 1282.1h0M971.1 1346.7h0" stroke="#2e32a6" stroke-opacity="0.85" stroke-width="5.2" stroke-linecap="round" fill="none"/>
<path d="M985.5 1380.5h0M982.6 1360.3h0M985.5 1310.3h0M987.4 1336.1h0M957.4 1275.9h0M1011.4 1346.8h0M999.3 1339.4h0M924.7 1405.5h0M917.6 1290.5h0M981.5 1399.1h0M893.0 1308.4h0M965.0 1337.6h0M950.4 1375.8h0M921.8 1323.7h0M926.7 1339.8h0M1012.8 1368.2h0M926.3 1273.1h0M905.6 1367.9h0M898.2 1360.5h0M955.0 1362.7h0M986.4 1325.5h0M978.2 1356.5h0M981.4 1328.6h0M936.4 1284.0h0M1006.5 1343.1h0M956.9 1372.6h0M995.4 1294.9h0M973.7 1381.1h0M974.2 1340.0h0M945.8 1386.0h0M966.2 1333.4h0M934.4 1343.4h0M914.7 1332.9h0M941.5 1358.7h0M922.9 1345.6h0M979.4 1347.7h0M956.7 1337.2h0M1007.4 1380.2h0M953.2 1362.4h0M877.5 1312.4h0M948.6 1273.0h0M914.1 1336.1h0M993.1 1367.1h0M918.3 1347.9h0M1011.3 1314.2h0M905.9 1378.7h0M960.2 1381.3h0M1004.5 1320.3h0M968.0 1344.9h0M910.8 1320.4h0M1016.0 1324.4h0M935.3 1385.4h0M878.2 1346.6h0M996.3 1368.5h0M918.8 1286.6h0M946.5 1293.8h0M924.1 1394.8h0M983.0 1323.1h0M954.9 1398.1h0M948.2 1272.9h0M991.8 1332.8h0M873.2 1332.5h0M982.4 1375.1h0M930.8 1308.0h0M937.1 1310.6h0M925.6 1371.0h0M1013.7 1370.3h0M964.5 1402.1h0M895.4 1327.0h0M883.6 1308.5h0M913.6 1337.5h0M915.5 1392.2h0M902.5 1300.0h0M958.5 1355.0h0M961.4 1386.8h0M898.5 1372.1h0M988.3 1340.9h0M926.5 1376.4h0M915.5 1302.2h0M969.2 1345.2h0M980.8 1348.3h0M942.0 1282.4h0M980.0 1387.7h0M939.8 1326.9h0M1000.1 1330.9h0M1015.1 1330.4h0M894.3 1308.3h0M948.6 1336.8h0M925.0 1288.5h0M938.5 1330.0h0M960.5 1366.4h0M1007.4 1374.4h0M886.6 1380.7h0M998.3 1316.8h0M947.6 1343.0h0M955.2 1380.7h0M929.1 1411.8h0M912.5 1289.4h0M966.4 1385.3h0M1010.9 1308.2h0M967.2 1369.9h0M961.2 1282.5h0M1001.2 1358.7h0M984.0 1310.0h0M879.2 1334.2h0M1008.1 1310.8h0M921.9 1340.1h0M986.1 1393.9h0M1015.2 1341.4h0M897.1 1359.9h0M894.9 1318.9h0M944.1 1308.1h0M914.7 1386.4h0M934.8 1328.0h0M983.4 1405.0h0M996.1 1359.5h0M1015.0 1328.0h0M925.7 1375.1h0M943.4 1372.1h0M1017.2 1329.8h0M923.2 1355.2h0M988.9 1303.4h0M966.6 1329.9h0M928.9 1367.7h0M978.7 1317.8h0M998.6 1381.8h0M967.7 1321.2h0M942.9 1375.4h0M886.1 1354.7h0M898.1 1362.0h0M956.9 1393.9h0M997.0 1364.8h0M896.1 1361.7h0M967.2 1300.9h0M892.8 1364.3h0M1006.5 1358.2h0M886.0 1379.1h0M1001.5 1339.7h0M950.8 1323.1h0M928.8 1370.1h0" stroke="#3034a8" stroke-opacity="0.8" stroke-width="1.6" stroke-linecap="round" fill="none"/>
</g>
<g clip-path="url(#pl24)">
<rect x="1072.7" y="1252.0" width="180.1" height="178.6" fill="url(#plbg)"/>
<circle cx="1162.5" cy="1340.5" r="88.0" fill="#d3d4d8" stroke="#e2e3e6" stroke-width="2.5"/>
<circle cx="1162.5" cy="1340.5" r="89.6" fill="none" stroke="#a4a7b0" stroke-width="1"/>
<circle cx="1162.5" cy="1340.5" r="84.0" fill="none" stroke="#bcbec4" stroke-width="1.2"/>
<circle cx="1162.5" cy="1340.5" r="79.0" fill="url(#plin)" stroke="#e6e6e8" stroke-width="2"/>
<circle cx="1162.5" cy="1340.5" r="76.0" fill="none" stroke="#c2c3c8" stroke-width="0.8"/>
<path d="M1109.9 1299.1h0M1105.1 1302.3h0M1096.3 1337.4h0M1101.3 1332.3h0M1092.8 1331.5h0M1104.7 1325.7h0M1102.6 1327.7h0M1099.1 1336.9h0M1099.5 1336.5h0M1112.7 1352.7h0M1127.8 1378.2h0M1129.6 1372.2h0M1130.0 1375.5h0M1128.2 1383.9h0M1125.2 1388.7h0M1125.2 1376.2h0M1131.2 1384.2h0M1125.1 1384.0h0M1117.3 1382.6h0M1115.0 1390.5h0M1118.6 1387.6h0M1126.4 1390.9h0M1118.5 1380.1h0M1135.2 1379.9h0M1138.4 1378.3h0M1135.5 1383.0h0M1133.2 1386.9h0M1141.3 1371.4h0M1142.8 1371.3h0M1143.4 1376.7h0M1145.7 1342.3h0M1144.9 1336.3h0M1141.6 1345.1h0M1145.8 1343.0h0M1160.1 1321.6h0M1161.4 1320.0h0M1179.8 1326.1h0M1179.6 1329.2h0M1169.4 1371.7h0M1171.9 1370.2h0M1166.7 1368.7h0M1165.6 1371.7h0M1177.4 1398.8h0M1169.1 1395.9h0M1175.5 1389.6h0M1174.9 1390.1h0M1174.4 1393.7h0M1169.0 1391.0h0M1169.5 1392.3h0M1168.4 1395.3h0M1208.5 1371.7h0M1209.8 1366.0h0M1206.6 1367.8h0M1208.2 1377.9h0M1202.4 1373.5h0M1210.4 1377.2h0M1210.7 1369.4h0M1203.9 1372.3h0M1205.2 1387.0h0M1209.4 1378.7h0M1218.2 1375.6h0M1209.4 1380.4h0M1214.0 1375.5h0M1209.3 1377.2h0M1186.8 1288.5h0M1192.1 1284.5h0M1164.0 1274.6h0M1163.5 1277.5h0M1168.2 1273.5h0" stroke="#1e2290" stroke-opacity="0.90" stroke-width="2.2" stroke-linecap="round" fill="none"/>
<path d="M1108.3 1296.7h0M1109.5 1302.1h0M1108.8 1299.9h0M1099.6 1327.5h0M1093.5 1329.4h0M1100.8 1322.9h0M1091.4 1327.1h0M1099.4 1332.8h0M1101.9 1331.4h0M1090.6 1326.7h0M1101.7 1329.7h0M1102.6 1330.3h0M1097.1 1339.0h0M1099.1 1340.1h0M1098.9 1344.8h0M1102.1 1337.4h0M1100.0 1335.9h0M1092.8 1335.8h0M1116.4 1353.9h0M1112.7 1353.7h0M1123.8 1371.3h0M1136.1 1376.6h0M1130.9 1380.1h0M1131.7 1368.9h0M1136.1 1372.7h0M1124.6 1371.7h0M1133.0 1372.9h0M1126.1 1383.0h0M1127.4 1376.0h0M1118.6 1381.2h0M1127.9 1374.6h0M1115.3 1391.5h0M1123.0 1384.9h0M1122.9 1387.9h0M1121.1 1389.8h0M1114.7 1393.2h0M1128.0 1382.7h0M1136.9 1381.2h0M1136.6 1382.2h0M1134.5 1382.3h0M1138.0 1383.9h0M1137.7 1381.3h0M1141.2 1377.0h0M1145.2 1373.9h0M1157.0 1298.0h0M1153.8 1300.8h0M1159.3 1300.0h0M1159.5 1320.6h0M1173.7 1330.4h0M1172.7 1325.2h0M1175.4 1332.7h0M1171.1 1336.4h0M1170.6 1337.9h0M1175.6 1392.7h0M1170.0 1390.0h0M1167.7 1396.6h0M1207.9 1377.9h0M1215.3 1372.1h0M1214.7 1373.5h0M1209.8 1372.6h0M1215.5 1370.5h0M1208.7 1367.3h0M1214.0 1371.6h0M1217.7 1379.9h0M1212.2 1373.7h0M1204.8 1381.1h0M1206.5 1375.8h0M1219.4 1338.7h0M1219.2 1337.0h0M1215.9 1338.8h0M1184.9 1290.0h0M1162.4 1273.6h0" stroke="#1e2290" stroke-opacity="0.90" stroke-width="3.0" stroke-linecap="round" fill="none"/>
<path d="M1109.1 1298.4h0M1102.1 1300.8h0M1110.0 1299.7h0M1102.0 1328.1h0M1102.6 1325.7h0M1101.7 1322.0h0M1102.4 1329.8h0M1091.7 1330.2h0M1095.0 1336.5h0M1109.4 1330.5h0M1099.7 1327.8h0M1096.5 1331.2h0M1099.8 1333.0h0M1109.8 1331.6h0M1101.4 1334.6h0M1101.7 1341.5h0M1094.7 1334.0h0M1100.2 1335.8h0M1097.8 1341.9h0M1113.8 1355.3h0M1109.8 1356.5h0M1118.2 1355.5h0M1121.0 1375.1h0M1125.0 1385.0h0M1122.0 1371.7h0M1133.8 1377.6h0M1124.1 1376.2h0M1127.2 1379.0h0M1131.0 1391.1h0M1120.7 1385.9h0M1122.0 1384.6h0M1125.4 1386.8h0M1118.1 1379.4h0M1121.7 1381.3h0M1126.0 1393.8h0M1123.3 1388.3h0M1123.1 1388.8h0M1134.9 1381.2h0M1129.3 1383.9h0M1138.5 1383.3h0M1143.4 1371.7h0M1142.8 1374.7h0M1142.9 1373.1h0M1148.8 1342.2h0M1146.4 1342.7h0M1157.8 1301.0h0M1158.3 1298.7h0M1160.4 1316.8h0M1160.1 1320.9h0M1169.3 1338.6h0M1172.4 1337.1h0M1170.2 1340.7h0M1170.8 1372.0h0M1167.3 1364.1h0M1170.8 1372.1h0M1174.2 1393.6h0M1177.8 1393.9h0M1179.6 1395.4h0M1173.9 1400.2h0M1174.6 1396.0h0M1181.3 1397.8h0M1171.6 1401.6h0M1171.0 1383.9h0M1171.2 1387.3h0M1172.4 1395.6h0M1177.5 1388.2h0M1212.6 1374.2h0M1206.9 1376.3h0M1210.9 1377.0h0M1212.6 1374.6h0M1215.0 1376.8h0M1202.4 1375.0h0M1203.2 1375.3h0M1209.0 1375.6h0M1205.2 1376.1h0M1209.0 1361.6h0M1209.3 1371.6h0M1211.9 1385.4h0M1211.0 1379.3h0M1211.4 1384.8h0M1210.9 1377.8h0M1219.6 1340.0h0M1213.6 1338.6h0M1215.7 1340.9h0M1187.1 1287.1h0M1166.4 1275.5h0" stroke="#2e32a6" stroke-opacity="0.85" stroke-width="3.8" stroke-linecap="round" fill="none"/>
<path d="M1110.6 1301.0h0M1102.8 1320.4h0M1102.1 1327.6h0M1096.1 1323.3h0M1101.4 1321.0h0M1113.7 1331.7h0M1101.0 1328.1h0M1097.2 1335.2h0M1105.6 1326.2h0M1100.1 1343.1h0M1098.2 1338.8h0M1104.5 1337.7h0M1091.5 1332.9h0M1100.0 1341.0h0M1116.9 1354.1h0M1130.3 1380.4h0M1128.8 1364.5h0M1128.1 1378.5h0M1128.2 1383.4h0M1133.1 1375.0h0M1123.4 1374.8h0M1127.2 1372.3h0M1125.8 1373.9h0M1123.4 1380.4h0M1125.2 1383.2h0M1122.1 1379.3h0M1130.8 1386.3h0M1120.4 1373.0h0M1117.5 1379.8h0M1125.7 1395.3h0M1135.4 1383.4h0M1137.1 1381.7h0M1131.5 1383.9h0M1137.8 1378.4h0M1136.8 1378.0h0M1144.9 1376.0h0M1155.3 1301.1h0M1157.9 1300.4h0M1176.1 1328.4h0M1172.1 1337.5h0M1173.6 1338.0h0M1168.7 1370.0h0M1173.5 1396.7h0M1174.4 1395.5h0M1173.5 1396.3h0M1176.8 1396.5h0M1178.9 1390.6h0M1175.1 1396.6h0M1171.7 1391.2h0M1170.4 1389.7h0M1168.3 1393.1h0M1171.4 1386.8h0M1209.0 1380.1h0M1214.8 1373.6h0M1215.2 1367.5h0M1212.0 1380.2h0M1204.7 1368.9h0M1203.2 1372.7h0M1205.2 1378.3h0M1207.3 1378.6h0M1209.2 1373.7h0M1212.4 1379.0h0M1211.1 1379.9h0M1219.2 1338.0h0M1220.7 1338.5h0M1186.6 1287.6h0M1191.2 1288.3h0M1165.3 1279.0h0M1163.7 1276.2h0M1163.2 1269.9h0" stroke="#2e32a6" stroke-opacity="0.85" stroke-width="4.6" stroke-linecap="round" fill="none"/>
<path d="M1099.0 1331.7h0M1096.7 1329.0h0M1102.4 1323.2h0M1095.1 1337.1h0M1101.7 1320.8h0M1098.3 1343.4h0M1099.6 1342.0h0M1115.9 1349.9h0M1114.6 1355.8h0M1133.8 1371.6h0M1128.7 1373.7h0M1126.8 1375.8h0M1125.2 1373.7h0M1130.5 1375.4h0M1122.2 1373.8h0M1129.0 1365.9h0M1127.3 1375.8h0M1132.4 1369.7h0M1122.3 1377.9h0M1131.1 1382.7h0M1127.5 1384.9h0M1123.0 1378.6h0M1125.3 1384.9h0M1117.3 1383.5h0M1125.2 1382.6h0M1132.4 1384.7h0M1135.3 1380.5h0M1132.3 1382.6h0M1145.2 1339.1h0M1141.6 1340.6h0M1143.8 1338.3h0M1155.3 1300.7h0M1151.8 1300.4h0M1161.9 1318.6h0M1160.0 1324.2h0M1159.1 1320.5h0M1165.3 1316.7h0M1180.1 1330.0h0M1178.5 1327.7h0M1174.7 1325.9h0M1170.5 1335.8h0M1172.2 1339.0h0M1167.3 1374.6h0M1170.9 1392.8h0M1172.5 1386.7h0M1178.9 1397.1h0M1176.9 1388.1h0M1172.7 1395.4h0M1171.3 1394.8h0M1173.9 1393.2h0M1175.8 1389.8h0M1208.5 1377.0h0M1209.4 1368.9h0M1201.6 1383.2h0M1207.2 1373.0h0M1208.0 1375.5h0M1211.3 1373.0h0M1210.4 1376.4h0M1218.6 1338.4h0M1190.5 1288.1h0M1186.4 1288.7h0M1185.5 1288.5h0M1165.2 1274.2h0" stroke="#2e32a6" stroke-opacity="0.85" stroke-width="5.2" stroke-linecap="round" fill="none"/>
<path d="M1155.9 1375.8h0M1200.4 1283.3h0M1187.6 1276.7h0M1198.8 1387.8h0M1114.5 1292.4h0M1192.4 1376.4h0M1167.2 1380.9h0M1226.9 1359.5h0M1136.2 1337.5h0M1235.6 1344.3h0M1096.0 1352.8h0M1216.0 1338.4h0M1192.9 1374.1h0M1210.3 1292.6h0M1152.7 1406.9h0M1110.2 1300.7h0M1151.5 1387.8h0M1189.6 1339.8h0M1161.2 1291.9h0M1131.3 1363.6h0M1170.6 1367.7h0M1136.5 1325.5h0M1222.7 1296.7h0M1169.0 1293.0h0M1204.2 1286.3h0M1204.7 1363.1h0M1188.2 1368.2h0M1222.3 1296.2h0M1175.9 1366.4h0M1192.6 1400.4h0M1112.0 1285.5h0M1194.8 1276.0h0M1206.2 1364.8h0M1178.5 1399.4h0M1091.6 1316.2h0M1090.7 1339.7h0M1224.1 1322.6h0M1122.2 1370.0h0M1208.0 1296.9h0M1120.5 1318.3h0M1097.9 1329.2h0M1171.0 1275.2h0M1184.3 1299.8h0M1126.1 1402.5h0M1223.6 1310.7h0M1173.2 1273.8h0M1160.7 1301.0h0M1144.7 1402.6h0M1109.8 1349.1h0M1099.5 1330.0h0M1200.9 1278.3h0M1137.1 1276.4h0M1137.1 1364.8h0M1095.4 1320.2h0M1196.5 1366.5h0M1117.4 1383.6h0M1144.3 1338.1h0M1134.6 1294.0h0M1101.9 1352.7h0M1220.7 1375.4h0M1157.2 1324.4h0M1159.0 1410.1h0M1199.4 1335.8h0M1211.2 1355.1h0M1157.4 1289.4h0M1166.0 1296.7h0M1192.4 1341.4h0M1126.9 1356.0h0M1141.0 1317.1h0M1197.0 1340.4h0M1184.8 1342.0h0M1095.5 1339.8h0M1196.1 1273.9h0M1212.4 1346.4h0M1191.0 1304.3h0M1214.7 1329.8h0M1177.4 1285.9h0M1162.4 1321.7h0M1182.7 1332.8h0M1142.1 1281.1h0" stroke="#3034a8" stroke-opacity="0.8" stroke-width="1.6" stroke-linecap="round" fill="none"/>
</g>
<text x="1056.8" y="1472.0" font-size="22.21" font-weight="bold" text-anchor="middle" textLength="53.1" lengthAdjust="spacingAndGlyphs">A375</text>
<rect x="853.0" y="1439.8" width="403.6" height="3.7" fill="#000"/>
<line x1="572.2" y1="1208.2" x2="572.2" y2="1428.7" stroke="#000" stroke-width="1.9"/>
<line x1="565.7" y1="1427.5" x2="717.5" y2="1427.5" stroke="#000" stroke-width="1.9"/>
<line x1="565.7" y1="1209.2" x2="572.2" y2="1209.2" stroke="#000" stroke-width="1.9"/>
<text x="562.0" y="1214.5" font-size="16.50" text-anchor="end" textLength="8.7" lengthAdjust="spacingAndGlyphs">8</text>
<line x1="565.7" y1="1263.8" x2="572.2" y2="1263.8" stroke="#000" stroke-width="1.9"/>
<text x="562.0" y="1269.1" font-size="16.50" text-anchor="end" textLength="8.7" lengthAdjust="spacingAndGlyphs">6</text>
<line x1="565.7" y1="1318.4" x2="572.2" y2="1318.4" stroke="#000" stroke-width="1.9"/>
<text x="562.0" y="1323.7" font-size="16.50" text-anchor="end" textLength="8.7" lengthAdjust="spacingAndGlyphs">4</text>
<line x1="565.7" y1="1372.9" x2="572.2" y2="1372.9" stroke="#000" stroke-width="1.9"/>
<text x="562.0" y="1378.2" font-size="16.50" text-anchor="end" textLength="8.7" lengthAdjust="spacingAndGlyphs">2</text>
<line x1="565.7" y1="1427.5" x2="572.2" y2="1427.5" stroke="#000" stroke-width="1.9"/>
<text x="562.0" y="1432.8" font-size="16.50" text-anchor="end" textLength="8.7" lengthAdjust="spacingAndGlyphs">0</text>
<rect x="586.6" y="1275.3" width="42.6" height="152.2" fill="#fff" stroke="#000" stroke-width="3.2"/>
<rect x="655.8" y="1342.5" width="47.9" height="85.0" fill="#000"/>
<line x1="607.9" y1="1273.7" x2="607.9" y2="1263.3" stroke="#000" stroke-width="3.0"/>
<line x1="596.0" y1="1263.3" x2="619.8" y2="1263.3" stroke="#000" stroke-width="3.0"/>
<line x1="679.8" y1="1342.5" x2="679.8" y2="1338.3" stroke="#000" stroke-width="3.0"/>
<line x1="667.9" y1="1338.3" x2="691.6" y2="1338.3" stroke="#000" stroke-width="3.0"/>
<path d="M608.3,1265 V1253.7 H674.7 V1264.2" stroke="#000" stroke-width="2.5" fill="none"/>
<text x="641.3" y="1255.0" font-size="17.00" font-weight="bold" text-anchor="middle">**</text>
<line x1="608.3" y1="1427.5" x2="608.3" y2="1433.5" stroke="#000" stroke-width="2.5"/>
<line x1="680.3" y1="1427.5" x2="680.3" y2="1433.5" stroke="#000" stroke-width="2.5"/>
<text x="608.3" y="1450.0" font-size="14.73" font-weight="bold" text-anchor="middle" textLength="21.3" lengthAdjust="spacingAndGlyphs">NC</text>
<text x="680.8" y="1450.0" font-size="14.73" font-weight="bold" text-anchor="middle" textLength="92.5" lengthAdjust="spacingAndGlyphs">shLINC00518</text>
<text x="637.0" y="1179.2" font-size="17.65" font-weight="bold" text-anchor="middle" textLength="60.8" lengthAdjust="spacingAndGlyphs">WM451</text>
<text x="543.1" y="1315.3" font-size="18.50" font-weight="bold" text-anchor="middle" textLength="213.5" lengthAdjust="spacingAndGlyphs" transform="rotate(-90 543.1 1315.3)">Colony formation rate (%)</text>
<line x1="1362.2" y1="1209.8" x2="1362.2" y2="1429.9" stroke="#000" stroke-width="2.2"/>
<line x1="1355.7" y1="1428.7" x2="1507.5" y2="1428.7" stroke="#000" stroke-width="2.2"/>
<line x1="1355.7" y1="1210.8" x2="1362.2" y2="1210.8" stroke="#000" stroke-width="2.2"/>
<text x="1353.0" y="1216.1" font-size="16.50" text-anchor="end" textLength="8.7" lengthAdjust="spacingAndGlyphs">5</text>
<line x1="1355.7" y1="1254.4" x2="1362.2" y2="1254.4" stroke="#000" stroke-width="2.2"/>
<text x="1353.0" y="1259.7" font-size="16.50" text-anchor="end" textLength="8.7" lengthAdjust="spacingAndGlyphs">4</text>
<line x1="1355.7" y1="1298.0" x2="1362.2" y2="1298.0" stroke="#000" stroke-width="2.2"/>
<text x="1353.0" y="1303.3" font-size="16.50" text-anchor="end" textLength="8.7" lengthAdjust="spacingAndGlyphs">3</text>
<line x1="1355.7" y1="1341.5" x2="1362.2" y2="1341.5" stroke="#000" stroke-width="2.2"/>
<text x="1353.0" y="1346.8" font-size="16.50" text-anchor="end" textLength="8.7" lengthAdjust="spacingAndGlyphs">2</text>
<line x1="1355.7" y1="1385.1" x2="1362.2" y2="1385.1" stroke="#000" stroke-width="2.2"/>
<text x="1353.0" y="1390.4" font-size="16.50" text-anchor="end" textLength="8.7" lengthAdjust="spacingAndGlyphs">1</text>
<line x1="1355.7" y1="1428.7" x2="1362.2" y2="1428.7" stroke="#000" stroke-width="2.2"/>
<text x="1353.0" y="1434.0" font-size="16.50" text-anchor="end" textLength="8.7" lengthAdjust="spacingAndGlyphs">0</text>
<rect x="1376.6" y="1242.1" width="42.6" height="186.6" fill="#fff" stroke="#000" stroke-width="3.2"/>
<rect x="1445.8" y="1338.3" width="47.9" height="90.4" fill="#000"/>
<line x1="1397.9" y1="1240.5" x2="1397.9" y2="1231.2" stroke="#000" stroke-width="3.0"/>
<line x1="1386.0" y1="1231.2" x2="1409.8" y2="1231.2" stroke="#000" stroke-width="3.0"/>
<line x1="1469.8" y1="1338.3" x2="1469.8" y2="1334.2" stroke="#000" stroke-width="3.0"/>
<line x1="1457.8" y1="1334.2" x2="1481.7" y2="1334.2" stroke="#000" stroke-width="3.0"/>
<path d="M1398.3,1240 V1223.8 H1464.7 V1234.2" stroke="#000" stroke-width="2.5" fill="none"/>
<text x="1431.3" y="1226.7" font-size="17.00" font-weight="bold" text-anchor="middle">***</text>
<line x1="1398.0" y1="1428.7" x2="1398.0" y2="1434.7" stroke="#000" stroke-width="2.5"/>
<line x1="1470.0" y1="1428.7" x2="1470.0" y2="1434.7" stroke="#000" stroke-width="2.5"/>
<text x="1398.0" y="1450.8" font-size="14.73" font-weight="bold" text-anchor="middle" textLength="21.3" lengthAdjust="spacingAndGlyphs">NC</text>
<text x="1470.5" y="1450.8" font-size="14.73" font-weight="bold" text-anchor="middle" textLength="92.5" lengthAdjust="spacingAndGlyphs">shLINC00518</text>
<text x="1425.8" y="1181.7" font-size="17.44" font-weight="bold" text-anchor="middle" textLength="41.7" lengthAdjust="spacingAndGlyphs">A375</text>
<text x="1333.1" y="1316.6" font-size="18.50" font-weight="bold" text-anchor="middle" textLength="213.0" lengthAdjust="spacingAndGlyphs" transform="rotate(-90 1333.1 1316.6)">Colony formation rate (%)</text>
<text x="1.7" y="1602.7" font-size="37.00" font-weight="bold">H</text>
<text x="175.3" y="1630.0" font-size="21.26" font-weight="bold" text-anchor="middle" textLength="30.7" lengthAdjust="spacingAndGlyphs">NC</text>
<rect x="94.3" y="1641.0" width="176.4" height="5.0" fill="#000"/>
<text x="393.3" y="1630.0" font-size="22.29" font-weight="bold" text-anchor="middle" textLength="140.0" lengthAdjust="spacingAndGlyphs">shLINC00518</text>
<rect x="306.7" y="1642.3" width="176.6" height="3.7" fill="#000"/>
<g clip-path="url(#iv41)">
<rect x="91.0" y="1652.6" width="179.8" height="135.4" fill="#ebe6da"/>
<g fill="#7c90c4" fill-opacity="0.68" filter="url(#blur1)"><ellipse cx="159.5" cy="1683.8" rx="5.1" ry="4.6" transform="rotate(142 159.5 1683.8)"/><ellipse cx="190.4" cy="1704.5" rx="3.9" ry="4.9" transform="rotate(32 190.4 1704.5)"/><ellipse cx="117.9" cy="1750.5" rx="5.5" ry="4.7" transform="rotate(21 117.9 1750.5)"/><ellipse cx="208.7" cy="1736.7" rx="4.4" ry="3.4" transform="rotate(83 208.7 1736.7)"/><ellipse cx="202.5" cy="1735.0" rx="5.5" ry="4.6" transform="rotate(136 202.5 1735.0)"/><ellipse cx="117.2" cy="1743.0" rx="3.6" ry="3.6" transform="rotate(166 117.2 1743.0)"/><ellipse cx="210.3" cy="1719.4" rx="5.3" ry="4.5" transform="rotate(31 210.3 1719.4)"/><ellipse cx="94.9" cy="1670.9" rx="3.9" ry="4.0" transform="rotate(110 94.9 1670.9)"/><ellipse cx="148.9" cy="1671.4" rx="3.8" ry="4.7" transform="rotate(103 148.9 1671.4)"/><ellipse cx="225.8" cy="1735.1" rx="5.8" ry="4.8" transform="rotate(72 225.8 1735.1)"/><ellipse cx="169.6" cy="1751.9" rx="4.2" ry="4.7" transform="rotate(90 169.6 1751.9)"/><ellipse cx="140.6" cy="1681.2" rx="5.0" ry="4.4" transform="rotate(176 140.6 1681.2)"/><ellipse cx="140.8" cy="1774.1" rx="4.8" ry="3.9" transform="rotate(154 140.8 1774.1)"/><ellipse cx="120.5" cy="1656.8" rx="3.7" ry="3.9" transform="rotate(39 120.5 1656.8)"/><ellipse cx="210.8" cy="1661.3" rx="5.0" ry="4.6" transform="rotate(77 210.8 1661.3)"/><ellipse cx="193.0" cy="1673.6" rx="4.0" ry="3.2" transform="rotate(162 193.0 1673.6)"/><ellipse cx="132.1" cy="1744.1" rx="5.0" ry="4.9" transform="rotate(48 132.1 1744.1)"/><ellipse cx="251.7" cy="1763.9" rx="4.2" ry="3.4" transform="rotate(115 251.7 1763.9)"/><ellipse cx="183.2" cy="1740.6" rx="4.9" ry="4.7" transform="rotate(106 183.2 1740.6)"/><ellipse cx="221.8" cy="1758.7" rx="4.3" ry="3.2" transform="rotate(141 221.8 1758.7)"/><ellipse cx="182.7" cy="1733.2" rx="5.9" ry="3.7" transform="rotate(56 182.7 1733.2)"/><ellipse cx="146.3" cy="1673.1" rx="4.8" ry="3.8" transform="rotate(134 146.3 1673.1)"/><ellipse cx="141.2" cy="1732.1" rx="4.7" ry="4.0" transform="rotate(68 141.2 1732.1)"/><ellipse cx="180.9" cy="1733.0" rx="4.1" ry="4.8" transform="rotate(170 180.9 1733.0)"/><ellipse cx="123.8" cy="1716.8" rx="4.0" ry="3.8" transform="rotate(129 123.8 1716.8)"/><ellipse cx="126.1" cy="1761.3" rx="4.4" ry="3.9" transform="rotate(102 126.1 1761.3)"/><ellipse cx="156.9" cy="1675.9" rx="4.2" ry="3.8" transform="rotate(129 156.9 1675.9)"/><ellipse cx="117.7" cy="1741.3" rx="5.8" ry="3.1" transform="rotate(158 117.7 1741.3)"/><ellipse cx="95.9" cy="1764.1" rx="3.7" ry="4.3" transform="rotate(9 95.9 1764.1)"/><ellipse cx="160.4" cy="1677.8" rx="4.9" ry="3.5" transform="rotate(146 160.4 1677.8)"/><ellipse cx="196.4" cy="1746.0" rx="3.6" ry="4.0" transform="rotate(173 196.4 1746.0)"/><ellipse cx="193.1" cy="1750.2" rx="4.8" ry="3.9" transform="rotate(117 193.1 1750.2)"/><ellipse cx="123.5" cy="1718.2" rx="5.5" ry="4.4" transform="rotate(75 123.5 1718.2)"/><ellipse cx="219.3" cy="1667.0" rx="4.0" ry="4.6" transform="rotate(91 219.3 1667.0)"/><ellipse cx="211.4" cy="1754.5" rx="5.9" ry="3.7" transform="rotate(55 211.4 1754.5)"/><ellipse cx="154.1" cy="1769.6" rx="4.7" ry="5.0" transform="rotate(140 154.1 1769.6)"/><ellipse cx="119.6" cy="1664.7" rx="4.2" ry="4.4" transform="rotate(148 119.6 1664.7)"/><ellipse cx="147.7" cy="1774.9" rx="3.6" ry="4.5" transform="rotate(85 147.7 1774.9)"/><ellipse cx="153.2" cy="1675.4" rx="5.7" ry="4.5" transform="rotate(66 153.2 1675.4)"/><ellipse cx="175.9" cy="1724.4" rx="3.7" ry="3.8" transform="rotate(68 175.9 1724.4)"/><ellipse cx="178.0" cy="1686.8" rx="4.0" ry="4.4" transform="rotate(155 178.0 1686.8)"/><ellipse cx="186.7" cy="1689.5" rx="4.6" ry="3.2" transform="rotate(101 186.7 1689.5)"/><ellipse cx="210.6" cy="1690.7" rx="4.4" ry="3.1" transform="rotate(17 210.6 1690.7)"/><ellipse cx="244.4" cy="1689.2" rx="4.5" ry="3.1" transform="rotate(24 244.4 1689.2)"/><ellipse cx="163.8" cy="1726.3" rx="5.9" ry="4.1" transform="rotate(33 163.8 1726.3)"/><ellipse cx="93.2" cy="1740.3" rx="3.6" ry="3.6" transform="rotate(58 93.2 1740.3)"/><ellipse cx="171.9" cy="1741.3" rx="5.9" ry="3.4" transform="rotate(166 171.9 1741.3)"/><ellipse cx="127.4" cy="1692.7" rx="4.8" ry="4.6" transform="rotate(100 127.4 1692.7)"/><ellipse cx="122.1" cy="1709.6" rx="5.9" ry="4.9" transform="rotate(112 122.1 1709.6)"/><ellipse cx="205.0" cy="1714.5" rx="4.3" ry="3.6" transform="rotate(29 205.0 1714.5)"/><ellipse cx="265.8" cy="1756.8" rx="4.1" ry="4.2" transform="rotate(75 265.8 1756.8)"/><ellipse cx="168.5" cy="1689.2" rx="4.9" ry="4.9" transform="rotate(132 168.5 1689.2)"/><ellipse cx="202.2" cy="1736.2" rx="5.8" ry="4.5" transform="rotate(44 202.2 1736.2)"/><ellipse cx="187.6" cy="1704.7" rx="3.6" ry="4.4" transform="rotate(26 187.6 1704.7)"/><ellipse cx="214.5" cy="1691.8" rx="5.1" ry="3.2" transform="rotate(104 214.5 1691.8)"/><ellipse cx="179.5" cy="1664.6" rx="4.8" ry="3.9" transform="rotate(146 179.5 1664.6)"/><ellipse cx="119.8" cy="1764.9" rx="5.2" ry="3.4" transform="rotate(89 119.8 1764.9)"/><ellipse cx="92.3" cy="1719.5" rx="4.5" ry="3.8" transform="rotate(41 92.3 1719.5)"/><ellipse cx="156.6" cy="1781.2" rx="4.1" ry="4.2" transform="rotate(11 156.6 1781.2)"/><ellipse cx="124.5" cy="1714.6" rx="4.6" ry="4.0" transform="rotate(83 124.5 1714.6)"/><ellipse cx="136.3" cy="1682.2" rx="5.2" ry="4.6" transform="rotate(97 136.3 1682.2)"/><ellipse cx="182.6" cy="1708.9" rx="3.9" ry="3.4" transform="rotate(168 182.6 1708.9)"/><ellipse cx="177.2" cy="1699.5" rx="4.7" ry="4.0" transform="rotate(39 177.2 1699.5)"/><ellipse cx="228.3" cy="1672.7" rx="5.1" ry="3.8" transform="rotate(102 228.3 1672.7)"/><ellipse cx="171.4" cy="1691.8" rx="4.9" ry="4.8" transform="rotate(140 171.4 1691.8)"/><ellipse cx="111.1" cy="1691.8" rx="5.8" ry="4.7" transform="rotate(17 111.1 1691.8)"/><ellipse cx="134.1" cy="1697.7" rx="5.0" ry="3.5" transform="rotate(61 134.1 1697.7)"/><ellipse cx="132.2" cy="1666.0" rx="4.8" ry="4.0" transform="rotate(104 132.2 1666.0)"/><ellipse cx="94.2" cy="1712.4" rx="4.6" ry="3.2" transform="rotate(177 94.2 1712.4)"/><ellipse cx="162.7" cy="1749.0" rx="3.6" ry="4.9" transform="rotate(178 162.7 1749.0)"/><ellipse cx="143.2" cy="1706.3" rx="5.2" ry="3.4" transform="rotate(126 143.2 1706.3)"/><ellipse cx="124.3" cy="1744.8" rx="4.3" ry="3.7" transform="rotate(153 124.3 1744.8)"/><ellipse cx="97.1" cy="1696.9" rx="5.3" ry="3.0" transform="rotate(170 97.1 1696.9)"/><ellipse cx="163.3" cy="1660.3" rx="4.5" ry="3.6" transform="rotate(70 163.3 1660.3)"/><ellipse cx="188.2" cy="1716.2" rx="4.0" ry="3.9" transform="rotate(151 188.2 1716.2)"/><ellipse cx="171.3" cy="1756.8" rx="5.9" ry="4.7" transform="rotate(116 171.3 1756.8)"/><ellipse cx="177.7" cy="1755.6" rx="4.6" ry="4.0" transform="rotate(27 177.7 1755.6)"/><ellipse cx="117.6" cy="1659.5" rx="4.1" ry="3.1" transform="rotate(140 117.6 1659.5)"/><ellipse cx="96.7" cy="1701.9" rx="3.8" ry="3.4" transform="rotate(77 96.7 1701.9)"/><ellipse cx="151.6" cy="1686.5" rx="5.5" ry="3.1" transform="rotate(136 151.6 1686.5)"/><ellipse cx="131.9" cy="1662.1" rx="4.2" ry="3.8" transform="rotate(81 131.9 1662.1)"/><ellipse cx="95.4" cy="1711.3" rx="6.0" ry="5.0" transform="rotate(48 95.4 1711.3)"/><ellipse cx="92.1" cy="1749.0" rx="5.0" ry="3.7" transform="rotate(59 92.1 1749.0)"/><ellipse cx="205.7" cy="1786.7" rx="5.6" ry="4.3" transform="rotate(96 205.7 1786.7)"/><ellipse cx="162.2" cy="1724.9" rx="4.3" ry="3.8" transform="rotate(85 162.2 1724.9)"/><ellipse cx="201.0" cy="1745.3" rx="5.6" ry="3.5" transform="rotate(102 201.0 1745.3)"/><ellipse cx="122.9" cy="1785.2" rx="5.5" ry="3.1" transform="rotate(41 122.9 1785.2)"/><ellipse cx="94.0" cy="1707.0" rx="5.4" ry="3.1" transform="rotate(170 94.0 1707.0)"/><ellipse cx="113.4" cy="1780.0" rx="4.6" ry="4.3" transform="rotate(20 113.4 1780.0)"/><ellipse cx="133.4" cy="1712.8" rx="4.6" ry="3.9" transform="rotate(140 133.4 1712.8)"/><ellipse cx="97.7" cy="1716.9" rx="5.0" ry="3.3" transform="rotate(14 97.7 1716.9)"/><ellipse cx="138.0" cy="1655.5" rx="4.2" ry="4.2" transform="rotate(21 138.0 1655.5)"/><ellipse cx="215.1" cy="1739.1" rx="3.9" ry="3.7" transform="rotate(43 215.1 1739.1)"/><ellipse cx="124.4" cy="1713.2" rx="5.0" ry="3.4" transform="rotate(37 124.4 1713.2)"/><ellipse cx="103.2" cy="1661.3" rx="5.4" ry="4.2" transform="rotate(133 103.2 1661.3)"/><ellipse cx="205.6" cy="1761.7" rx="3.9" ry="4.3" transform="rotate(68 205.6 1761.7)"/><ellipse cx="165.5" cy="1667.4" rx="4.7" ry="3.4" transform="rotate(147 165.5 1667.4)"/><ellipse cx="201.1" cy="1689.4" rx="5.5" ry="3.9" transform="rotate(65 201.1 1689.4)"/><ellipse cx="196.4" cy="1654.4" rx="4.1" ry="4.0" transform="rotate(54 196.4 1654.4)"/><ellipse cx="199.6" cy="1692.0" rx="4.6" ry="4.2" transform="rotate(153 199.6 1692.0)"/><ellipse cx="218.4" cy="1738.6" rx="5.6" ry="3.1" transform="rotate(140 218.4 1738.6)"/><ellipse cx="91.3" cy="1728.5" rx="4.5" ry="3.2" transform="rotate(82 91.3 1728.5)"/><ellipse cx="190.7" cy="1706.8" rx="5.7" ry="3.8" transform="rotate(55 190.7 1706.8)"/><ellipse cx="109.8" cy="1739.8" rx="4.8" ry="4.1" transform="rotate(165 109.8 1739.8)"/><ellipse cx="128.7" cy="1742.2" rx="5.8" ry="5.0" transform="rotate(12 128.7 1742.2)"/><ellipse cx="110.4" cy="1730.8" rx="5.3" ry="4.0" transform="rotate(106 110.4 1730.8)"/><ellipse cx="141.4" cy="1671.9" rx="5.6" ry="3.6" transform="rotate(1 141.4 1671.9)"/><ellipse cx="117.0" cy="1673.2" rx="4.1" ry="4.9" transform="rotate(167 117.0 1673.2)"/><ellipse cx="196.4" cy="1686.6" rx="4.7" ry="3.3" transform="rotate(133 196.4 1686.6)"/><ellipse cx="228.5" cy="1652.6" rx="4.3" ry="4.8" transform="rotate(91 228.5 1652.6)"/><ellipse cx="98.0" cy="1773.6" rx="4.2" ry="3.1" transform="rotate(48 98.0 1773.6)"/><ellipse cx="174.2" cy="1731.7" rx="4.3" ry="3.6" transform="rotate(135 174.2 1731.7)"/><ellipse cx="140.6" cy="1772.2" rx="5.6" ry="4.3" transform="rotate(81 140.6 1772.2)"/><ellipse cx="161.6" cy="1744.5" rx="5.2" ry="3.1" transform="rotate(92 161.6 1744.5)"/><ellipse cx="167.0" cy="1693.1" rx="4.8" ry="4.2" transform="rotate(48 167.0 1693.1)"/><ellipse cx="225.0" cy="1654.1" rx="5.7" ry="3.7" transform="rotate(81 225.0 1654.1)"/><ellipse cx="154.1" cy="1747.0" rx="3.8" ry="4.0" transform="rotate(1 154.1 1747.0)"/><ellipse cx="195.5" cy="1699.4" rx="4.8" ry="3.4" transform="rotate(171 195.5 1699.4)"/><ellipse cx="164.8" cy="1684.9" rx="4.6" ry="3.5" transform="rotate(120 164.8 1684.9)"/><ellipse cx="210.4" cy="1783.6" rx="3.8" ry="4.0" transform="rotate(81 210.4 1783.6)"/><ellipse cx="94.9" cy="1725.8" rx="5.9" ry="4.5" transform="rotate(155 94.9 1725.8)"/><ellipse cx="247.1" cy="1692.3" rx="6.0" ry="4.2" transform="rotate(120 247.1 1692.3)"/><ellipse cx="146.8" cy="1708.2" rx="5.2" ry="4.6" transform="rotate(156 146.8 1708.2)"/><ellipse cx="93.5" cy="1682.9" rx="5.7" ry="4.8" transform="rotate(169 93.5 1682.9)"/><ellipse cx="127.2" cy="1681.0" rx="3.9" ry="4.5" transform="rotate(128 127.2 1681.0)"/></g>
<path d="M187.1 1704.2a1.8 1.8 0 1 0 .1 0zM115.3 1750.6a1.4 1.4 0 1 0 .1 0zM207.8 1737.5a1.2 1.2 0 1 0 .1 0zM202.3 1734.5a1.2 1.2 0 1 0 .1 0zM114.3 1743.5a1.9 1.9 0 1 0 .1 0zM208.4 1718.5a1.7 1.7 0 1 0 .1 0zM224.5 1736.3a1.6 1.6 0 1 0 .1 0zM168.3 1753.0a1.3 1.3 0 1 0 .1 0zM138.7 1681.2a1.9 1.9 0 1 0 .1 0zM249.9 1763.0a1.5 1.5 0 1 0 .1 0zM183.1 1741.7a1.5 1.5 0 1 0 .1 0zM144.0 1674.1a1.5 1.5 0 1 0 .1 0zM122.9 1716.9a1.8 1.8 0 1 0 .1 0zM95.3 1762.9a1.6 1.6 0 1 0 .1 0zM193.6 1745.8a1.8 1.8 0 1 0 .1 0zM210.4 1755.7a1.5 1.5 0 1 0 .1 0zM152.2 1768.9a1.5 1.5 0 1 0 .1 0zM174.7 1725.5a1.9 1.9 0 1 0 .1 0zM176.3 1686.5a1.5 1.5 0 1 0 .1 0zM161.2 1726.3a1.5 1.5 0 1 0 .1 0zM263.2 1757.8a1.5 1.5 0 1 0 .1 0zM184.8 1705.1a1.5 1.5 0 1 0 .1 0zM212.5 1692.6a1.4 1.4 0 1 0 .1 0zM177.8 1663.4a1.9 1.9 0 1 0 .1 0zM117.8 1765.1a2.0 2.0 0 1 0 .1 0zM90.1 1718.0a1.8 1.8 0 1 0 .1 0zM153.9 1780.6a1.5 1.5 0 1 0 .1 0zM134.6 1682.7a2.0 2.0 0 1 0 .1 0zM169.1 1692.0a1.5 1.5 0 1 0 .1 0zM159.7 1749.0a1.9 1.9 0 1 0 .1 0zM122.6 1745.5a1.4 1.4 0 1 0 .1 0zM95.6 1697.9a2.0 2.0 0 1 0 .1 0zM175.3 1755.1a1.7 1.7 0 1 0 .1 0zM94.3 1702.8a1.7 1.7 0 1 0 .1 0zM129.2 1660.7a1.4 1.4 0 1 0 .1 0zM94.6 1712.0a1.4 1.4 0 1 0 .1 0zM90.1 1748.0a1.5 1.5 0 1 0 .1 0zM159.2 1725.1a1.5 1.5 0 1 0 .1 0zM121.2 1785.8a1.7 1.7 0 1 0 .1 0zM111.7 1781.1a1.7 1.7 0 1 0 .1 0zM214.9 1737.7a1.3 1.3 0 1 0 .1 0zM102.3 1660.3a1.4 1.4 0 1 0 .1 0zM202.5 1760.6a1.6 1.6 0 1 0 .1 0zM164.2 1666.3a1.7 1.7 0 1 0 .1 0zM194.6 1653.2a1.3 1.3 0 1 0 .1 0zM197.6 1692.9a1.2 1.2 0 1 0 .1 0zM216.6 1739.3a1.7 1.7 0 1 0 .1 0zM88.9 1729.8a2.0 2.0 0 1 0 .1 0zM190.4 1706.6a1.4 1.4 0 1 0 .1 0zM196.3 1687.5a1.4 1.4 0 1 0 .1 0zM227.3 1652.3a1.9 1.9 0 1 0 .1 0zM97.4 1772.9a1.5 1.5 0 1 0 .1 0zM172.5 1731.7a1.7 1.7 0 1 0 .1 0zM138.2 1773.6a1.7 1.7 0 1 0 .1 0zM159.4 1743.2a2.0 2.0 0 1 0 .1 0zM164.7 1693.4a1.5 1.5 0 1 0 .1 0zM162.8 1683.5a1.9 1.9 0 1 0 .1 0zM126.9 1681.8a1.3 1.3 0 1 0 .1 0z" fill="#3e4c88" fill-opacity="0.50" filter="url(#blur05)"/>
<path d="M190.5 1692.0a1.6 1.6 0 1 0 .1 0zM199.3 1777.7a1.6 1.6 0 1 0 .1 0zM109.3 1693.0a1.6 1.6 0 1 0 .1 0zM191.3 1688.9a1.6 1.6 0 1 0 .1 0zM221.4 1679.8a1.6 1.6 0 1 0 .1 0zM114.8 1680.5a1.6 1.6 0 1 0 .1 0zM94.6 1708.7a1.6 1.6 0 1 0 .1 0zM183.8 1782.0a1.6 1.6 0 1 0 .1 0zM175.8 1775.9a1.6 1.6 0 1 0 .1 0zM104.0 1702.5a1.6 1.6 0 1 0 .1 0zM256.0 1696.4a1.6 1.6 0 1 0 .1 0zM92.4 1663.7a1.6 1.6 0 1 0 .1 0zM210.8 1743.0a1.6 1.6 0 1 0 .1 0zM204.1 1765.3a1.6 1.6 0 1 0 .1 0zM243.0 1766.8a1.6 1.6 0 1 0 .1 0zM224.7 1692.7a1.6 1.6 0 1 0 .1 0zM171.4 1742.5a1.6 1.6 0 1 0 .1 0zM171.0 1664.9a1.6 1.6 0 1 0 .1 0zM151.1 1706.9a1.6 1.6 0 1 0 .1 0zM143.1 1662.3a1.6 1.6 0 1 0 .1 0zM193.6 1685.0a1.6 1.6 0 1 0 .1 0zM201.3 1698.7a1.6 1.6 0 1 0 .1 0zM210.3 1763.4a1.6 1.6 0 1 0 .1 0zM186.2 1697.4a1.6 1.6 0 1 0 .1 0zM210.6 1691.2a1.6 1.6 0 1 0 .1 0zM224.0 1781.5a1.6 1.6 0 1 0 .1 0zM238.4 1730.9a1.6 1.6 0 1 0 .1 0zM252.9 1726.3a1.6 1.6 0 1 0 .1 0zM205.1 1654.6a1.6 1.6 0 1 0 .1 0zM157.6 1693.2a1.6 1.6 0 1 0 .1 0zM96.9 1659.7a1.6 1.6 0 1 0 .1 0zM196.2 1677.2a1.6 1.6 0 1 0 .1 0zM165.1 1772.8a1.6 1.6 0 1 0 .1 0zM100.6 1693.5a1.6 1.6 0 1 0 .1 0zM194.6 1749.9a1.6 1.6 0 1 0 .1 0zM159.7 1657.6a1.6 1.6 0 1 0 .1 0zM184.5 1663.9a1.6 1.6 0 1 0 .1 0zM131.4 1731.3a1.6 1.6 0 1 0 .1 0zM116.2 1658.4a1.6 1.6 0 1 0 .1 0zM255.7 1665.8a1.6 1.6 0 1 0 .1 0zM229.6 1758.3a1.6 1.6 0 1 0 .1 0zM240.6 1653.8a1.6 1.6 0 1 0 .1 0zM108.9 1776.6a1.6 1.6 0 1 0 .1 0zM173.5 1725.1a1.6 1.6 0 1 0 .1 0zM100.9 1686.6a1.6 1.6 0 1 0 .1 0zM91.6 1719.5a1.6 1.6 0 1 0 .1 0zM140.6 1756.5a1.6 1.6 0 1 0 .1 0zM232.1 1692.2a1.6 1.6 0 1 0 .1 0zM263.7 1698.8a1.6 1.6 0 1 0 .1 0zM109.1 1690.9a1.6 1.6 0 1 0 .1 0zM238.2 1724.4a1.6 1.6 0 1 0 .1 0zM258.6 1684.9a1.6 1.6 0 1 0 .1 0zM232.4 1690.6a1.6 1.6 0 1 0 .1 0zM214.1 1769.6a1.6 1.6 0 1 0 .1 0zM180.6 1775.3a1.6 1.6 0 1 0 .1 0zM199.3 1722.7a1.6 1.6 0 1 0 .1 0zM231.8 1701.4a1.6 1.6 0 1 0 .1 0zM143.8 1685.3a1.6 1.6 0 1 0 .1 0zM111.2 1666.0a1.6 1.6 0 1 0 .1 0zM188.1 1744.1a1.6 1.6 0 1 0 .1 0zM106.6 1783.7a1.6 1.6 0 1 0 .1 0zM178.1 1670.7a1.6 1.6 0 1 0 .1 0zM266.6 1688.1a1.6 1.6 0 1 0 .1 0zM268.5 1670.4a1.6 1.6 0 1 0 .1 0zM234.5 1709.0a1.6 1.6 0 1 0 .1 0zM92.1 1677.9a1.6 1.6 0 1 0 .1 0zM180.9 1685.6a1.6 1.6 0 1 0 .1 0zM185.1 1716.6a1.6 1.6 0 1 0 .1 0zM109.6 1703.6a1.6 1.6 0 1 0 .1 0zM251.8 1676.6a1.6 1.6 0 1 0 .1 0zM198.8 1784.8a1.6 1.6 0 1 0 .1 0zM205.1 1674.9a1.6 1.6 0 1 0 .1 0zM186.7 1665.8a1.6 1.6 0 1 0 .1 0zM163.5 1783.7a1.6 1.6 0 1 0 .1 0zM110.1 1673.3a1.6 1.6 0 1 0 .1 0zM224.8 1663.8a1.6 1.6 0 1 0 .1 0zM247.5 1703.8a1.6 1.6 0 1 0 .1 0zM200.1 1780.4a1.6 1.6 0 1 0 .1 0zM146.6 1738.3a1.6 1.6 0 1 0 .1 0zM132.9 1764.2a1.6 1.6 0 1 0 .1 0zM203.9 1732.0a1.6 1.6 0 1 0 .1 0zM230.5 1697.3a1.6 1.6 0 1 0 .1 0zM194.8 1687.5a1.6 1.6 0 1 0 .1 0zM170.3 1737.5a1.6 1.6 0 1 0 .1 0zM266.3 1768.5a1.6 1.6 0 1 0 .1 0zM217.3 1759.4a1.6 1.6 0 1 0 .1 0zM170.9 1761.2a1.6 1.6 0 1 0 .1 0zM127.8 1739.0a1.6 1.6 0 1 0 .1 0zM240.1 1678.7a1.6 1.6 0 1 0 .1 0zM180.7 1699.6a1.6 1.6 0 1 0 .1 0zM243.7 1714.3a1.6 1.6 0 1 0 .1 0zM132.9 1707.7a1.6 1.6 0 1 0 .1 0zM119.3 1786.2a1.6 1.6 0 1 0 .1 0zM123.3 1691.7a1.6 1.6 0 1 0 .1 0zM235.6 1722.7a1.6 1.6 0 1 0 .1 0zM111.1 1696.6a1.6 1.6 0 1 0 .1 0zM263.8 1703.3a1.6 1.6 0 1 0 .1 0zM253.1 1777.9a1.6 1.6 0 1 0 .1 0zM186.2 1714.3a1.6 1.6 0 1 0 .1 0zM203.8 1653.6a1.6 1.6 0 1 0 .1 0zM117.7 1747.8a1.6 1.6 0 1 0 .1 0zM237.3 1742.9a1.6 1.6 0 1 0 .1 0zM245.7 1707.7a1.6 1.6 0 1 0 .1 0zM136.5 1781.4a1.6 1.6 0 1 0 .1 0zM188.6 1664.1a1.6 1.6 0 1 0 .1 0zM220.2 1720.8a1.6 1.6 0 1 0 .1 0zM230.5 1670.3a1.6 1.6 0 1 0 .1 0zM223.3 1786.3a1.6 1.6 0 1 0 .1 0zM159.7 1767.3a1.6 1.6 0 1 0 .1 0zM208.3 1756.9a1.6 1.6 0 1 0 .1 0z" fill="#cfc6bf" fill-opacity="0.6" stroke="#7a6c66" stroke-width="0.8" stroke-opacity="0.85"/>
</g>
<g clip-path="url(#iv42)">
<rect x="306.0" y="1652.7" width="179.7" height="135.0" fill="#ebe6d8"/>
<g fill="#7c90c4" fill-opacity="0.68" filter="url(#blur1)"><ellipse cx="420.9" cy="1656.1" rx="5.3" ry="3.1" transform="rotate(73 420.9 1656.1)"/><ellipse cx="346.1" cy="1752.1" rx="4.9" ry="3.8" transform="rotate(37 346.1 1752.1)"/><ellipse cx="403.9" cy="1682.5" rx="4.6" ry="4.8" transform="rotate(105 403.9 1682.5)"/><ellipse cx="451.5" cy="1653.6" rx="5.2" ry="4.7" transform="rotate(138 451.5 1653.6)"/><ellipse cx="431.5" cy="1698.6" rx="4.5" ry="3.0" transform="rotate(63 431.5 1698.6)"/><ellipse cx="478.0" cy="1698.1" rx="5.4" ry="4.7" transform="rotate(172 478.0 1698.1)"/><ellipse cx="451.0" cy="1751.2" rx="4.5" ry="4.5" transform="rotate(98 451.0 1751.2)"/><ellipse cx="455.0" cy="1736.2" rx="5.0" ry="3.4" transform="rotate(39 455.0 1736.2)"/><ellipse cx="409.8" cy="1747.8" rx="4.6" ry="3.1" transform="rotate(61 409.8 1747.8)"/><ellipse cx="347.0" cy="1691.8" rx="5.2" ry="3.8" transform="rotate(30 347.0 1691.8)"/><ellipse cx="347.8" cy="1666.3" rx="4.7" ry="3.3" transform="rotate(112 347.8 1666.3)"/><ellipse cx="420.2" cy="1702.0" rx="3.6" ry="3.8" transform="rotate(102 420.2 1702.0)"/><ellipse cx="422.5" cy="1734.9" rx="3.6" ry="4.3" transform="rotate(24 422.5 1734.9)"/><ellipse cx="437.0" cy="1674.8" rx="4.7" ry="3.1" transform="rotate(68 437.0 1674.8)"/><ellipse cx="429.0" cy="1766.5" rx="4.0" ry="3.7" transform="rotate(137 429.0 1766.5)"/><ellipse cx="347.2" cy="1657.0" rx="4.4" ry="4.5" transform="rotate(150 347.2 1657.0)"/><ellipse cx="377.1" cy="1776.2" rx="4.1" ry="3.2" transform="rotate(3 377.1 1776.2)"/><ellipse cx="353.6" cy="1686.0" rx="4.8" ry="5.0" transform="rotate(63 353.6 1686.0)"/><ellipse cx="353.2" cy="1731.6" rx="5.1" ry="4.6" transform="rotate(117 353.2 1731.6)"/><ellipse cx="397.6" cy="1665.0" rx="5.4" ry="4.9" transform="rotate(36 397.6 1665.0)"/><ellipse cx="325.7" cy="1737.4" rx="3.6" ry="3.3" transform="rotate(23 325.7 1737.4)"/><ellipse cx="381.9" cy="1661.3" rx="5.2" ry="4.1" transform="rotate(39 381.9 1661.3)"/><ellipse cx="428.5" cy="1725.2" rx="5.2" ry="4.5" transform="rotate(30 428.5 1725.2)"/><ellipse cx="421.2" cy="1667.8" rx="5.0" ry="4.5" transform="rotate(21 421.2 1667.8)"/><ellipse cx="387.5" cy="1781.5" rx="5.5" ry="4.9" transform="rotate(19 387.5 1781.5)"/><ellipse cx="353.3" cy="1720.3" rx="3.6" ry="3.6" transform="rotate(122 353.3 1720.3)"/><ellipse cx="420.8" cy="1734.9" rx="5.9" ry="3.8" transform="rotate(129 420.8 1734.9)"/><ellipse cx="443.0" cy="1725.5" rx="3.7" ry="4.4" transform="rotate(113 443.0 1725.5)"/><ellipse cx="401.3" cy="1652.8" rx="3.8" ry="4.5" transform="rotate(153 401.3 1652.8)"/><ellipse cx="455.5" cy="1694.2" rx="5.0" ry="3.2" transform="rotate(177 455.5 1694.2)"/><ellipse cx="463.8" cy="1780.5" rx="5.5" ry="3.7" transform="rotate(77 463.8 1780.5)"/><ellipse cx="393.3" cy="1662.0" rx="4.4" ry="4.0" transform="rotate(61 393.3 1662.0)"/><ellipse cx="443.6" cy="1670.0" rx="5.6" ry="4.6" transform="rotate(19 443.6 1670.0)"/><ellipse cx="404.8" cy="1688.5" rx="5.9" ry="4.3" transform="rotate(149 404.8 1688.5)"/><ellipse cx="382.0" cy="1681.3" rx="5.3" ry="3.9" transform="rotate(132 382.0 1681.3)"/><ellipse cx="437.2" cy="1679.9" rx="5.9" ry="3.5" transform="rotate(145 437.2 1679.9)"/><ellipse cx="399.0" cy="1669.0" rx="4.8" ry="4.0" transform="rotate(78 399.0 1669.0)"/><ellipse cx="366.8" cy="1732.1" rx="5.3" ry="3.5" transform="rotate(153 366.8 1732.1)"/><ellipse cx="345.6" cy="1662.3" rx="5.6" ry="3.2" transform="rotate(159 345.6 1662.3)"/><ellipse cx="347.1" cy="1774.9" rx="4.1" ry="3.9" transform="rotate(110 347.1 1774.9)"/><ellipse cx="408.6" cy="1716.5" rx="4.4" ry="3.1" transform="rotate(153 408.6 1716.5)"/><ellipse cx="451.1" cy="1678.4" rx="4.0" ry="3.4" transform="rotate(144 451.1 1678.4)"/><ellipse cx="383.5" cy="1709.9" rx="4.4" ry="4.8" transform="rotate(126 383.5 1709.9)"/><ellipse cx="460.8" cy="1686.3" rx="4.2" ry="3.0" transform="rotate(171 460.8 1686.3)"/><ellipse cx="386.6" cy="1709.7" rx="3.7" ry="4.4" transform="rotate(88 386.6 1709.7)"/><ellipse cx="350.9" cy="1777.3" rx="5.4" ry="4.4" transform="rotate(116 350.9 1777.3)"/><ellipse cx="460.8" cy="1727.0" rx="4.7" ry="4.6" transform="rotate(17 460.8 1727.0)"/><ellipse cx="472.5" cy="1767.3" rx="4.1" ry="4.4" transform="rotate(55 472.5 1767.3)"/><ellipse cx="393.3" cy="1681.6" rx="5.0" ry="3.9" transform="rotate(96 393.3 1681.6)"/><ellipse cx="353.7" cy="1758.5" rx="4.6" ry="4.5" transform="rotate(60 353.7 1758.5)"/><ellipse cx="405.9" cy="1749.7" rx="5.3" ry="3.5" transform="rotate(45 405.9 1749.7)"/><ellipse cx="359.3" cy="1783.5" rx="3.8" ry="3.4" transform="rotate(22 359.3 1783.5)"/><ellipse cx="403.4" cy="1753.7" rx="4.8" ry="4.5" transform="rotate(33 403.4 1753.7)"/><ellipse cx="411.0" cy="1720.6" rx="4.0" ry="4.0" transform="rotate(130 411.0 1720.6)"/><ellipse cx="334.3" cy="1782.4" rx="5.9" ry="4.0" transform="rotate(51 334.3 1782.4)"/><ellipse cx="339.4" cy="1733.0" rx="3.8" ry="3.4" transform="rotate(41 339.4 1733.0)"/><ellipse cx="348.3" cy="1668.9" rx="3.9" ry="3.0" transform="rotate(96 348.3 1668.9)"/><ellipse cx="350.2" cy="1733.0" rx="4.2" ry="4.9" transform="rotate(100 350.2 1733.0)"/><ellipse cx="381.3" cy="1731.5" rx="5.2" ry="3.3" transform="rotate(156 381.3 1731.5)"/><ellipse cx="348.9" cy="1706.1" rx="4.7" ry="4.7" transform="rotate(103 348.9 1706.1)"/><ellipse cx="359.9" cy="1695.4" rx="4.7" ry="3.9" transform="rotate(33 359.9 1695.4)"/><ellipse cx="485.0" cy="1662.6" rx="3.6" ry="4.9" transform="rotate(86 485.0 1662.6)"/><ellipse cx="353.7" cy="1778.7" rx="5.6" ry="3.8" transform="rotate(13 353.7 1778.7)"/><ellipse cx="464.0" cy="1702.6" rx="5.1" ry="3.1" transform="rotate(27 464.0 1702.6)"/><ellipse cx="455.8" cy="1747.7" rx="4.9" ry="3.6" transform="rotate(179 455.8 1747.7)"/><ellipse cx="483.4" cy="1741.0" rx="3.8" ry="4.5" transform="rotate(109 483.4 1741.0)"/><ellipse cx="452.8" cy="1693.1" rx="5.5" ry="3.5" transform="rotate(94 452.8 1693.1)"/><ellipse cx="474.7" cy="1670.8" rx="4.6" ry="3.9" transform="rotate(155 474.7 1670.8)"/><ellipse cx="325.2" cy="1727.4" rx="6.0" ry="3.6" transform="rotate(112 325.2 1727.4)"/><ellipse cx="414.7" cy="1749.6" rx="5.0" ry="4.5" transform="rotate(171 414.7 1749.6)"/><ellipse cx="420.0" cy="1688.3" rx="4.0" ry="3.4" transform="rotate(119 420.0 1688.3)"/><ellipse cx="468.7" cy="1766.9" rx="3.9" ry="3.3" transform="rotate(14 468.7 1766.9)"/><ellipse cx="382.1" cy="1690.1" rx="3.5" ry="3.9" transform="rotate(107 382.1 1690.1)"/><ellipse cx="444.6" cy="1738.7" rx="4.2" ry="3.5" transform="rotate(127 444.6 1738.7)"/><ellipse cx="439.2" cy="1727.2" rx="5.3" ry="3.9" transform="rotate(124 439.2 1727.2)"/><ellipse cx="410.7" cy="1672.7" rx="5.8" ry="4.6" transform="rotate(113 410.7 1672.7)"/><ellipse cx="361.4" cy="1774.1" rx="5.2" ry="4.9" transform="rotate(77 361.4 1774.1)"/><ellipse cx="460.7" cy="1774.1" rx="4.9" ry="4.3" transform="rotate(164 460.7 1774.1)"/><ellipse cx="350.8" cy="1666.6" rx="5.6" ry="3.1" transform="rotate(30 350.8 1666.6)"/><ellipse cx="333.8" cy="1778.2" rx="4.3" ry="4.5" transform="rotate(102 333.8 1778.2)"/><ellipse cx="451.7" cy="1688.7" rx="4.2" ry="3.2" transform="rotate(124 451.7 1688.7)"/><ellipse cx="325.4" cy="1770.4" rx="5.2" ry="4.9" transform="rotate(90 325.4 1770.4)"/><ellipse cx="346.0" cy="1762.9" rx="4.7" ry="3.2" transform="rotate(7 346.0 1762.9)"/><ellipse cx="360.8" cy="1760.1" rx="4.6" ry="3.6" transform="rotate(45 360.8 1760.1)"/><ellipse cx="402.4" cy="1779.5" rx="3.7" ry="4.9" transform="rotate(150 402.4 1779.5)"/><ellipse cx="353.7" cy="1667.3" rx="4.9" ry="4.9" transform="rotate(180 353.7 1667.3)"/><ellipse cx="436.9" cy="1695.0" rx="5.2" ry="3.5" transform="rotate(7 436.9 1695.0)"/><ellipse cx="397.9" cy="1704.7" rx="5.4" ry="3.9" transform="rotate(117 397.9 1704.7)"/><ellipse cx="351.8" cy="1748.4" rx="5.8" ry="3.4" transform="rotate(105 351.8 1748.4)"/><ellipse cx="439.3" cy="1743.2" rx="5.1" ry="4.0" transform="rotate(16 439.3 1743.2)"/><ellipse cx="362.4" cy="1767.2" rx="4.4" ry="3.7" transform="rotate(121 362.4 1767.2)"/><ellipse cx="360.0" cy="1694.5" rx="5.6" ry="3.7" transform="rotate(125 360.0 1694.5)"/><ellipse cx="378.3" cy="1692.6" rx="4.2" ry="4.9" transform="rotate(146 378.3 1692.6)"/><ellipse cx="381.6" cy="1779.6" rx="4.9" ry="3.9" transform="rotate(57 381.6 1779.6)"/><ellipse cx="404.5" cy="1652.8" rx="4.3" ry="4.9" transform="rotate(73 404.5 1652.8)"/><ellipse cx="383.3" cy="1731.0" rx="4.8" ry="5.0" transform="rotate(118 383.3 1731.0)"/><ellipse cx="389.6" cy="1712.4" rx="4.9" ry="3.8" transform="rotate(34 389.6 1712.4)"/><ellipse cx="391.0" cy="1774.4" rx="4.4" ry="4.5" transform="rotate(113 391.0 1774.4)"/><ellipse cx="336.5" cy="1664.1" rx="5.4" ry="3.4" transform="rotate(99 336.5 1664.1)"/><ellipse cx="419.7" cy="1698.0" rx="5.8" ry="3.9" transform="rotate(126 419.7 1698.0)"/><ellipse cx="441.0" cy="1743.5" rx="3.8" ry="4.9" transform="rotate(110 441.0 1743.5)"/><ellipse cx="341.8" cy="1656.0" rx="4.1" ry="3.3" transform="rotate(99 341.8 1656.0)"/><ellipse cx="391.4" cy="1767.4" rx="4.9" ry="3.2" transform="rotate(179 391.4 1767.4)"/><ellipse cx="380.5" cy="1737.7" rx="5.8" ry="3.9" transform="rotate(21 380.5 1737.7)"/><ellipse cx="431.1" cy="1719.4" rx="5.6" ry="4.0" transform="rotate(129 431.1 1719.4)"/><ellipse cx="423.9" cy="1653.4" rx="4.8" ry="3.5" transform="rotate(150 423.9 1653.4)"/><ellipse cx="444.4" cy="1667.1" rx="6.0" ry="3.5" transform="rotate(99 444.4 1667.1)"/><ellipse cx="337.6" cy="1782.0" rx="4.5" ry="4.8" transform="rotate(91 337.6 1782.0)"/><ellipse cx="388.0" cy="1760.9" rx="5.7" ry="4.7" transform="rotate(50 388.0 1760.9)"/><ellipse cx="396.7" cy="1764.8" rx="5.5" ry="3.8" transform="rotate(168 396.7 1764.8)"/><ellipse cx="352.6" cy="1686.1" rx="4.8" ry="4.6" transform="rotate(51 352.6 1686.1)"/><ellipse cx="443.6" cy="1723.1" rx="4.2" ry="4.2" transform="rotate(180 443.6 1723.1)"/><ellipse cx="355.3" cy="1663.2" rx="4.7" ry="3.3" transform="rotate(97 355.3 1663.2)"/><ellipse cx="354.8" cy="1695.9" rx="4.4" ry="4.1" transform="rotate(98 354.8 1695.9)"/><ellipse cx="330.9" cy="1683.9" rx="4.6" ry="3.6" transform="rotate(34 330.9 1683.9)"/></g>
<path d="M400.7 1683.2a1.8 1.8 0 1 0 .1 0zM477.2 1699.6a1.7 1.7 0 1 0 .1 0zM449.8 1751.5a1.2 1.2 0 1 0 .1 0zM345.2 1692.4a1.6 1.6 0 1 0 .1 0zM345.1 1666.2a1.7 1.7 0 1 0 .1 0zM421.1 1736.0a1.8 1.8 0 1 0 .1 0zM346.4 1657.8a1.5 1.5 0 1 0 .1 0zM352.7 1687.3a1.3 1.3 0 1 0 .1 0zM324.8 1738.5a1.3 1.3 0 1 0 .1 0zM381.3 1659.9a1.8 1.8 0 1 0 .1 0zM418.6 1667.9a1.5 1.5 0 1 0 .1 0zM420.7 1735.3a1.3 1.3 0 1 0 .1 0zM440.0 1725.4a1.9 1.9 0 1 0 .1 0zM398.4 1653.7a1.4 1.4 0 1 0 .1 0zM391.3 1662.3a1.6 1.6 0 1 0 .1 0zM404.4 1687.6a1.4 1.4 0 1 0 .1 0zM379.7 1681.5a1.6 1.6 0 1 0 .1 0zM365.2 1731.4a2.0 2.0 0 1 0 .1 0zM449.4 1679.6a1.7 1.7 0 1 0 .1 0zM381.9 1709.4a1.8 1.8 0 1 0 .1 0zM402.1 1754.4a1.6 1.6 0 1 0 .1 0zM410.3 1719.6a1.4 1.4 0 1 0 .1 0zM334.1 1782.5a1.6 1.6 0 1 0 .1 0zM348.3 1733.9a1.9 1.9 0 1 0 .1 0zM349.0 1705.1a1.3 1.3 0 1 0 .1 0zM449.5 1693.2a1.8 1.8 0 1 0 .1 0zM473.5 1671.1a1.7 1.7 0 1 0 .1 0zM417.2 1689.5a1.4 1.4 0 1 0 .1 0zM444.3 1739.9a1.3 1.3 0 1 0 .1 0zM436.6 1728.5a1.5 1.5 0 1 0 .1 0zM407.9 1673.9a1.6 1.6 0 1 0 .1 0zM360.3 1774.8a1.6 1.6 0 1 0 .1 0zM348.0 1666.3a1.8 1.8 0 1 0 .1 0zM331.9 1779.6a1.6 1.6 0 1 0 .1 0zM450.0 1690.1a1.5 1.5 0 1 0 .1 0zM344.4 1764.4a1.7 1.7 0 1 0 .1 0zM358.4 1758.9a1.5 1.5 0 1 0 .1 0zM352.4 1667.6a1.7 1.7 0 1 0 .1 0zM434.3 1693.9a1.8 1.8 0 1 0 .1 0zM349.1 1747.5a1.8 1.8 0 1 0 .1 0zM362.3 1765.7a1.3 1.3 0 1 0 .1 0zM376.3 1691.6a1.3 1.3 0 1 0 .1 0zM404.1 1652.0a1.2 1.2 0 1 0 .1 0zM380.6 1731.7a1.3 1.3 0 1 0 .1 0zM387.7 1713.2a1.8 1.8 0 1 0 .1 0zM389.8 1775.7a1.3 1.3 0 1 0 .1 0zM335.8 1664.2a1.8 1.8 0 1 0 .1 0zM416.5 1697.9a2.0 2.0 0 1 0 .1 0zM439.2 1744.8a1.7 1.7 0 1 0 .1 0zM340.8 1654.7a1.3 1.3 0 1 0 .1 0zM389.8 1766.9a1.7 1.7 0 1 0 .1 0zM429.9 1718.2a1.6 1.6 0 1 0 .1 0zM350.2 1685.6a1.6 1.6 0 1 0 .1 0zM440.9 1722.9a1.5 1.5 0 1 0 .1 0zM354.8 1694.6a1.3 1.3 0 1 0 .1 0z" fill="#3e4c88" fill-opacity="0.65" filter="url(#blur05)"/>
<path d="M321.2 1665.7a1.6 1.6 0 1 0 .1 0zM437.2 1762.3a1.6 1.6 0 1 0 .1 0zM404.4 1731.9a1.6 1.6 0 1 0 .1 0zM405.3 1697.2a1.6 1.6 0 1 0 .1 0zM326.4 1700.4a1.6 1.6 0 1 0 .1 0zM424.0 1754.0a1.6 1.6 0 1 0 .1 0zM460.4 1750.0a1.6 1.6 0 1 0 .1 0zM478.4 1733.8a1.6 1.6 0 1 0 .1 0zM367.6 1730.7a1.6 1.6 0 1 0 .1 0zM342.6 1741.4a1.6 1.6 0 1 0 .1 0zM344.7 1667.3a1.6 1.6 0 1 0 .1 0zM456.3 1702.3a1.6 1.6 0 1 0 .1 0zM441.4 1730.2a1.6 1.6 0 1 0 .1 0zM449.5 1766.8a1.6 1.6 0 1 0 .1 0zM479.5 1763.2a1.6 1.6 0 1 0 .1 0zM414.7 1739.5a1.6 1.6 0 1 0 .1 0zM309.1 1778.1a1.6 1.6 0 1 0 .1 0zM453.5 1688.8a1.6 1.6 0 1 0 .1 0zM336.8 1747.6a1.6 1.6 0 1 0 .1 0zM359.9 1698.6a1.6 1.6 0 1 0 .1 0zM305.5 1770.1a1.6 1.6 0 1 0 .1 0zM406.2 1706.8a1.6 1.6 0 1 0 .1 0zM329.9 1738.2a1.6 1.6 0 1 0 .1 0zM309.9 1753.4a1.6 1.6 0 1 0 .1 0zM343.1 1709.4a1.6 1.6 0 1 0 .1 0zM365.7 1702.7a1.6 1.6 0 1 0 .1 0zM434.1 1757.6a1.6 1.6 0 1 0 .1 0zM406.4 1664.2a1.6 1.6 0 1 0 .1 0zM313.9 1674.0a1.6 1.6 0 1 0 .1 0zM415.4 1743.7a1.6 1.6 0 1 0 .1 0zM353.3 1742.1a1.6 1.6 0 1 0 .1 0zM391.7 1712.4a1.6 1.6 0 1 0 .1 0zM353.5 1754.6a1.6 1.6 0 1 0 .1 0zM324.9 1710.7a1.6 1.6 0 1 0 .1 0zM355.3 1744.3a1.6 1.6 0 1 0 .1 0zM391.8 1742.8a1.6 1.6 0 1 0 .1 0zM312.6 1706.1a1.6 1.6 0 1 0 .1 0zM412.1 1653.7a1.6 1.6 0 1 0 .1 0zM358.6 1681.2a1.6 1.6 0 1 0 .1 0zM329.1 1687.2a1.6 1.6 0 1 0 .1 0zM363.4 1653.7a1.6 1.6 0 1 0 .1 0zM438.6 1676.4a1.6 1.6 0 1 0 .1 0zM372.7 1747.7a1.6 1.6 0 1 0 .1 0zM394.3 1765.2a1.6 1.6 0 1 0 .1 0zM449.3 1662.4a1.6 1.6 0 1 0 .1 0zM459.3 1658.4a1.6 1.6 0 1 0 .1 0zM307.8 1777.1a1.6 1.6 0 1 0 .1 0zM459.3 1730.4a1.6 1.6 0 1 0 .1 0zM407.4 1748.5a1.6 1.6 0 1 0 .1 0zM379.5 1668.2a1.6 1.6 0 1 0 .1 0zM308.1 1696.5a1.6 1.6 0 1 0 .1 0zM448.4 1736.1a1.6 1.6 0 1 0 .1 0zM453.9 1776.9a1.6 1.6 0 1 0 .1 0zM320.2 1766.7a1.6 1.6 0 1 0 .1 0zM348.1 1732.2a1.6 1.6 0 1 0 .1 0zM398.6 1706.1a1.6 1.6 0 1 0 .1 0zM360.2 1698.5a1.6 1.6 0 1 0 .1 0zM364.3 1675.4a1.6 1.6 0 1 0 .1 0zM396.1 1668.1a1.6 1.6 0 1 0 .1 0zM396.0 1775.0a1.6 1.6 0 1 0 .1 0zM367.2 1750.9a1.6 1.6 0 1 0 .1 0zM451.6 1762.7a1.6 1.6 0 1 0 .1 0zM346.9 1672.5a1.6 1.6 0 1 0 .1 0zM339.8 1734.0a1.6 1.6 0 1 0 .1 0zM441.0 1741.2a1.6 1.6 0 1 0 .1 0zM336.2 1757.0a1.6 1.6 0 1 0 .1 0zM393.2 1754.6a1.6 1.6 0 1 0 .1 0zM440.9 1713.3a1.6 1.6 0 1 0 .1 0zM470.5 1728.9a1.6 1.6 0 1 0 .1 0zM418.6 1737.0a1.6 1.6 0 1 0 .1 0zM459.7 1737.4a1.6 1.6 0 1 0 .1 0zM331.5 1661.9a1.6 1.6 0 1 0 .1 0zM383.9 1693.6a1.6 1.6 0 1 0 .1 0zM353.8 1660.3a1.6 1.6 0 1 0 .1 0zM395.6 1694.6a1.6 1.6 0 1 0 .1 0zM385.6 1660.4a1.6 1.6 0 1 0 .1 0zM453.9 1663.1a1.6 1.6 0 1 0 .1 0zM459.7 1768.2a1.6 1.6 0 1 0 .1 0zM414.9 1721.2a1.6 1.6 0 1 0 .1 0zM387.5 1727.5a1.6 1.6 0 1 0 .1 0zM446.7 1773.6a1.6 1.6 0 1 0 .1 0zM385.2 1762.0a1.6 1.6 0 1 0 .1 0zM421.5 1696.1a1.6 1.6 0 1 0 .1 0zM389.9 1673.1a1.6 1.6 0 1 0 .1 0zM315.5 1666.7a1.6 1.6 0 1 0 .1 0zM466.0 1699.1a1.6 1.6 0 1 0 .1 0zM432.8 1720.8a1.6 1.6 0 1 0 .1 0zM335.4 1686.1a1.6 1.6 0 1 0 .1 0zM383.1 1712.0a1.6 1.6 0 1 0 .1 0zM398.3 1674.1a1.6 1.6 0 1 0 .1 0zM371.4 1690.9a1.6 1.6 0 1 0 .1 0zM377.9 1698.4a1.6 1.6 0 1 0 .1 0zM411.8 1759.2a1.6 1.6 0 1 0 .1 0zM420.7 1661.6a1.6 1.6 0 1 0 .1 0zM321.4 1744.3a1.6 1.6 0 1 0 .1 0zM355.5 1750.4a1.6 1.6 0 1 0 .1 0zM422.4 1775.1a1.6 1.6 0 1 0 .1 0zM461.3 1697.7a1.6 1.6 0 1 0 .1 0zM409.1 1671.8a1.6 1.6 0 1 0 .1 0zM367.3 1783.3a1.6 1.6 0 1 0 .1 0zM429.9 1705.6a1.6 1.6 0 1 0 .1 0zM411.3 1779.3a1.6 1.6 0 1 0 .1 0zM360.0 1703.6a1.6 1.6 0 1 0 .1 0zM446.7 1762.5a1.6 1.6 0 1 0 .1 0zM424.8 1764.6a1.6 1.6 0 1 0 .1 0zM437.2 1745.2a1.6 1.6 0 1 0 .1 0zM399.0 1739.9a1.6 1.6 0 1 0 .1 0zM380.5 1701.5a1.6 1.6 0 1 0 .1 0zM369.6 1677.0a1.6 1.6 0 1 0 .1 0zM342.9 1780.6a1.6 1.6 0 1 0 .1 0z" fill="#cfc6bf" fill-opacity="0.6" stroke="#7a6c66" stroke-width="0.8" stroke-opacity="0.85"/>
</g>
<rect x="103.2" y="1777.2" width="21.1" height="2.6" fill="#000"/>
<text x="295.7" y="1829.3" font-size="22.26" font-weight="bold" text-anchor="middle" textLength="76.7" lengthAdjust="spacingAndGlyphs">WM451</text>
<rect x="87.3" y="1800.7" width="403.4" height="3.5" fill="#000"/>
<text x="941.9" y="1632.3" font-size="20.91" font-weight="bold" text-anchor="middle" textLength="30.2" lengthAdjust="spacingAndGlyphs">NC</text>
<rect x="859.5" y="1643.0" width="177.2" height="5.8" fill="#000"/>
<text x="1161.4" y="1633.0" font-size="22.32" font-weight="bold" text-anchor="middle" textLength="140.2" lengthAdjust="spacingAndGlyphs">shLINC00518</text>
<rect x="1075.0" y="1642.0" width="176.6" height="5.9" fill="#000"/>
<g clip-path="url(#iv43)">
<rect x="856.6" y="1652.3" width="180.1" height="135.9" fill="#d4cceb"/>
<rect x="856.6" y="1652.3" width="180.1" height="135.9" fill="url(#lavg)"/>
<g fill="#4a68dc" fill-opacity="0.22" filter="url(#blur15)"><ellipse cx="863.5" cy="1746.9" rx="6.5" ry="1.5" transform="rotate(88 863.5 1746.9)"/><ellipse cx="863.5" cy="1746.9" rx="8.9" ry="1.5" transform="rotate(20 863.5 1746.9)"/><ellipse cx="939.9" cy="1743.6" rx="6.2" ry="2.2" transform="rotate(68 939.9 1743.6)"/><ellipse cx="939.9" cy="1743.6" rx="6.1" ry="1.8" transform="rotate(38 939.9 1743.6)"/><ellipse cx="938.2" cy="1720.0" rx="9.4" ry="2.1" transform="rotate(7 938.2 1720.0)"/><ellipse cx="938.2" cy="1720.0" rx="8.8" ry="2.0" transform="rotate(10 938.2 1720.0)"/><ellipse cx="934.5" cy="1702.9" rx="6.8" ry="1.3" transform="rotate(43 934.5 1702.9)"/><ellipse cx="934.5" cy="1702.9" rx="10.6" ry="1.6" transform="rotate(125 934.5 1702.9)"/><ellipse cx="955.1" cy="1754.9" rx="11.9" ry="1.4" transform="rotate(63 955.1 1754.9)"/><ellipse cx="955.1" cy="1754.9" rx="10.8" ry="1.7" transform="rotate(144 955.1 1754.9)"/><ellipse cx="888.3" cy="1767.9" rx="8.0" ry="2.1" transform="rotate(141 888.3 1767.9)"/><ellipse cx="888.3" cy="1767.9" rx="9.7" ry="2.0" transform="rotate(134 888.3 1767.9)"/><ellipse cx="924.3" cy="1665.3" rx="11.2" ry="1.6" transform="rotate(121 924.3 1665.3)"/><ellipse cx="924.3" cy="1665.3" rx="11.7" ry="1.6" transform="rotate(67 924.3 1665.3)"/><ellipse cx="945.9" cy="1757.3" rx="10.8" ry="1.6" transform="rotate(56 945.9 1757.3)"/><ellipse cx="945.9" cy="1757.3" rx="9.4" ry="1.3" transform="rotate(75 945.9 1757.3)"/><ellipse cx="947.9" cy="1730.5" rx="9.7" ry="1.2" transform="rotate(151 947.9 1730.5)"/><ellipse cx="947.9" cy="1730.5" rx="7.8" ry="1.6" transform="rotate(17 947.9 1730.5)"/><ellipse cx="950.7" cy="1666.3" rx="10.8" ry="1.9" transform="rotate(144 950.7 1666.3)"/><ellipse cx="950.7" cy="1666.3" rx="9.1" ry="1.3" transform="rotate(132 950.7 1666.3)"/><ellipse cx="961.8" cy="1779.1" rx="10.5" ry="1.2" transform="rotate(63 961.8 1779.1)"/><ellipse cx="961.8" cy="1779.1" rx="6.1" ry="1.5" transform="rotate(43 961.8 1779.1)"/><ellipse cx="873.5" cy="1736.9" rx="8.9" ry="1.4" transform="rotate(58 873.5 1736.9)"/><ellipse cx="873.5" cy="1736.9" rx="6.7" ry="2.0" transform="rotate(98 873.5 1736.9)"/><ellipse cx="982.9" cy="1675.0" rx="8.5" ry="2.1" transform="rotate(150 982.9 1675.0)"/><ellipse cx="982.9" cy="1675.0" rx="9.4" ry="1.8" transform="rotate(120 982.9 1675.0)"/><ellipse cx="922.9" cy="1677.6" rx="6.8" ry="2.1" transform="rotate(80 922.9 1677.6)"/><ellipse cx="922.9" cy="1677.6" rx="11.2" ry="1.6" transform="rotate(41 922.9 1677.6)"/><ellipse cx="1031.1" cy="1727.3" rx="9.7" ry="1.6" transform="rotate(99 1031.1 1727.3)"/><ellipse cx="1031.1" cy="1727.3" rx="11.1" ry="1.6" transform="rotate(178 1031.1 1727.3)"/><ellipse cx="965.0" cy="1663.7" rx="11.3" ry="2.1" transform="rotate(61 965.0 1663.7)"/><ellipse cx="965.0" cy="1663.7" rx="6.8" ry="1.7" transform="rotate(65 965.0 1663.7)"/><ellipse cx="872.1" cy="1742.6" rx="8.7" ry="1.8" transform="rotate(83 872.1 1742.6)"/><ellipse cx="872.1" cy="1742.6" rx="9.4" ry="1.9" transform="rotate(3 872.1 1742.6)"/><ellipse cx="936.4" cy="1657.5" rx="6.0" ry="1.8" transform="rotate(99 936.4 1657.5)"/><ellipse cx="936.4" cy="1657.5" rx="10.1" ry="1.7" transform="rotate(165 936.4 1657.5)"/><ellipse cx="1019.3" cy="1785.0" rx="7.3" ry="1.7" transform="rotate(68 1019.3 1785.0)"/><ellipse cx="1019.3" cy="1785.0" rx="6.9" ry="1.8" transform="rotate(173 1019.3 1785.0)"/><ellipse cx="946.3" cy="1779.7" rx="6.5" ry="1.4" transform="rotate(94 946.3 1779.7)"/><ellipse cx="946.3" cy="1779.7" rx="6.5" ry="1.3" transform="rotate(47 946.3 1779.7)"/><ellipse cx="984.9" cy="1664.9" rx="7.9" ry="1.9" transform="rotate(149 984.9 1664.9)"/><ellipse cx="984.9" cy="1664.9" rx="9.1" ry="1.7" transform="rotate(88 984.9 1664.9)"/><ellipse cx="960.3" cy="1687.7" rx="6.4" ry="1.3" transform="rotate(6 960.3 1687.7)"/><ellipse cx="960.3" cy="1687.7" rx="10.2" ry="2.2" transform="rotate(147 960.3 1687.7)"/><ellipse cx="890.1" cy="1676.5" rx="7.4" ry="1.8" transform="rotate(124 890.1 1676.5)"/><ellipse cx="890.1" cy="1676.5" rx="7.7" ry="1.6" transform="rotate(119 890.1 1676.5)"/><ellipse cx="983.8" cy="1783.4" rx="7.2" ry="1.2" transform="rotate(143 983.8 1783.4)"/><ellipse cx="983.8" cy="1783.4" rx="8.0" ry="1.8" transform="rotate(161 983.8 1783.4)"/><ellipse cx="1029.3" cy="1682.5" rx="7.2" ry="1.5" transform="rotate(175 1029.3 1682.5)"/><ellipse cx="1029.3" cy="1682.5" rx="7.7" ry="1.7" transform="rotate(60 1029.3 1682.5)"/><ellipse cx="897.1" cy="1714.6" rx="10.8" ry="2.2" transform="rotate(4 897.1 1714.6)"/><ellipse cx="897.1" cy="1714.6" rx="8.4" ry="1.6" transform="rotate(38 897.1 1714.6)"/><ellipse cx="861.5" cy="1726.5" rx="8.5" ry="2.1" transform="rotate(127 861.5 1726.5)"/><ellipse cx="861.5" cy="1726.5" rx="7.6" ry="1.3" transform="rotate(171 861.5 1726.5)"/><ellipse cx="948.6" cy="1776.6" rx="6.4" ry="1.6" transform="rotate(109 948.6 1776.6)"/><ellipse cx="948.6" cy="1776.6" rx="11.0" ry="1.6" transform="rotate(35 948.6 1776.6)"/><ellipse cx="880.0" cy="1756.2" rx="9.6" ry="1.9" transform="rotate(150 880.0 1756.2)"/><ellipse cx="880.0" cy="1756.2" rx="10.7" ry="1.9" transform="rotate(120 880.0 1756.2)"/><ellipse cx="857.7" cy="1747.3" rx="8.3" ry="1.4" transform="rotate(145 857.7 1747.3)"/><ellipse cx="857.7" cy="1747.3" rx="10.9" ry="1.3" transform="rotate(42 857.7 1747.3)"/><ellipse cx="968.7" cy="1679.6" rx="6.3" ry="1.2" transform="rotate(137 968.7 1679.6)"/><ellipse cx="968.7" cy="1679.6" rx="10.4" ry="2.0" transform="rotate(132 968.7 1679.6)"/><ellipse cx="859.3" cy="1703.4" rx="10.1" ry="1.9" transform="rotate(66 859.3 1703.4)"/><ellipse cx="859.3" cy="1703.4" rx="6.7" ry="1.3" transform="rotate(41 859.3 1703.4)"/><ellipse cx="903.6" cy="1670.5" rx="10.7" ry="1.4" transform="rotate(55 903.6 1670.5)"/><ellipse cx="903.6" cy="1670.5" rx="9.9" ry="2.2" transform="rotate(150 903.6 1670.5)"/><ellipse cx="981.3" cy="1679.4" rx="11.8" ry="2.0" transform="rotate(49 981.3 1679.4)"/><ellipse cx="981.3" cy="1679.4" rx="7.6" ry="1.3" transform="rotate(8 981.3 1679.4)"/><ellipse cx="904.9" cy="1747.3" rx="9.5" ry="2.2" transform="rotate(60 904.9 1747.3)"/><ellipse cx="904.9" cy="1747.3" rx="7.9" ry="1.8" transform="rotate(154 904.9 1747.3)"/><ellipse cx="973.2" cy="1662.3" rx="6.1" ry="1.5" transform="rotate(90 973.2 1662.3)"/><ellipse cx="973.2" cy="1662.3" rx="9.1" ry="1.9" transform="rotate(91 973.2 1662.3)"/><ellipse cx="882.2" cy="1682.6" rx="11.9" ry="2.1" transform="rotate(54 882.2 1682.6)"/><ellipse cx="882.2" cy="1682.6" rx="6.8" ry="1.4" transform="rotate(54 882.2 1682.6)"/><ellipse cx="942.2" cy="1739.3" rx="8.9" ry="1.6" transform="rotate(63 942.2 1739.3)"/><ellipse cx="942.2" cy="1739.3" rx="10.3" ry="1.2" transform="rotate(109 942.2 1739.3)"/><ellipse cx="977.0" cy="1692.9" rx="8.6" ry="1.7" transform="rotate(23 977.0 1692.9)"/><ellipse cx="977.0" cy="1692.9" rx="10.5" ry="1.6" transform="rotate(134 977.0 1692.9)"/><ellipse cx="936.6" cy="1776.3" rx="7.8" ry="1.7" transform="rotate(115 936.6 1776.3)"/><ellipse cx="936.6" cy="1776.3" rx="10.4" ry="1.2" transform="rotate(151 936.6 1776.3)"/><ellipse cx="955.4" cy="1767.2" rx="9.5" ry="2.1" transform="rotate(130 955.4 1767.2)"/><ellipse cx="955.4" cy="1767.2" rx="6.0" ry="1.5" transform="rotate(10 955.4 1767.2)"/><ellipse cx="987.0" cy="1722.7" rx="8.1" ry="1.8" transform="rotate(176 987.0 1722.7)"/><ellipse cx="987.0" cy="1722.7" rx="9.0" ry="2.0" transform="rotate(39 987.0 1722.7)"/><ellipse cx="895.1" cy="1778.8" rx="6.5" ry="1.8" transform="rotate(57 895.1 1778.8)"/><ellipse cx="895.1" cy="1778.8" rx="6.2" ry="1.4" transform="rotate(13 895.1 1778.8)"/><ellipse cx="1004.2" cy="1734.7" rx="7.0" ry="2.2" transform="rotate(62 1004.2 1734.7)"/><ellipse cx="1004.2" cy="1734.7" rx="10.6" ry="1.9" transform="rotate(123 1004.2 1734.7)"/><ellipse cx="876.1" cy="1772.1" rx="6.1" ry="1.2" transform="rotate(57 876.1 1772.1)"/><ellipse cx="876.1" cy="1772.1" rx="8.2" ry="1.7" transform="rotate(26 876.1 1772.1)"/><ellipse cx="949.6" cy="1687.1" rx="11.6" ry="2.0" transform="rotate(135 949.6 1687.1)"/><ellipse cx="949.6" cy="1687.1" rx="10.3" ry="2.2" transform="rotate(108 949.6 1687.1)"/><ellipse cx="939.8" cy="1692.7" rx="9.8" ry="1.9" transform="rotate(169 939.8 1692.7)"/><ellipse cx="939.8" cy="1692.7" rx="11.2" ry="1.7" transform="rotate(151 939.8 1692.7)"/><ellipse cx="936.4" cy="1688.5" rx="11.8" ry="1.5" transform="rotate(102 936.4 1688.5)"/><ellipse cx="936.4" cy="1688.5" rx="12.0" ry="1.7" transform="rotate(61 936.4 1688.5)"/><ellipse cx="912.4" cy="1760.5" rx="8.3" ry="1.2" transform="rotate(107 912.4 1760.5)"/><ellipse cx="912.4" cy="1760.5" rx="10.8" ry="1.6" transform="rotate(104 912.4 1760.5)"/><ellipse cx="899.8" cy="1732.9" rx="6.5" ry="1.3" transform="rotate(22 899.8 1732.9)"/><ellipse cx="899.8" cy="1732.9" rx="9.7" ry="2.0" transform="rotate(155 899.8 1732.9)"/><ellipse cx="865.4" cy="1677.0" rx="6.2" ry="1.7" transform="rotate(149 865.4 1677.0)"/><ellipse cx="865.4" cy="1677.0" rx="7.7" ry="1.4" transform="rotate(29 865.4 1677.0)"/><ellipse cx="998.6" cy="1681.3" rx="7.9" ry="1.3" transform="rotate(93 998.6 1681.3)"/><ellipse cx="998.6" cy="1681.3" rx="11.1" ry="1.7" transform="rotate(145 998.6 1681.3)"/><ellipse cx="880.7" cy="1765.5" rx="9.2" ry="1.4" transform="rotate(160 880.7 1765.5)"/><ellipse cx="880.7" cy="1765.5" rx="9.3" ry="1.6" transform="rotate(145 880.7 1765.5)"/><ellipse cx="993.0" cy="1686.9" rx="11.0" ry="1.5" transform="rotate(17 993.0 1686.9)"/><ellipse cx="993.0" cy="1686.9" rx="7.4" ry="1.5" transform="rotate(176 993.0 1686.9)"/><ellipse cx="981.4" cy="1705.7" rx="10.2" ry="2.1" transform="rotate(114 981.4 1705.7)"/><ellipse cx="981.4" cy="1705.7" rx="6.6" ry="2.0" transform="rotate(54 981.4 1705.7)"/><ellipse cx="935.7" cy="1714.7" rx="6.7" ry="1.5" transform="rotate(64 935.7 1714.7)"/><ellipse cx="935.7" cy="1714.7" rx="6.2" ry="2.2" transform="rotate(62 935.7 1714.7)"/><ellipse cx="973.4" cy="1666.8" rx="9.4" ry="1.6" transform="rotate(152 973.4 1666.8)"/><ellipse cx="973.4" cy="1666.8" rx="9.3" ry="1.5" transform="rotate(6 973.4 1666.8)"/><ellipse cx="944.2" cy="1763.5" rx="6.9" ry="1.5" transform="rotate(146 944.2 1763.5)"/><ellipse cx="944.2" cy="1763.5" rx="11.9" ry="1.7" transform="rotate(136 944.2 1763.5)"/><ellipse cx="976.7" cy="1680.2" rx="10.1" ry="2.2" transform="rotate(59 976.7 1680.2)"/><ellipse cx="976.7" cy="1680.2" rx="7.2" ry="1.3" transform="rotate(5 976.7 1680.2)"/><ellipse cx="979.2" cy="1726.2" rx="11.0" ry="1.5" transform="rotate(103 979.2 1726.2)"/><ellipse cx="979.2" cy="1726.2" rx="6.1" ry="1.3" transform="rotate(148 979.2 1726.2)"/><ellipse cx="1027.8" cy="1701.0" rx="11.0" ry="1.8" transform="rotate(39 1027.8 1701.0)"/><ellipse cx="1027.8" cy="1701.0" rx="10.2" ry="2.1" transform="rotate(11 1027.8 1701.0)"/><ellipse cx="916.2" cy="1658.1" rx="8.9" ry="2.1" transform="rotate(80 916.2 1658.1)"/><ellipse cx="916.2" cy="1658.1" rx="7.7" ry="2.0" transform="rotate(35 916.2 1658.1)"/><ellipse cx="893.5" cy="1768.5" rx="10.6" ry="1.3" transform="rotate(46 893.5 1768.5)"/><ellipse cx="893.5" cy="1768.5" rx="8.6" ry="1.7" transform="rotate(37 893.5 1768.5)"/><ellipse cx="867.2" cy="1738.6" rx="6.5" ry="1.3" transform="rotate(52 867.2 1738.6)"/><ellipse cx="867.2" cy="1738.6" rx="7.8" ry="1.5" transform="rotate(151 867.2 1738.6)"/><ellipse cx="900.7" cy="1757.6" rx="10.1" ry="1.6" transform="rotate(138 900.7 1757.6)"/><ellipse cx="900.7" cy="1757.6" rx="8.8" ry="2.0" transform="rotate(45 900.7 1757.6)"/><ellipse cx="876.6" cy="1693.6" rx="7.6" ry="1.5" transform="rotate(110 876.6 1693.6)"/><ellipse cx="876.6" cy="1693.6" rx="11.4" ry="1.5" transform="rotate(131 876.6 1693.6)"/><ellipse cx="975.0" cy="1682.8" rx="7.4" ry="1.8" transform="rotate(77 975.0 1682.8)"/><ellipse cx="975.0" cy="1682.8" rx="10.6" ry="2.1" transform="rotate(97 975.0 1682.8)"/><ellipse cx="966.1" cy="1759.8" rx="11.6" ry="1.7" transform="rotate(151 966.1 1759.8)"/><ellipse cx="966.1" cy="1759.8" rx="10.8" ry="1.3" transform="rotate(18 966.1 1759.8)"/><ellipse cx="914.4" cy="1761.0" rx="10.0" ry="1.9" transform="rotate(19 914.4 1761.0)"/><ellipse cx="914.4" cy="1761.0" rx="7.6" ry="1.9" transform="rotate(144 914.4 1761.0)"/><ellipse cx="969.7" cy="1767.8" rx="6.1" ry="1.9" transform="rotate(81 969.7 1767.8)"/><ellipse cx="969.7" cy="1767.8" rx="8.2" ry="1.6" transform="rotate(119 969.7 1767.8)"/><ellipse cx="939.4" cy="1732.6" rx="10.8" ry="1.4" transform="rotate(24 939.4 1732.6)"/><ellipse cx="939.4" cy="1732.6" rx="10.7" ry="1.6" transform="rotate(39 939.4 1732.6)"/><ellipse cx="935.3" cy="1765.5" rx="9.1" ry="1.7" transform="rotate(112 935.3 1765.5)"/><ellipse cx="935.3" cy="1765.5" rx="8.9" ry="1.3" transform="rotate(111 935.3 1765.5)"/><ellipse cx="859.6" cy="1763.0" rx="9.2" ry="1.2" transform="rotate(91 859.6 1763.0)"/><ellipse cx="859.6" cy="1763.0" rx="11.9" ry="1.5" transform="rotate(0 859.6 1763.0)"/><ellipse cx="862.5" cy="1730.9" rx="6.6" ry="1.6" transform="rotate(20 862.5 1730.9)"/><ellipse cx="862.5" cy="1730.9" rx="11.0" ry="1.7" transform="rotate(158 862.5 1730.9)"/><ellipse cx="876.8" cy="1712.6" rx="10.1" ry="1.9" transform="rotate(134 876.8 1712.6)"/><ellipse cx="876.8" cy="1712.6" rx="8.2" ry="1.7" transform="rotate(160 876.8 1712.6)"/><ellipse cx="878.7" cy="1737.8" rx="10.5" ry="2.0" transform="rotate(132 878.7 1737.8)"/><ellipse cx="878.7" cy="1737.8" rx="10.1" ry="2.0" transform="rotate(15 878.7 1737.8)"/><ellipse cx="981.1" cy="1720.6" rx="9.6" ry="1.5" transform="rotate(113 981.1 1720.6)"/><ellipse cx="981.1" cy="1720.6" rx="7.4" ry="1.2" transform="rotate(64 981.1 1720.6)"/><ellipse cx="898.2" cy="1756.0" rx="6.4" ry="2.2" transform="rotate(12 898.2 1756.0)"/><ellipse cx="898.2" cy="1756.0" rx="11.6" ry="1.7" transform="rotate(96 898.2 1756.0)"/><ellipse cx="913.0" cy="1666.2" rx="10.4" ry="1.2" transform="rotate(120 913.0 1666.2)"/><ellipse cx="913.0" cy="1666.2" rx="6.5" ry="1.3" transform="rotate(109 913.0 1666.2)"/><ellipse cx="858.6" cy="1723.4" rx="11.3" ry="2.0" transform="rotate(48 858.6 1723.4)"/><ellipse cx="858.6" cy="1723.4" rx="7.7" ry="1.6" transform="rotate(25 858.6 1723.4)"/><ellipse cx="877.1" cy="1711.1" rx="8.0" ry="1.6" transform="rotate(41 877.1 1711.1)"/><ellipse cx="877.1" cy="1711.1" rx="11.7" ry="1.4" transform="rotate(140 877.1 1711.1)"/><ellipse cx="893.1" cy="1741.6" rx="7.2" ry="2.2" transform="rotate(123 893.1 1741.6)"/><ellipse cx="893.1" cy="1741.6" rx="10.0" ry="1.9" transform="rotate(153 893.1 1741.6)"/><ellipse cx="920.9" cy="1772.6" rx="6.3" ry="1.9" transform="rotate(59 920.9 1772.6)"/><ellipse cx="920.9" cy="1772.6" rx="11.4" ry="2.2" transform="rotate(4 920.9 1772.6)"/><ellipse cx="907.6" cy="1710.1" rx="7.2" ry="1.3" transform="rotate(144 907.6 1710.1)"/><ellipse cx="907.6" cy="1710.1" rx="11.4" ry="1.9" transform="rotate(128 907.6 1710.1)"/><ellipse cx="986.9" cy="1664.3" rx="7.9" ry="1.8" transform="rotate(87 986.9 1664.3)"/><ellipse cx="986.9" cy="1664.3" rx="6.9" ry="1.7" transform="rotate(63 986.9 1664.3)"/><ellipse cx="867.2" cy="1710.4" rx="10.1" ry="1.9" transform="rotate(101 867.2 1710.4)"/><ellipse cx="867.2" cy="1710.4" rx="8.9" ry="1.9" transform="rotate(57 867.2 1710.4)"/><ellipse cx="911.9" cy="1669.3" rx="10.3" ry="1.7" transform="rotate(166 911.9 1669.3)"/><ellipse cx="911.9" cy="1669.3" rx="8.7" ry="1.7" transform="rotate(4 911.9 1669.3)"/><ellipse cx="911.1" cy="1689.1" rx="9.3" ry="1.7" transform="rotate(99 911.1 1689.1)"/><ellipse cx="911.1" cy="1689.1" rx="9.2" ry="1.5" transform="rotate(76 911.1 1689.1)"/><ellipse cx="920.2" cy="1760.1" rx="8.1" ry="2.1" transform="rotate(143 920.2 1760.1)"/><ellipse cx="920.2" cy="1760.1" rx="10.3" ry="1.3" transform="rotate(171 920.2 1760.1)"/><ellipse cx="878.9" cy="1697.2" rx="11.1" ry="1.2" transform="rotate(147 878.9 1697.2)"/><ellipse cx="878.9" cy="1697.2" rx="10.5" ry="1.6" transform="rotate(133 878.9 1697.2)"/><ellipse cx="907.5" cy="1667.2" rx="6.1" ry="2.1" transform="rotate(50 907.5 1667.2)"/><ellipse cx="907.5" cy="1667.2" rx="10.6" ry="1.4" transform="rotate(65 907.5 1667.2)"/><ellipse cx="934.6" cy="1675.9" rx="7.7" ry="1.8" transform="rotate(138 934.6 1675.9)"/><ellipse cx="934.6" cy="1675.9" rx="8.3" ry="1.8" transform="rotate(46 934.6 1675.9)"/><ellipse cx="986.5" cy="1687.4" rx="7.8" ry="1.6" transform="rotate(30 986.5 1687.4)"/><ellipse cx="986.5" cy="1687.4" rx="8.3" ry="1.4" transform="rotate(70 986.5 1687.4)"/><ellipse cx="875.0" cy="1695.1" rx="10.5" ry="1.7" transform="rotate(22 875.0 1695.1)"/><ellipse cx="875.0" cy="1695.1" rx="7.2" ry="2.2" transform="rotate(146 875.0 1695.1)"/><ellipse cx="935.4" cy="1727.3" rx="6.1" ry="2.2" transform="rotate(15 935.4 1727.3)"/><ellipse cx="935.4" cy="1727.3" rx="9.0" ry="1.6" transform="rotate(61 935.4 1727.3)"/><ellipse cx="903.0" cy="1765.2" rx="11.6" ry="2.1" transform="rotate(39 903.0 1765.2)"/><ellipse cx="903.0" cy="1765.2" rx="9.3" ry="1.6" transform="rotate(89 903.0 1765.2)"/><ellipse cx="860.3" cy="1756.4" rx="9.6" ry="1.7" transform="rotate(136 860.3 1756.4)"/><ellipse cx="860.3" cy="1756.4" rx="11.2" ry="1.9" transform="rotate(15 860.3 1756.4)"/><ellipse cx="890.9" cy="1699.8" rx="10.4" ry="1.8" transform="rotate(57 890.9 1699.8)"/><ellipse cx="890.9" cy="1699.8" rx="6.8" ry="1.3" transform="rotate(15 890.9 1699.8)"/><ellipse cx="914.2" cy="1722.7" rx="7.6" ry="2.0" transform="rotate(121 914.2 1722.7)"/><ellipse cx="914.2" cy="1722.7" rx="9.1" ry="1.6" transform="rotate(169 914.2 1722.7)"/><ellipse cx="970.6" cy="1727.9" rx="8.3" ry="1.8" transform="rotate(51 970.6 1727.9)"/><ellipse cx="970.6" cy="1727.9" rx="7.3" ry="1.6" transform="rotate(59 970.6 1727.9)"/><ellipse cx="880.1" cy="1786.9" rx="9.8" ry="1.8" transform="rotate(35 880.1 1786.9)"/><ellipse cx="880.1" cy="1786.9" rx="10.0" ry="1.9" transform="rotate(14 880.1 1786.9)"/><ellipse cx="990.9" cy="1687.1" rx="9.7" ry="1.9" transform="rotate(33 990.9 1687.1)"/><ellipse cx="990.9" cy="1687.1" rx="10.5" ry="1.2" transform="rotate(51 990.9 1687.1)"/><ellipse cx="861.8" cy="1760.9" rx="7.9" ry="1.5" transform="rotate(37 861.8 1760.9)"/><ellipse cx="861.8" cy="1760.9" rx="8.3" ry="1.8" transform="rotate(155 861.8 1760.9)"/><ellipse cx="887.6" cy="1712.3" rx="10.5" ry="1.8" transform="rotate(34 887.6 1712.3)"/><ellipse cx="887.6" cy="1712.3" rx="9.5" ry="1.7" transform="rotate(91 887.6 1712.3)"/><ellipse cx="864.9" cy="1675.0" rx="6.8" ry="1.9" transform="rotate(102 864.9 1675.0)"/><ellipse cx="864.9" cy="1675.0" rx="7.5" ry="1.6" transform="rotate(11 864.9 1675.0)"/><ellipse cx="954.6" cy="1747.4" rx="7.7" ry="1.6" transform="rotate(17 954.6 1747.4)"/><ellipse cx="954.6" cy="1747.4" rx="8.3" ry="2.0" transform="rotate(124 954.6 1747.4)"/><ellipse cx="923.5" cy="1713.1" rx="10.5" ry="1.7" transform="rotate(106 923.5 1713.1)"/><ellipse cx="923.5" cy="1713.1" rx="10.7" ry="2.1" transform="rotate(64 923.5 1713.1)"/><ellipse cx="871.1" cy="1778.3" rx="6.3" ry="2.1" transform="rotate(33 871.1 1778.3)"/><ellipse cx="871.1" cy="1778.3" rx="9.5" ry="1.7" transform="rotate(89 871.1 1778.3)"/><ellipse cx="907.9" cy="1689.2" rx="9.1" ry="1.9" transform="rotate(77 907.9 1689.2)"/><ellipse cx="907.9" cy="1689.2" rx="10.0" ry="2.1" transform="rotate(118 907.9 1689.2)"/><ellipse cx="969.3" cy="1714.5" rx="11.2" ry="1.3" transform="rotate(96 969.3 1714.5)"/><ellipse cx="969.3" cy="1714.5" rx="6.3" ry="1.8" transform="rotate(20 969.3 1714.5)"/><ellipse cx="1007.4" cy="1747.1" rx="7.0" ry="2.2" transform="rotate(69 1007.4 1747.1)"/><ellipse cx="1007.4" cy="1747.1" rx="9.9" ry="1.4" transform="rotate(129 1007.4 1747.1)"/><ellipse cx="917.3" cy="1751.0" rx="6.6" ry="2.0" transform="rotate(3 917.3 1751.0)"/><ellipse cx="917.3" cy="1751.0" rx="7.3" ry="1.9" transform="rotate(33 917.3 1751.0)"/><ellipse cx="936.7" cy="1739.0" rx="8.1" ry="1.9" transform="rotate(79 936.7 1739.0)"/><ellipse cx="936.7" cy="1739.0" rx="11.6" ry="1.3" transform="rotate(66 936.7 1739.0)"/><ellipse cx="933.7" cy="1732.1" rx="8.5" ry="1.5" transform="rotate(108 933.7 1732.1)"/><ellipse cx="933.7" cy="1732.1" rx="7.3" ry="1.6" transform="rotate(3 933.7 1732.1)"/><ellipse cx="915.7" cy="1737.8" rx="7.5" ry="1.6" transform="rotate(125 915.7 1737.8)"/><ellipse cx="915.7" cy="1737.8" rx="8.3" ry="1.6" transform="rotate(95 915.7 1737.8)"/></g>
<g fill="#4a68dc" fill-opacity="0.68" filter="url(#blur1)"><ellipse cx="863.5" cy="1746.9" rx="3.0" ry="2.8" transform="rotate(1 863.5 1746.9)"/><ellipse cx="939.9" cy="1743.6" rx="3.9" ry="3.0" transform="rotate(124 939.9 1743.6)"/><ellipse cx="938.2" cy="1720.0" rx="3.7" ry="3.1" transform="rotate(163 938.2 1720.0)"/><ellipse cx="934.5" cy="1702.9" rx="3.8" ry="2.7" transform="rotate(122 934.5 1702.9)"/><ellipse cx="955.1" cy="1754.9" rx="3.0" ry="3.1" transform="rotate(134 955.1 1754.9)"/><ellipse cx="888.3" cy="1767.9" rx="3.3" ry="3.3" transform="rotate(127 888.3 1767.9)"/><ellipse cx="924.3" cy="1665.3" rx="4.0" ry="3.5" transform="rotate(85 924.3 1665.3)"/><ellipse cx="945.9" cy="1757.3" rx="2.6" ry="2.7" transform="rotate(85 945.9 1757.3)"/><ellipse cx="947.9" cy="1730.5" rx="4.1" ry="2.3" transform="rotate(52 947.9 1730.5)"/><ellipse cx="950.7" cy="1666.3" rx="3.7" ry="2.8" transform="rotate(107 950.7 1666.3)"/><ellipse cx="961.8" cy="1779.1" rx="3.6" ry="2.9" transform="rotate(83 961.8 1779.1)"/><ellipse cx="873.5" cy="1736.9" rx="4.0" ry="3.3" transform="rotate(84 873.5 1736.9)"/><ellipse cx="982.9" cy="1675.0" rx="3.1" ry="3.4" transform="rotate(71 982.9 1675.0)"/><ellipse cx="922.9" cy="1677.6" rx="3.2" ry="3.4" transform="rotate(35 922.9 1677.6)"/><ellipse cx="1031.1" cy="1727.3" rx="3.1" ry="3.0" transform="rotate(149 1031.1 1727.3)"/><ellipse cx="965.0" cy="1663.7" rx="2.8" ry="3.0" transform="rotate(5 965.0 1663.7)"/><ellipse cx="872.1" cy="1742.6" rx="2.8" ry="3.0" transform="rotate(66 872.1 1742.6)"/><ellipse cx="936.4" cy="1657.5" rx="4.2" ry="2.6" transform="rotate(168 936.4 1657.5)"/><ellipse cx="1019.3" cy="1785.0" rx="3.0" ry="2.7" transform="rotate(141 1019.3 1785.0)"/><ellipse cx="946.3" cy="1779.7" rx="4.2" ry="2.6" transform="rotate(125 946.3 1779.7)"/><ellipse cx="984.9" cy="1664.9" rx="3.3" ry="2.6" transform="rotate(102 984.9 1664.9)"/><ellipse cx="960.3" cy="1687.7" rx="4.1" ry="2.4" transform="rotate(49 960.3 1687.7)"/><ellipse cx="890.1" cy="1676.5" rx="3.4" ry="2.5" transform="rotate(29 890.1 1676.5)"/><ellipse cx="983.8" cy="1783.4" rx="3.0" ry="3.2" transform="rotate(37 983.8 1783.4)"/><ellipse cx="1029.3" cy="1682.5" rx="3.6" ry="2.9" transform="rotate(126 1029.3 1682.5)"/><ellipse cx="897.1" cy="1714.6" rx="4.5" ry="2.8" transform="rotate(154 897.1 1714.6)"/><ellipse cx="861.5" cy="1726.5" rx="4.4" ry="3.3" transform="rotate(21 861.5 1726.5)"/><ellipse cx="948.6" cy="1776.6" rx="3.7" ry="2.9" transform="rotate(119 948.6 1776.6)"/><ellipse cx="880.0" cy="1756.2" rx="3.7" ry="2.7" transform="rotate(75 880.0 1756.2)"/><ellipse cx="857.7" cy="1747.3" rx="4.0" ry="2.9" transform="rotate(72 857.7 1747.3)"/><ellipse cx="968.7" cy="1679.6" rx="3.8" ry="2.9" transform="rotate(145 968.7 1679.6)"/><ellipse cx="859.3" cy="1703.4" rx="4.2" ry="2.6" transform="rotate(156 859.3 1703.4)"/><ellipse cx="903.6" cy="1670.5" rx="2.8" ry="2.4" transform="rotate(58 903.6 1670.5)"/><ellipse cx="981.3" cy="1679.4" rx="3.4" ry="3.3" transform="rotate(64 981.3 1679.4)"/><ellipse cx="904.9" cy="1747.3" rx="3.3" ry="3.2" transform="rotate(64 904.9 1747.3)"/><ellipse cx="973.2" cy="1662.3" rx="2.7" ry="2.6" transform="rotate(35 973.2 1662.3)"/><ellipse cx="882.2" cy="1682.6" rx="4.3" ry="2.9" transform="rotate(99 882.2 1682.6)"/><ellipse cx="942.2" cy="1739.3" rx="2.9" ry="3.3" transform="rotate(22 942.2 1739.3)"/><ellipse cx="977.0" cy="1692.9" rx="4.1" ry="2.6" transform="rotate(146 977.0 1692.9)"/><ellipse cx="936.6" cy="1776.3" rx="3.4" ry="2.8" transform="rotate(21 936.6 1776.3)"/><ellipse cx="955.4" cy="1767.2" rx="3.8" ry="3.5" transform="rotate(83 955.4 1767.2)"/><ellipse cx="987.0" cy="1722.7" rx="3.6" ry="3.2" transform="rotate(16 987.0 1722.7)"/><ellipse cx="895.1" cy="1778.8" rx="3.8" ry="2.7" transform="rotate(167 895.1 1778.8)"/><ellipse cx="1004.2" cy="1734.7" rx="3.1" ry="2.3" transform="rotate(176 1004.2 1734.7)"/><ellipse cx="876.1" cy="1772.1" rx="4.0" ry="3.4" transform="rotate(61 876.1 1772.1)"/><ellipse cx="949.6" cy="1687.1" rx="4.5" ry="3.3" transform="rotate(45 949.6 1687.1)"/><ellipse cx="939.8" cy="1692.7" rx="4.3" ry="2.8" transform="rotate(37 939.8 1692.7)"/><ellipse cx="936.4" cy="1688.5" rx="4.2" ry="3.2" transform="rotate(114 936.4 1688.5)"/><ellipse cx="912.4" cy="1760.5" rx="2.7" ry="3.5" transform="rotate(161 912.4 1760.5)"/><ellipse cx="899.8" cy="1732.9" rx="4.3" ry="3.5" transform="rotate(59 899.8 1732.9)"/><ellipse cx="865.4" cy="1677.0" rx="4.1" ry="2.6" transform="rotate(137 865.4 1677.0)"/><ellipse cx="998.6" cy="1681.3" rx="3.7" ry="2.8" transform="rotate(98 998.6 1681.3)"/><ellipse cx="880.7" cy="1765.5" rx="4.5" ry="3.0" transform="rotate(85 880.7 1765.5)"/><ellipse cx="993.0" cy="1686.9" rx="2.8" ry="2.8" transform="rotate(170 993.0 1686.9)"/><ellipse cx="981.4" cy="1705.7" rx="3.6" ry="2.9" transform="rotate(177 981.4 1705.7)"/><ellipse cx="935.7" cy="1714.7" rx="4.0" ry="3.3" transform="rotate(80 935.7 1714.7)"/><ellipse cx="973.4" cy="1666.8" rx="3.9" ry="3.2" transform="rotate(167 973.4 1666.8)"/><ellipse cx="944.2" cy="1763.5" rx="3.6" ry="2.2" transform="rotate(62 944.2 1763.5)"/><ellipse cx="976.7" cy="1680.2" rx="3.6" ry="2.3" transform="rotate(53 976.7 1680.2)"/><ellipse cx="979.2" cy="1726.2" rx="3.3" ry="2.2" transform="rotate(74 979.2 1726.2)"/><ellipse cx="1027.8" cy="1701.0" rx="4.2" ry="3.1" transform="rotate(178 1027.8 1701.0)"/><ellipse cx="916.2" cy="1658.1" rx="3.9" ry="3.4" transform="rotate(49 916.2 1658.1)"/><ellipse cx="893.5" cy="1768.5" rx="4.3" ry="3.4" transform="rotate(52 893.5 1768.5)"/><ellipse cx="867.2" cy="1738.6" rx="3.2" ry="3.3" transform="rotate(150 867.2 1738.6)"/><ellipse cx="900.7" cy="1757.6" rx="3.9" ry="3.3" transform="rotate(81 900.7 1757.6)"/><ellipse cx="876.6" cy="1693.6" rx="4.4" ry="2.5" transform="rotate(125 876.6 1693.6)"/><ellipse cx="975.0" cy="1682.8" rx="2.6" ry="2.2" transform="rotate(12 975.0 1682.8)"/><ellipse cx="966.1" cy="1759.8" rx="3.6" ry="3.2" transform="rotate(154 966.1 1759.8)"/><ellipse cx="914.4" cy="1761.0" rx="3.7" ry="2.7" transform="rotate(165 914.4 1761.0)"/><ellipse cx="969.7" cy="1767.8" rx="3.5" ry="3.2" transform="rotate(174 969.7 1767.8)"/><ellipse cx="939.4" cy="1732.6" rx="3.0" ry="2.7" transform="rotate(157 939.4 1732.6)"/><ellipse cx="935.3" cy="1765.5" rx="3.7" ry="3.4" transform="rotate(3 935.3 1765.5)"/><ellipse cx="859.6" cy="1763.0" rx="4.1" ry="3.1" transform="rotate(114 859.6 1763.0)"/><ellipse cx="862.5" cy="1730.9" rx="2.8" ry="2.6" transform="rotate(165 862.5 1730.9)"/><ellipse cx="876.8" cy="1712.6" rx="3.3" ry="3.4" transform="rotate(63 876.8 1712.6)"/><ellipse cx="878.7" cy="1737.8" rx="3.7" ry="3.1" transform="rotate(32 878.7 1737.8)"/><ellipse cx="981.1" cy="1720.6" rx="4.2" ry="2.4" transform="rotate(29 981.1 1720.6)"/><ellipse cx="898.2" cy="1756.0" rx="2.9" ry="2.7" transform="rotate(4 898.2 1756.0)"/><ellipse cx="913.0" cy="1666.2" rx="2.5" ry="3.1" transform="rotate(125 913.0 1666.2)"/><ellipse cx="858.6" cy="1723.4" rx="3.8" ry="2.2" transform="rotate(87 858.6 1723.4)"/><ellipse cx="877.1" cy="1711.1" rx="3.9" ry="2.5" transform="rotate(45 877.1 1711.1)"/><ellipse cx="893.1" cy="1741.6" rx="2.9" ry="2.3" transform="rotate(151 893.1 1741.6)"/><ellipse cx="920.9" cy="1772.6" rx="3.8" ry="2.5" transform="rotate(79 920.9 1772.6)"/><ellipse cx="907.6" cy="1710.1" rx="2.8" ry="3.3" transform="rotate(177 907.6 1710.1)"/><ellipse cx="986.9" cy="1664.3" rx="3.5" ry="2.4" transform="rotate(42 986.9 1664.3)"/><ellipse cx="867.2" cy="1710.4" rx="3.6" ry="3.4" transform="rotate(30 867.2 1710.4)"/><ellipse cx="911.9" cy="1669.3" rx="3.7" ry="2.8" transform="rotate(41 911.9 1669.3)"/><ellipse cx="911.1" cy="1689.1" rx="4.4" ry="2.5" transform="rotate(153 911.1 1689.1)"/><ellipse cx="920.2" cy="1760.1" rx="3.6" ry="2.6" transform="rotate(146 920.2 1760.1)"/><ellipse cx="878.9" cy="1697.2" rx="3.4" ry="3.3" transform="rotate(40 878.9 1697.2)"/><ellipse cx="907.5" cy="1667.2" rx="3.3" ry="3.3" transform="rotate(73 907.5 1667.2)"/><ellipse cx="934.6" cy="1675.9" rx="3.9" ry="3.1" transform="rotate(101 934.6 1675.9)"/><ellipse cx="986.5" cy="1687.4" rx="3.8" ry="2.6" transform="rotate(70 986.5 1687.4)"/><ellipse cx="875.0" cy="1695.1" rx="4.0" ry="2.5" transform="rotate(25 875.0 1695.1)"/><ellipse cx="935.4" cy="1727.3" rx="4.3" ry="2.5" transform="rotate(30 935.4 1727.3)"/><ellipse cx="903.0" cy="1765.2" rx="3.6" ry="2.4" transform="rotate(45 903.0 1765.2)"/><ellipse cx="860.3" cy="1756.4" rx="3.0" ry="2.9" transform="rotate(146 860.3 1756.4)"/><ellipse cx="890.9" cy="1699.8" rx="3.9" ry="2.5" transform="rotate(82 890.9 1699.8)"/><ellipse cx="914.2" cy="1722.7" rx="2.7" ry="2.6" transform="rotate(134 914.2 1722.7)"/><ellipse cx="970.6" cy="1727.9" rx="4.1" ry="2.8" transform="rotate(104 970.6 1727.9)"/><ellipse cx="880.1" cy="1786.9" rx="3.6" ry="2.4" transform="rotate(168 880.1 1786.9)"/><ellipse cx="990.9" cy="1687.1" rx="3.0" ry="3.1" transform="rotate(31 990.9 1687.1)"/><ellipse cx="861.8" cy="1760.9" rx="3.8" ry="2.6" transform="rotate(63 861.8 1760.9)"/><ellipse cx="887.6" cy="1712.3" rx="2.9" ry="3.5" transform="rotate(171 887.6 1712.3)"/><ellipse cx="864.9" cy="1675.0" rx="2.9" ry="2.9" transform="rotate(73 864.9 1675.0)"/><ellipse cx="954.6" cy="1747.4" rx="2.5" ry="3.5" transform="rotate(144 954.6 1747.4)"/><ellipse cx="923.5" cy="1713.1" rx="2.6" ry="3.0" transform="rotate(2 923.5 1713.1)"/><ellipse cx="871.1" cy="1778.3" rx="3.2" ry="2.5" transform="rotate(30 871.1 1778.3)"/><ellipse cx="907.9" cy="1689.2" rx="2.9" ry="3.5" transform="rotate(134 907.9 1689.2)"/><ellipse cx="969.3" cy="1714.5" rx="4.4" ry="2.4" transform="rotate(70 969.3 1714.5)"/><ellipse cx="1007.4" cy="1747.1" rx="2.8" ry="2.8" transform="rotate(68 1007.4 1747.1)"/><ellipse cx="917.3" cy="1751.0" rx="2.8" ry="3.0" transform="rotate(17 917.3 1751.0)"/><ellipse cx="936.7" cy="1739.0" rx="3.2" ry="2.9" transform="rotate(67 936.7 1739.0)"/><ellipse cx="933.7" cy="1732.1" rx="2.9" ry="2.9" transform="rotate(163 933.7 1732.1)"/><ellipse cx="915.7" cy="1737.8" rx="4.2" ry="3.1" transform="rotate(135 915.7 1737.8)"/></g>
<path d="M861.9 1747.5a1.8 1.8 0 1 0 .1 0zM954.1 1755.2a1.4 1.4 0 1 0 .1 0zM922.2 1666.6a1.3 1.3 0 1 0 .1 0zM872.2 1736.6a1.7 1.7 0 1 0 .1 0zM870.0 1741.6a1.4 1.4 0 1 0 .1 0zM887.9 1675.1a1.5 1.5 0 1 0 .1 0zM878.8 1754.9a1.6 1.6 0 1 0 .1 0zM856.7 1703.9a1.3 1.3 0 1 0 .1 0zM942.2 1740.3a1.4 1.4 0 1 0 .1 0zM947.5 1686.7a1.9 1.9 0 1 0 .1 0zM910.5 1759.4a1.3 1.3 0 1 0 .1 0zM898.8 1732.3a1.8 1.8 0 1 0 .1 0zM879.3 1765.0a1.6 1.6 0 1 0 .1 0zM934.6 1714.8a1.6 1.6 0 1 0 .1 0zM941.6 1763.7a1.4 1.4 0 1 0 .1 0zM897.8 1759.0a1.7 1.7 0 1 0 .1 0zM972.8 1682.1a1.8 1.8 0 1 0 .1 0zM911.4 1760.3a1.7 1.7 0 1 0 .1 0zM934.2 1764.3a1.7 1.7 0 1 0 .1 0zM912.0 1666.7a1.6 1.6 0 1 0 .1 0zM891.1 1740.2a1.9 1.9 0 1 0 .1 0zM907.2 1709.5a1.8 1.8 0 1 0 .1 0zM920.2 1759.7a1.3 1.3 0 1 0 .1 0zM876.5 1697.3a1.6 1.6 0 1 0 .1 0zM904.7 1665.9a1.9 1.9 0 1 0 .1 0zM985.9 1687.4a1.4 1.4 0 1 0 .1 0zM902.3 1766.4a1.5 1.5 0 1 0 .1 0zM860.4 1759.5a1.3 1.3 0 1 0 .1 0zM922.9 1712.6a1.4 1.4 0 1 0 .1 0zM1005.9 1746.4a1.4 1.4 0 1 0 .1 0zM934.5 1738.0a1.8 1.8 0 1 0 .1 0zM933.3 1733.1a1.8 1.8 0 1 0 .1 0z" fill="#24309a" fill-opacity="0.55" filter="url(#blur05)"/>
<path d="M943.4 1758.0a1.6 1.6 0 1 0 .1 0zM987.2 1696.6a1.6 1.6 0 1 0 .1 0zM1006.9 1663.0a1.6 1.6 0 1 0 .1 0zM885.6 1775.9a1.6 1.6 0 1 0 .1 0zM864.5 1734.1a1.6 1.6 0 1 0 .1 0zM908.9 1754.3a1.6 1.6 0 1 0 .1 0zM1022.7 1707.5a1.6 1.6 0 1 0 .1 0zM986.9 1759.4a1.6 1.6 0 1 0 .1 0zM876.4 1677.3a1.6 1.6 0 1 0 .1 0zM984.3 1761.9a1.6 1.6 0 1 0 .1 0zM949.2 1746.4a1.6 1.6 0 1 0 .1 0zM896.9 1666.3a1.6 1.6 0 1 0 .1 0zM998.1 1667.1a1.6 1.6 0 1 0 .1 0zM938.8 1670.3a1.6 1.6 0 1 0 .1 0zM973.7 1752.9a1.6 1.6 0 1 0 .1 0zM1021.3 1776.8a1.6 1.6 0 1 0 .1 0zM935.4 1755.0a1.6 1.6 0 1 0 .1 0zM896.6 1664.6a1.6 1.6 0 1 0 .1 0zM895.9 1704.0a1.6 1.6 0 1 0 .1 0zM907.5 1787.1a1.6 1.6 0 1 0 .1 0zM878.9 1670.3a1.6 1.6 0 1 0 .1 0zM977.9 1673.9a1.6 1.6 0 1 0 .1 0zM886.3 1749.4a1.6 1.6 0 1 0 .1 0zM970.1 1699.9a1.6 1.6 0 1 0 .1 0zM877.3 1684.1a1.6 1.6 0 1 0 .1 0zM877.3 1673.0a1.6 1.6 0 1 0 .1 0zM857.6 1780.9a1.6 1.6 0 1 0 .1 0zM980.0 1733.4a1.6 1.6 0 1 0 .1 0zM951.9 1722.3a1.6 1.6 0 1 0 .1 0zM868.1 1777.7a1.6 1.6 0 1 0 .1 0zM902.8 1723.7a1.6 1.6 0 1 0 .1 0zM927.5 1777.6a1.6 1.6 0 1 0 .1 0zM971.3 1764.6a1.6 1.6 0 1 0 .1 0zM889.8 1690.2a1.6 1.6 0 1 0 .1 0zM990.4 1765.9a1.6 1.6 0 1 0 .1 0zM998.8 1663.3a1.6 1.6 0 1 0 .1 0zM933.6 1742.9a1.6 1.6 0 1 0 .1 0zM986.3 1762.0a1.6 1.6 0 1 0 .1 0zM900.8 1747.5a1.6 1.6 0 1 0 .1 0zM940.5 1785.9a1.6 1.6 0 1 0 .1 0zM917.5 1726.1a1.6 1.6 0 1 0 .1 0zM996.2 1726.1a1.6 1.6 0 1 0 .1 0zM875.3 1750.1a1.6 1.6 0 1 0 .1 0zM944.5 1658.5a1.6 1.6 0 1 0 .1 0zM1007.7 1737.8a1.6 1.6 0 1 0 .1 0zM873.9 1761.8a1.6 1.6 0 1 0 .1 0zM884.7 1762.5a1.6 1.6 0 1 0 .1 0zM892.4 1775.4a1.6 1.6 0 1 0 .1 0zM861.3 1708.6a1.6 1.6 0 1 0 .1 0zM923.2 1664.4a1.6 1.6 0 1 0 .1 0zM1018.7 1688.4a1.6 1.6 0 1 0 .1 0zM962.9 1779.2a1.6 1.6 0 1 0 .1 0zM1010.9 1714.8a1.6 1.6 0 1 0 .1 0zM1015.4 1703.5a1.6 1.6 0 1 0 .1 0zM973.2 1701.5a1.6 1.6 0 1 0 .1 0zM1007.6 1670.1a1.6 1.6 0 1 0 .1 0zM879.5 1741.0a1.6 1.6 0 1 0 .1 0zM1030.2 1663.8a1.6 1.6 0 1 0 .1 0zM910.8 1674.7a1.6 1.6 0 1 0 .1 0zM916.6 1690.3a1.6 1.6 0 1 0 .1 0zM979.4 1749.6a1.6 1.6 0 1 0 .1 0zM878.0 1665.2a1.6 1.6 0 1 0 .1 0zM876.3 1734.8a1.6 1.6 0 1 0 .1 0zM878.3 1753.3a1.6 1.6 0 1 0 .1 0zM1012.8 1676.0a1.6 1.6 0 1 0 .1 0zM1003.4 1726.1a1.6 1.6 0 1 0 .1 0zM920.7 1733.4a1.6 1.6 0 1 0 .1 0zM898.9 1763.1a1.6 1.6 0 1 0 .1 0zM919.3 1653.9a1.6 1.6 0 1 0 .1 0zM975.5 1700.7a1.6 1.6 0 1 0 .1 0zM996.6 1775.5a1.6 1.6 0 1 0 .1 0zM1028.8 1674.8a1.6 1.6 0 1 0 .1 0zM893.6 1731.4a1.6 1.6 0 1 0 .1 0zM1011.3 1717.8a1.6 1.6 0 1 0 .1 0zM936.9 1779.1a1.6 1.6 0 1 0 .1 0zM1001.4 1709.6a1.6 1.6 0 1 0 .1 0zM898.2 1698.9a1.6 1.6 0 1 0 .1 0zM925.1 1658.1a1.6 1.6 0 1 0 .1 0zM889.1 1776.4a1.6 1.6 0 1 0 .1 0zM1016.5 1713.4a1.6 1.6 0 1 0 .1 0zM937.6 1721.0a1.6 1.6 0 1 0 .1 0zM957.8 1749.2a1.6 1.6 0 1 0 .1 0zM872.2 1659.3a1.6 1.6 0 1 0 .1 0zM1017.3 1685.1a1.6 1.6 0 1 0 .1 0zM945.1 1787.7a1.6 1.6 0 1 0 .1 0zM916.9 1719.8a1.6 1.6 0 1 0 .1 0zM995.9 1712.6a1.6 1.6 0 1 0 .1 0zM1006.2 1779.0a1.6 1.6 0 1 0 .1 0zM1027.0 1674.1a1.6 1.6 0 1 0 .1 0zM910.1 1739.8a1.6 1.6 0 1 0 .1 0zM1034.7 1726.3a1.6 1.6 0 1 0 .1 0zM926.9 1729.9a1.6 1.6 0 1 0 .1 0zM912.7 1769.9a1.6 1.6 0 1 0 .1 0zM970.3 1678.3a1.6 1.6 0 1 0 .1 0zM1014.3 1660.0a1.6 1.6 0 1 0 .1 0zM1032.1 1686.6a1.6 1.6 0 1 0 .1 0zM928.4 1731.6a1.6 1.6 0 1 0 .1 0zM968.0 1682.2a1.6 1.6 0 1 0 .1 0zM1008.5 1783.0a1.6 1.6 0 1 0 .1 0zM959.7 1764.4a1.6 1.6 0 1 0 .1 0zM918.7 1745.5a1.6 1.6 0 1 0 .1 0zM909.6 1759.2a1.6 1.6 0 1 0 .1 0zM898.3 1716.5a1.6 1.6 0 1 0 .1 0zM873.2 1746.1a1.6 1.6 0 1 0 .1 0zM920.5 1713.4a1.6 1.6 0 1 0 .1 0zM1007.9 1693.0a1.6 1.6 0 1 0 .1 0zM898.8 1707.6a1.6 1.6 0 1 0 .1 0zM968.2 1712.2a1.6 1.6 0 1 0 .1 0zM1026.6 1710.1a1.6 1.6 0 1 0 .1 0zM991.9 1767.7a1.6 1.6 0 1 0 .1 0zM960.2 1666.2a1.6 1.6 0 1 0 .1 0zM956.1 1699.3a1.6 1.6 0 1 0 .1 0zM962.5 1696.2a1.6 1.6 0 1 0 .1 0zM877.6 1738.8a1.6 1.6 0 1 0 .1 0zM984.3 1721.5a1.6 1.6 0 1 0 .1 0zM899.7 1777.9a1.6 1.6 0 1 0 .1 0zM965.5 1655.9a1.6 1.6 0 1 0 .1 0zM971.0 1680.3a1.6 1.6 0 1 0 .1 0zM970.3 1729.9a1.6 1.6 0 1 0 .1 0zM912.4 1694.0a1.6 1.6 0 1 0 .1 0zM881.5 1681.1a1.6 1.6 0 1 0 .1 0zM974.3 1753.9a1.6 1.6 0 1 0 .1 0zM911.7 1766.5a1.6 1.6 0 1 0 .1 0zM933.1 1749.1a1.6 1.6 0 1 0 .1 0zM968.0 1690.8a1.6 1.6 0 1 0 .1 0zM906.5 1703.8a1.6 1.6 0 1 0 .1 0zM967.9 1749.0a1.6 1.6 0 1 0 .1 0zM1003.5 1723.7a1.6 1.6 0 1 0 .1 0zM888.4 1767.1a1.6 1.6 0 1 0 .1 0zM914.1 1743.7a1.6 1.6 0 1 0 .1 0z" fill="#b8aeb0" fill-opacity="0.6" stroke="#7a6c66" stroke-width="0.8" stroke-opacity="0.85"/>
</g>
<g clip-path="url(#iv44)">
<rect x="1072.7" y="1652.3" width="180.1" height="135.9" fill="#d9d3ee"/>
<rect x="1072.7" y="1652.3" width="180.1" height="135.9" fill="url(#lavg)"/>
<g fill="#5474dc" fill-opacity="0.22" filter="url(#blur15)"><ellipse cx="1104.5" cy="1682.9" rx="8.6" ry="1.6" transform="rotate(102 1104.5 1682.9)"/><ellipse cx="1104.5" cy="1682.9" rx="6.2" ry="1.5" transform="rotate(59 1104.5 1682.9)"/><ellipse cx="1093.7" cy="1653.5" rx="9.2" ry="1.8" transform="rotate(114 1093.7 1653.5)"/><ellipse cx="1093.7" cy="1653.5" rx="6.3" ry="2.0" transform="rotate(29 1093.7 1653.5)"/><ellipse cx="1165.2" cy="1786.8" rx="9.9" ry="2.2" transform="rotate(128 1165.2 1786.8)"/><ellipse cx="1165.2" cy="1786.8" rx="10.4" ry="1.5" transform="rotate(55 1165.2 1786.8)"/><ellipse cx="1140.9" cy="1707.3" rx="11.4" ry="1.7" transform="rotate(108 1140.9 1707.3)"/><ellipse cx="1140.9" cy="1707.3" rx="11.9" ry="1.7" transform="rotate(111 1140.9 1707.3)"/><ellipse cx="1183.9" cy="1667.5" rx="11.7" ry="1.9" transform="rotate(43 1183.9 1667.5)"/><ellipse cx="1183.9" cy="1667.5" rx="7.6" ry="1.2" transform="rotate(59 1183.9 1667.5)"/><ellipse cx="1089.7" cy="1782.6" rx="11.9" ry="1.8" transform="rotate(16 1089.7 1782.6)"/><ellipse cx="1089.7" cy="1782.6" rx="7.4" ry="2.0" transform="rotate(140 1089.7 1782.6)"/><ellipse cx="1185.3" cy="1784.1" rx="11.2" ry="1.7" transform="rotate(127 1185.3 1784.1)"/><ellipse cx="1185.3" cy="1784.1" rx="9.4" ry="1.3" transform="rotate(165 1185.3 1784.1)"/><ellipse cx="1106.7" cy="1687.4" rx="7.8" ry="2.1" transform="rotate(164 1106.7 1687.4)"/><ellipse cx="1106.7" cy="1687.4" rx="8.4" ry="1.7" transform="rotate(99 1106.7 1687.4)"/><ellipse cx="1151.3" cy="1657.4" rx="6.5" ry="1.2" transform="rotate(67 1151.3 1657.4)"/><ellipse cx="1151.3" cy="1657.4" rx="11.4" ry="1.5" transform="rotate(15 1151.3 1657.4)"/><ellipse cx="1205.4" cy="1741.1" rx="8.4" ry="1.8" transform="rotate(4 1205.4 1741.1)"/><ellipse cx="1205.4" cy="1741.1" rx="11.5" ry="1.6" transform="rotate(114 1205.4 1741.1)"/><ellipse cx="1222.3" cy="1738.0" rx="6.1" ry="1.4" transform="rotate(172 1222.3 1738.0)"/><ellipse cx="1222.3" cy="1738.0" rx="9.9" ry="1.6" transform="rotate(88 1222.3 1738.0)"/><ellipse cx="1170.0" cy="1684.0" rx="9.3" ry="1.2" transform="rotate(141 1170.0 1684.0)"/><ellipse cx="1170.0" cy="1684.0" rx="9.8" ry="1.5" transform="rotate(70 1170.0 1684.0)"/><ellipse cx="1215.7" cy="1745.2" rx="9.9" ry="1.7" transform="rotate(33 1215.7 1745.2)"/><ellipse cx="1215.7" cy="1745.2" rx="11.7" ry="1.5" transform="rotate(178 1215.7 1745.2)"/><ellipse cx="1220.3" cy="1766.4" rx="7.1" ry="1.6" transform="rotate(6 1220.3 1766.4)"/><ellipse cx="1220.3" cy="1766.4" rx="8.6" ry="1.3" transform="rotate(76 1220.3 1766.4)"/><ellipse cx="1101.0" cy="1682.6" rx="8.5" ry="2.0" transform="rotate(54 1101.0 1682.6)"/><ellipse cx="1101.0" cy="1682.6" rx="9.8" ry="1.6" transform="rotate(21 1101.0 1682.6)"/><ellipse cx="1208.4" cy="1740.2" rx="10.1" ry="1.4" transform="rotate(139 1208.4 1740.2)"/><ellipse cx="1208.4" cy="1740.2" rx="8.2" ry="2.0" transform="rotate(127 1208.4 1740.2)"/><ellipse cx="1251.8" cy="1700.8" rx="7.9" ry="1.7" transform="rotate(4 1251.8 1700.8)"/><ellipse cx="1251.8" cy="1700.8" rx="8.3" ry="1.8" transform="rotate(53 1251.8 1700.8)"/><ellipse cx="1182.0" cy="1660.4" rx="11.2" ry="1.5" transform="rotate(43 1182.0 1660.4)"/><ellipse cx="1182.0" cy="1660.4" rx="11.8" ry="1.3" transform="rotate(124 1182.0 1660.4)"/><ellipse cx="1081.3" cy="1737.0" rx="7.1" ry="1.7" transform="rotate(158 1081.3 1737.0)"/><ellipse cx="1081.3" cy="1737.0" rx="11.6" ry="1.5" transform="rotate(21 1081.3 1737.0)"/><ellipse cx="1184.3" cy="1692.2" rx="11.8" ry="1.3" transform="rotate(93 1184.3 1692.2)"/><ellipse cx="1184.3" cy="1692.2" rx="10.2" ry="1.2" transform="rotate(14 1184.3 1692.2)"/><ellipse cx="1121.7" cy="1653.2" rx="7.5" ry="1.2" transform="rotate(23 1121.7 1653.2)"/><ellipse cx="1121.7" cy="1653.2" rx="6.3" ry="2.1" transform="rotate(62 1121.7 1653.2)"/><ellipse cx="1196.7" cy="1737.4" rx="6.2" ry="1.9" transform="rotate(92 1196.7 1737.4)"/><ellipse cx="1196.7" cy="1737.4" rx="11.3" ry="1.2" transform="rotate(43 1196.7 1737.4)"/><ellipse cx="1224.1" cy="1765.2" rx="8.2" ry="2.0" transform="rotate(22 1224.1 1765.2)"/><ellipse cx="1224.1" cy="1765.2" rx="11.8" ry="1.4" transform="rotate(168 1224.1 1765.2)"/><ellipse cx="1245.8" cy="1688.0" rx="11.1" ry="2.0" transform="rotate(67 1245.8 1688.0)"/><ellipse cx="1245.8" cy="1688.0" rx="6.5" ry="1.2" transform="rotate(169 1245.8 1688.0)"/><ellipse cx="1165.0" cy="1769.8" rx="11.1" ry="1.9" transform="rotate(72 1165.0 1769.8)"/><ellipse cx="1165.0" cy="1769.8" rx="10.1" ry="1.6" transform="rotate(75 1165.0 1769.8)"/><ellipse cx="1171.1" cy="1718.6" rx="7.7" ry="2.0" transform="rotate(150 1171.1 1718.6)"/><ellipse cx="1171.1" cy="1718.6" rx="9.5" ry="1.5" transform="rotate(27 1171.1 1718.6)"/><ellipse cx="1126.7" cy="1707.1" rx="7.6" ry="1.2" transform="rotate(61 1126.7 1707.1)"/><ellipse cx="1126.7" cy="1707.1" rx="10.0" ry="1.9" transform="rotate(17 1126.7 1707.1)"/><ellipse cx="1242.5" cy="1662.2" rx="8.6" ry="1.8" transform="rotate(118 1242.5 1662.2)"/><ellipse cx="1242.5" cy="1662.2" rx="11.9" ry="1.6" transform="rotate(143 1242.5 1662.2)"/><ellipse cx="1242.6" cy="1741.6" rx="10.9" ry="2.0" transform="rotate(135 1242.6 1741.6)"/><ellipse cx="1242.6" cy="1741.6" rx="7.4" ry="2.0" transform="rotate(121 1242.6 1741.6)"/><ellipse cx="1087.9" cy="1774.9" rx="10.4" ry="1.9" transform="rotate(101 1087.9 1774.9)"/><ellipse cx="1087.9" cy="1774.9" rx="6.4" ry="2.0" transform="rotate(37 1087.9 1774.9)"/><ellipse cx="1116.5" cy="1747.6" rx="6.1" ry="1.2" transform="rotate(120 1116.5 1747.6)"/><ellipse cx="1116.5" cy="1747.6" rx="9.9" ry="1.3" transform="rotate(76 1116.5 1747.6)"/><ellipse cx="1085.8" cy="1689.2" rx="8.1" ry="1.8" transform="rotate(125 1085.8 1689.2)"/><ellipse cx="1085.8" cy="1689.2" rx="7.4" ry="1.3" transform="rotate(49 1085.8 1689.2)"/><ellipse cx="1097.8" cy="1780.6" rx="9.7" ry="1.3" transform="rotate(124 1097.8 1780.6)"/><ellipse cx="1097.8" cy="1780.6" rx="11.0" ry="1.5" transform="rotate(20 1097.8 1780.6)"/><ellipse cx="1114.4" cy="1733.5" rx="11.9" ry="2.0" transform="rotate(167 1114.4 1733.5)"/><ellipse cx="1114.4" cy="1733.5" rx="6.6" ry="2.0" transform="rotate(25 1114.4 1733.5)"/><ellipse cx="1130.2" cy="1696.5" rx="6.2" ry="1.3" transform="rotate(75 1130.2 1696.5)"/><ellipse cx="1130.2" cy="1696.5" rx="7.5" ry="1.2" transform="rotate(51 1130.2 1696.5)"/><ellipse cx="1141.5" cy="1783.1" rx="6.3" ry="1.5" transform="rotate(129 1141.5 1783.1)"/><ellipse cx="1141.5" cy="1783.1" rx="10.5" ry="2.0" transform="rotate(126 1141.5 1783.1)"/><ellipse cx="1196.4" cy="1713.3" rx="7.0" ry="1.8" transform="rotate(43 1196.4 1713.3)"/><ellipse cx="1196.4" cy="1713.3" rx="10.4" ry="1.9" transform="rotate(145 1196.4 1713.3)"/><ellipse cx="1197.2" cy="1752.3" rx="10.3" ry="2.1" transform="rotate(75 1197.2 1752.3)"/><ellipse cx="1197.2" cy="1752.3" rx="6.9" ry="2.0" transform="rotate(111 1197.2 1752.3)"/><ellipse cx="1128.8" cy="1725.1" rx="6.1" ry="1.5" transform="rotate(6 1128.8 1725.1)"/><ellipse cx="1128.8" cy="1725.1" rx="11.8" ry="1.9" transform="rotate(67 1128.8 1725.1)"/><ellipse cx="1096.0" cy="1677.8" rx="9.4" ry="1.6" transform="rotate(78 1096.0 1677.8)"/><ellipse cx="1096.0" cy="1677.8" rx="9.7" ry="1.6" transform="rotate(162 1096.0 1677.8)"/><ellipse cx="1094.4" cy="1705.5" rx="10.9" ry="1.6" transform="rotate(168 1094.4 1705.5)"/><ellipse cx="1094.4" cy="1705.5" rx="6.3" ry="2.1" transform="rotate(173 1094.4 1705.5)"/><ellipse cx="1187.7" cy="1694.2" rx="8.9" ry="2.1" transform="rotate(81 1187.7 1694.2)"/><ellipse cx="1187.7" cy="1694.2" rx="8.6" ry="1.4" transform="rotate(76 1187.7 1694.2)"/><ellipse cx="1238.4" cy="1738.2" rx="10.3" ry="1.9" transform="rotate(123 1238.4 1738.2)"/><ellipse cx="1238.4" cy="1738.2" rx="11.2" ry="1.7" transform="rotate(29 1238.4 1738.2)"/><ellipse cx="1196.8" cy="1696.0" rx="7.2" ry="1.3" transform="rotate(20 1196.8 1696.0)"/><ellipse cx="1196.8" cy="1696.0" rx="9.1" ry="2.0" transform="rotate(26 1196.8 1696.0)"/><ellipse cx="1075.6" cy="1760.4" rx="11.8" ry="2.2" transform="rotate(126 1075.6 1760.4)"/><ellipse cx="1075.6" cy="1760.4" rx="11.1" ry="2.1" transform="rotate(112 1075.6 1760.4)"/><ellipse cx="1075.6" cy="1662.5" rx="11.0" ry="1.8" transform="rotate(92 1075.6 1662.5)"/><ellipse cx="1075.6" cy="1662.5" rx="10.8" ry="2.1" transform="rotate(136 1075.6 1662.5)"/><ellipse cx="1227.2" cy="1778.1" rx="6.5" ry="1.3" transform="rotate(91 1227.2 1778.1)"/><ellipse cx="1227.2" cy="1778.1" rx="9.6" ry="2.0" transform="rotate(127 1227.2 1778.1)"/><ellipse cx="1221.5" cy="1686.0" rx="10.9" ry="2.2" transform="rotate(32 1221.5 1686.0)"/><ellipse cx="1221.5" cy="1686.0" rx="6.5" ry="1.9" transform="rotate(86 1221.5 1686.0)"/><ellipse cx="1099.5" cy="1688.1" rx="10.8" ry="2.0" transform="rotate(14 1099.5 1688.1)"/><ellipse cx="1099.5" cy="1688.1" rx="11.4" ry="1.6" transform="rotate(68 1099.5 1688.1)"/><ellipse cx="1216.2" cy="1742.0" rx="7.8" ry="1.9" transform="rotate(148 1216.2 1742.0)"/><ellipse cx="1216.2" cy="1742.0" rx="8.0" ry="1.6" transform="rotate(20 1216.2 1742.0)"/><ellipse cx="1157.8" cy="1759.5" rx="11.0" ry="1.3" transform="rotate(160 1157.8 1759.5)"/><ellipse cx="1157.8" cy="1759.5" rx="11.1" ry="2.2" transform="rotate(83 1157.8 1759.5)"/><ellipse cx="1230.8" cy="1719.8" rx="7.0" ry="2.0" transform="rotate(83 1230.8 1719.8)"/><ellipse cx="1230.8" cy="1719.8" rx="9.6" ry="1.5" transform="rotate(35 1230.8 1719.8)"/><ellipse cx="1155.1" cy="1761.3" rx="6.1" ry="1.6" transform="rotate(12 1155.1 1761.3)"/><ellipse cx="1155.1" cy="1761.3" rx="9.8" ry="1.9" transform="rotate(8 1155.1 1761.3)"/><ellipse cx="1107.5" cy="1766.0" rx="9.0" ry="1.8" transform="rotate(131 1107.5 1766.0)"/><ellipse cx="1107.5" cy="1766.0" rx="7.9" ry="1.8" transform="rotate(156 1107.5 1766.0)"/><ellipse cx="1188.2" cy="1676.0" rx="10.1" ry="2.2" transform="rotate(30 1188.2 1676.0)"/><ellipse cx="1188.2" cy="1676.0" rx="10.1" ry="1.4" transform="rotate(60 1188.2 1676.0)"/><ellipse cx="1113.2" cy="1710.7" rx="6.4" ry="1.5" transform="rotate(180 1113.2 1710.7)"/><ellipse cx="1113.2" cy="1710.7" rx="10.6" ry="1.7" transform="rotate(74 1113.2 1710.7)"/><ellipse cx="1121.9" cy="1780.5" rx="9.9" ry="1.3" transform="rotate(15 1121.9 1780.5)"/><ellipse cx="1121.9" cy="1780.5" rx="11.8" ry="1.7" transform="rotate(60 1121.9 1780.5)"/><ellipse cx="1073.5" cy="1761.4" rx="7.4" ry="1.5" transform="rotate(1 1073.5 1761.4)"/><ellipse cx="1073.5" cy="1761.4" rx="10.5" ry="1.5" transform="rotate(31 1073.5 1761.4)"/><ellipse cx="1103.8" cy="1739.0" rx="9.3" ry="2.1" transform="rotate(120 1103.8 1739.0)"/><ellipse cx="1103.8" cy="1739.0" rx="6.0" ry="1.8" transform="rotate(61 1103.8 1739.0)"/><ellipse cx="1133.9" cy="1719.9" rx="6.2" ry="1.7" transform="rotate(102 1133.9 1719.9)"/><ellipse cx="1133.9" cy="1719.9" rx="12.0" ry="1.8" transform="rotate(27 1133.9 1719.9)"/><ellipse cx="1179.2" cy="1692.0" rx="9.8" ry="1.8" transform="rotate(145 1179.2 1692.0)"/><ellipse cx="1179.2" cy="1692.0" rx="6.2" ry="1.5" transform="rotate(154 1179.2 1692.0)"/><ellipse cx="1209.2" cy="1698.6" rx="8.0" ry="2.1" transform="rotate(118 1209.2 1698.6)"/><ellipse cx="1209.2" cy="1698.6" rx="10.3" ry="1.7" transform="rotate(53 1209.2 1698.6)"/><ellipse cx="1242.5" cy="1675.3" rx="11.2" ry="2.2" transform="rotate(94 1242.5 1675.3)"/><ellipse cx="1242.5" cy="1675.3" rx="8.0" ry="1.7" transform="rotate(177 1242.5 1675.3)"/><ellipse cx="1158.7" cy="1780.5" rx="10.7" ry="1.8" transform="rotate(25 1158.7 1780.5)"/><ellipse cx="1158.7" cy="1780.5" rx="9.1" ry="1.6" transform="rotate(87 1158.7 1780.5)"/><ellipse cx="1141.7" cy="1674.3" rx="8.7" ry="1.9" transform="rotate(36 1141.7 1674.3)"/><ellipse cx="1141.7" cy="1674.3" rx="7.5" ry="1.5" transform="rotate(14 1141.7 1674.3)"/><ellipse cx="1233.0" cy="1724.4" rx="8.9" ry="2.1" transform="rotate(138 1233.0 1724.4)"/><ellipse cx="1233.0" cy="1724.4" rx="7.1" ry="1.5" transform="rotate(72 1233.0 1724.4)"/><ellipse cx="1246.1" cy="1659.4" rx="9.0" ry="1.7" transform="rotate(5 1246.1 1659.4)"/><ellipse cx="1246.1" cy="1659.4" rx="9.9" ry="1.8" transform="rotate(72 1246.1 1659.4)"/><ellipse cx="1162.1" cy="1780.6" rx="10.1" ry="1.4" transform="rotate(59 1162.1 1780.6)"/><ellipse cx="1162.1" cy="1780.6" rx="8.4" ry="2.0" transform="rotate(119 1162.1 1780.6)"/><ellipse cx="1113.9" cy="1772.4" rx="8.9" ry="1.3" transform="rotate(152 1113.9 1772.4)"/><ellipse cx="1113.9" cy="1772.4" rx="6.0" ry="1.3" transform="rotate(117 1113.9 1772.4)"/><ellipse cx="1078.1" cy="1653.7" rx="10.8" ry="1.6" transform="rotate(37 1078.1 1653.7)"/><ellipse cx="1078.1" cy="1653.7" rx="9.0" ry="1.8" transform="rotate(127 1078.1 1653.7)"/><ellipse cx="1204.1" cy="1739.1" rx="11.6" ry="1.6" transform="rotate(2 1204.1 1739.1)"/><ellipse cx="1204.1" cy="1739.1" rx="9.4" ry="2.1" transform="rotate(14 1204.1 1739.1)"/><ellipse cx="1216.2" cy="1757.8" rx="9.9" ry="1.3" transform="rotate(84 1216.2 1757.8)"/><ellipse cx="1216.2" cy="1757.8" rx="7.9" ry="1.2" transform="rotate(30 1216.2 1757.8)"/><ellipse cx="1176.8" cy="1711.3" rx="6.0" ry="1.7" transform="rotate(111 1176.8 1711.3)"/><ellipse cx="1176.8" cy="1711.3" rx="6.9" ry="2.2" transform="rotate(122 1176.8 1711.3)"/><ellipse cx="1142.7" cy="1778.3" rx="10.5" ry="1.9" transform="rotate(107 1142.7 1778.3)"/><ellipse cx="1142.7" cy="1778.3" rx="8.3" ry="1.8" transform="rotate(102 1142.7 1778.3)"/><ellipse cx="1168.7" cy="1667.6" rx="8.2" ry="1.2" transform="rotate(127 1168.7 1667.6)"/><ellipse cx="1168.7" cy="1667.6" rx="7.6" ry="2.1" transform="rotate(168 1168.7 1667.6)"/><ellipse cx="1238.2" cy="1680.5" rx="6.3" ry="2.1" transform="rotate(180 1238.2 1680.5)"/><ellipse cx="1238.2" cy="1680.5" rx="11.2" ry="2.0" transform="rotate(62 1238.2 1680.5)"/><ellipse cx="1169.2" cy="1663.9" rx="10.8" ry="1.3" transform="rotate(49 1169.2 1663.9)"/><ellipse cx="1169.2" cy="1663.9" rx="9.5" ry="2.2" transform="rotate(162 1169.2 1663.9)"/><ellipse cx="1198.1" cy="1655.9" rx="10.2" ry="1.5" transform="rotate(84 1198.1 1655.9)"/><ellipse cx="1198.1" cy="1655.9" rx="6.2" ry="1.9" transform="rotate(49 1198.1 1655.9)"/><ellipse cx="1075.2" cy="1746.9" rx="8.5" ry="1.3" transform="rotate(174 1075.2 1746.9)"/><ellipse cx="1075.2" cy="1746.9" rx="7.2" ry="1.9" transform="rotate(14 1075.2 1746.9)"/><ellipse cx="1075.2" cy="1685.9" rx="8.8" ry="2.1" transform="rotate(54 1075.2 1685.9)"/><ellipse cx="1075.2" cy="1685.9" rx="6.2" ry="2.1" transform="rotate(122 1075.2 1685.9)"/></g>
<g fill="#5474dc" fill-opacity="0.55" filter="url(#blur1)"><ellipse cx="1104.5" cy="1682.9" rx="3.9" ry="2.4" transform="rotate(8 1104.5 1682.9)"/><ellipse cx="1093.7" cy="1653.5" rx="4.3" ry="2.6" transform="rotate(92 1093.7 1653.5)"/><ellipse cx="1165.2" cy="1786.8" rx="3.1" ry="3.2" transform="rotate(77 1165.2 1786.8)"/><ellipse cx="1140.9" cy="1707.3" rx="3.8" ry="3.4" transform="rotate(20 1140.9 1707.3)"/><ellipse cx="1183.9" cy="1667.5" rx="3.2" ry="3.1" transform="rotate(150 1183.9 1667.5)"/><ellipse cx="1089.7" cy="1782.6" rx="4.2" ry="2.7" transform="rotate(122 1089.7 1782.6)"/><ellipse cx="1185.3" cy="1784.1" rx="3.6" ry="3.3" transform="rotate(30 1185.3 1784.1)"/><ellipse cx="1106.7" cy="1687.4" rx="2.7" ry="2.4" transform="rotate(57 1106.7 1687.4)"/><ellipse cx="1151.3" cy="1657.4" rx="4.0" ry="3.0" transform="rotate(51 1151.3 1657.4)"/><ellipse cx="1205.4" cy="1741.1" rx="2.6" ry="2.7" transform="rotate(175 1205.4 1741.1)"/><ellipse cx="1222.3" cy="1738.0" rx="2.7" ry="3.4" transform="rotate(71 1222.3 1738.0)"/><ellipse cx="1170.0" cy="1684.0" rx="3.7" ry="2.7" transform="rotate(170 1170.0 1684.0)"/><ellipse cx="1215.7" cy="1745.2" rx="4.1" ry="3.1" transform="rotate(91 1215.7 1745.2)"/><ellipse cx="1220.3" cy="1766.4" rx="3.7" ry="2.5" transform="rotate(113 1220.3 1766.4)"/><ellipse cx="1101.0" cy="1682.6" rx="4.3" ry="2.3" transform="rotate(84 1101.0 1682.6)"/><ellipse cx="1208.4" cy="1740.2" rx="3.5" ry="2.9" transform="rotate(178 1208.4 1740.2)"/><ellipse cx="1251.8" cy="1700.8" rx="3.7" ry="2.8" transform="rotate(15 1251.8 1700.8)"/><ellipse cx="1182.0" cy="1660.4" rx="3.1" ry="3.3" transform="rotate(112 1182.0 1660.4)"/><ellipse cx="1081.3" cy="1737.0" rx="4.0" ry="3.4" transform="rotate(161 1081.3 1737.0)"/><ellipse cx="1184.3" cy="1692.2" rx="4.3" ry="3.5" transform="rotate(166 1184.3 1692.2)"/><ellipse cx="1121.7" cy="1653.2" rx="3.9" ry="2.9" transform="rotate(7 1121.7 1653.2)"/><ellipse cx="1196.7" cy="1737.4" rx="4.4" ry="2.8" transform="rotate(55 1196.7 1737.4)"/><ellipse cx="1224.1" cy="1765.2" rx="3.2" ry="3.2" transform="rotate(139 1224.1 1765.2)"/><ellipse cx="1245.8" cy="1688.0" rx="3.1" ry="2.4" transform="rotate(73 1245.8 1688.0)"/><ellipse cx="1165.0" cy="1769.8" rx="2.7" ry="3.0" transform="rotate(154 1165.0 1769.8)"/><ellipse cx="1171.1" cy="1718.6" rx="3.3" ry="2.4" transform="rotate(170 1171.1 1718.6)"/><ellipse cx="1126.7" cy="1707.1" rx="2.9" ry="2.4" transform="rotate(94 1126.7 1707.1)"/><ellipse cx="1242.5" cy="1662.2" rx="3.9" ry="2.7" transform="rotate(21 1242.5 1662.2)"/><ellipse cx="1242.6" cy="1741.6" rx="3.1" ry="3.3" transform="rotate(175 1242.6 1741.6)"/><ellipse cx="1087.9" cy="1774.9" rx="3.0" ry="3.1" transform="rotate(142 1087.9 1774.9)"/><ellipse cx="1116.5" cy="1747.6" rx="4.2" ry="2.2" transform="rotate(6 1116.5 1747.6)"/><ellipse cx="1085.8" cy="1689.2" rx="2.7" ry="2.9" transform="rotate(36 1085.8 1689.2)"/><ellipse cx="1097.8" cy="1780.6" rx="4.3" ry="2.5" transform="rotate(81 1097.8 1780.6)"/><ellipse cx="1114.4" cy="1733.5" rx="2.8" ry="3.4" transform="rotate(40 1114.4 1733.5)"/><ellipse cx="1130.2" cy="1696.5" rx="3.0" ry="2.6" transform="rotate(37 1130.2 1696.5)"/><ellipse cx="1141.5" cy="1783.1" rx="2.7" ry="3.2" transform="rotate(16 1141.5 1783.1)"/><ellipse cx="1196.4" cy="1713.3" rx="3.1" ry="2.2" transform="rotate(99 1196.4 1713.3)"/><ellipse cx="1197.2" cy="1752.3" rx="3.5" ry="3.4" transform="rotate(5 1197.2 1752.3)"/><ellipse cx="1128.8" cy="1725.1" rx="4.4" ry="2.4" transform="rotate(65 1128.8 1725.1)"/><ellipse cx="1096.0" cy="1677.8" rx="4.3" ry="3.3" transform="rotate(163 1096.0 1677.8)"/><ellipse cx="1094.4" cy="1705.5" rx="2.9" ry="2.4" transform="rotate(63 1094.4 1705.5)"/><ellipse cx="1187.7" cy="1694.2" rx="3.2" ry="3.0" transform="rotate(8 1187.7 1694.2)"/><ellipse cx="1238.4" cy="1738.2" rx="3.7" ry="2.2" transform="rotate(58 1238.4 1738.2)"/><ellipse cx="1196.8" cy="1696.0" rx="3.6" ry="2.5" transform="rotate(129 1196.8 1696.0)"/><ellipse cx="1075.6" cy="1760.4" rx="4.0" ry="3.0" transform="rotate(81 1075.6 1760.4)"/><ellipse cx="1075.6" cy="1662.5" rx="3.3" ry="2.9" transform="rotate(151 1075.6 1662.5)"/><ellipse cx="1227.2" cy="1778.1" rx="4.5" ry="2.5" transform="rotate(154 1227.2 1778.1)"/><ellipse cx="1221.5" cy="1686.0" rx="4.0" ry="2.9" transform="rotate(80 1221.5 1686.0)"/><ellipse cx="1099.5" cy="1688.1" rx="4.0" ry="3.5" transform="rotate(93 1099.5 1688.1)"/><ellipse cx="1216.2" cy="1742.0" rx="2.6" ry="3.0" transform="rotate(35 1216.2 1742.0)"/><ellipse cx="1157.8" cy="1759.5" rx="2.7" ry="3.0" transform="rotate(49 1157.8 1759.5)"/><ellipse cx="1230.8" cy="1719.8" rx="4.1" ry="2.7" transform="rotate(155 1230.8 1719.8)"/><ellipse cx="1155.1" cy="1761.3" rx="2.6" ry="3.4" transform="rotate(123 1155.1 1761.3)"/><ellipse cx="1107.5" cy="1766.0" rx="2.6" ry="2.6" transform="rotate(168 1107.5 1766.0)"/><ellipse cx="1188.2" cy="1676.0" rx="4.1" ry="2.3" transform="rotate(143 1188.2 1676.0)"/><ellipse cx="1113.2" cy="1710.7" rx="3.4" ry="2.8" transform="rotate(144 1113.2 1710.7)"/><ellipse cx="1121.9" cy="1780.5" rx="2.8" ry="3.0" transform="rotate(54 1121.9 1780.5)"/><ellipse cx="1073.5" cy="1761.4" rx="4.2" ry="3.4" transform="rotate(167 1073.5 1761.4)"/><ellipse cx="1103.8" cy="1739.0" rx="2.9" ry="2.3" transform="rotate(78 1103.8 1739.0)"/><ellipse cx="1133.9" cy="1719.9" rx="2.8" ry="2.5" transform="rotate(98 1133.9 1719.9)"/><ellipse cx="1179.2" cy="1692.0" rx="4.0" ry="2.9" transform="rotate(180 1179.2 1692.0)"/><ellipse cx="1209.2" cy="1698.6" rx="4.0" ry="3.5" transform="rotate(112 1209.2 1698.6)"/><ellipse cx="1242.5" cy="1675.3" rx="3.2" ry="3.4" transform="rotate(106 1242.5 1675.3)"/><ellipse cx="1158.7" cy="1780.5" rx="3.8" ry="2.4" transform="rotate(17 1158.7 1780.5)"/><ellipse cx="1141.7" cy="1674.3" rx="2.5" ry="2.4" transform="rotate(50 1141.7 1674.3)"/><ellipse cx="1233.0" cy="1724.4" rx="3.2" ry="3.1" transform="rotate(70 1233.0 1724.4)"/><ellipse cx="1246.1" cy="1659.4" rx="3.2" ry="2.8" transform="rotate(105 1246.1 1659.4)"/><ellipse cx="1162.1" cy="1780.6" rx="4.2" ry="3.5" transform="rotate(41 1162.1 1780.6)"/><ellipse cx="1113.9" cy="1772.4" rx="3.3" ry="2.7" transform="rotate(115 1113.9 1772.4)"/><ellipse cx="1078.1" cy="1653.7" rx="3.2" ry="2.4" transform="rotate(165 1078.1 1653.7)"/><ellipse cx="1204.1" cy="1739.1" rx="3.2" ry="3.2" transform="rotate(116 1204.1 1739.1)"/><ellipse cx="1216.2" cy="1757.8" rx="2.6" ry="2.5" transform="rotate(97 1216.2 1757.8)"/><ellipse cx="1176.8" cy="1711.3" rx="4.0" ry="3.5" transform="rotate(37 1176.8 1711.3)"/><ellipse cx="1142.7" cy="1778.3" rx="2.6" ry="3.3" transform="rotate(164 1142.7 1778.3)"/><ellipse cx="1168.7" cy="1667.6" rx="2.7" ry="2.7" transform="rotate(42 1168.7 1667.6)"/><ellipse cx="1238.2" cy="1680.5" rx="3.1" ry="2.6" transform="rotate(76 1238.2 1680.5)"/><ellipse cx="1169.2" cy="1663.9" rx="3.3" ry="2.5" transform="rotate(48 1169.2 1663.9)"/><ellipse cx="1198.1" cy="1655.9" rx="3.7" ry="2.8" transform="rotate(89 1198.1 1655.9)"/><ellipse cx="1075.2" cy="1746.9" rx="2.8" ry="2.8" transform="rotate(150 1075.2 1746.9)"/><ellipse cx="1075.2" cy="1685.9" rx="2.9" ry="2.4" transform="rotate(78 1075.2 1685.9)"/></g>
<path d="M1102.4 1684.2a1.4 1.4 0 1 0 .1 0zM1098.6 1682.7a1.8 1.8 0 1 0 .1 0zM1124.6 1708.4a1.9 1.9 0 1 0 .1 0zM1138.1 1782.7a1.9 1.9 0 1 0 .1 0zM1127.9 1725.1a1.8 1.8 0 1 0 .1 0zM1195.8 1694.9a1.3 1.3 0 1 0 .1 0zM1106.8 1766.0a1.9 1.9 0 1 0 .1 0zM1071.3 1760.4a1.9 1.9 0 1 0 .1 0zM1156.0 1779.5a1.8 1.8 0 1 0 .1 0zM1238.1 1681.7a1.3 1.3 0 1 0 .1 0z" fill="#24309a" fill-opacity="0.50" filter="url(#blur05)"/>
<path d="M1114.0 1725.9a1.6 1.6 0 1 0 .1 0zM1092.5 1673.1a1.6 1.6 0 1 0 .1 0zM1140.0 1752.4a1.6 1.6 0 1 0 .1 0zM1073.8 1717.5a1.6 1.6 0 1 0 .1 0zM1085.4 1687.5a1.6 1.6 0 1 0 .1 0zM1231.5 1787.8a1.6 1.6 0 1 0 .1 0zM1092.5 1684.6a1.6 1.6 0 1 0 .1 0zM1105.2 1685.7a1.6 1.6 0 1 0 .1 0zM1125.7 1663.5a1.6 1.6 0 1 0 .1 0zM1176.6 1706.5a1.6 1.6 0 1 0 .1 0zM1187.2 1768.1a1.6 1.6 0 1 0 .1 0zM1246.4 1773.6a1.6 1.6 0 1 0 .1 0zM1081.4 1771.0a1.6 1.6 0 1 0 .1 0zM1088.6 1733.9a1.6 1.6 0 1 0 .1 0zM1202.5 1703.6a1.6 1.6 0 1 0 .1 0zM1213.0 1732.9a1.6 1.6 0 1 0 .1 0zM1239.9 1690.6a1.6 1.6 0 1 0 .1 0zM1165.4 1721.0a1.6 1.6 0 1 0 .1 0zM1114.7 1748.8a1.6 1.6 0 1 0 .1 0zM1241.1 1751.7a1.6 1.6 0 1 0 .1 0zM1153.6 1705.6a1.6 1.6 0 1 0 .1 0zM1123.4 1785.5a1.6 1.6 0 1 0 .1 0zM1225.6 1673.8a1.6 1.6 0 1 0 .1 0zM1074.5 1710.0a1.6 1.6 0 1 0 .1 0zM1235.5 1682.1a1.6 1.6 0 1 0 .1 0zM1203.3 1770.2a1.6 1.6 0 1 0 .1 0zM1131.0 1737.8a1.6 1.6 0 1 0 .1 0zM1185.8 1665.8a1.6 1.6 0 1 0 .1 0zM1196.5 1689.1a1.6 1.6 0 1 0 .1 0zM1074.8 1686.5a1.6 1.6 0 1 0 .1 0zM1243.8 1662.2a1.6 1.6 0 1 0 .1 0zM1109.7 1735.7a1.6 1.6 0 1 0 .1 0zM1104.5 1739.0a1.6 1.6 0 1 0 .1 0zM1205.8 1720.9a1.6 1.6 0 1 0 .1 0zM1193.8 1749.7a1.6 1.6 0 1 0 .1 0zM1192.6 1785.4a1.6 1.6 0 1 0 .1 0zM1115.0 1658.4a1.6 1.6 0 1 0 .1 0zM1123.3 1784.7a1.6 1.6 0 1 0 .1 0zM1147.0 1719.9a1.6 1.6 0 1 0 .1 0zM1178.5 1743.0a1.6 1.6 0 1 0 .1 0zM1071.5 1724.6a1.6 1.6 0 1 0 .1 0zM1078.0 1719.0a1.6 1.6 0 1 0 .1 0zM1073.2 1668.9a1.6 1.6 0 1 0 .1 0zM1173.7 1715.5a1.6 1.6 0 1 0 .1 0zM1113.4 1762.6a1.6 1.6 0 1 0 .1 0zM1107.5 1671.2a1.6 1.6 0 1 0 .1 0zM1107.0 1700.6a1.6 1.6 0 1 0 .1 0zM1157.8 1770.0a1.6 1.6 0 1 0 .1 0zM1122.2 1756.0a1.6 1.6 0 1 0 .1 0zM1197.9 1734.4a1.6 1.6 0 1 0 .1 0zM1108.4 1678.4a1.6 1.6 0 1 0 .1 0zM1234.4 1708.6a1.6 1.6 0 1 0 .1 0zM1212.0 1668.2a1.6 1.6 0 1 0 .1 0zM1239.8 1663.8a1.6 1.6 0 1 0 .1 0zM1122.3 1728.0a1.6 1.6 0 1 0 .1 0zM1221.5 1782.3a1.6 1.6 0 1 0 .1 0zM1096.1 1660.3a1.6 1.6 0 1 0 .1 0zM1129.2 1723.5a1.6 1.6 0 1 0 .1 0zM1181.3 1768.3a1.6 1.6 0 1 0 .1 0zM1226.1 1747.1a1.6 1.6 0 1 0 .1 0zM1241.3 1768.6a1.6 1.6 0 1 0 .1 0zM1079.7 1698.8a1.6 1.6 0 1 0 .1 0zM1078.9 1686.1a1.6 1.6 0 1 0 .1 0zM1165.2 1719.3a1.6 1.6 0 1 0 .1 0zM1211.6 1770.2a1.6 1.6 0 1 0 .1 0zM1178.9 1716.4a1.6 1.6 0 1 0 .1 0zM1084.1 1683.6a1.6 1.6 0 1 0 .1 0zM1237.5 1780.9a1.6 1.6 0 1 0 .1 0zM1222.3 1761.2a1.6 1.6 0 1 0 .1 0zM1210.6 1670.8a1.6 1.6 0 1 0 .1 0zM1154.2 1653.1a1.6 1.6 0 1 0 .1 0zM1216.4 1759.9a1.6 1.6 0 1 0 .1 0zM1219.9 1738.6a1.6 1.6 0 1 0 .1 0zM1123.1 1708.7a1.6 1.6 0 1 0 .1 0zM1072.1 1687.7a1.6 1.6 0 1 0 .1 0zM1198.1 1712.1a1.6 1.6 0 1 0 .1 0zM1103.0 1767.6a1.6 1.6 0 1 0 .1 0zM1147.7 1715.3a1.6 1.6 0 1 0 .1 0zM1101.8 1709.0a1.6 1.6 0 1 0 .1 0zM1248.0 1706.4a1.6 1.6 0 1 0 .1 0zM1100.9 1774.3a1.6 1.6 0 1 0 .1 0zM1200.5 1658.2a1.6 1.6 0 1 0 .1 0zM1075.1 1695.7a1.6 1.6 0 1 0 .1 0zM1144.1 1762.1a1.6 1.6 0 1 0 .1 0zM1079.7 1751.8a1.6 1.6 0 1 0 .1 0zM1152.7 1681.3a1.6 1.6 0 1 0 .1 0zM1091.6 1714.7a1.6 1.6 0 1 0 .1 0zM1098.2 1658.8a1.6 1.6 0 1 0 .1 0zM1251.1 1751.9a1.6 1.6 0 1 0 .1 0zM1196.8 1757.6a1.6 1.6 0 1 0 .1 0zM1090.5 1756.6a1.6 1.6 0 1 0 .1 0zM1114.9 1727.6a1.6 1.6 0 1 0 .1 0zM1158.8 1666.2a1.6 1.6 0 1 0 .1 0zM1235.3 1765.3a1.6 1.6 0 1 0 .1 0zM1190.0 1718.6a1.6 1.6 0 1 0 .1 0zM1091.8 1669.9a1.6 1.6 0 1 0 .1 0zM1077.0 1767.8a1.6 1.6 0 1 0 .1 0zM1241.3 1752.2a1.6 1.6 0 1 0 .1 0zM1115.0 1766.2a1.6 1.6 0 1 0 .1 0zM1249.8 1659.2a1.6 1.6 0 1 0 .1 0zM1178.5 1677.3a1.6 1.6 0 1 0 .1 0zM1155.5 1667.6a1.6 1.6 0 1 0 .1 0zM1188.6 1748.1a1.6 1.6 0 1 0 .1 0zM1191.6 1707.8a1.6 1.6 0 1 0 .1 0zM1167.4 1668.7a1.6 1.6 0 1 0 .1 0zM1242.0 1744.8a1.6 1.6 0 1 0 .1 0zM1164.7 1745.3a1.6 1.6 0 1 0 .1 0zM1238.2 1678.9a1.6 1.6 0 1 0 .1 0zM1134.6 1684.8a1.6 1.6 0 1 0 .1 0zM1124.3 1769.0a1.6 1.6 0 1 0 .1 0zM1165.6 1677.6a1.6 1.6 0 1 0 .1 0zM1154.6 1712.8a1.6 1.6 0 1 0 .1 0zM1238.2 1779.2a1.6 1.6 0 1 0 .1 0zM1207.5 1673.8a1.6 1.6 0 1 0 .1 0zM1228.3 1775.5a1.6 1.6 0 1 0 .1 0zM1154.2 1678.1a1.6 1.6 0 1 0 .1 0zM1150.3 1743.1a1.6 1.6 0 1 0 .1 0zM1211.4 1661.9a1.6 1.6 0 1 0 .1 0zM1231.4 1674.1a1.6 1.6 0 1 0 .1 0zM1143.9 1682.8a1.6 1.6 0 1 0 .1 0zM1248.8 1717.6a1.6 1.6 0 1 0 .1 0zM1105.1 1671.5a1.6 1.6 0 1 0 .1 0zM1072.4 1669.4a1.6 1.6 0 1 0 .1 0zM1209.8 1667.2a1.6 1.6 0 1 0 .1 0zM1216.4 1761.4a1.6 1.6 0 1 0 .1 0zM1161.1 1731.5a1.6 1.6 0 1 0 .1 0zM1105.4 1756.9a1.6 1.6 0 1 0 .1 0zM1201.1 1722.5a1.6 1.6 0 1 0 .1 0zM1162.7 1691.6a1.6 1.6 0 1 0 .1 0zM1099.4 1700.5a1.6 1.6 0 1 0 .1 0z" fill="#b8aeb0" fill-opacity="0.6" stroke="#7a6c66" stroke-width="0.8" stroke-opacity="0.85"/>
</g>
<rect x="864.0" y="1777.2" width="20.6" height="2.6" fill="#000"/>
<text x="1057.0" y="1831.5" font-size="21.96" font-weight="bold" text-anchor="middle" textLength="52.5" lengthAdjust="spacingAndGlyphs">A375</text>
<rect x="853.0" y="1798.5" width="405.0" height="4.7" fill="#000"/>
<line x1="575.8" y1="1592.3" x2="575.8" y2="1813.7" stroke="#000" stroke-width="2.5"/>
<line x1="569.3" y1="1812.5" x2="721.3" y2="1812.5" stroke="#000" stroke-width="2.5"/>
<line x1="569.3" y1="1593.3" x2="575.8" y2="1593.3" stroke="#000" stroke-width="2.5"/>
<text x="565.0" y="1598.8" font-size="17.00" font-weight="bold" text-anchor="end" textLength="18.0" lengthAdjust="spacingAndGlyphs">60</text>
<line x1="569.3" y1="1666.4" x2="575.8" y2="1666.4" stroke="#000" stroke-width="2.5"/>
<text x="565.0" y="1671.9" font-size="17.00" font-weight="bold" text-anchor="end" textLength="18.0" lengthAdjust="spacingAndGlyphs">40</text>
<line x1="569.3" y1="1739.4" x2="575.8" y2="1739.4" stroke="#000" stroke-width="2.5"/>
<text x="565.0" y="1744.9" font-size="17.00" font-weight="bold" text-anchor="end" textLength="18.0" lengthAdjust="spacingAndGlyphs">20</text>
<line x1="569.3" y1="1812.5" x2="575.8" y2="1812.5" stroke="#000" stroke-width="2.5"/>
<text x="565.0" y="1818.0" font-size="17.00" font-weight="bold" text-anchor="end" textLength="9.0" lengthAdjust="spacingAndGlyphs">0</text>
<rect x="590.8" y="1629.9" width="42.6" height="182.6" fill="#fff" stroke="#000" stroke-width="3.2"/>
<rect x="660.0" y="1668.8" width="47.5" height="143.7" fill="#000"/>
<line x1="612.1" y1="1628.3" x2="612.1" y2="1619.7" stroke="#000" stroke-width="3.0"/>
<line x1="600.2" y1="1619.7" x2="624.0" y2="1619.7" stroke="#000" stroke-width="3.0"/>
<line x1="683.8" y1="1668.8" x2="683.8" y2="1663.7" stroke="#000" stroke-width="3.0"/>
<line x1="671.9" y1="1663.7" x2="695.6" y2="1663.7" stroke="#000" stroke-width="3.0"/>
<path d="M610.5,1621.7 V1613.8 H677 V1623.3" stroke="#000" stroke-width="2.5" fill="none"/>
<text x="644.7" y="1615.9" font-size="17.00" font-weight="bold" text-anchor="middle">**</text>
<line x1="611.2" y1="1812.5" x2="611.2" y2="1818.5" stroke="#000" stroke-width="2.5"/>
<line x1="684.2" y1="1812.5" x2="684.2" y2="1818.5" stroke="#000" stroke-width="2.5"/>
<text x="611.2" y="1834.2" font-size="14.73" font-weight="bold" text-anchor="middle" textLength="21.3" lengthAdjust="spacingAndGlyphs">NC</text>
<text x="684.7" y="1834.2" font-size="14.73" font-weight="bold" text-anchor="middle" textLength="92.5" lengthAdjust="spacingAndGlyphs">shLINC00518</text>
<text x="640.4" y="1565.0" font-size="17.65" font-weight="bold" text-anchor="middle" textLength="60.8" lengthAdjust="spacingAndGlyphs">WM451</text>
<text x="537.2" y="1702.9" font-size="19.40" font-weight="bold" text-anchor="middle" textLength="165.8" lengthAdjust="spacingAndGlyphs" transform="rotate(-90 537.2 1702.9)">Invasion cells/fields</text>
<line x1="1363.3" y1="1592.8" x2="1363.3" y2="1813.7" stroke="#000" stroke-width="2.5"/>
<line x1="1356.8" y1="1812.5" x2="1508.3" y2="1812.5" stroke="#000" stroke-width="2.5"/>
<line x1="1356.8" y1="1593.8" x2="1363.3" y2="1593.8" stroke="#000" stroke-width="2.5"/>
<text x="1354.0" y="1599.3" font-size="17.00" font-weight="bold" text-anchor="end" textLength="18.0" lengthAdjust="spacingAndGlyphs">50</text>
<line x1="1356.8" y1="1637.5" x2="1363.3" y2="1637.5" stroke="#000" stroke-width="2.5"/>
<text x="1354.0" y="1643.0" font-size="17.00" font-weight="bold" text-anchor="end" textLength="18.0" lengthAdjust="spacingAndGlyphs">40</text>
<line x1="1356.8" y1="1681.3" x2="1363.3" y2="1681.3" stroke="#000" stroke-width="2.5"/>
<text x="1354.0" y="1686.8" font-size="17.00" font-weight="bold" text-anchor="end" textLength="18.0" lengthAdjust="spacingAndGlyphs">30</text>
<line x1="1356.8" y1="1725.0" x2="1363.3" y2="1725.0" stroke="#000" stroke-width="2.5"/>
<text x="1354.0" y="1730.5" font-size="17.00" font-weight="bold" text-anchor="end" textLength="18.0" lengthAdjust="spacingAndGlyphs">20</text>
<line x1="1356.8" y1="1768.8" x2="1363.3" y2="1768.8" stroke="#000" stroke-width="2.5"/>
<text x="1354.0" y="1774.3" font-size="17.00" font-weight="bold" text-anchor="end" textLength="18.0" lengthAdjust="spacingAndGlyphs">10</text>
<line x1="1356.8" y1="1812.5" x2="1363.3" y2="1812.5" stroke="#000" stroke-width="2.5"/>
<text x="1354.0" y="1818.0" font-size="17.00" font-weight="bold" text-anchor="end" textLength="9.0" lengthAdjust="spacingAndGlyphs">0</text>
<rect x="1377.9" y="1619.1" width="41.3" height="193.4" fill="#fff" stroke="#000" stroke-width="3.2"/>
<rect x="1447.5" y="1700.8" width="47.5" height="111.7" fill="#000"/>
<line x1="1398.5" y1="1617.5" x2="1398.5" y2="1611.7" stroke="#000" stroke-width="3.0"/>
<line x1="1386.6" y1="1611.7" x2="1410.5" y2="1611.7" stroke="#000" stroke-width="3.0"/>
<line x1="1471.2" y1="1700.8" x2="1471.2" y2="1695.8" stroke="#000" stroke-width="3.0"/>
<line x1="1459.3" y1="1695.8" x2="1483.2" y2="1695.8" stroke="#000" stroke-width="3.0"/>
<path d="M1398.7,1616.7 V1604.2 H1464.7 V1613.3" stroke="#000" stroke-width="2.5" fill="none"/>
<text x="1432.0" y="1605.0" font-size="17.00" font-weight="bold" text-anchor="middle">***</text>
<line x1="1398.7" y1="1812.5" x2="1398.7" y2="1818.5" stroke="#000" stroke-width="2.5"/>
<line x1="1470.0" y1="1812.5" x2="1470.0" y2="1818.5" stroke="#000" stroke-width="2.5"/>
<text x="1398.7" y="1835.0" font-size="14.73" font-weight="bold" text-anchor="middle" textLength="21.3" lengthAdjust="spacingAndGlyphs">NC</text>
<text x="1470.5" y="1835.0" font-size="14.73" font-weight="bold" text-anchor="middle" textLength="92.5" lengthAdjust="spacingAndGlyphs">shLINC00518</text>
<text x="1433.3" y="1565.8" font-size="17.44" font-weight="bold" text-anchor="middle" textLength="41.7" lengthAdjust="spacingAndGlyphs">A375</text>
<text x="1324.7" y="1702.9" font-size="19.40" font-weight="bold" text-anchor="middle" textLength="165.8" lengthAdjust="spacingAndGlyphs" transform="rotate(-90 1324.7 1702.9)">Invasion cells/fields</text>
<text x="13.5" y="1927.3" font-size="39.70" font-weight="bold">I</text>
<text x="180.0" y="1952.7" font-size="20.77" font-weight="bold" text-anchor="middle" textLength="30.0" lengthAdjust="spacingAndGlyphs">NC</text>
<rect x="109.3" y="1965.7" width="176.7" height="4.5" fill="#000"/>
<text x="408.3" y="1954.0" font-size="22.29" font-weight="bold" text-anchor="middle" textLength="140.0" lengthAdjust="spacingAndGlyphs">shLINC00518</text>
<rect x="321.7" y="1966.7" width="176.6" height="3.5" fill="#000"/>
<rect x="105.0" y="1975.7" width="180.0" height="134.8" fill="#b0b0b0"/>
<rect x="141.1" y="1975.7" width="101.9" height="134.8" fill="#b3b3b3"/>
<rect x="105.0" y="1975.7" width="36.1" height="134.8" filter="url(#tex)" opacity="0.20"/>
<rect x="105.0" y="1975.7" width="36.1" height="134.8" filter="url(#texL)" opacity="0.14"/>
<rect x="243.0" y="1975.7" width="42.0" height="134.8" filter="url(#tex)" opacity="0.20"/>
<rect x="243.0" y="1975.7" width="42.0" height="134.8" filter="url(#texL)" opacity="0.14"/>
<line x1="141.1" y1="1975.7" x2="141.1" y2="2110.5" stroke="#4a4a4a" stroke-width="1.6"/>
<line x1="243.0" y1="1975.7" x2="243.0" y2="2110.5" stroke="#4a4a4a" stroke-width="1.6"/>
<rect x="105.0" y="2114.0" width="180.0" height="136.7" fill="#b2b2b2"/>
<rect x="177.1" y="2114.0" width="50.2" height="136.7" fill="#b2b2b2"/>
<rect x="105.0" y="2114.0" width="72.1" height="136.7" filter="url(#tex)" opacity="0.20"/>
<rect x="105.0" y="2114.0" width="72.1" height="136.7" filter="url(#texL)" opacity="0.14"/>
<rect x="227.3" y="2114.0" width="57.7" height="136.7" filter="url(#tex)" opacity="0.20"/>
<rect x="227.3" y="2114.0" width="57.7" height="136.7" filter="url(#texL)" opacity="0.14"/>
<line x1="177.1" y1="2114.0" x2="177.1" y2="2250.7" stroke="#4a4a4a" stroke-width="1.6"/>
<line x1="227.3" y1="2114.0" x2="227.3" y2="2250.7" stroke="#4a4a4a" stroke-width="1.6"/>
<rect x="320.7" y="1975.0" width="180.0" height="135.7" fill="#ababab"/>
<rect x="354.3" y="1975.0" width="105.7" height="135.7" fill="#b0b0b0"/>
<rect x="320.7" y="1975.0" width="33.6" height="135.7" filter="url(#tex)" opacity="0.24"/>
<rect x="320.7" y="1975.0" width="33.6" height="135.7" filter="url(#texL)" opacity="0.17"/>
<rect x="460.0" y="1975.0" width="40.7" height="135.7" filter="url(#tex)" opacity="0.24"/>
<rect x="460.0" y="1975.0" width="40.7" height="135.7" filter="url(#texL)" opacity="0.17"/>
<line x1="354.3" y1="1975.0" x2="354.3" y2="2110.7" stroke="#4a4a4a" stroke-width="1.6"/>
<line x1="460.0" y1="1975.0" x2="460.0" y2="2110.7" stroke="#4a4a4a" stroke-width="1.6"/>
<rect x="320.7" y="2115.0" width="180.0" height="135.0" fill="#b4b4b4"/>
<rect x="374.0" y="2115.0" width="68.7" height="135.0" fill="#b4b4b4"/>
<rect x="320.7" y="2115.0" width="53.3" height="135.0" filter="url(#tex)" opacity="0.20"/>
<rect x="320.7" y="2115.0" width="53.3" height="135.0" filter="url(#texL)" opacity="0.14"/>
<rect x="442.7" y="2115.0" width="58.0" height="135.0" filter="url(#tex)" opacity="0.20"/>
<rect x="442.7" y="2115.0" width="58.0" height="135.0" filter="url(#texL)" opacity="0.14"/>
<line x1="374.0" y1="2115.0" x2="374.0" y2="2250.0" stroke="#4a4a4a" stroke-width="1.6"/>
<line x1="442.7" y1="2115.0" x2="442.7" y2="2250.0" stroke="#4a4a4a" stroke-width="1.6"/>
<rect x="112.0" y="2100.2" width="20.8" height="2.4" fill="#000"/>
<text x="305.0" y="2290.0" font-size="22.23" font-weight="bold" text-anchor="middle" textLength="76.6" lengthAdjust="spacingAndGlyphs">WM451</text>
<rect x="101.7" y="2260.0" width="403.3" height="4.2" fill="#000"/>
<text x="942.7" y="1954.5" font-size="21.12" font-weight="bold" text-anchor="middle" textLength="30.5" lengthAdjust="spacingAndGlyphs">NC</text>
<rect x="867.4" y="1968.9" width="176.5" height="4.3" fill="#000"/>
<text x="1168.6" y="1955.3" font-size="22.35" font-weight="bold" text-anchor="middle" textLength="140.4" lengthAdjust="spacingAndGlyphs">shLINC00518</text>
<rect x="1082.3" y="1966.6" width="175.7" height="4.8" fill="#000"/>
<rect x="862.6" y="1977.9" width="180.2" height="135.5" fill="#979797"/>
<rect x="890.8" y="1977.9" width="119.5" height="135.5" fill="#999999"/>
<rect x="862.6" y="1977.9" width="28.2" height="135.5" filter="url(#tex)" opacity="0.24"/>
<rect x="862.6" y="1977.9" width="28.2" height="135.5" filter="url(#texL)" opacity="0.17"/>
<rect x="1010.3" y="1977.9" width="32.5" height="135.5" filter="url(#tex)" opacity="0.24"/>
<rect x="1010.3" y="1977.9" width="32.5" height="135.5" filter="url(#texL)" opacity="0.17"/>
<line x1="890.8" y1="1977.9" x2="890.8" y2="2113.4" stroke="#4a4a4a" stroke-width="1.6"/>
<line x1="1010.3" y1="1977.9" x2="1010.3" y2="2113.4" stroke="#4a4a4a" stroke-width="1.6"/>
<rect x="862.6" y="2117.7" width="180.2" height="135.5" fill="#939393"/>
<rect x="933.2" y="2117.7" width="39.5" height="135.5" fill="#9a9a9a"/>
<rect x="862.6" y="2117.7" width="70.6" height="135.5" filter="url(#tex)" opacity="0.26"/>
<rect x="862.6" y="2117.7" width="70.6" height="135.5" filter="url(#texL)" opacity="0.18"/>
<rect x="972.7" y="2117.7" width="70.1" height="135.5" filter="url(#tex)" opacity="0.26"/>
<rect x="972.7" y="2117.7" width="70.1" height="135.5" filter="url(#texL)" opacity="0.18"/>
<line x1="933.2" y1="2117.7" x2="933.2" y2="2253.2" stroke="#4a4a4a" stroke-width="1.6"/>
<line x1="972.7" y1="2117.7" x2="972.7" y2="2253.2" stroke="#4a4a4a" stroke-width="1.6"/>
<rect x="1078.6" y="1977.9" width="180.8" height="135.5" fill="#979797"/>
<rect x="1108.3" y="1977.9" width="125.7" height="135.5" fill="#9b9b9b"/>
<rect x="1078.6" y="1977.9" width="29.7" height="135.5" filter="url(#tex)" opacity="0.24"/>
<rect x="1078.6" y="1977.9" width="29.7" height="135.5" filter="url(#texL)" opacity="0.17"/>
<rect x="1234.0" y="1977.9" width="25.4" height="135.5" filter="url(#tex)" opacity="0.24"/>
<rect x="1234.0" y="1977.9" width="25.4" height="135.5" filter="url(#texL)" opacity="0.17"/>
<line x1="1108.3" y1="1977.9" x2="1108.3" y2="2113.4" stroke="#4a4a4a" stroke-width="1.6"/>
<line x1="1234.0" y1="1977.9" x2="1234.0" y2="2113.4" stroke="#4a4a4a" stroke-width="1.6"/>
<rect x="1078.6" y="2117.7" width="180.8" height="135.5" fill="#989898"/>
<rect x="1134.3" y="2117.7" width="63.8" height="135.5" fill="#9c9c9c"/>
<rect x="1078.6" y="2117.7" width="55.7" height="135.5" filter="url(#tex)" opacity="0.24"/>
<rect x="1078.6" y="2117.7" width="55.7" height="135.5" filter="url(#texL)" opacity="0.17"/>
<rect x="1198.1" y="2117.7" width="61.3" height="135.5" filter="url(#tex)" opacity="0.24"/>
<rect x="1198.1" y="2117.7" width="61.3" height="135.5" filter="url(#texL)" opacity="0.17"/>
<line x1="1134.3" y1="2117.7" x2="1134.3" y2="2253.2" stroke="#4a4a4a" stroke-width="1.6"/>
<line x1="1198.1" y1="2117.7" x2="1198.1" y2="2253.2" stroke="#4a4a4a" stroke-width="1.6"/>
<rect x="867.4" y="2102.6" width="21.2" height="2.4" fill="#000"/>
<text x="1063.3" y="2294.2" font-size="22.21" font-weight="bold" text-anchor="middle" textLength="53.1" lengthAdjust="spacingAndGlyphs">A375</text>
<rect x="859.8" y="2262.6" width="404.4" height="3.6" fill="#000"/>
<line x1="580.4" y1="2018.6" x2="580.4" y2="2239.0" stroke="#000" stroke-width="2.5"/>
<line x1="573.4" y1="2237.8" x2="793.0" y2="2237.8" stroke="#000" stroke-width="2.5"/>
<line x1="573.4" y1="2019.6" x2="580.4" y2="2019.6" stroke="#000" stroke-width="2.5"/>
<text x="568.6" y="2027.2" font-size="23.00" font-weight="bold" text-anchor="end">15</text>
<line x1="573.4" y1="2092.3" x2="580.4" y2="2092.3" stroke="#000" stroke-width="2.5"/>
<text x="568.6" y="2100.0" font-size="23.00" font-weight="bold" text-anchor="end">10</text>
<line x1="573.4" y1="2165.1" x2="580.4" y2="2165.1" stroke="#000" stroke-width="2.5"/>
<text x="568.6" y="2172.7" font-size="23.00" font-weight="bold" text-anchor="end">5</text>
<line x1="573.4" y1="2237.8" x2="580.4" y2="2237.8" stroke="#000" stroke-width="2.5"/>
<text x="568.6" y="2245.4" font-size="23.00" font-weight="bold" text-anchor="end">0</text>
<rect x="600.5" y="2076.4" width="28.6" height="161.4" fill="#fff" stroke="#000" stroke-width="3.0"/>
<rect x="630.0" y="2074.4" width="38.2" height="163.4" fill="#000"/>
<line x1="615.4" y1="2074.9" x2="615.4" y2="2070.8" stroke="#000" stroke-width="3.0"/>
<line x1="607.2" y1="2070.8" x2="623.6" y2="2070.8" stroke="#000" stroke-width="3.0"/>
<line x1="650.5" y1="2074.4" x2="650.5" y2="2070.8" stroke="#000" stroke-width="3.0"/>
<line x1="642.2" y1="2070.8" x2="658.9" y2="2070.8" stroke="#000" stroke-width="3.0"/>
<rect x="707.0" y="2191.5" width="29.2" height="46.3" fill="#fff" stroke="#000" stroke-width="3.0"/>
<rect x="737.1" y="2146.2" width="37.2" height="91.6" fill="#000"/>
<line x1="721.6" y1="2190.0" x2="721.6" y2="2185.3" stroke="#000" stroke-width="3.0"/>
<line x1="713.3" y1="2185.3" x2="730.0" y2="2185.3" stroke="#000" stroke-width="3.0"/>
<line x1="757.4" y1="2146.2" x2="757.4" y2="2142.0" stroke="#000" stroke-width="3.0"/>
<line x1="749.2" y1="2142.0" x2="765.6" y2="2142.0" stroke="#000" stroke-width="3.0"/>
<path d="M714.4,2144.7 V2136.4 H759.1 V2140.5" stroke="#000" stroke-width="2.5" fill="none"/>
<text x="736.2" y="2132.0" font-size="18.00" text-anchor="middle">**</text>
<line x1="631.9" y1="2237.8" x2="631.9" y2="2244.3" stroke="#000" stroke-width="2.5"/>
<text x="631.9" y="2260.2" font-size="15.00" font-weight="bold" text-anchor="middle" textLength="17.5" lengthAdjust="spacingAndGlyphs">0h</text>
<line x1="738.0" y1="2237.8" x2="738.0" y2="2244.3" stroke="#000" stroke-width="2.5"/>
<text x="738.0" y="2260.2" font-size="15.00" font-weight="bold" text-anchor="middle" textLength="25.8" lengthAdjust="spacingAndGlyphs">48h</text>
<rect x="623.0" y="1983.2" width="18.8" height="8.5" fill="#fff" stroke="#000" stroke-width="2.6"/>
<text x="657.0" y="1993.4" font-size="17.50" font-weight="bold" textLength="25.3" lengthAdjust="spacingAndGlyphs">NC</text>
<rect x="621.7" y="2013.1" width="22.7" height="11.2" fill="#000"/>
<text x="657.0" y="2024.7" font-size="17.50" font-weight="bold" textLength="109.9" lengthAdjust="spacingAndGlyphs">shLINC00518</text>
<text x="708.5" y="2280.6" font-size="17.44" font-weight="bold" text-anchor="middle" textLength="60.1" lengthAdjust="spacingAndGlyphs">WM451</text>
<text x="534.5" y="2124.8" font-size="19.41" text-anchor="middle" textLength="175.9" lengthAdjust="spacingAndGlyphs" transform="rotate(-90 534.5 2124.8)">The width of the gap</text>
<line x1="1343.6" y1="2021.5" x2="1343.6" y2="2243.3" stroke="#000" stroke-width="2.5"/>
<line x1="1336.6" y1="2242.1" x2="1557.4" y2="2242.1" stroke="#000" stroke-width="2.5"/>
<line x1="1336.6" y1="2022.5" x2="1343.6" y2="2022.5" stroke="#000" stroke-width="2.5"/>
<text x="1331.0" y="2030.1" font-size="23.00" font-weight="bold" text-anchor="end">15</text>
<line x1="1336.6" y1="2095.7" x2="1343.6" y2="2095.7" stroke="#000" stroke-width="2.5"/>
<text x="1331.0" y="2103.3" font-size="23.00" font-weight="bold" text-anchor="end">10</text>
<line x1="1336.6" y1="2168.9" x2="1343.6" y2="2168.9" stroke="#000" stroke-width="2.5"/>
<text x="1331.0" y="2176.5" font-size="23.00" font-weight="bold" text-anchor="end">5</text>
<line x1="1336.6" y1="2242.1" x2="1343.6" y2="2242.1" stroke="#000" stroke-width="2.5"/>
<text x="1331.0" y="2249.7" font-size="23.00" font-weight="bold" text-anchor="end">0</text>
<rect x="1363.9" y="2081.3" width="28.1" height="160.8" fill="#fff" stroke="#000" stroke-width="3.0"/>
<rect x="1392.9" y="2078.5" width="39.4" height="163.6" fill="#000"/>
<line x1="1378.6" y1="2079.8" x2="1378.6" y2="2074.6" stroke="#000" stroke-width="3.0"/>
<line x1="1369.8" y1="2074.6" x2="1387.4" y2="2074.6" stroke="#000" stroke-width="3.0"/>
<line x1="1414.2" y1="2078.5" x2="1414.2" y2="2073.3" stroke="#000" stroke-width="3.0"/>
<line x1="1405.5" y1="2073.3" x2="1423.0" y2="2073.3" stroke="#000" stroke-width="3.0"/>
<rect x="1470.8" y="2195.5" width="30.3" height="46.6" fill="#fff" stroke="#000" stroke-width="3.0"/>
<rect x="1502.0" y="2150.0" width="36.4" height="92.1" fill="#000"/>
<line x1="1485.6" y1="2194.0" x2="1485.6" y2="2189.8" stroke="#000" stroke-width="3.0"/>
<line x1="1477.0" y1="2189.8" x2="1494.2" y2="2189.8" stroke="#000" stroke-width="3.0"/>
<line x1="1521.2" y1="2150.0" x2="1521.2" y2="2146.0" stroke="#000" stroke-width="3.0"/>
<line x1="1512.7" y1="2146.0" x2="1529.7" y2="2146.0" stroke="#000" stroke-width="3.0"/>
<path d="M1478,2148.6 V2138.6 H1522.9 V2144.5" stroke="#000" stroke-width="2.5" fill="none"/>
<text x="1499.2" y="2140.3" font-size="18.00" text-anchor="middle">***</text>
<line x1="1396.6" y1="2242.1" x2="1396.6" y2="2248.6" stroke="#000" stroke-width="2.5"/>
<text x="1396.6" y="2263.7" font-size="15.00" font-weight="bold" text-anchor="middle" textLength="17.5" lengthAdjust="spacingAndGlyphs">0h</text>
<line x1="1502.5" y1="2242.1" x2="1502.5" y2="2248.6" stroke="#000" stroke-width="2.5"/>
<text x="1502.5" y="2263.7" font-size="15.00" font-weight="bold" text-anchor="middle" textLength="25.8" lengthAdjust="spacingAndGlyphs">48h</text>
<rect x="1385.9" y="1985.9" width="20.0" height="8.5" fill="#fff" stroke="#000" stroke-width="2.6"/>
<text x="1420.6" y="1996.3" font-size="17.67" font-weight="bold" textLength="25.5" lengthAdjust="spacingAndGlyphs">NC</text>
<rect x="1385.5" y="2016.6" width="22.2" height="10.0" fill="#000"/>
<text x="1420.6" y="2028.0" font-size="17.67" font-weight="bold" textLength="111.0" lengthAdjust="spacingAndGlyphs">shLINC00518</text>
<text x="1452.0" y="2285.9" font-size="17.02" font-weight="bold" text-anchor="middle" textLength="40.7" lengthAdjust="spacingAndGlyphs">A375</text>
<text x="1297.5" y="2127.9" font-size="19.59" text-anchor="middle" textLength="177.5" lengthAdjust="spacingAndGlyphs" transform="rotate(-90 1297.5 2127.9)">The width of the gap</text>
</svg>
</body></html>
